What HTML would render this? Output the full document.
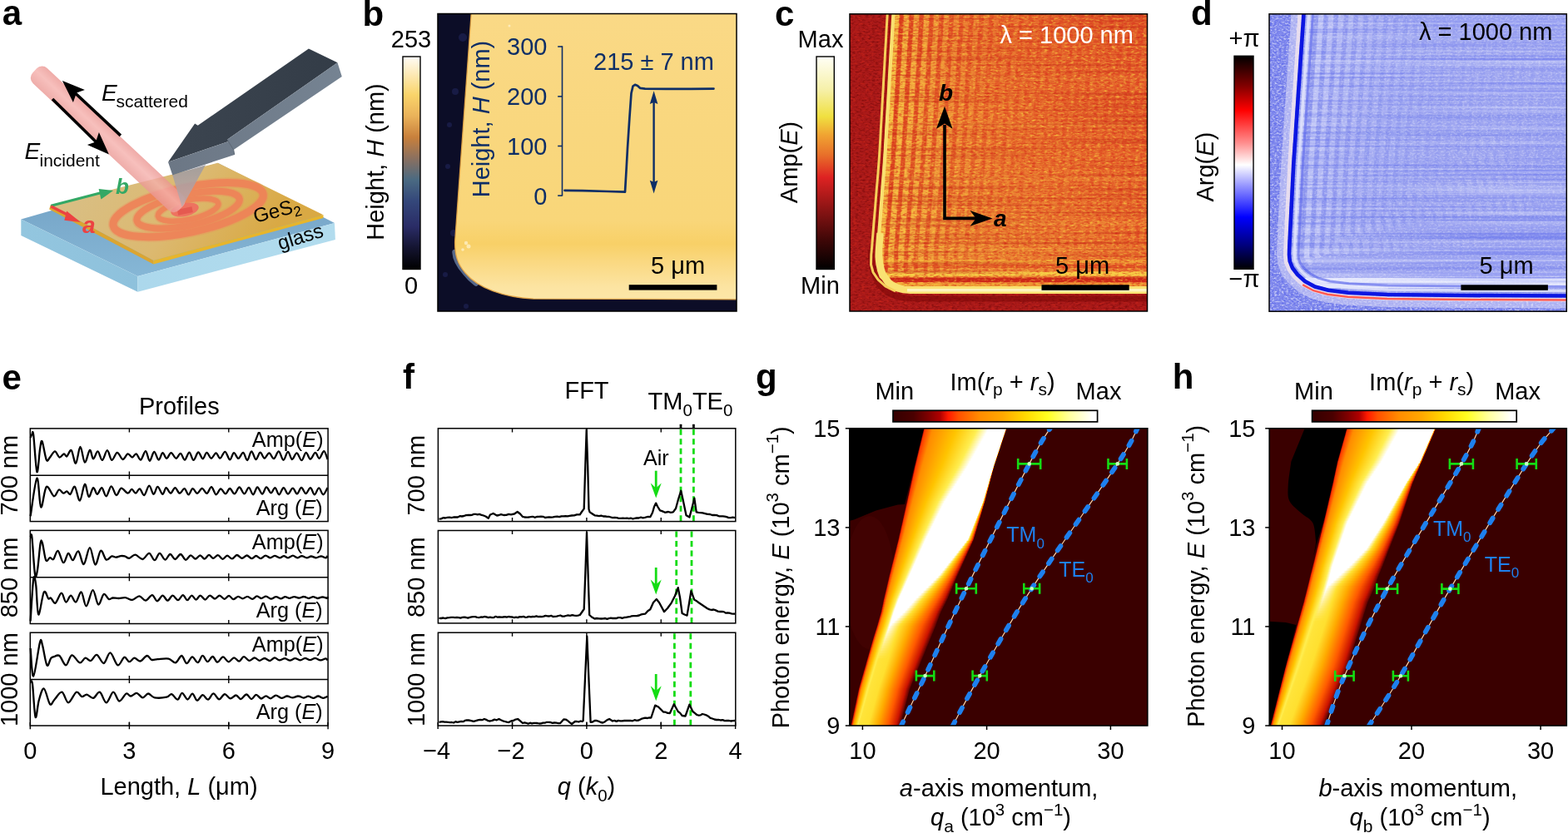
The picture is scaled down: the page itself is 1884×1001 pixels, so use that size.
<!DOCTYPE html>
<html><head><meta charset="utf-8"><title>Figure</title><style>
html,body{margin:0;padding:0;background:#fff;width:1884px;height:1001px;overflow:hidden}
svg{display:block}
text{font-family:"Liberation Sans", Arial, Helvetica, sans-serif}
</style></head><body>
<svg width="1884" height="1001" viewBox="0 0 1884 1001">
<defs>
<linearGradient id="glT" x1="0" y1="0" x2="0" y2="1"><stop offset="0" stop-color="#6e9cc0"/><stop offset="1" stop-color="#86b7d6"/></linearGradient>
<linearGradient id="glL" x1="0" y1="0" x2="1" y2="0"><stop offset="0" stop-color="#93c6df"/><stop offset="1" stop-color="#8ec1dc"/></linearGradient>
<linearGradient id="glR" x1="0" y1="0" x2="1" y2="0"><stop offset="0" stop-color="#acd8ec"/><stop offset="1" stop-color="#b2dcee"/></linearGradient>
<linearGradient id="film" gradientUnits="userSpaceOnUse" x1="120" y1="200" x2="300" y2="320"><stop offset="0" stop-color="#d9be82"/><stop offset="0.5" stop-color="#dcb970"/><stop offset="1" stop-color="#d9a944"/></linearGradient>
<linearGradient id="beam" x1="0" y1="0" x2="0" y2="1"><stop offset="0" stop-color="#eb9692"/><stop offset="0.45" stop-color="#f5b0ac"/><stop offset="1" stop-color="#ea9894"/></linearGradient>
<linearGradient id="cantTop" x1="0" y1="0" x2="1" y2="0"><stop offset="0" stop-color="#3c4550"/><stop offset="1" stop-color="#333c47"/></linearGradient>
<linearGradient id="cantSide" x1="0" y1="0" x2="1" y2="0"><stop offset="0" stop-color="#6c7785"/><stop offset="1" stop-color="#758392"/></linearGradient>
<linearGradient id="tipG" x1="0" y1="0" x2="0" y2="1"><stop offset="0" stop-color="#9a9aa2"/><stop offset="1" stop-color="#c0a8a8"/></linearGradient>
<linearGradient id="cbB" x1="0" y1="1" x2="0" y2="0"><stop offset="0" stop-color="#000000"/><stop offset="0.1" stop-color="#141430"/><stop offset="0.2" stop-color="#2a2c66"/><stop offset="0.32" stop-color="#34477a"/><stop offset="0.42" stop-color="#4a6a82"/><stop offset="0.52" stop-color="#8a7060"/><stop offset="0.62" stop-color="#c8803c"/><stop offset="0.72" stop-color="#eab25a"/><stop offset="0.82" stop-color="#fad46a"/><stop offset="0.92" stop-color="#fdeab8"/><stop offset="1" stop-color="#fffcf6"/></linearGradient>
<linearGradient id="bodyB" gradientUnits="userSpaceOnUse" x1="0" y1="17" x2="0" y2="362"><stop offset="0" stop-color="#fad986"/><stop offset="0.4" stop-color="#f9d77e"/><stop offset="0.72" stop-color="#f9d679"/><stop offset="0.8" stop-color="#f8d067"/><stop offset="0.86" stop-color="#fad880"/><stop offset="0.95" stop-color="#fce4a2"/><stop offset="1" stop-color="#fce7a8"/></linearGradient>
<clipPath id="clipB"><rect x="526" y="16.5" width="359" height="357.5"/></clipPath>
<linearGradient id="cbC" x1="0" y1="1" x2="0" y2="0"><stop offset="0" stop-color="#000000"/><stop offset="0.136" stop-color="#3e0707"/><stop offset="0.284" stop-color="#8c1414"/><stop offset="0.432" stop-color="#de2222"/><stop offset="0.538" stop-color="#e8702a"/><stop offset="0.632" stop-color="#f0a432"/><stop offset="0.718" stop-color="#f0e040"/><stop offset="0.843" stop-color="#f6f0a8"/><stop offset="1" stop-color="#fffff6"/></linearGradient>
<linearGradient id="bodyC" gradientUnits="userSpaceOnUse" x1="1379" y1="17" x2="1060" y2="345"><stop offset="0" stop-color="#e2542a"/><stop offset="0.45" stop-color="#e96c2e"/><stop offset="1" stop-color="#f09a3a"/></linearGradient>
<clipPath id="clipC"><rect x="1021" y="16.8" width="357.5" height="357.2"/></clipPath>
<clipPath id="clipCb"><path d="M1073.5,16.0 L1073.1,22.0 L1072.8,28.0 L1072.4,34.0 L1072.0,40.0 L1071.7,46.0 L1071.3,52.0 L1071.0,58.0 L1070.6,64.0 L1070.3,70.0 L1069.9,76.0 L1069.6,82.0 L1069.2,88.0 L1068.9,94.0 L1068.5,100.0 L1068.2,106.0 L1067.8,112.0 L1067.4,118.0 L1067.1,124.0 L1066.7,130.0 L1066.4,136.0 L1066.0,142.0 L1065.7,148.0 L1065.3,154.0 L1065.0,160.0 L1064.6,166.0 L1064.3,172.0 L1063.9,178.0 L1063.6,184.0 L1063.2,190.0 L1062.7,196.0 L1062.3,202.0 L1061.8,208.0 L1061.4,214.0 L1060.9,220.0 L1060.4,226.0 L1060.0,232.0 L1059.5,238.0 L1059.1,244.0 L1058.6,250.0 L1058.1,256.0 L1057.7,262.0 L1057.2,268.0 L1056.8,274.0 L1056.3,280.0 L1055.8,286.0 L1055.4,292.0 L1054.9,298.0 L1054.9,308.7 L1055.8,316.8 L1057.4,324.2 L1059.7,330.9 L1062.9,336.8 L1067.1,341.7 L1072.2,345.7 L1078.4,348.6 L1085.6,350.4 L1094.0,351.0 L1379.0,351.0 L1379.0,16.0 Z"/></clipPath>
<filter id="nzCy" x="0" y="0" width="100%" height="100%" color-interpolation-filters="sRGB"><feTurbulence type="fractalNoise" baseFrequency="0.22 0.45" numOctaves="2" seed="3" result="t"/><feColorMatrix in="t" type="matrix" values="0 0 0 0 0.97 0 0 0 0 0.8 0 0 0 0 0.25 2.6 0 0 0 -1.25"/></filter>
<filter id="nzCr" x="0" y="0" width="100%" height="100%" color-interpolation-filters="sRGB"><feTurbulence type="fractalNoise" baseFrequency="0.2 0.5" numOctaves="2" seed="11" result="t"/><feColorMatrix in="t" type="matrix" values="0 0 0 0 0.84 0 0 0 0 0.16 0 0 0 0 0.1 2.6 0 0 0 -1.2"/></filter>
<filter id="nzCh" x="0" y="0" width="100%" height="100%" color-interpolation-filters="sRGB"><feTurbulence type="fractalNoise" baseFrequency="0.004 0.35" numOctaves="1" seed="21" result="t"/><feColorMatrix in="t" type="matrix" values="0 0 0 0 0.75 0 0 0 0 0.12 0 0 0 0 0.08 3.0 0 0 0 -1.45"/></filter>
<filter id="nzCd" x="0" y="0" width="100%" height="100%" color-interpolation-filters="sRGB"><feTurbulence type="fractalNoise" baseFrequency="0.25 0.5" numOctaves="2" seed="31" result="t"/><feColorMatrix in="t" type="matrix" values="0 0 0 0 0.45 0 0 0 0 0.03 0 0 0 0 0.03 2.6 0 0 0 -1.2"/></filter>
<linearGradient id="cbD" x1="0" y1="1" x2="0" y2="0"><stop offset="0" stop-color="#000000"/><stop offset="0.115" stop-color="#000080"/><stop offset="0.244" stop-color="#0000ff"/><stop offset="0.386" stop-color="#9090ff"/><stop offset="0.489" stop-color="#ffffff"/><stop offset="0.59" stop-color="#ff9090"/><stop offset="0.745" stop-color="#ff0000"/><stop offset="0.861" stop-color="#800000"/><stop offset="1" stop-color="#000000"/></linearGradient>
<clipPath id="clipD"><rect x="1525" y="16.8" width="357.29999999999995" height="357.4"/></clipPath>
<clipPath id="clipDb"><path d="M1568.6,14.1 L1568.1,22.1 L1567.5,30.1 L1567.0,38.1 L1566.5,46.1 L1565.9,54.1 L1565.4,62.1 L1564.8,70.1 L1564.3,78.1 L1563.8,86.1 L1563.2,94.1 L1562.7,102.1 L1562.1,110.1 L1561.6,118.1 L1561.1,126.1 L1560.5,134.1 L1560.0,142.1 L1559.4,150.1 L1558.9,158.1 L1558.4,166.1 L1557.8,174.1 L1557.3,182.1 L1556.7,190.1 L1556.2,198.1 L1555.8,206.1 L1555.4,214.1 L1555.0,222.1 L1554.6,230.1 L1554.2,238.1 L1553.8,246.1 L1553.4,254.1 L1553.0,262.1 L1552.6,270.1 L1552.2,278.1 L1551.8,286.1 L1551.4,294.1 L1551.0,306.0 L1551.7,313.5 L1554.7,321.0 L1560.5,328.6 L1569.1,336.4 L1580.7,342.6 L1596.4,346.8 L1620.1,349.8 L1667.0,352.0 L1760.0,353.0 L1884.0,353.5 L1884.0,14.0 Z"/></clipPath>
<filter id="nzDw" x="0" y="0" width="100%" height="100%" color-interpolation-filters="sRGB"><feTurbulence type="fractalNoise" baseFrequency="0.35 0.5" numOctaves="2" seed="5" result="t"/><feColorMatrix in="t" type="matrix" values="0 0 0 0 1.0 0 0 0 0 1.0 0 0 0 0 1.0 2.6 0 0 0 -1.15"/></filter>
<filter id="nzDb" x="0" y="0" width="100%" height="100%" color-interpolation-filters="sRGB"><feTurbulence type="fractalNoise" baseFrequency="0.35 0.5" numOctaves="2" seed="17" result="t"/><feColorMatrix in="t" type="matrix" values="0 0 0 0 0.25 0 0 0 0 0.3 0 0 0 0 0.92 2.6 0 0 0 -1.2"/></filter>
<filter id="nzDh" x="0" y="0" width="100%" height="100%" color-interpolation-filters="sRGB"><feTurbulence type="fractalNoise" baseFrequency="0.003 0.4" numOctaves="1" seed="23" result="t"/><feColorMatrix in="t" type="matrix" values="0 0 0 0 0.38 0 0 0 0 0.43 0 0 0 0 0.93 3.0 0 0 0 -1.45"/></filter>
<filter id="nzDh2" x="0" y="0" width="100%" height="100%" color-interpolation-filters="sRGB"><feTurbulence type="fractalNoise" baseFrequency="0.003 0.4" numOctaves="1" seed="29" result="t"/><feColorMatrix in="t" type="matrix" values="0 0 0 0 0.92 0 0 0 0 0.93 0 0 0 0 1.0 3.0 0 0 0 -1.5"/></filter>
<clipPath id="clipg"><rect x="1020.8" y="514.8" width="358.0" height="357.20000000000005"/></clipPath>
<linearGradient id="cbg" x1="0" y1="0" x2="1" y2="0"><stop offset="0" stop-color="#340000"/><stop offset="0.1" stop-color="#4a0000"/><stop offset="0.175" stop-color="#800000"/><stop offset="0.23" stop-color="#b00000"/><stop offset="0.27" stop-color="#ff1a00"/><stop offset="0.32" stop-color="#ff5000"/><stop offset="0.425" stop-color="#ff8c00"/><stop offset="0.535" stop-color="#ffa800"/><stop offset="0.645" stop-color="#ffd800"/><stop offset="0.755" stop-color="#ffff20"/><stop offset="0.865" stop-color="#ffffa0"/><stop offset="0.975" stop-color="#ffffff"/></linearGradient>
<linearGradient id="bdg0" gradientUnits="userSpaceOnUse" x1="1109.9" y1="0" x2="1209.0" y2="0" gradientTransform="translate(0 516.3) skewX(-16.07) translate(0 -516.3)"><stop offset="0.000" stop-color="#a80000"/><stop offset="0.012" stop-color="#ff3a00"/><stop offset="0.106" stop-color="#ff8c00"/><stop offset="0.392" stop-color="#ffc400"/><stop offset="0.643" stop-color="#ffee50"/><stop offset="0.785" stop-color="#ffffff"/><stop offset="0.992" stop-color="#ffffff"/><stop offset="0.994" stop-color="#ffe030"/><stop offset="0.996" stop-color="#ffab00"/><stop offset="0.998" stop-color="#ff5a00"/><stop offset="0.999" stop-color="#cc1400"/><stop offset="1.000" stop-color="#5e0202"/></linearGradient>
<linearGradient id="bdg1" gradientUnits="userSpaceOnUse" x1="1109.2" y1="0" x2="1208.0" y2="0" gradientTransform="translate(0 519.3) skewX(-16.07) translate(0 -519.3)"><stop offset="0.000" stop-color="#a80000"/><stop offset="0.012" stop-color="#ff3a00"/><stop offset="0.105" stop-color="#ff8c00"/><stop offset="0.389" stop-color="#ffc400"/><stop offset="0.637" stop-color="#ffee50"/><stop offset="0.777" stop-color="#ffffff"/><stop offset="0.992" stop-color="#ffffff"/><stop offset="0.994" stop-color="#ffe030"/><stop offset="0.996" stop-color="#ffab00"/><stop offset="0.998" stop-color="#ff5a00"/><stop offset="0.999" stop-color="#cc1400"/><stop offset="1.000" stop-color="#5e0202"/></linearGradient>
<linearGradient id="bdg2" gradientUnits="userSpaceOnUse" x1="1108.5" y1="0" x2="1207.0" y2="0" gradientTransform="translate(0 522.3) skewX(-16.07) translate(0 -522.3)"><stop offset="0.000" stop-color="#a80000"/><stop offset="0.012" stop-color="#ff3a00"/><stop offset="0.105" stop-color="#ff8c00"/><stop offset="0.385" stop-color="#ffc400"/><stop offset="0.631" stop-color="#ffee50"/><stop offset="0.769" stop-color="#ffffff"/><stop offset="0.992" stop-color="#ffffff"/><stop offset="0.994" stop-color="#ffe030"/><stop offset="0.996" stop-color="#ffab00"/><stop offset="0.998" stop-color="#ff5a00"/><stop offset="0.999" stop-color="#cc1400"/><stop offset="1.000" stop-color="#5e0202"/></linearGradient>
<linearGradient id="bdg3" gradientUnits="userSpaceOnUse" x1="1107.7" y1="0" x2="1206.0" y2="0" gradientTransform="translate(0 525.3) skewX(-16.07) translate(0 -525.3)"><stop offset="0.000" stop-color="#a80000"/><stop offset="0.012" stop-color="#ff3a00"/><stop offset="0.104" stop-color="#ff8c00"/><stop offset="0.381" stop-color="#ffc400"/><stop offset="0.625" stop-color="#ffee50"/><stop offset="0.762" stop-color="#ffffff"/><stop offset="0.992" stop-color="#ffffff"/><stop offset="0.994" stop-color="#ffe030"/><stop offset="0.996" stop-color="#ffab00"/><stop offset="0.998" stop-color="#ff5a00"/><stop offset="0.999" stop-color="#cc1400"/><stop offset="1.000" stop-color="#5e0202"/></linearGradient>
<linearGradient id="bdg4" gradientUnits="userSpaceOnUse" x1="1107.0" y1="0" x2="1205.0" y2="0" gradientTransform="translate(0 528.3) skewX(-16.07) translate(0 -528.3)"><stop offset="0.000" stop-color="#a80000"/><stop offset="0.012" stop-color="#ff3a00"/><stop offset="0.103" stop-color="#ff8c00"/><stop offset="0.377" stop-color="#ffc400"/><stop offset="0.618" stop-color="#ffee50"/><stop offset="0.754" stop-color="#ffffff"/><stop offset="0.992" stop-color="#ffffff"/><stop offset="0.994" stop-color="#ffe030"/><stop offset="0.996" stop-color="#ffab00"/><stop offset="0.998" stop-color="#ff5a00"/><stop offset="0.999" stop-color="#cc1400"/><stop offset="1.000" stop-color="#5e0202"/></linearGradient>
<linearGradient id="bdg5" gradientUnits="userSpaceOnUse" x1="1106.3" y1="0" x2="1204.0" y2="0" gradientTransform="translate(0 531.3) skewX(-16.07) translate(0 -531.3)"><stop offset="0.000" stop-color="#a80000"/><stop offset="0.012" stop-color="#ff3a00"/><stop offset="0.102" stop-color="#ff8c00"/><stop offset="0.373" stop-color="#ffc400"/><stop offset="0.612" stop-color="#ffee50"/><stop offset="0.746" stop-color="#ffffff"/><stop offset="0.992" stop-color="#ffffff"/><stop offset="0.994" stop-color="#ffe030"/><stop offset="0.996" stop-color="#ffab00"/><stop offset="0.998" stop-color="#ff5a00"/><stop offset="0.999" stop-color="#cc1400"/><stop offset="1.000" stop-color="#5e0202"/></linearGradient>
<linearGradient id="bdg6" gradientUnits="userSpaceOnUse" x1="1105.6" y1="0" x2="1203.0" y2="0" gradientTransform="translate(0 534.3) skewX(-16.07) translate(0 -534.3)"><stop offset="0.000" stop-color="#a80000"/><stop offset="0.012" stop-color="#ff3a00"/><stop offset="0.101" stop-color="#ff8c00"/><stop offset="0.369" stop-color="#ffc400"/><stop offset="0.605" stop-color="#ffee50"/><stop offset="0.738" stop-color="#ffffff"/><stop offset="0.992" stop-color="#ffffff"/><stop offset="0.994" stop-color="#ffe030"/><stop offset="0.996" stop-color="#ffab00"/><stop offset="0.998" stop-color="#ff5a00"/><stop offset="0.999" stop-color="#cc1400"/><stop offset="1.000" stop-color="#5e0202"/></linearGradient>
<linearGradient id="bdg7" gradientUnits="userSpaceOnUse" x1="1104.8" y1="0" x2="1202.1" y2="0" gradientTransform="translate(0 537.3) skewX(-16.07) translate(0 -537.3)"><stop offset="0.000" stop-color="#a80000"/><stop offset="0.012" stop-color="#ff3a00"/><stop offset="0.100" stop-color="#ff8c00"/><stop offset="0.365" stop-color="#ffc400"/><stop offset="0.599" stop-color="#ffee50"/><stop offset="0.730" stop-color="#ffffff"/><stop offset="0.992" stop-color="#ffffff"/><stop offset="0.994" stop-color="#ffe030"/><stop offset="0.996" stop-color="#ffab00"/><stop offset="0.998" stop-color="#ff5a00"/><stop offset="0.999" stop-color="#cc1400"/><stop offset="1.000" stop-color="#5e0202"/></linearGradient>
<linearGradient id="bdg8" gradientUnits="userSpaceOnUse" x1="1104.1" y1="0" x2="1201.1" y2="0" gradientTransform="translate(0 540.3) skewX(-16.07) translate(0 -540.3)"><stop offset="0.000" stop-color="#a80000"/><stop offset="0.012" stop-color="#ff3a00"/><stop offset="0.099" stop-color="#ff8c00"/><stop offset="0.361" stop-color="#ffc400"/><stop offset="0.592" stop-color="#ffee50"/><stop offset="0.722" stop-color="#ffffff"/><stop offset="0.992" stop-color="#ffffff"/><stop offset="0.994" stop-color="#ffe030"/><stop offset="0.996" stop-color="#ffab00"/><stop offset="0.998" stop-color="#ff5a00"/><stop offset="0.999" stop-color="#cc1400"/><stop offset="1.000" stop-color="#5e0202"/></linearGradient>
<linearGradient id="bdg9" gradientUnits="userSpaceOnUse" x1="1103.4" y1="0" x2="1200.1" y2="0" gradientTransform="translate(0 543.3) skewX(-16.07) translate(0 -543.3)"><stop offset="0.000" stop-color="#a80000"/><stop offset="0.012" stop-color="#ff3a00"/><stop offset="0.098" stop-color="#ff8c00"/><stop offset="0.357" stop-color="#ffc400"/><stop offset="0.586" stop-color="#ffee50"/><stop offset="0.714" stop-color="#ffffff"/><stop offset="0.992" stop-color="#ffffff"/><stop offset="0.994" stop-color="#ffe030"/><stop offset="0.996" stop-color="#ffab00"/><stop offset="0.998" stop-color="#ff5a00"/><stop offset="0.999" stop-color="#cc1400"/><stop offset="1.000" stop-color="#5e0202"/></linearGradient>
<linearGradient id="bdg10" gradientUnits="userSpaceOnUse" x1="1102.6" y1="0" x2="1199.1" y2="0" gradientTransform="translate(0 546.3) skewX(-16.07) translate(0 -546.3)"><stop offset="0.000" stop-color="#a80000"/><stop offset="0.012" stop-color="#ff3a00"/><stop offset="0.097" stop-color="#ff8c00"/><stop offset="0.353" stop-color="#ffc400"/><stop offset="0.579" stop-color="#ffee50"/><stop offset="0.706" stop-color="#ffffff"/><stop offset="0.992" stop-color="#ffffff"/><stop offset="0.994" stop-color="#ffe030"/><stop offset="0.996" stop-color="#ffab00"/><stop offset="0.998" stop-color="#ff5a00"/><stop offset="0.999" stop-color="#cc1400"/><stop offset="1.000" stop-color="#5e0202"/></linearGradient>
<linearGradient id="bdg11" gradientUnits="userSpaceOnUse" x1="1101.9" y1="0" x2="1198.1" y2="0" gradientTransform="translate(0 549.3) skewX(-16.07) translate(0 -549.3)"><stop offset="0.000" stop-color="#a80000"/><stop offset="0.012" stop-color="#ff3a00"/><stop offset="0.096" stop-color="#ff8c00"/><stop offset="0.349" stop-color="#ffc400"/><stop offset="0.573" stop-color="#ffee50"/><stop offset="0.698" stop-color="#ffffff"/><stop offset="0.992" stop-color="#ffffff"/><stop offset="0.994" stop-color="#ffe030"/><stop offset="0.996" stop-color="#ffab00"/><stop offset="0.998" stop-color="#ff5a00"/><stop offset="0.999" stop-color="#cc1400"/><stop offset="1.000" stop-color="#5e0202"/></linearGradient>
<linearGradient id="bdg12" gradientUnits="userSpaceOnUse" x1="1101.2" y1="0" x2="1197.1" y2="0" gradientTransform="translate(0 552.3) skewX(-16.07) translate(0 -552.3)"><stop offset="0.000" stop-color="#a80000"/><stop offset="0.013" stop-color="#ff3a00"/><stop offset="0.095" stop-color="#ff8c00"/><stop offset="0.345" stop-color="#ffc400"/><stop offset="0.566" stop-color="#ffee50"/><stop offset="0.690" stop-color="#ffffff"/><stop offset="0.993" stop-color="#ffffff"/><stop offset="0.994" stop-color="#ffe030"/><stop offset="0.996" stop-color="#ffab00"/><stop offset="0.998" stop-color="#ff5a00"/><stop offset="0.999" stop-color="#cc1400"/><stop offset="1.000" stop-color="#5e0202"/></linearGradient>
<linearGradient id="bdg13" gradientUnits="userSpaceOnUse" x1="1100.4" y1="0" x2="1196.1" y2="0" gradientTransform="translate(0 555.3) skewX(-16.07) translate(0 -555.3)"><stop offset="0.000" stop-color="#a80000"/><stop offset="0.013" stop-color="#ff3a00"/><stop offset="0.094" stop-color="#ff8c00"/><stop offset="0.341" stop-color="#ffc400"/><stop offset="0.559" stop-color="#ffee50"/><stop offset="0.682" stop-color="#ffffff"/><stop offset="0.993" stop-color="#ffffff"/><stop offset="0.994" stop-color="#ffe030"/><stop offset="0.996" stop-color="#ffab00"/><stop offset="0.998" stop-color="#ff5a00"/><stop offset="0.999" stop-color="#cc1400"/><stop offset="1.000" stop-color="#5e0202"/></linearGradient>
<linearGradient id="bdg14" gradientUnits="userSpaceOnUse" x1="1099.7" y1="0" x2="1195.1" y2="0" gradientTransform="translate(0 558.3) skewX(-16.07) translate(0 -558.3)"><stop offset="0.000" stop-color="#a80000"/><stop offset="0.013" stop-color="#ff3a00"/><stop offset="0.093" stop-color="#ff8c00"/><stop offset="0.337" stop-color="#ffc400"/><stop offset="0.553" stop-color="#ffee50"/><stop offset="0.674" stop-color="#ffffff"/><stop offset="0.993" stop-color="#ffffff"/><stop offset="0.994" stop-color="#ffe030"/><stop offset="0.996" stop-color="#ffab00"/><stop offset="0.998" stop-color="#ff5a00"/><stop offset="0.999" stop-color="#cc1400"/><stop offset="1.000" stop-color="#5e0202"/></linearGradient>
<linearGradient id="bdg15" gradientUnits="userSpaceOnUse" x1="1099.0" y1="0" x2="1194.2" y2="0" gradientTransform="translate(0 561.3) skewX(-13.77) translate(0 -561.3)"><stop offset="0.000" stop-color="#a80000"/><stop offset="0.013" stop-color="#ff3a00"/><stop offset="0.092" stop-color="#ff8c00"/><stop offset="0.332" stop-color="#ffc400"/><stop offset="0.544" stop-color="#ffee50"/><stop offset="0.664" stop-color="#ffffff"/><stop offset="0.992" stop-color="#ffffff"/><stop offset="0.994" stop-color="#ffe030"/><stop offset="0.996" stop-color="#ffab00"/><stop offset="0.998" stop-color="#ff5a00"/><stop offset="0.999" stop-color="#cc1400"/><stop offset="1.000" stop-color="#5e0202"/></linearGradient>
<linearGradient id="bdg16" gradientUnits="userSpaceOnUse" x1="1098.3" y1="0" x2="1193.4" y2="0" gradientTransform="translate(0 564.3) skewX(-13.61) translate(0 -564.3)"><stop offset="0.000" stop-color="#a80000"/><stop offset="0.013" stop-color="#ff3a00"/><stop offset="0.091" stop-color="#ff8c00"/><stop offset="0.326" stop-color="#ffc400"/><stop offset="0.534" stop-color="#ffee50"/><stop offset="0.651" stop-color="#ffffff"/><stop offset="0.991" stop-color="#ffffff"/><stop offset="0.993" stop-color="#ffe030"/><stop offset="0.995" stop-color="#ffab00"/><stop offset="0.997" stop-color="#ff5a00"/><stop offset="0.999" stop-color="#cc1400"/><stop offset="1.000" stop-color="#5e0202"/></linearGradient>
<linearGradient id="bdg17" gradientUnits="userSpaceOnUse" x1="1097.7" y1="0" x2="1192.6" y2="0" gradientTransform="translate(0 567.3) skewX(-13.61) translate(0 -567.3)"><stop offset="0.000" stop-color="#a80000"/><stop offset="0.013" stop-color="#ff3a00"/><stop offset="0.089" stop-color="#ff8c00"/><stop offset="0.319" stop-color="#ffc400"/><stop offset="0.524" stop-color="#ffee50"/><stop offset="0.638" stop-color="#ffffff"/><stop offset="0.990" stop-color="#ffffff"/><stop offset="0.992" stop-color="#ffe030"/><stop offset="0.994" stop-color="#ffab00"/><stop offset="0.997" stop-color="#ff5a00"/><stop offset="0.999" stop-color="#cc1400"/><stop offset="1.000" stop-color="#5e0202"/></linearGradient>
<linearGradient id="bdg18" gradientUnits="userSpaceOnUse" x1="1097.0" y1="0" x2="1191.8" y2="0" gradientTransform="translate(0 570.3) skewX(-13.61) translate(0 -570.3)"><stop offset="0.000" stop-color="#a80000"/><stop offset="0.013" stop-color="#ff3a00"/><stop offset="0.088" stop-color="#ff8c00"/><stop offset="0.313" stop-color="#ffc400"/><stop offset="0.513" stop-color="#ffee50"/><stop offset="0.626" stop-color="#ffffff"/><stop offset="0.989" stop-color="#ffffff"/><stop offset="0.991" stop-color="#ffe030"/><stop offset="0.994" stop-color="#ffab00"/><stop offset="0.997" stop-color="#ff5a00"/><stop offset="0.999" stop-color="#cc1400"/><stop offset="1.000" stop-color="#5e0202"/></linearGradient>
<linearGradient id="bdg19" gradientUnits="userSpaceOnUse" x1="1096.3" y1="0" x2="1191.0" y2="0" gradientTransform="translate(0 573.3) skewX(-13.61) translate(0 -573.3)"><stop offset="0.000" stop-color="#a80000"/><stop offset="0.013" stop-color="#ff3a00"/><stop offset="0.086" stop-color="#ff8c00"/><stop offset="0.307" stop-color="#ffc400"/><stop offset="0.503" stop-color="#ffee50"/><stop offset="0.613" stop-color="#ffffff"/><stop offset="0.987" stop-color="#ffffff"/><stop offset="0.990" stop-color="#ffe030"/><stop offset="0.993" stop-color="#ffab00"/><stop offset="0.996" stop-color="#ff5a00"/><stop offset="0.999" stop-color="#cc1400"/><stop offset="1.000" stop-color="#5e0202"/></linearGradient>
<linearGradient id="bdg20" gradientUnits="userSpaceOnUse" x1="1095.7" y1="0" x2="1190.2" y2="0" gradientTransform="translate(0 576.3) skewX(-13.61) translate(0 -576.3)"><stop offset="0.000" stop-color="#a80000"/><stop offset="0.013" stop-color="#ff3a00"/><stop offset="0.085" stop-color="#ff8c00"/><stop offset="0.300" stop-color="#ffc400"/><stop offset="0.492" stop-color="#ffee50"/><stop offset="0.600" stop-color="#ffffff"/><stop offset="0.986" stop-color="#ffffff"/><stop offset="0.989" stop-color="#ffe030"/><stop offset="0.992" stop-color="#ffab00"/><stop offset="0.996" stop-color="#ff5a00"/><stop offset="0.999" stop-color="#cc1400"/><stop offset="1.000" stop-color="#5e0202"/></linearGradient>
<linearGradient id="bdg21" gradientUnits="userSpaceOnUse" x1="1095.0" y1="0" x2="1189.5" y2="0" gradientTransform="translate(0 579.3) skewX(-13.61) translate(0 -579.3)"><stop offset="0.000" stop-color="#a80000"/><stop offset="0.013" stop-color="#ff3a00"/><stop offset="0.083" stop-color="#ff8c00"/><stop offset="0.294" stop-color="#ffc400"/><stop offset="0.482" stop-color="#ffee50"/><stop offset="0.588" stop-color="#ffffff"/><stop offset="0.985" stop-color="#ffffff"/><stop offset="0.988" stop-color="#ffe030"/><stop offset="0.992" stop-color="#ffab00"/><stop offset="0.996" stop-color="#ff5a00"/><stop offset="0.999" stop-color="#cc1400"/><stop offset="1.000" stop-color="#5e0202"/></linearGradient>
<linearGradient id="bdg22" gradientUnits="userSpaceOnUse" x1="1094.3" y1="0" x2="1188.7" y2="0" gradientTransform="translate(0 582.3) skewX(-13.61) translate(0 -582.3)"><stop offset="0.000" stop-color="#a80000"/><stop offset="0.013" stop-color="#ff3a00"/><stop offset="0.082" stop-color="#ff8c00"/><stop offset="0.287" stop-color="#ffc400"/><stop offset="0.471" stop-color="#ffee50"/><stop offset="0.575" stop-color="#ffffff"/><stop offset="0.984" stop-color="#ffffff"/><stop offset="0.988" stop-color="#ffe030"/><stop offset="0.991" stop-color="#ffab00"/><stop offset="0.995" stop-color="#ff5a00"/><stop offset="0.998" stop-color="#cc1400"/><stop offset="1.000" stop-color="#5e0202"/></linearGradient>
<linearGradient id="bdg23" gradientUnits="userSpaceOnUse" x1="1093.7" y1="0" x2="1187.9" y2="0" gradientTransform="translate(0 585.3) skewX(-13.61) translate(0 -585.3)"><stop offset="0.000" stop-color="#a80000"/><stop offset="0.013" stop-color="#ff3a00"/><stop offset="0.080" stop-color="#ff8c00"/><stop offset="0.281" stop-color="#ffc400"/><stop offset="0.461" stop-color="#ffee50"/><stop offset="0.562" stop-color="#ffffff"/><stop offset="0.983" stop-color="#ffffff"/><stop offset="0.987" stop-color="#ffe030"/><stop offset="0.991" stop-color="#ffab00"/><stop offset="0.995" stop-color="#ff5a00"/><stop offset="0.998" stop-color="#cc1400"/><stop offset="1.000" stop-color="#5e0202"/></linearGradient>
<linearGradient id="bdg24" gradientUnits="userSpaceOnUse" x1="1093.0" y1="0" x2="1187.1" y2="0" gradientTransform="translate(0 588.3) skewX(-13.61) translate(0 -588.3)"><stop offset="0.000" stop-color="#a80000"/><stop offset="0.013" stop-color="#ff3a00"/><stop offset="0.079" stop-color="#ff8c00"/><stop offset="0.275" stop-color="#ffc400"/><stop offset="0.450" stop-color="#ffee50"/><stop offset="0.549" stop-color="#ffffff"/><stop offset="0.982" stop-color="#ffffff"/><stop offset="0.986" stop-color="#ffe030"/><stop offset="0.990" stop-color="#ffab00"/><stop offset="0.994" stop-color="#ff5a00"/><stop offset="0.998" stop-color="#cc1400"/><stop offset="1.000" stop-color="#5e0202"/></linearGradient>
<linearGradient id="bdg25" gradientUnits="userSpaceOnUse" x1="1092.3" y1="0" x2="1186.3" y2="0" gradientTransform="translate(0 591.3) skewX(-13.61) translate(0 -591.3)"><stop offset="0.000" stop-color="#a80000"/><stop offset="0.013" stop-color="#ff3a00"/><stop offset="0.077" stop-color="#ff8c00"/><stop offset="0.268" stop-color="#ffc400"/><stop offset="0.440" stop-color="#ffee50"/><stop offset="0.536" stop-color="#ffffff"/><stop offset="0.980" stop-color="#ffffff"/><stop offset="0.985" stop-color="#ffe030"/><stop offset="0.989" stop-color="#ffab00"/><stop offset="0.994" stop-color="#ff5a00"/><stop offset="0.998" stop-color="#cc1400"/><stop offset="1.000" stop-color="#5e0202"/></linearGradient>
<linearGradient id="bdg26" gradientUnits="userSpaceOnUse" x1="1091.7" y1="0" x2="1185.5" y2="0" gradientTransform="translate(0 594.3) skewX(-13.61) translate(0 -594.3)"><stop offset="0.000" stop-color="#a80000"/><stop offset="0.013" stop-color="#ff3a00"/><stop offset="0.076" stop-color="#ff8c00"/><stop offset="0.262" stop-color="#ffc400"/><stop offset="0.429" stop-color="#ffee50"/><stop offset="0.523" stop-color="#ffffff"/><stop offset="0.979" stop-color="#ffffff"/><stop offset="0.984" stop-color="#ffe030"/><stop offset="0.989" stop-color="#ffab00"/><stop offset="0.994" stop-color="#ff5a00"/><stop offset="0.998" stop-color="#cc1400"/><stop offset="1.000" stop-color="#5e0202"/></linearGradient>
<linearGradient id="bdg27" gradientUnits="userSpaceOnUse" x1="1091.0" y1="0" x2="1184.8" y2="0" gradientTransform="translate(0 597.3) skewX(-13.61) translate(0 -597.3)"><stop offset="0.000" stop-color="#a80000"/><stop offset="0.013" stop-color="#ff3a00"/><stop offset="0.074" stop-color="#ff8c00"/><stop offset="0.255" stop-color="#ffc400"/><stop offset="0.418" stop-color="#ffee50"/><stop offset="0.510" stop-color="#ffffff"/><stop offset="0.978" stop-color="#ffffff"/><stop offset="0.983" stop-color="#ffe030"/><stop offset="0.988" stop-color="#ffab00"/><stop offset="0.993" stop-color="#ff5a00"/><stop offset="0.998" stop-color="#cc1400"/><stop offset="1.000" stop-color="#5e0202"/></linearGradient>
<linearGradient id="bdg28" gradientUnits="userSpaceOnUse" x1="1090.3" y1="0" x2="1184.0" y2="0" gradientTransform="translate(0 600.3) skewX(-13.61) translate(0 -600.3)"><stop offset="0.000" stop-color="#a80000"/><stop offset="0.013" stop-color="#ff3a00"/><stop offset="0.072" stop-color="#ff8c00"/><stop offset="0.249" stop-color="#ffc400"/><stop offset="0.408" stop-color="#ffee50"/><stop offset="0.497" stop-color="#ffffff"/><stop offset="0.977" stop-color="#ffffff"/><stop offset="0.982" stop-color="#ffe030"/><stop offset="0.987" stop-color="#ffab00"/><stop offset="0.993" stop-color="#ff5a00"/><stop offset="0.998" stop-color="#cc1400"/><stop offset="1.000" stop-color="#5e0202"/></linearGradient>
<linearGradient id="bdg29" gradientUnits="userSpaceOnUse" x1="1089.7" y1="0" x2="1183.2" y2="0" gradientTransform="translate(0 603.3) skewX(-13.87) translate(0 -603.3)"><stop offset="0.000" stop-color="#a80000"/><stop offset="0.013" stop-color="#ff3a00"/><stop offset="0.071" stop-color="#ff8c00"/><stop offset="0.242" stop-color="#ffc400"/><stop offset="0.397" stop-color="#ffee50"/><stop offset="0.484" stop-color="#ffffff"/><stop offset="0.976" stop-color="#ffffff"/><stop offset="0.981" stop-color="#ffe030"/><stop offset="0.987" stop-color="#ffab00"/><stop offset="0.993" stop-color="#ff5a00"/><stop offset="0.998" stop-color="#cc1400"/><stop offset="1.000" stop-color="#5e0202"/></linearGradient>
<linearGradient id="bdg30" gradientUnits="userSpaceOnUse" x1="1089.0" y1="0" x2="1182.3" y2="0" gradientTransform="translate(0 606.3) skewX(-14.59) translate(0 -606.3)"><stop offset="0.000" stop-color="#a80000"/><stop offset="0.013" stop-color="#ff3a00"/><stop offset="0.070" stop-color="#ff8c00"/><stop offset="0.238" stop-color="#ffc400"/><stop offset="0.390" stop-color="#ffee50"/><stop offset="0.475" stop-color="#ffffff"/><stop offset="0.973" stop-color="#ffffff"/><stop offset="0.979" stop-color="#ffe030"/><stop offset="0.985" stop-color="#ffab00"/><stop offset="0.992" stop-color="#ff5a00"/><stop offset="0.997" stop-color="#cc1400"/><stop offset="1.000" stop-color="#5e0202"/></linearGradient>
<linearGradient id="bdg31" gradientUnits="userSpaceOnUse" x1="1088.3" y1="0" x2="1181.4" y2="0" gradientTransform="translate(0 609.3) skewX(-14.59) translate(0 -609.3)"><stop offset="0.000" stop-color="#a80000"/><stop offset="0.013" stop-color="#ff3a00"/><stop offset="0.069" stop-color="#ff8c00"/><stop offset="0.234" stop-color="#ffc400"/><stop offset="0.383" stop-color="#ffee50"/><stop offset="0.468" stop-color="#ffffff"/><stop offset="0.969" stop-color="#ffffff"/><stop offset="0.976" stop-color="#ffe030"/><stop offset="0.983" stop-color="#ffab00"/><stop offset="0.991" stop-color="#ff5a00"/><stop offset="0.997" stop-color="#cc1400"/><stop offset="1.000" stop-color="#5e0202"/></linearGradient>
<linearGradient id="bdg32" gradientUnits="userSpaceOnUse" x1="1087.6" y1="0" x2="1180.5" y2="0" gradientTransform="translate(0 612.3) skewX(-14.59) translate(0 -612.3)"><stop offset="0.000" stop-color="#a80000"/><stop offset="0.013" stop-color="#ff3a00"/><stop offset="0.068" stop-color="#ff8c00"/><stop offset="0.230" stop-color="#ffc400"/><stop offset="0.377" stop-color="#ffee50"/><stop offset="0.460" stop-color="#ffffff"/><stop offset="0.966" stop-color="#ffffff"/><stop offset="0.973" stop-color="#ffe030"/><stop offset="0.981" stop-color="#ffab00"/><stop offset="0.990" stop-color="#ff5a00"/><stop offset="0.997" stop-color="#cc1400"/><stop offset="1.000" stop-color="#5e0202"/></linearGradient>
<linearGradient id="bdg33" gradientUnits="userSpaceOnUse" x1="1087.0" y1="0" x2="1179.7" y2="0" gradientTransform="translate(0 615.3) skewX(-14.59) translate(0 -615.3)"><stop offset="0.000" stop-color="#a80000"/><stop offset="0.013" stop-color="#ff3a00"/><stop offset="0.067" stop-color="#ff8c00"/><stop offset="0.226" stop-color="#ffc400"/><stop offset="0.371" stop-color="#ffee50"/><stop offset="0.452" stop-color="#ffffff"/><stop offset="0.962" stop-color="#ffffff"/><stop offset="0.970" stop-color="#ffe030"/><stop offset="0.979" stop-color="#ffab00"/><stop offset="0.989" stop-color="#ff5a00"/><stop offset="0.996" stop-color="#cc1400"/><stop offset="1.000" stop-color="#5e0202"/></linearGradient>
<linearGradient id="bdg34" gradientUnits="userSpaceOnUse" x1="1086.3" y1="0" x2="1178.8" y2="0" gradientTransform="translate(0 618.3) skewX(-14.59) translate(0 -618.3)"><stop offset="0.000" stop-color="#a80000"/><stop offset="0.013" stop-color="#ff3a00"/><stop offset="0.066" stop-color="#ff8c00"/><stop offset="0.222" stop-color="#ffc400"/><stop offset="0.364" stop-color="#ffee50"/><stop offset="0.444" stop-color="#ffffff"/><stop offset="0.959" stop-color="#ffffff"/><stop offset="0.968" stop-color="#ffe030"/><stop offset="0.977" stop-color="#ffab00"/><stop offset="0.988" stop-color="#ff5a00"/><stop offset="0.996" stop-color="#cc1400"/><stop offset="1.000" stop-color="#5e0202"/></linearGradient>
<linearGradient id="bdg35" gradientUnits="userSpaceOnUse" x1="1085.6" y1="0" x2="1177.9" y2="0" gradientTransform="translate(0 621.3) skewX(-14.59) translate(0 -621.3)"><stop offset="0.000" stop-color="#a80000"/><stop offset="0.013" stop-color="#ff3a00"/><stop offset="0.065" stop-color="#ff8c00"/><stop offset="0.218" stop-color="#ffc400"/><stop offset="0.358" stop-color="#ffee50"/><stop offset="0.436" stop-color="#ffffff"/><stop offset="0.955" stop-color="#ffffff"/><stop offset="0.965" stop-color="#ffe030"/><stop offset="0.975" stop-color="#ffab00"/><stop offset="0.987" stop-color="#ff5a00"/><stop offset="0.996" stop-color="#cc1400"/><stop offset="1.000" stop-color="#5e0202"/></linearGradient>
<linearGradient id="bdg36" gradientUnits="userSpaceOnUse" x1="1084.9" y1="0" x2="1177.0" y2="0" gradientTransform="translate(0 624.3) skewX(-14.59) translate(0 -624.3)"><stop offset="0.000" stop-color="#a80000"/><stop offset="0.013" stop-color="#ff3a00"/><stop offset="0.064" stop-color="#ff8c00"/><stop offset="0.214" stop-color="#ffc400"/><stop offset="0.351" stop-color="#ffee50"/><stop offset="0.428" stop-color="#ffffff"/><stop offset="0.951" stop-color="#ffffff"/><stop offset="0.962" stop-color="#ffe030"/><stop offset="0.973" stop-color="#ffab00"/><stop offset="0.985" stop-color="#ff5a00"/><stop offset="0.995" stop-color="#cc1400"/><stop offset="1.000" stop-color="#5e0202"/></linearGradient>
<linearGradient id="bdg37" gradientUnits="userSpaceOnUse" x1="1084.3" y1="0" x2="1176.1" y2="0" gradientTransform="translate(0 627.3) skewX(-14.59) translate(0 -627.3)"><stop offset="0.000" stop-color="#a80000"/><stop offset="0.013" stop-color="#ff3a00"/><stop offset="0.063" stop-color="#ff8c00"/><stop offset="0.210" stop-color="#ffc400"/><stop offset="0.345" stop-color="#ffee50"/><stop offset="0.420" stop-color="#ffffff"/><stop offset="0.948" stop-color="#ffffff"/><stop offset="0.959" stop-color="#ffe030"/><stop offset="0.971" stop-color="#ffab00"/><stop offset="0.984" stop-color="#ff5a00"/><stop offset="0.995" stop-color="#cc1400"/><stop offset="1.000" stop-color="#5e0202"/></linearGradient>
<linearGradient id="bdg38" gradientUnits="userSpaceOnUse" x1="1083.6" y1="0" x2="1175.2" y2="0" gradientTransform="translate(0 630.3) skewX(-14.59) translate(0 -630.3)"><stop offset="0.000" stop-color="#a80000"/><stop offset="0.013" stop-color="#ff3a00"/><stop offset="0.063" stop-color="#ff8c00"/><stop offset="0.206" stop-color="#ffc400"/><stop offset="0.338" stop-color="#ffee50"/><stop offset="0.412" stop-color="#ffffff"/><stop offset="0.944" stop-color="#ffffff"/><stop offset="0.957" stop-color="#ffe030"/><stop offset="0.969" stop-color="#ffab00"/><stop offset="0.983" stop-color="#ff5a00"/><stop offset="0.994" stop-color="#cc1400"/><stop offset="1.000" stop-color="#5e0202"/></linearGradient>
<linearGradient id="bdg39" gradientUnits="userSpaceOnUse" x1="1082.9" y1="0" x2="1174.3" y2="0" gradientTransform="translate(0 633.3) skewX(-14.59) translate(0 -633.3)"><stop offset="0.000" stop-color="#a80000"/><stop offset="0.013" stop-color="#ff3a00"/><stop offset="0.062" stop-color="#ff8c00"/><stop offset="0.202" stop-color="#ffc400"/><stop offset="0.331" stop-color="#ffee50"/><stop offset="0.404" stop-color="#ffffff"/><stop offset="0.941" stop-color="#ffffff"/><stop offset="0.954" stop-color="#ffe030"/><stop offset="0.967" stop-color="#ffab00"/><stop offset="0.982" stop-color="#ff5a00"/><stop offset="0.994" stop-color="#cc1400"/><stop offset="1.000" stop-color="#5e0202"/></linearGradient>
<linearGradient id="bdg40" gradientUnits="userSpaceOnUse" x1="1082.2" y1="0" x2="1173.5" y2="0" gradientTransform="translate(0 636.3) skewX(-14.59) translate(0 -636.3)"><stop offset="0.000" stop-color="#a80000"/><stop offset="0.013" stop-color="#ff3a00"/><stop offset="0.061" stop-color="#ff8c00"/><stop offset="0.198" stop-color="#ffc400"/><stop offset="0.325" stop-color="#ffee50"/><stop offset="0.396" stop-color="#ffffff"/><stop offset="0.937" stop-color="#ffffff"/><stop offset="0.951" stop-color="#ffe030"/><stop offset="0.965" stop-color="#ffab00"/><stop offset="0.981" stop-color="#ff5a00"/><stop offset="0.994" stop-color="#cc1400"/><stop offset="1.000" stop-color="#5e0202"/></linearGradient>
<linearGradient id="bdg41" gradientUnits="userSpaceOnUse" x1="1081.6" y1="0" x2="1172.6" y2="0" gradientTransform="translate(0 639.3) skewX(-14.59) translate(0 -639.3)"><stop offset="0.000" stop-color="#a80000"/><stop offset="0.013" stop-color="#ff3a00"/><stop offset="0.060" stop-color="#ff8c00"/><stop offset="0.194" stop-color="#ffc400"/><stop offset="0.318" stop-color="#ffee50"/><stop offset="0.388" stop-color="#ffffff"/><stop offset="0.933" stop-color="#ffffff"/><stop offset="0.948" stop-color="#ffe030"/><stop offset="0.963" stop-color="#ffab00"/><stop offset="0.980" stop-color="#ff5a00"/><stop offset="0.993" stop-color="#cc1400"/><stop offset="1.000" stop-color="#5e0202"/></linearGradient>
<linearGradient id="bdg42" gradientUnits="userSpaceOnUse" x1="1080.9" y1="0" x2="1171.7" y2="0" gradientTransform="translate(0 642.3) skewX(-14.59) translate(0 -642.3)"><stop offset="0.000" stop-color="#a80000"/><stop offset="0.013" stop-color="#ff3a00"/><stop offset="0.059" stop-color="#ff8c00"/><stop offset="0.190" stop-color="#ffc400"/><stop offset="0.311" stop-color="#ffee50"/><stop offset="0.380" stop-color="#ffffff"/><stop offset="0.930" stop-color="#ffffff"/><stop offset="0.945" stop-color="#ffe030"/><stop offset="0.961" stop-color="#ffab00"/><stop offset="0.979" stop-color="#ff5a00"/><stop offset="0.993" stop-color="#cc1400"/><stop offset="1.000" stop-color="#5e0202"/></linearGradient>
<linearGradient id="bdg43" gradientUnits="userSpaceOnUse" x1="1080.2" y1="0" x2="1170.8" y2="0" gradientTransform="translate(0 645.3) skewX(-14.59) translate(0 -645.3)"><stop offset="0.000" stop-color="#a80000"/><stop offset="0.013" stop-color="#ff3a00"/><stop offset="0.058" stop-color="#ff8c00"/><stop offset="0.186" stop-color="#ffc400"/><stop offset="0.305" stop-color="#ffee50"/><stop offset="0.371" stop-color="#ffffff"/><stop offset="0.926" stop-color="#ffffff"/><stop offset="0.942" stop-color="#ffe030"/><stop offset="0.959" stop-color="#ffab00"/><stop offset="0.978" stop-color="#ff5a00"/><stop offset="0.993" stop-color="#cc1400"/><stop offset="1.000" stop-color="#5e0202"/></linearGradient>
<linearGradient id="bdg44" gradientUnits="userSpaceOnUse" x1="1079.5" y1="0" x2="1169.9" y2="0" gradientTransform="translate(0 648.3) skewX(-17.51) translate(0 -648.3)"><stop offset="0.000" stop-color="#a80000"/><stop offset="0.013" stop-color="#ff3a00"/><stop offset="0.057" stop-color="#ff8c00"/><stop offset="0.182" stop-color="#ffc400"/><stop offset="0.298" stop-color="#ffee50"/><stop offset="0.364" stop-color="#ffffff"/><stop offset="0.921" stop-color="#ffffff"/><stop offset="0.939" stop-color="#ffe030"/><stop offset="0.957" stop-color="#ffab00"/><stop offset="0.976" stop-color="#ff5a00"/><stop offset="0.992" stop-color="#cc1400"/><stop offset="1.000" stop-color="#5e0202"/></linearGradient>
<linearGradient id="bdg45" gradientUnits="userSpaceOnUse" x1="1078.8" y1="0" x2="1168.5" y2="0" gradientTransform="translate(0 651.3) skewX(-19.41) translate(0 -651.3)"><stop offset="0.000" stop-color="#a80000"/><stop offset="0.013" stop-color="#ff3a00"/><stop offset="0.056" stop-color="#ff8c00"/><stop offset="0.180" stop-color="#ffc400"/><stop offset="0.295" stop-color="#ffee50"/><stop offset="0.359" stop-color="#ffffff"/><stop offset="0.909" stop-color="#ffffff"/><stop offset="0.929" stop-color="#ffe030"/><stop offset="0.950" stop-color="#ffab00"/><stop offset="0.973" stop-color="#ff5a00"/><stop offset="0.991" stop-color="#cc1400"/><stop offset="1.000" stop-color="#5e0202"/></linearGradient>
<linearGradient id="bdg46" gradientUnits="userSpaceOnUse" x1="1078.0" y1="0" x2="1167.1" y2="0" gradientTransform="translate(0 654.3) skewX(-19.41) translate(0 -654.3)"><stop offset="0.000" stop-color="#a80000"/><stop offset="0.013" stop-color="#ff3a00"/><stop offset="0.056" stop-color="#ff8c00"/><stop offset="0.178" stop-color="#ffc400"/><stop offset="0.291" stop-color="#ffee50"/><stop offset="0.355" stop-color="#ffffff"/><stop offset="0.897" stop-color="#ffffff"/><stop offset="0.920" stop-color="#ffe030"/><stop offset="0.943" stop-color="#ffab00"/><stop offset="0.969" stop-color="#ff5a00"/><stop offset="0.990" stop-color="#cc1400"/><stop offset="1.000" stop-color="#5e0202"/></linearGradient>
<linearGradient id="bdg47" gradientUnits="userSpaceOnUse" x1="1077.3" y1="0" x2="1165.8" y2="0" gradientTransform="translate(0 657.3) skewX(-19.41) translate(0 -657.3)"><stop offset="0.000" stop-color="#a80000"/><stop offset="0.014" stop-color="#ff3a00"/><stop offset="0.056" stop-color="#ff8c00"/><stop offset="0.175" stop-color="#ffc400"/><stop offset="0.288" stop-color="#ffee50"/><stop offset="0.351" stop-color="#ffffff"/><stop offset="0.885" stop-color="#ffffff"/><stop offset="0.910" stop-color="#ffe030"/><stop offset="0.937" stop-color="#ffab00"/><stop offset="0.965" stop-color="#ff5a00"/><stop offset="0.988" stop-color="#cc1400"/><stop offset="1.000" stop-color="#5e0202"/></linearGradient>
<linearGradient id="bdg48" gradientUnits="userSpaceOnUse" x1="1076.5" y1="0" x2="1164.4" y2="0" gradientTransform="translate(0 660.3) skewX(-19.41) translate(0 -660.3)"><stop offset="0.000" stop-color="#a80000"/><stop offset="0.014" stop-color="#ff3a00"/><stop offset="0.055" stop-color="#ff8c00"/><stop offset="0.173" stop-color="#ffc400"/><stop offset="0.284" stop-color="#ffee50"/><stop offset="0.346" stop-color="#ffffff"/><stop offset="0.872" stop-color="#ffffff"/><stop offset="0.900" stop-color="#ffe030"/><stop offset="0.930" stop-color="#ffab00"/><stop offset="0.962" stop-color="#ff5a00"/><stop offset="0.987" stop-color="#cc1400"/><stop offset="1.000" stop-color="#5e0202"/></linearGradient>
<linearGradient id="bdg49" gradientUnits="userSpaceOnUse" x1="1075.8" y1="0" x2="1163.0" y2="0" gradientTransform="translate(0 663.3) skewX(-19.41) translate(0 -663.3)"><stop offset="0.000" stop-color="#a80000"/><stop offset="0.014" stop-color="#ff3a00"/><stop offset="0.055" stop-color="#ff8c00"/><stop offset="0.171" stop-color="#ffc400"/><stop offset="0.280" stop-color="#ffee50"/><stop offset="0.342" stop-color="#ffffff"/><stop offset="0.860" stop-color="#ffffff"/><stop offset="0.891" stop-color="#ffe030"/><stop offset="0.923" stop-color="#ffab00"/><stop offset="0.958" stop-color="#ff5a00"/><stop offset="0.986" stop-color="#cc1400"/><stop offset="1.000" stop-color="#5e0202"/></linearGradient>
<linearGradient id="bdg50" gradientUnits="userSpaceOnUse" x1="1075.0" y1="0" x2="1161.7" y2="0" gradientTransform="translate(0 666.3) skewX(-19.41) translate(0 -666.3)"><stop offset="0.000" stop-color="#a80000"/><stop offset="0.014" stop-color="#ff3a00"/><stop offset="0.054" stop-color="#ff8c00"/><stop offset="0.169" stop-color="#ffc400"/><stop offset="0.277" stop-color="#ffee50"/><stop offset="0.337" stop-color="#ffffff"/><stop offset="0.847" stop-color="#ffffff"/><stop offset="0.880" stop-color="#ffe030"/><stop offset="0.916" stop-color="#ffab00"/><stop offset="0.954" stop-color="#ff5a00"/><stop offset="0.985" stop-color="#cc1400"/><stop offset="1.000" stop-color="#5e0202"/></linearGradient>
<linearGradient id="bdg51" gradientUnits="userSpaceOnUse" x1="1074.3" y1="0" x2="1160.3" y2="0" gradientTransform="translate(0 669.3) skewX(-19.41) translate(0 -669.3)"><stop offset="0.000" stop-color="#a80000"/><stop offset="0.014" stop-color="#ff3a00"/><stop offset="0.054" stop-color="#ff8c00"/><stop offset="0.166" stop-color="#ffc400"/><stop offset="0.273" stop-color="#ffee50"/><stop offset="0.333" stop-color="#ffffff"/><stop offset="0.834" stop-color="#ffffff"/><stop offset="0.870" stop-color="#ffe030"/><stop offset="0.909" stop-color="#ffab00"/><stop offset="0.950" stop-color="#ff5a00"/><stop offset="0.983" stop-color="#cc1400"/><stop offset="1.000" stop-color="#5e0202"/></linearGradient>
<linearGradient id="bdg52" gradientUnits="userSpaceOnUse" x1="1073.5" y1="0" x2="1159.0" y2="0" gradientTransform="translate(0 672.3) skewX(-19.41) translate(0 -672.3)"><stop offset="0.000" stop-color="#a80000"/><stop offset="0.014" stop-color="#ff3a00"/><stop offset="0.053" stop-color="#ff8c00"/><stop offset="0.164" stop-color="#ffc400"/><stop offset="0.269" stop-color="#ffee50"/><stop offset="0.328" stop-color="#ffffff"/><stop offset="0.820" stop-color="#ffffff"/><stop offset="0.860" stop-color="#ffe030"/><stop offset="0.901" stop-color="#ffab00"/><stop offset="0.946" stop-color="#ff5a00"/><stop offset="0.982" stop-color="#cc1400"/><stop offset="1.000" stop-color="#5e0202"/></linearGradient>
<linearGradient id="bdg53" gradientUnits="userSpaceOnUse" x1="1072.8" y1="0" x2="1157.6" y2="0" gradientTransform="translate(0 675.3) skewX(-19.41) translate(0 -675.3)"><stop offset="0.000" stop-color="#a80000"/><stop offset="0.014" stop-color="#ff3a00"/><stop offset="0.053" stop-color="#ff8c00"/><stop offset="0.162" stop-color="#ffc400"/><stop offset="0.265" stop-color="#ffee50"/><stop offset="0.324" stop-color="#ffffff"/><stop offset="0.807" stop-color="#ffffff"/><stop offset="0.849" stop-color="#ffe030"/><stop offset="0.894" stop-color="#ffab00"/><stop offset="0.942" stop-color="#ff5a00"/><stop offset="0.981" stop-color="#cc1400"/><stop offset="1.000" stop-color="#5e0202"/></linearGradient>
<linearGradient id="bdg54" gradientUnits="userSpaceOnUse" x1="1072.0" y1="0" x2="1156.2" y2="0" gradientTransform="translate(0 678.3) skewX(-19.41) translate(0 -678.3)"><stop offset="0.000" stop-color="#a80000"/><stop offset="0.014" stop-color="#ff3a00"/><stop offset="0.053" stop-color="#ff8c00"/><stop offset="0.159" stop-color="#ffc400"/><stop offset="0.261" stop-color="#ffee50"/><stop offset="0.319" stop-color="#ffffff"/><stop offset="0.793" stop-color="#ffffff"/><stop offset="0.839" stop-color="#ffe030"/><stop offset="0.886" stop-color="#ffab00"/><stop offset="0.938" stop-color="#ff5a00"/><stop offset="0.979" stop-color="#cc1400"/><stop offset="1.000" stop-color="#5e0202"/></linearGradient>
<linearGradient id="bdg55" gradientUnits="userSpaceOnUse" x1="1071.3" y1="0" x2="1154.9" y2="0" gradientTransform="translate(0 681.3) skewX(-19.41) translate(0 -681.3)"><stop offset="0.000" stop-color="#a80000"/><stop offset="0.014" stop-color="#ff3a00"/><stop offset="0.052" stop-color="#ff8c00"/><stop offset="0.157" stop-color="#ffc400"/><stop offset="0.257" stop-color="#ffee50"/><stop offset="0.314" stop-color="#ffffff"/><stop offset="0.780" stop-color="#ffffff"/><stop offset="0.828" stop-color="#ffe030"/><stop offset="0.879" stop-color="#ffab00"/><stop offset="0.934" stop-color="#ff5a00"/><stop offset="0.978" stop-color="#cc1400"/><stop offset="1.000" stop-color="#5e0202"/></linearGradient>
<linearGradient id="bdg56" gradientUnits="userSpaceOnUse" x1="1070.5" y1="0" x2="1153.5" y2="0" gradientTransform="translate(0 684.3) skewX(-19.41) translate(0 -684.3)"><stop offset="0.000" stop-color="#a80000"/><stop offset="0.014" stop-color="#ff3a00"/><stop offset="0.052" stop-color="#ff8c00"/><stop offset="0.155" stop-color="#ffc400"/><stop offset="0.253" stop-color="#ffee50"/><stop offset="0.309" stop-color="#ffffff"/><stop offset="0.766" stop-color="#ffffff"/><stop offset="0.817" stop-color="#ffe030"/><stop offset="0.871" stop-color="#ffab00"/><stop offset="0.930" stop-color="#ff5a00"/><stop offset="0.977" stop-color="#cc1400"/><stop offset="1.000" stop-color="#5e0202"/></linearGradient>
<linearGradient id="bdg57" gradientUnits="userSpaceOnUse" x1="1069.8" y1="0" x2="1152.1" y2="0" gradientTransform="translate(0 687.3) skewX(-19.41) translate(0 -687.3)"><stop offset="0.000" stop-color="#a80000"/><stop offset="0.015" stop-color="#ff3a00"/><stop offset="0.051" stop-color="#ff8c00"/><stop offset="0.152" stop-color="#ffc400"/><stop offset="0.249" stop-color="#ffee50"/><stop offset="0.304" stop-color="#ffffff"/><stop offset="0.751" stop-color="#ffffff"/><stop offset="0.806" stop-color="#ffe030"/><stop offset="0.863" stop-color="#ffab00"/><stop offset="0.925" stop-color="#ff5a00"/><stop offset="0.975" stop-color="#cc1400"/><stop offset="1.000" stop-color="#5e0202"/></linearGradient>
<linearGradient id="bdg58" gradientUnits="userSpaceOnUse" x1="1069.0" y1="0" x2="1150.8" y2="0" gradientTransform="translate(0 690.3) skewX(-19.41) translate(0 -690.3)"><stop offset="0.000" stop-color="#a80000"/><stop offset="0.015" stop-color="#ff3a00"/><stop offset="0.051" stop-color="#ff8c00"/><stop offset="0.149" stop-color="#ffc400"/><stop offset="0.245" stop-color="#ffee50"/><stop offset="0.299" stop-color="#ffffff"/><stop offset="0.737" stop-color="#ffffff"/><stop offset="0.795" stop-color="#ffe030"/><stop offset="0.855" stop-color="#ffab00"/><stop offset="0.921" stop-color="#ff5a00"/><stop offset="0.974" stop-color="#cc1400"/><stop offset="1.000" stop-color="#5e0202"/></linearGradient>
<linearGradient id="bdg59" gradientUnits="userSpaceOnUse" x1="1068.3" y1="0" x2="1149.4" y2="0" gradientTransform="translate(0 693.3) skewX(-18.44) translate(0 -693.3)"><stop offset="0.000" stop-color="#a80000"/><stop offset="0.015" stop-color="#ff3a00"/><stop offset="0.050" stop-color="#ff8c00"/><stop offset="0.147" stop-color="#ffc400"/><stop offset="0.241" stop-color="#ffee50"/><stop offset="0.293" stop-color="#ffffff"/><stop offset="0.719" stop-color="#ffffff"/><stop offset="0.780" stop-color="#ffe030"/><stop offset="0.845" stop-color="#ffab00"/><stop offset="0.916" stop-color="#ff5a00"/><stop offset="0.972" stop-color="#cc1400"/><stop offset="1.000" stop-color="#5e0202"/></linearGradient>
<linearGradient id="bdg60" gradientUnits="userSpaceOnUse" x1="1067.6" y1="0" x2="1148.2" y2="0" gradientTransform="translate(0 696.3) skewX(-18.37) translate(0 -696.3)"><stop offset="0.000" stop-color="#a80000"/><stop offset="0.015" stop-color="#ff3a00"/><stop offset="0.049" stop-color="#ff8c00"/><stop offset="0.144" stop-color="#ffc400"/><stop offset="0.236" stop-color="#ffee50"/><stop offset="0.287" stop-color="#ffffff"/><stop offset="0.695" stop-color="#ffffff"/><stop offset="0.762" stop-color="#ffe030"/><stop offset="0.832" stop-color="#ffab00"/><stop offset="0.909" stop-color="#ff5a00"/><stop offset="0.970" stop-color="#cc1400"/><stop offset="1.000" stop-color="#5e0202"/></linearGradient>
<linearGradient id="bdg61" gradientUnits="userSpaceOnUse" x1="1066.9" y1="0" x2="1146.9" y2="0" gradientTransform="translate(0 699.3) skewX(-18.37) translate(0 -699.3)"><stop offset="0.000" stop-color="#a80000"/><stop offset="0.015" stop-color="#ff3a00"/><stop offset="0.049" stop-color="#ff8c00"/><stop offset="0.141" stop-color="#ffc400"/><stop offset="0.231" stop-color="#ffee50"/><stop offset="0.281" stop-color="#ffffff"/><stop offset="0.672" stop-color="#ffffff"/><stop offset="0.744" stop-color="#ffe030"/><stop offset="0.820" stop-color="#ffab00"/><stop offset="0.902" stop-color="#ff5a00"/><stop offset="0.967" stop-color="#cc1400"/><stop offset="1.000" stop-color="#5e0202"/></linearGradient>
<linearGradient id="bdg62" gradientUnits="userSpaceOnUse" x1="1066.2" y1="0" x2="1145.6" y2="0" gradientTransform="translate(0 702.3) skewX(-18.37) translate(0 -702.3)"><stop offset="0.000" stop-color="#a80000"/><stop offset="0.015" stop-color="#ff3a00"/><stop offset="0.048" stop-color="#ff8c00"/><stop offset="0.138" stop-color="#ffc400"/><stop offset="0.226" stop-color="#ffee50"/><stop offset="0.275" stop-color="#ffffff"/><stop offset="0.648" stop-color="#ffffff"/><stop offset="0.725" stop-color="#ffe030"/><stop offset="0.806" stop-color="#ffab00"/><stop offset="0.894" stop-color="#ff5a00"/><stop offset="0.965" stop-color="#cc1400"/><stop offset="1.000" stop-color="#5e0202"/></linearGradient>
<linearGradient id="bdg63" gradientUnits="userSpaceOnUse" x1="1065.5" y1="0" x2="1144.3" y2="0" gradientTransform="translate(0 705.3) skewX(-18.37) translate(0 -705.3)"><stop offset="0.000" stop-color="#a80000"/><stop offset="0.015" stop-color="#ff3a00"/><stop offset="0.047" stop-color="#ff8c00"/><stop offset="0.134" stop-color="#ffc400"/><stop offset="0.221" stop-color="#ffee50"/><stop offset="0.269" stop-color="#ffffff"/><stop offset="0.624" stop-color="#ffffff"/><stop offset="0.707" stop-color="#ffe030"/><stop offset="0.793" stop-color="#ffab00"/><stop offset="0.887" stop-color="#ff5a00"/><stop offset="0.962" stop-color="#cc1400"/><stop offset="1.000" stop-color="#5e0202"/></linearGradient>
<linearGradient id="bdg64" gradientUnits="userSpaceOnUse" x1="1064.8" y1="0" x2="1143.0" y2="0" gradientTransform="translate(0 708.3) skewX(-18.37) translate(0 -708.3)"><stop offset="0.000" stop-color="#a80000"/><stop offset="0.015" stop-color="#ff3a00"/><stop offset="0.047" stop-color="#ff8c00"/><stop offset="0.131" stop-color="#ffc400"/><stop offset="0.215" stop-color="#ffee50"/><stop offset="0.263" stop-color="#ffffff"/><stop offset="0.599" stop-color="#ffffff"/><stop offset="0.687" stop-color="#ffe030"/><stop offset="0.780" stop-color="#ffab00"/><stop offset="0.880" stop-color="#ff5a00"/><stop offset="0.960" stop-color="#cc1400"/><stop offset="1.000" stop-color="#5e0202"/></linearGradient>
<linearGradient id="bdg65" gradientUnits="userSpaceOnUse" x1="1064.1" y1="0" x2="1141.7" y2="0" gradientTransform="translate(0 711.3) skewX(-18.37) translate(0 -711.3)"><stop offset="0.000" stop-color="#a80000"/><stop offset="0.015" stop-color="#ff3a00"/><stop offset="0.046" stop-color="#ff8c00"/><stop offset="0.128" stop-color="#ffc400"/><stop offset="0.210" stop-color="#ffee50"/><stop offset="0.256" stop-color="#ffffff"/><stop offset="0.574" stop-color="#ffffff"/><stop offset="0.668" stop-color="#ffe030"/><stop offset="0.766" stop-color="#ffab00"/><stop offset="0.872" stop-color="#ff5a00"/><stop offset="0.957" stop-color="#cc1400"/><stop offset="1.000" stop-color="#5e0202"/></linearGradient>
<linearGradient id="bdg66" gradientUnits="userSpaceOnUse" x1="1063.3" y1="0" x2="1140.4" y2="0" gradientTransform="translate(0 714.3) skewX(-18.37) translate(0 -714.3)"><stop offset="0.000" stop-color="#a80000"/><stop offset="0.016" stop-color="#ff3a00"/><stop offset="0.046" stop-color="#ff8c00"/><stop offset="0.125" stop-color="#ffc400"/><stop offset="0.205" stop-color="#ffee50"/><stop offset="0.250" stop-color="#ffffff"/><stop offset="0.549" stop-color="#ffffff"/><stop offset="0.648" stop-color="#ffe030"/><stop offset="0.752" stop-color="#ffab00"/><stop offset="0.865" stop-color="#ff5a00"/><stop offset="0.955" stop-color="#cc1400"/><stop offset="1.000" stop-color="#5e0202"/></linearGradient>
<linearGradient id="bdg67" gradientUnits="userSpaceOnUse" x1="1062.6" y1="0" x2="1139.2" y2="0" gradientTransform="translate(0 717.3) skewX(-18.37) translate(0 -717.3)"><stop offset="0.000" stop-color="#a80000"/><stop offset="0.016" stop-color="#ff3a00"/><stop offset="0.045" stop-color="#ff8c00"/><stop offset="0.121" stop-color="#ffc400"/><stop offset="0.199" stop-color="#ffee50"/><stop offset="0.243" stop-color="#ffffff"/><stop offset="0.523" stop-color="#ffffff"/><stop offset="0.628" stop-color="#ffe030"/><stop offset="0.738" stop-color="#ffab00"/><stop offset="0.857" stop-color="#ff5a00"/><stop offset="0.952" stop-color="#cc1400"/><stop offset="1.000" stop-color="#5e0202"/></linearGradient>
<linearGradient id="bdg68" gradientUnits="userSpaceOnUse" x1="1061.9" y1="0" x2="1137.8" y2="0" gradientTransform="translate(0 720.3) skewX(-19.16) translate(0 -720.3)"><stop offset="0.000" stop-color="#a80000"/><stop offset="0.016" stop-color="#ff3a00"/><stop offset="0.044" stop-color="#ff8c00"/><stop offset="0.118" stop-color="#ffc400"/><stop offset="0.194" stop-color="#ffee50"/><stop offset="0.236" stop-color="#ffffff"/><stop offset="0.498" stop-color="#ffffff"/><stop offset="0.608" stop-color="#ffe030"/><stop offset="0.724" stop-color="#ffab00"/><stop offset="0.849" stop-color="#ff5a00"/><stop offset="0.950" stop-color="#cc1400"/><stop offset="1.000" stop-color="#5e0202"/></linearGradient>
<linearGradient id="bdg69" gradientUnits="userSpaceOnUse" x1="1061.3" y1="0" x2="1136.3" y2="0" gradientTransform="translate(0 723.3) skewX(-19.68) translate(0 -723.3)"><stop offset="0.000" stop-color="#a80000"/><stop offset="0.016" stop-color="#ff3a00"/><stop offset="0.044" stop-color="#ff8c00"/><stop offset="0.116" stop-color="#ffc400"/><stop offset="0.191" stop-color="#ffee50"/><stop offset="0.232" stop-color="#ffffff"/><stop offset="0.477" stop-color="#ffffff"/><stop offset="0.592" stop-color="#ffe030"/><stop offset="0.712" stop-color="#ffab00"/><stop offset="0.843" stop-color="#ff5a00"/><stop offset="0.948" stop-color="#cc1400"/><stop offset="1.000" stop-color="#5e0202"/></linearGradient>
<linearGradient id="bdg70" gradientUnits="userSpaceOnUse" x1="1060.7" y1="0" x2="1134.8" y2="0" gradientTransform="translate(0 726.3) skewX(-19.68) translate(0 -726.3)"><stop offset="0.000" stop-color="#a80000"/><stop offset="0.016" stop-color="#ff3a00"/><stop offset="0.044" stop-color="#ff8c00"/><stop offset="0.114" stop-color="#ffc400"/><stop offset="0.187" stop-color="#ffee50"/><stop offset="0.228" stop-color="#ffffff"/><stop offset="0.455" stop-color="#ffffff"/><stop offset="0.575" stop-color="#ffe030"/><stop offset="0.700" stop-color="#ffab00"/><stop offset="0.837" stop-color="#ff5a00"/><stop offset="0.946" stop-color="#cc1400"/><stop offset="1.000" stop-color="#5e0202"/></linearGradient>
<linearGradient id="bdg71" gradientUnits="userSpaceOnUse" x1="1060.1" y1="0" x2="1133.3" y2="0" gradientTransform="translate(0 729.3) skewX(-19.68) translate(0 -729.3)"><stop offset="0.000" stop-color="#a80000"/><stop offset="0.016" stop-color="#ff3a00"/><stop offset="0.043" stop-color="#ff8c00"/><stop offset="0.112" stop-color="#ffc400"/><stop offset="0.184" stop-color="#ffee50"/><stop offset="0.224" stop-color="#ffffff"/><stop offset="0.433" stop-color="#ffffff"/><stop offset="0.558" stop-color="#ffe030"/><stop offset="0.688" stop-color="#ffab00"/><stop offset="0.830" stop-color="#ff5a00"/><stop offset="0.943" stop-color="#cc1400"/><stop offset="1.000" stop-color="#5e0202"/></linearGradient>
<linearGradient id="bdg72" gradientUnits="userSpaceOnUse" x1="1059.4" y1="0" x2="1131.8" y2="0" gradientTransform="translate(0 732.3) skewX(-19.68) translate(0 -732.3)"><stop offset="0.000" stop-color="#a80000"/><stop offset="0.017" stop-color="#ff3a00"/><stop offset="0.043" stop-color="#ff8c00"/><stop offset="0.110" stop-color="#ffc400"/><stop offset="0.180" stop-color="#ffee50"/><stop offset="0.220" stop-color="#ffffff"/><stop offset="0.410" stop-color="#ffffff"/><stop offset="0.540" stop-color="#ffe030"/><stop offset="0.676" stop-color="#ffab00"/><stop offset="0.823" stop-color="#ff5a00"/><stop offset="0.941" stop-color="#cc1400"/><stop offset="1.000" stop-color="#5e0202"/></linearGradient>
<linearGradient id="bdg73" gradientUnits="userSpaceOnUse" x1="1058.8" y1="0" x2="1130.3" y2="0" gradientTransform="translate(0 735.3) skewX(-19.21) translate(0 -735.3)"><stop offset="0.000" stop-color="#a80000"/><stop offset="0.017" stop-color="#ff3a00"/><stop offset="0.043" stop-color="#ff8c00"/><stop offset="0.108" stop-color="#ffc400"/><stop offset="0.177" stop-color="#ffee50"/><stop offset="0.215" stop-color="#ffffff"/><stop offset="0.387" stop-color="#ffffff"/><stop offset="0.522" stop-color="#ffe030"/><stop offset="0.663" stop-color="#ffab00"/><stop offset="0.816" stop-color="#ff5a00"/><stop offset="0.939" stop-color="#cc1400"/><stop offset="1.000" stop-color="#5e0202"/></linearGradient>
<linearGradient id="bdg74" gradientUnits="userSpaceOnUse" x1="1058.0" y1="0" x2="1129.1" y2="0" gradientTransform="translate(0 738.3) skewX(-18.28) translate(0 -738.3)"><stop offset="0.000" stop-color="#a80000"/><stop offset="0.017" stop-color="#ff3a00"/><stop offset="0.043" stop-color="#ff8c00"/><stop offset="0.107" stop-color="#ffc400"/><stop offset="0.176" stop-color="#ffee50"/><stop offset="0.215" stop-color="#ffffff"/><stop offset="0.357" stop-color="#ffffff"/><stop offset="0.499" stop-color="#ffe030"/><stop offset="0.646" stop-color="#ffab00"/><stop offset="0.807" stop-color="#ff5a00"/><stop offset="0.936" stop-color="#cc1400"/><stop offset="1.000" stop-color="#5e0202"/></linearGradient>
<linearGradient id="bdg75" gradientUnits="userSpaceOnUse" x1="1057.1" y1="0" x2="1128.0" y2="0" gradientTransform="translate(0 741.3) skewX(-18.28) translate(0 -741.3)"><stop offset="0.000" stop-color="#a80000"/><stop offset="0.017" stop-color="#ff3a00"/><stop offset="0.043" stop-color="#ff8c00"/><stop offset="0.107" stop-color="#ffc400"/><stop offset="0.176" stop-color="#ffee50"/><stop offset="0.214" stop-color="#ffffff"/><stop offset="0.326" stop-color="#ffffff"/><stop offset="0.475" stop-color="#ffe030"/><stop offset="0.629" stop-color="#ffab00"/><stop offset="0.798" stop-color="#ff5a00"/><stop offset="0.933" stop-color="#cc1400"/><stop offset="1.000" stop-color="#5e0202"/></linearGradient>
<linearGradient id="bdg76" gradientUnits="userSpaceOnUse" x1="1056.2" y1="0" x2="1126.9" y2="0" gradientTransform="translate(0 744.3) skewX(-18.28) translate(0 -744.3)"><stop offset="0.000" stop-color="#a80000"/><stop offset="0.017" stop-color="#ff3a00"/><stop offset="0.043" stop-color="#ff8c00"/><stop offset="0.107" stop-color="#ffc400"/><stop offset="0.176" stop-color="#ffee50"/><stop offset="0.214" stop-color="#ffffff"/><stop offset="0.295" stop-color="#ffffff"/><stop offset="0.450" stop-color="#ffe030"/><stop offset="0.612" stop-color="#ffab00"/><stop offset="0.789" stop-color="#ff5a00"/><stop offset="0.930" stop-color="#cc1400"/><stop offset="1.000" stop-color="#5e0202"/></linearGradient>
<linearGradient id="bdg77" gradientUnits="userSpaceOnUse" x1="1055.4" y1="0" x2="1125.7" y2="0" gradientTransform="translate(0 747.3) skewX(-18.28) translate(0 -747.3)"><stop offset="0.000" stop-color="#a80000"/><stop offset="0.017" stop-color="#ff3a00"/><stop offset="0.043" stop-color="#ff8c00"/><stop offset="0.107" stop-color="#ffc400"/><stop offset="0.176" stop-color="#ffee50"/><stop offset="0.214" stop-color="#ffffff"/><stop offset="0.264" stop-color="#ffffff"/><stop offset="0.426" stop-color="#ffe030"/><stop offset="0.595" stop-color="#ffab00"/><stop offset="0.779" stop-color="#ff5a00"/><stop offset="0.926" stop-color="#cc1400"/><stop offset="1.000" stop-color="#5e0202"/></linearGradient>
<linearGradient id="bdg78" gradientUnits="userSpaceOnUse" x1="1054.5" y1="0" x2="1124.6" y2="0" gradientTransform="translate(0 750.3) skewX(-18.28) translate(0 -750.3)"><stop offset="0.000" stop-color="#a80000"/><stop offset="0.017" stop-color="#ff3a00"/><stop offset="0.043" stop-color="#ff8c00"/><stop offset="0.107" stop-color="#ffc400"/><stop offset="0.176" stop-color="#ffee50"/><stop offset="0.214" stop-color="#ffffff"/><stop offset="0.232" stop-color="#ffffff"/><stop offset="0.401" stop-color="#ffe030"/><stop offset="0.578" stop-color="#ffab00"/><stop offset="0.770" stop-color="#ff5a00"/><stop offset="0.923" stop-color="#cc1400"/><stop offset="1.000" stop-color="#5e0202"/></linearGradient>
<linearGradient id="bdg79" gradientUnits="userSpaceOnUse" x1="1053.6" y1="0" x2="1123.5" y2="0" gradientTransform="translate(0 753.3) skewX(-19.84) translate(0 -753.3)"><stop offset="0.000" stop-color="#a80000"/><stop offset="0.017" stop-color="#ff3a00"/><stop offset="0.043" stop-color="#ff8c00"/><stop offset="0.107" stop-color="#ffc400"/><stop offset="0.175" stop-color="#ffee50"/><stop offset="0.214" stop-color="#fffef9"/><stop offset="0.214" stop-color="#fffef9"/><stop offset="0.387" stop-color="#ffe030"/><stop offset="0.568" stop-color="#ffab00"/><stop offset="0.764" stop-color="#ff5a00"/><stop offset="0.921" stop-color="#cc1400"/><stop offset="1.000" stop-color="#5e0202"/></linearGradient>
<linearGradient id="bdg80" gradientUnits="userSpaceOnUse" x1="1052.7" y1="0" x2="1122.2" y2="0" gradientTransform="translate(0 756.3) skewX(-19.96) translate(0 -756.3)"><stop offset="0.000" stop-color="#a80000"/><stop offset="0.017" stop-color="#ff3a00"/><stop offset="0.043" stop-color="#ff8c00"/><stop offset="0.106" stop-color="#ffc400"/><stop offset="0.174" stop-color="#ffee50"/><stop offset="0.213" stop-color="#fffcea"/><stop offset="0.213" stop-color="#fffcea"/><stop offset="0.386" stop-color="#ffe030"/><stop offset="0.567" stop-color="#ffab00"/><stop offset="0.764" stop-color="#ff5a00"/><stop offset="0.921" stop-color="#cc1400"/><stop offset="1.000" stop-color="#5e0202"/></linearGradient>
<linearGradient id="bdg81" gradientUnits="userSpaceOnUse" x1="1051.7" y1="0" x2="1121.0" y2="0" gradientTransform="translate(0 759.3) skewX(-19.96) translate(0 -759.3)"><stop offset="0.000" stop-color="#a80000"/><stop offset="0.017" stop-color="#ff3a00"/><stop offset="0.043" stop-color="#ff8c00"/><stop offset="0.106" stop-color="#ffc400"/><stop offset="0.174" stop-color="#ffee50"/><stop offset="0.212" stop-color="#fffadb"/><stop offset="0.212" stop-color="#fffadb"/><stop offset="0.385" stop-color="#ffe030"/><stop offset="0.566" stop-color="#ffab00"/><stop offset="0.764" stop-color="#ff5a00"/><stop offset="0.921" stop-color="#cc1400"/><stop offset="1.000" stop-color="#5e0202"/></linearGradient>
<linearGradient id="bdg82" gradientUnits="userSpaceOnUse" x1="1050.8" y1="0" x2="1119.7" y2="0" gradientTransform="translate(0 762.3) skewX(-19.96) translate(0 -762.3)"><stop offset="0.000" stop-color="#a80000"/><stop offset="0.017" stop-color="#ff3a00"/><stop offset="0.043" stop-color="#ff8c00"/><stop offset="0.105" stop-color="#ffc400"/><stop offset="0.173" stop-color="#ffee50"/><stop offset="0.211" stop-color="#fff8cc"/><stop offset="0.211" stop-color="#fff8cc"/><stop offset="0.384" stop-color="#ffe030"/><stop offset="0.566" stop-color="#ffab00"/><stop offset="0.763" stop-color="#ff5a00"/><stop offset="0.921" stop-color="#cc1400"/><stop offset="1.000" stop-color="#5e0202"/></linearGradient>
<linearGradient id="bdg83" gradientUnits="userSpaceOnUse" x1="1049.9" y1="0" x2="1118.5" y2="0" gradientTransform="translate(0 765.3) skewX(-19.96) translate(0 -765.3)"><stop offset="0.000" stop-color="#a80000"/><stop offset="0.017" stop-color="#ff3a00"/><stop offset="0.043" stop-color="#ff8c00"/><stop offset="0.105" stop-color="#ffc400"/><stop offset="0.172" stop-color="#ffee50"/><stop offset="0.210" stop-color="#fff6bd"/><stop offset="0.210" stop-color="#fff6bd"/><stop offset="0.383" stop-color="#ffe030"/><stop offset="0.565" stop-color="#ffab00"/><stop offset="0.763" stop-color="#ff5a00"/><stop offset="0.921" stop-color="#cc1400"/><stop offset="1.000" stop-color="#5e0202"/></linearGradient>
<linearGradient id="bdg84" gradientUnits="userSpaceOnUse" x1="1049.0" y1="0" x2="1117.2" y2="0" gradientTransform="translate(0 768.3) skewX(-19.67) translate(0 -768.3)"><stop offset="0.000" stop-color="#a80000"/><stop offset="0.018" stop-color="#ff3a00"/><stop offset="0.043" stop-color="#ff8c00"/><stop offset="0.104" stop-color="#ffc400"/><stop offset="0.171" stop-color="#ffee50"/><stop offset="0.208" stop-color="#fff4af"/><stop offset="0.208" stop-color="#fff4af"/><stop offset="0.383" stop-color="#ffe030"/><stop offset="0.565" stop-color="#ffab00"/><stop offset="0.763" stop-color="#ff5a00"/><stop offset="0.921" stop-color="#cc1400"/><stop offset="1.000" stop-color="#5e0202"/></linearGradient>
<linearGradient id="bdg85" gradientUnits="userSpaceOnUse" x1="1048.1" y1="0" x2="1116.0" y2="0" gradientTransform="translate(0 771.3) skewX(-19.10) translate(0 -771.3)"><stop offset="0.000" stop-color="#a80000"/><stop offset="0.018" stop-color="#ff3a00"/><stop offset="0.043" stop-color="#ff8c00"/><stop offset="0.104" stop-color="#ffc400"/><stop offset="0.171" stop-color="#ffee50"/><stop offset="0.208" stop-color="#fff2a0"/><stop offset="0.208" stop-color="#fff2a0"/><stop offset="0.383" stop-color="#ffe030"/><stop offset="0.565" stop-color="#ffab00"/><stop offset="0.763" stop-color="#ff5a00"/><stop offset="0.921" stop-color="#cc1400"/><stop offset="1.000" stop-color="#5e0202"/></linearGradient>
<linearGradient id="bdg86" gradientUnits="userSpaceOnUse" x1="1047.2" y1="0" x2="1114.8" y2="0" gradientTransform="translate(0 774.3) skewX(-19.10) translate(0 -774.3)"><stop offset="0.000" stop-color="#a80000"/><stop offset="0.018" stop-color="#ff3a00"/><stop offset="0.043" stop-color="#ff8c00"/><stop offset="0.104" stop-color="#ffc400"/><stop offset="0.171" stop-color="#ffee50"/><stop offset="0.209" stop-color="#fff091"/><stop offset="0.209" stop-color="#fff091"/><stop offset="0.383" stop-color="#ffe030"/><stop offset="0.565" stop-color="#ffab00"/><stop offset="0.763" stop-color="#ff5a00"/><stop offset="0.921" stop-color="#cc1400"/><stop offset="1.000" stop-color="#5e0202"/></linearGradient>
<linearGradient id="bdg87" gradientUnits="userSpaceOnUse" x1="1046.4" y1="0" x2="1113.5" y2="0" gradientTransform="translate(0 777.3) skewX(-19.10) translate(0 -777.3)"><stop offset="0.000" stop-color="#a80000"/><stop offset="0.018" stop-color="#ff3a00"/><stop offset="0.043" stop-color="#ff8c00"/><stop offset="0.104" stop-color="#ffc400"/><stop offset="0.171" stop-color="#ffee50"/><stop offset="0.209" stop-color="#ffee82"/><stop offset="0.209" stop-color="#ffee82"/><stop offset="0.383" stop-color="#ffe030"/><stop offset="0.565" stop-color="#ffab00"/><stop offset="0.763" stop-color="#ff5a00"/><stop offset="0.921" stop-color="#cc1400"/><stop offset="1.000" stop-color="#5e0202"/></linearGradient>
<linearGradient id="bdg88" gradientUnits="userSpaceOnUse" x1="1045.5" y1="0" x2="1112.3" y2="0" gradientTransform="translate(0 780.3) skewX(-19.10) translate(0 -780.3)"><stop offset="0.000" stop-color="#a80000"/><stop offset="0.018" stop-color="#ff3a00"/><stop offset="0.043" stop-color="#ff8c00"/><stop offset="0.105" stop-color="#ffc400"/><stop offset="0.171" stop-color="#ffee50"/><stop offset="0.209" stop-color="#ffec74"/><stop offset="0.209" stop-color="#ffec74"/><stop offset="0.383" stop-color="#ffe030"/><stop offset="0.565" stop-color="#ffab00"/><stop offset="0.763" stop-color="#ff5a00"/><stop offset="0.921" stop-color="#cc1400"/><stop offset="1.000" stop-color="#5e0202"/></linearGradient>
<linearGradient id="bdg89" gradientUnits="userSpaceOnUse" x1="1044.7" y1="0" x2="1111.1" y2="0" gradientTransform="translate(0 783.3) skewX(-19.10) translate(0 -783.3)"><stop offset="0.000" stop-color="#a80000"/><stop offset="0.018" stop-color="#ff3a00"/><stop offset="0.043" stop-color="#ff8c00"/><stop offset="0.105" stop-color="#ffc400"/><stop offset="0.172" stop-color="#ffee50"/><stop offset="0.209" stop-color="#ffea65"/><stop offset="0.209" stop-color="#ffea65"/><stop offset="0.383" stop-color="#ffe030"/><stop offset="0.565" stop-color="#ffab00"/><stop offset="0.763" stop-color="#ff5a00"/><stop offset="0.921" stop-color="#cc1400"/><stop offset="1.000" stop-color="#5e0202"/></linearGradient>
<linearGradient id="bdg90" gradientUnits="userSpaceOnUse" x1="1043.8" y1="0" x2="1109.9" y2="0" gradientTransform="translate(0 786.3) skewX(-19.10) translate(0 -786.3)"><stop offset="0.000" stop-color="#a80000"/><stop offset="0.018" stop-color="#ff3a00"/><stop offset="0.043" stop-color="#ff8c00"/><stop offset="0.105" stop-color="#ffc400"/><stop offset="0.172" stop-color="#ffee50"/><stop offset="0.210" stop-color="#ffe856"/><stop offset="0.210" stop-color="#ffe856"/><stop offset="0.383" stop-color="#ffe030"/><stop offset="0.565" stop-color="#ffab00"/><stop offset="0.763" stop-color="#ff5a00"/><stop offset="0.921" stop-color="#cc1400"/><stop offset="1.000" stop-color="#5e0202"/></linearGradient>
<linearGradient id="bdg91" gradientUnits="userSpaceOnUse" x1="1043.0" y1="0" x2="1108.6" y2="0" gradientTransform="translate(0 789.3) skewX(-19.10) translate(0 -789.3)"><stop offset="0.000" stop-color="#a80000"/><stop offset="0.018" stop-color="#ff3a00"/><stop offset="0.043" stop-color="#ff8c00"/><stop offset="0.105" stop-color="#ffc400"/><stop offset="0.172" stop-color="#ffee50"/><stop offset="0.210" stop-color="#ffe647"/><stop offset="0.210" stop-color="#ffe647"/><stop offset="0.384" stop-color="#ffe030"/><stop offset="0.565" stop-color="#ffab00"/><stop offset="0.763" stop-color="#ff5a00"/><stop offset="0.921" stop-color="#cc1400"/><stop offset="1.000" stop-color="#5e0202"/></linearGradient>
<linearGradient id="bdg92" gradientUnits="userSpaceOnUse" x1="1042.1" y1="0" x2="1107.4" y2="0" gradientTransform="translate(0 792.3) skewX(-19.10) translate(0 -792.3)"><stop offset="0.000" stop-color="#a80000"/><stop offset="0.018" stop-color="#ff3a00"/><stop offset="0.044" stop-color="#ff8c00"/><stop offset="0.105" stop-color="#ffc400"/><stop offset="0.172" stop-color="#ffee50"/><stop offset="0.210" stop-color="#ffe43a"/><stop offset="0.210" stop-color="#ffe43a"/><stop offset="0.384" stop-color="#ffe030"/><stop offset="0.566" stop-color="#ffab00"/><stop offset="0.763" stop-color="#ff5a00"/><stop offset="0.921" stop-color="#cc1400"/><stop offset="1.000" stop-color="#5e0202"/></linearGradient>
<linearGradient id="bdg93" gradientUnits="userSpaceOnUse" x1="1041.2" y1="0" x2="1106.2" y2="0" gradientTransform="translate(0 795.3) skewX(-19.10) translate(0 -795.3)"><stop offset="0.000" stop-color="#a80000"/><stop offset="0.018" stop-color="#ff3a00"/><stop offset="0.044" stop-color="#ff8c00"/><stop offset="0.105" stop-color="#ffc400"/><stop offset="0.172" stop-color="#ffee50"/><stop offset="0.210" stop-color="#ffe43a"/><stop offset="0.210" stop-color="#ffe43a"/><stop offset="0.384" stop-color="#ffe030"/><stop offset="0.566" stop-color="#ffab00"/><stop offset="0.763" stop-color="#ff5a00"/><stop offset="0.921" stop-color="#cc1400"/><stop offset="1.000" stop-color="#5e0202"/></linearGradient>
<linearGradient id="bdg94" gradientUnits="userSpaceOnUse" x1="1040.4" y1="0" x2="1105.0" y2="0" gradientTransform="translate(0 798.3) skewX(-19.10) translate(0 -798.3)"><stop offset="0.000" stop-color="#a80000"/><stop offset="0.019" stop-color="#ff3a00"/><stop offset="0.044" stop-color="#ff8c00"/><stop offset="0.105" stop-color="#ffc400"/><stop offset="0.173" stop-color="#ffee50"/><stop offset="0.211" stop-color="#ffe43a"/><stop offset="0.211" stop-color="#ffe43a"/><stop offset="0.384" stop-color="#ffe030"/><stop offset="0.566" stop-color="#ffab00"/><stop offset="0.763" stop-color="#ff5a00"/><stop offset="0.921" stop-color="#cc1400"/><stop offset="1.000" stop-color="#5e0202"/></linearGradient>
<linearGradient id="bdg95" gradientUnits="userSpaceOnUse" x1="1039.5" y1="0" x2="1103.8" y2="0" gradientTransform="translate(0 801.3) skewX(-19.10) translate(0 -801.3)"><stop offset="0.000" stop-color="#a80000"/><stop offset="0.019" stop-color="#ff3a00"/><stop offset="0.044" stop-color="#ff8c00"/><stop offset="0.105" stop-color="#ffc400"/><stop offset="0.173" stop-color="#ffee50"/><stop offset="0.211" stop-color="#ffe43a"/><stop offset="0.211" stop-color="#ffe43a"/><stop offset="0.384" stop-color="#ffe030"/><stop offset="0.566" stop-color="#ffab00"/><stop offset="0.763" stop-color="#ff5a00"/><stop offset="0.921" stop-color="#cc1400"/><stop offset="1.000" stop-color="#5e0202"/></linearGradient>
<linearGradient id="bdg96" gradientUnits="userSpaceOnUse" x1="1038.7" y1="0" x2="1102.5" y2="0" gradientTransform="translate(0 804.3) skewX(-19.10) translate(0 -804.3)"><stop offset="0.000" stop-color="#a80000"/><stop offset="0.019" stop-color="#ff3a00"/><stop offset="0.044" stop-color="#ff8c00"/><stop offset="0.106" stop-color="#ffc400"/><stop offset="0.173" stop-color="#ffee50"/><stop offset="0.211" stop-color="#ffe43a"/><stop offset="0.211" stop-color="#ffe43a"/><stop offset="0.385" stop-color="#ffe030"/><stop offset="0.566" stop-color="#ffab00"/><stop offset="0.763" stop-color="#ff5a00"/><stop offset="0.921" stop-color="#cc1400"/><stop offset="1.000" stop-color="#5e0202"/></linearGradient>
<linearGradient id="bdg97" gradientUnits="userSpaceOnUse" x1="1037.8" y1="0" x2="1101.3" y2="0" gradientTransform="translate(0 807.3) skewX(-19.10) translate(0 -807.3)"><stop offset="0.000" stop-color="#a80000"/><stop offset="0.019" stop-color="#ff3a00"/><stop offset="0.044" stop-color="#ff8c00"/><stop offset="0.106" stop-color="#ffc400"/><stop offset="0.173" stop-color="#ffee50"/><stop offset="0.211" stop-color="#ffe43a"/><stop offset="0.211" stop-color="#ffe43a"/><stop offset="0.385" stop-color="#ffe030"/><stop offset="0.566" stop-color="#ffab00"/><stop offset="0.763" stop-color="#ff5a00"/><stop offset="0.921" stop-color="#cc1400"/><stop offset="1.000" stop-color="#5e0202"/></linearGradient>
<linearGradient id="bdg98" gradientUnits="userSpaceOnUse" x1="1037.0" y1="0" x2="1100.1" y2="0" gradientTransform="translate(0 810.3) skewX(-19.10) translate(0 -810.3)"><stop offset="0.000" stop-color="#a80000"/><stop offset="0.019" stop-color="#ff3a00"/><stop offset="0.044" stop-color="#ff8c00"/><stop offset="0.106" stop-color="#ffc400"/><stop offset="0.173" stop-color="#ffee50"/><stop offset="0.212" stop-color="#ffe43a"/><stop offset="0.212" stop-color="#ffe43a"/><stop offset="0.385" stop-color="#ffe030"/><stop offset="0.566" stop-color="#ffab00"/><stop offset="0.763" stop-color="#ff5a00"/><stop offset="0.921" stop-color="#cc1400"/><stop offset="1.000" stop-color="#5e0202"/></linearGradient>
<linearGradient id="bdg99" gradientUnits="userSpaceOnUse" x1="1036.1" y1="0" x2="1098.9" y2="0" gradientTransform="translate(0 813.3) skewX(-19.10) translate(0 -813.3)"><stop offset="0.000" stop-color="#a80000"/><stop offset="0.019" stop-color="#ff3a00"/><stop offset="0.045" stop-color="#ff8c00"/><stop offset="0.106" stop-color="#ffc400"/><stop offset="0.174" stop-color="#ffee50"/><stop offset="0.212" stop-color="#ffe43a"/><stop offset="0.212" stop-color="#ffe43a"/><stop offset="0.385" stop-color="#ffe030"/><stop offset="0.566" stop-color="#ffab00"/><stop offset="0.764" stop-color="#ff5a00"/><stop offset="0.921" stop-color="#cc1400"/><stop offset="1.000" stop-color="#5e0202"/></linearGradient>
<linearGradient id="bdg100" gradientUnits="userSpaceOnUse" x1="1035.3" y1="0" x2="1097.6" y2="0" gradientTransform="translate(0 816.3) skewX(-19.10) translate(0 -816.3)"><stop offset="0.000" stop-color="#a80000"/><stop offset="0.019" stop-color="#ff3a00"/><stop offset="0.045" stop-color="#ff8c00"/><stop offset="0.106" stop-color="#ffc400"/><stop offset="0.174" stop-color="#ffee50"/><stop offset="0.212" stop-color="#ffe43a"/><stop offset="0.212" stop-color="#ffe43a"/><stop offset="0.385" stop-color="#ffe030"/><stop offset="0.567" stop-color="#ffab00"/><stop offset="0.764" stop-color="#ff5a00"/><stop offset="0.921" stop-color="#cc1400"/><stop offset="1.000" stop-color="#5e0202"/></linearGradient>
<linearGradient id="bdg101" gradientUnits="userSpaceOnUse" x1="1034.4" y1="0" x2="1096.4" y2="0" gradientTransform="translate(0 819.3) skewX(-19.10) translate(0 -819.3)"><stop offset="0.000" stop-color="#a80000"/><stop offset="0.019" stop-color="#ff3a00"/><stop offset="0.045" stop-color="#ff8c00"/><stop offset="0.106" stop-color="#ffc400"/><stop offset="0.174" stop-color="#ffee50"/><stop offset="0.212" stop-color="#ffe43a"/><stop offset="0.212" stop-color="#ffe43a"/><stop offset="0.386" stop-color="#ffe030"/><stop offset="0.567" stop-color="#ffab00"/><stop offset="0.764" stop-color="#ff5a00"/><stop offset="0.921" stop-color="#cc1400"/><stop offset="1.000" stop-color="#5e0202"/></linearGradient>
<linearGradient id="bdg102" gradientUnits="userSpaceOnUse" x1="1033.5" y1="0" x2="1095.2" y2="0" gradientTransform="translate(0 822.3) skewX(-19.10) translate(0 -822.3)"><stop offset="0.000" stop-color="#a80000"/><stop offset="0.019" stop-color="#ff3a00"/><stop offset="0.045" stop-color="#ff8c00"/><stop offset="0.106" stop-color="#ffc400"/><stop offset="0.174" stop-color="#ffee50"/><stop offset="0.213" stop-color="#ffe43a"/><stop offset="0.213" stop-color="#ffe43a"/><stop offset="0.386" stop-color="#ffe030"/><stop offset="0.567" stop-color="#ffab00"/><stop offset="0.764" stop-color="#ff5a00"/><stop offset="0.921" stop-color="#cc1400"/><stop offset="1.000" stop-color="#5e0202"/></linearGradient>
<linearGradient id="bdg103" gradientUnits="userSpaceOnUse" x1="1032.7" y1="0" x2="1094.0" y2="0" gradientTransform="translate(0 825.3) skewX(-19.10) translate(0 -825.3)"><stop offset="0.000" stop-color="#a80000"/><stop offset="0.020" stop-color="#ff3a00"/><stop offset="0.045" stop-color="#ff8c00"/><stop offset="0.106" stop-color="#ffc400"/><stop offset="0.175" stop-color="#ffee50"/><stop offset="0.213" stop-color="#ffe43a"/><stop offset="0.213" stop-color="#ffe43a"/><stop offset="0.386" stop-color="#ffe030"/><stop offset="0.567" stop-color="#ffab00"/><stop offset="0.764" stop-color="#ff5a00"/><stop offset="0.921" stop-color="#cc1400"/><stop offset="1.000" stop-color="#5e0202"/></linearGradient>
<linearGradient id="bdg104" gradientUnits="userSpaceOnUse" x1="1031.9" y1="0" x2="1092.8" y2="0" gradientTransform="translate(0 828.3) skewX(-15.15) translate(0 -828.3)"><stop offset="0.000" stop-color="#a80000"/><stop offset="0.020" stop-color="#ff3a00"/><stop offset="0.045" stop-color="#ff8c00"/><stop offset="0.106" stop-color="#ffc400"/><stop offset="0.174" stop-color="#ffee50"/><stop offset="0.212" stop-color="#ffe43a"/><stop offset="0.212" stop-color="#ffe43a"/><stop offset="0.386" stop-color="#ffe030"/><stop offset="0.567" stop-color="#ffab00"/><stop offset="0.764" stop-color="#ff5a00"/><stop offset="0.921" stop-color="#cc1400"/><stop offset="1.000" stop-color="#5e0202"/></linearGradient>
<linearGradient id="bdg105" gradientUnits="userSpaceOnUse" x1="1031.2" y1="0" x2="1092.0" y2="0" gradientTransform="translate(0 831.3) skewX(-13.41) translate(0 -831.3)"><stop offset="0.000" stop-color="#a80000"/><stop offset="0.020" stop-color="#ff3a00"/><stop offset="0.045" stop-color="#ff8c00"/><stop offset="0.105" stop-color="#ffc400"/><stop offset="0.172" stop-color="#ffee50"/><stop offset="0.209" stop-color="#ffe43a"/><stop offset="0.209" stop-color="#ffe43a"/><stop offset="0.383" stop-color="#ffe030"/><stop offset="0.565" stop-color="#ffab00"/><stop offset="0.763" stop-color="#ff5a00"/><stop offset="0.921" stop-color="#cc1400"/><stop offset="1.000" stop-color="#5e0202"/></linearGradient>
<linearGradient id="bdg106" gradientUnits="userSpaceOnUse" x1="1030.6" y1="0" x2="1091.3" y2="0" gradientTransform="translate(0 834.3) skewX(-13.41) translate(0 -834.3)"><stop offset="0.000" stop-color="#a80000"/><stop offset="0.020" stop-color="#ff3a00"/><stop offset="0.045" stop-color="#ff8c00"/><stop offset="0.103" stop-color="#ffc400"/><stop offset="0.169" stop-color="#ffee50"/><stop offset="0.206" stop-color="#ffe43a"/><stop offset="0.206" stop-color="#ffe43a"/><stop offset="0.381" stop-color="#ffe030"/><stop offset="0.563" stop-color="#ffab00"/><stop offset="0.762" stop-color="#ff5a00"/><stop offset="0.921" stop-color="#cc1400"/><stop offset="1.000" stop-color="#5e0202"/></linearGradient>
<linearGradient id="bdg107" gradientUnits="userSpaceOnUse" x1="1030.0" y1="0" x2="1090.5" y2="0" gradientTransform="translate(0 837.3) skewX(-13.41) translate(0 -837.3)"><stop offset="0.000" stop-color="#a80000"/><stop offset="0.020" stop-color="#ff3a00"/><stop offset="0.044" stop-color="#ff8c00"/><stop offset="0.101" stop-color="#ffc400"/><stop offset="0.166" stop-color="#ffee50"/><stop offset="0.203" stop-color="#ffe43a"/><stop offset="0.203" stop-color="#ffe43a"/><stop offset="0.378" stop-color="#ffe030"/><stop offset="0.562" stop-color="#ffab00"/><stop offset="0.761" stop-color="#ff5a00"/><stop offset="0.920" stop-color="#cc1400"/><stop offset="1.000" stop-color="#5e0202"/></linearGradient>
<linearGradient id="bdg108" gradientUnits="userSpaceOnUse" x1="1029.3" y1="0" x2="1089.7" y2="0" gradientTransform="translate(0 840.3) skewX(-13.41) translate(0 -840.3)"><stop offset="0.000" stop-color="#a80000"/><stop offset="0.020" stop-color="#ff3a00"/><stop offset="0.044" stop-color="#ff8c00"/><stop offset="0.100" stop-color="#ffc400"/><stop offset="0.164" stop-color="#ffee50"/><stop offset="0.200" stop-color="#ffe43a"/><stop offset="0.200" stop-color="#ffe43a"/><stop offset="0.376" stop-color="#ffe030"/><stop offset="0.560" stop-color="#ffab00"/><stop offset="0.760" stop-color="#ff5a00"/><stop offset="0.920" stop-color="#cc1400"/><stop offset="1.000" stop-color="#5e0202"/></linearGradient>
<linearGradient id="bdg109" gradientUnits="userSpaceOnUse" x1="1028.7" y1="0" x2="1088.9" y2="0" gradientTransform="translate(0 843.3) skewX(-13.41) translate(0 -843.3)"><stop offset="0.000" stop-color="#a80000"/><stop offset="0.020" stop-color="#ff3a00"/><stop offset="0.044" stop-color="#ff8c00"/><stop offset="0.098" stop-color="#ffc400"/><stop offset="0.161" stop-color="#ffee50"/><stop offset="0.197" stop-color="#ffe43a"/><stop offset="0.197" stop-color="#ffe43a"/><stop offset="0.373" stop-color="#ffe030"/><stop offset="0.558" stop-color="#ffab00"/><stop offset="0.759" stop-color="#ff5a00"/><stop offset="0.920" stop-color="#cc1400"/><stop offset="1.000" stop-color="#5e0202"/></linearGradient>
<linearGradient id="bdg110" gradientUnits="userSpaceOnUse" x1="1028.1" y1="0" x2="1088.1" y2="0" gradientTransform="translate(0 846.3) skewX(-13.41) translate(0 -846.3)"><stop offset="0.000" stop-color="#a80000"/><stop offset="0.020" stop-color="#ff3a00"/><stop offset="0.043" stop-color="#ff8c00"/><stop offset="0.097" stop-color="#ffc400"/><stop offset="0.159" stop-color="#ffee50"/><stop offset="0.193" stop-color="#ffe43a"/><stop offset="0.193" stop-color="#ffe43a"/><stop offset="0.371" stop-color="#ffe030"/><stop offset="0.556" stop-color="#ffab00"/><stop offset="0.758" stop-color="#ff5a00"/><stop offset="0.919" stop-color="#cc1400"/><stop offset="1.000" stop-color="#5e0202"/></linearGradient>
<linearGradient id="bdg111" gradientUnits="userSpaceOnUse" x1="1027.4" y1="0" x2="1087.3" y2="0" gradientTransform="translate(0 849.3) skewX(-13.41) translate(0 -849.3)"><stop offset="0.000" stop-color="#a80000"/><stop offset="0.020" stop-color="#ff3a00"/><stop offset="0.043" stop-color="#ff8c00"/><stop offset="0.095" stop-color="#ffc400"/><stop offset="0.156" stop-color="#ffee50"/><stop offset="0.190" stop-color="#ffe43a"/><stop offset="0.190" stop-color="#ffe43a"/><stop offset="0.368" stop-color="#ffe030"/><stop offset="0.555" stop-color="#ffab00"/><stop offset="0.757" stop-color="#ff5a00"/><stop offset="0.919" stop-color="#cc1400"/><stop offset="1.000" stop-color="#5e0202"/></linearGradient>
<linearGradient id="bdg112" gradientUnits="userSpaceOnUse" x1="1026.8" y1="0" x2="1086.5" y2="0" gradientTransform="translate(0 852.3) skewX(-13.41) translate(0 -852.3)"><stop offset="0.000" stop-color="#a80000"/><stop offset="0.020" stop-color="#ff3a00"/><stop offset="0.043" stop-color="#ff8c00"/><stop offset="0.093" stop-color="#ffc400"/><stop offset="0.153" stop-color="#ffee50"/><stop offset="0.187" stop-color="#ffe43a"/><stop offset="0.187" stop-color="#ffe43a"/><stop offset="0.366" stop-color="#ffe030"/><stop offset="0.553" stop-color="#ffab00"/><stop offset="0.756" stop-color="#ff5a00"/><stop offset="0.919" stop-color="#cc1400"/><stop offset="1.000" stop-color="#5e0202"/></linearGradient>
<linearGradient id="bdg113" gradientUnits="userSpaceOnUse" x1="1026.2" y1="0" x2="1085.7" y2="0" gradientTransform="translate(0 855.3) skewX(-13.41) translate(0 -855.3)"><stop offset="0.000" stop-color="#a80000"/><stop offset="0.020" stop-color="#ff3a00"/><stop offset="0.042" stop-color="#ff8c00"/><stop offset="0.092" stop-color="#ffc400"/><stop offset="0.151" stop-color="#ffee50"/><stop offset="0.184" stop-color="#ffe43a"/><stop offset="0.184" stop-color="#ffe43a"/><stop offset="0.363" stop-color="#ffe030"/><stop offset="0.551" stop-color="#ffab00"/><stop offset="0.755" stop-color="#ff5a00"/><stop offset="0.918" stop-color="#cc1400"/><stop offset="1.000" stop-color="#5e0202"/></linearGradient>
<linearGradient id="bdg114" gradientUnits="userSpaceOnUse" x1="1025.5" y1="0" x2="1084.9" y2="0" gradientTransform="translate(0 858.3) skewX(-13.41) translate(0 -858.3)"><stop offset="0.000" stop-color="#a80000"/><stop offset="0.020" stop-color="#ff3a00"/><stop offset="0.042" stop-color="#ff8c00"/><stop offset="0.090" stop-color="#ffc400"/><stop offset="0.148" stop-color="#ffee50"/><stop offset="0.180" stop-color="#ffe43a"/><stop offset="0.180" stop-color="#ffe43a"/><stop offset="0.361" stop-color="#ffe030"/><stop offset="0.549" stop-color="#ffab00"/><stop offset="0.754" stop-color="#ff5a00"/><stop offset="0.918" stop-color="#cc1400"/><stop offset="1.000" stop-color="#5e0202"/></linearGradient>
<linearGradient id="bdg115" gradientUnits="userSpaceOnUse" x1="1024.9" y1="0" x2="1084.1" y2="0" gradientTransform="translate(0 861.3) skewX(-13.41) translate(0 -861.3)"><stop offset="0.000" stop-color="#a80000"/><stop offset="0.020" stop-color="#ff3a00"/><stop offset="0.041" stop-color="#ff8c00"/><stop offset="0.088" stop-color="#ffc400"/><stop offset="0.145" stop-color="#ffee50"/><stop offset="0.177" stop-color="#ffe43a"/><stop offset="0.177" stop-color="#ffe43a"/><stop offset="0.358" stop-color="#ffe030"/><stop offset="0.547" stop-color="#ffab00"/><stop offset="0.753" stop-color="#ff5a00"/><stop offset="0.918" stop-color="#cc1400"/><stop offset="1.000" stop-color="#5e0202"/></linearGradient>
<linearGradient id="bdg116" gradientUnits="userSpaceOnUse" x1="1024.2" y1="0" x2="1083.3" y2="0" gradientTransform="translate(0 864.3) skewX(-13.41) translate(0 -864.3)"><stop offset="0.000" stop-color="#a80000"/><stop offset="0.020" stop-color="#ff3a00"/><stop offset="0.041" stop-color="#ff8c00"/><stop offset="0.087" stop-color="#ffc400"/><stop offset="0.142" stop-color="#ffee50"/><stop offset="0.174" stop-color="#ffe43a"/><stop offset="0.174" stop-color="#ffe43a"/><stop offset="0.355" stop-color="#ffe030"/><stop offset="0.545" stop-color="#ffab00"/><stop offset="0.752" stop-color="#ff5a00"/><stop offset="0.917" stop-color="#cc1400"/><stop offset="1.000" stop-color="#5e0202"/></linearGradient>
<linearGradient id="bdg117" gradientUnits="userSpaceOnUse" x1="1023.6" y1="0" x2="1082.5" y2="0" gradientTransform="translate(0 867.3) skewX(-13.41) translate(0 -867.3)"><stop offset="0.000" stop-color="#a80000"/><stop offset="0.020" stop-color="#ff3a00"/><stop offset="0.041" stop-color="#ff8c00"/><stop offset="0.085" stop-color="#ffc400"/><stop offset="0.140" stop-color="#ffee50"/><stop offset="0.170" stop-color="#ffe43a"/><stop offset="0.170" stop-color="#ffe43a"/><stop offset="0.353" stop-color="#ffe030"/><stop offset="0.544" stop-color="#ffab00"/><stop offset="0.751" stop-color="#ff5a00"/><stop offset="0.917" stop-color="#cc1400"/><stop offset="1.000" stop-color="#5e0202"/></linearGradient>
<linearGradient id="bdg118" gradientUnits="userSpaceOnUse" x1="1023.0" y1="0" x2="1081.7" y2="0" gradientTransform="translate(0 870.3) skewX(-13.41) translate(0 -870.3)"><stop offset="0.000" stop-color="#a80000"/><stop offset="0.020" stop-color="#ff3a00"/><stop offset="0.040" stop-color="#ff8c00"/><stop offset="0.083" stop-color="#ffc400"/><stop offset="0.137" stop-color="#ffee50"/><stop offset="0.167" stop-color="#ffe43a"/><stop offset="0.167" stop-color="#ffe43a"/><stop offset="0.350" stop-color="#ffe030"/><stop offset="0.542" stop-color="#ffab00"/><stop offset="0.750" stop-color="#ff5a00"/><stop offset="0.917" stop-color="#cc1400"/><stop offset="1.000" stop-color="#5e0202"/></linearGradient>
<linearGradient id="bdg119" gradientUnits="userSpaceOnUse" x1="1022.6" y1="0" x2="1081.3" y2="0" gradientTransform="translate(0 871.9) skewX(-13.41) translate(0 -871.9)"><stop offset="0.000" stop-color="#a80000"/><stop offset="0.020" stop-color="#ff3a00"/><stop offset="0.040" stop-color="#ff8c00"/><stop offset="0.083" stop-color="#ffc400"/><stop offset="0.135" stop-color="#ffee50"/><stop offset="0.165" stop-color="#ffe43a"/><stop offset="0.165" stop-color="#ffe43a"/><stop offset="0.349" stop-color="#ffe030"/><stop offset="0.541" stop-color="#ffab00"/><stop offset="0.750" stop-color="#ff5a00"/><stop offset="0.917" stop-color="#cc1400"/><stop offset="1.000" stop-color="#5e0202"/></linearGradient>
<clipPath id="cliph"><rect x="1525.2" y="514.8" width="357.0999999999999" height="357.20000000000005"/></clipPath>
<linearGradient id="cbh" x1="0" y1="0" x2="1" y2="0"><stop offset="0" stop-color="#340000"/><stop offset="0.1" stop-color="#4a0000"/><stop offset="0.175" stop-color="#800000"/><stop offset="0.23" stop-color="#b00000"/><stop offset="0.27" stop-color="#ff1a00"/><stop offset="0.32" stop-color="#ff5000"/><stop offset="0.425" stop-color="#ff8c00"/><stop offset="0.535" stop-color="#ffa800"/><stop offset="0.645" stop-color="#ffd800"/><stop offset="0.755" stop-color="#ffff20"/><stop offset="0.865" stop-color="#ffffa0"/><stop offset="0.975" stop-color="#ffffff"/></linearGradient>
<linearGradient id="bdh0" gradientUnits="userSpaceOnUse" x1="1617.9" y1="0" x2="1724.5" y2="0" gradientTransform="translate(0 516.3) skewX(-19.48) translate(0 -516.3)"><stop offset="0.000" stop-color="#a80000"/><stop offset="0.011" stop-color="#ff3a00"/><stop offset="0.083" stop-color="#ff8c00"/><stop offset="0.299" stop-color="#ffc400"/><stop offset="0.491" stop-color="#ffee50"/><stop offset="0.599" stop-color="#ffffff"/><stop offset="0.986" stop-color="#ffffff"/><stop offset="0.989" stop-color="#ffe030"/><stop offset="0.992" stop-color="#ffab00"/><stop offset="0.996" stop-color="#ff5a00"/><stop offset="0.999" stop-color="#cc1400"/><stop offset="1.000" stop-color="#5e0202"/></linearGradient>
<linearGradient id="bdh1" gradientUnits="userSpaceOnUse" x1="1617.0" y1="0" x2="1723.2" y2="0" gradientTransform="translate(0 519.3) skewX(-19.48) translate(0 -519.3)"><stop offset="0.000" stop-color="#a80000"/><stop offset="0.011" stop-color="#ff3a00"/><stop offset="0.082" stop-color="#ff8c00"/><stop offset="0.297" stop-color="#ffc400"/><stop offset="0.486" stop-color="#ffee50"/><stop offset="0.593" stop-color="#ffffff"/><stop offset="0.985" stop-color="#ffffff"/><stop offset="0.989" stop-color="#ffe030"/><stop offset="0.992" stop-color="#ffab00"/><stop offset="0.996" stop-color="#ff5a00"/><stop offset="0.999" stop-color="#cc1400"/><stop offset="1.000" stop-color="#5e0202"/></linearGradient>
<linearGradient id="bdh2" gradientUnits="userSpaceOnUse" x1="1616.2" y1="0" x2="1722.0" y2="0" gradientTransform="translate(0 522.3) skewX(-19.48) translate(0 -522.3)"><stop offset="0.000" stop-color="#a80000"/><stop offset="0.011" stop-color="#ff3a00"/><stop offset="0.082" stop-color="#ff8c00"/><stop offset="0.294" stop-color="#ffc400"/><stop offset="0.482" stop-color="#ffee50"/><stop offset="0.588" stop-color="#ffffff"/><stop offset="0.985" stop-color="#ffffff"/><stop offset="0.988" stop-color="#ffe030"/><stop offset="0.992" stop-color="#ffab00"/><stop offset="0.995" stop-color="#ff5a00"/><stop offset="0.998" stop-color="#cc1400"/><stop offset="1.000" stop-color="#5e0202"/></linearGradient>
<linearGradient id="bdh3" gradientUnits="userSpaceOnUse" x1="1615.3" y1="0" x2="1720.7" y2="0" gradientTransform="translate(0 525.3) skewX(-19.48) translate(0 -525.3)"><stop offset="0.000" stop-color="#a80000"/><stop offset="0.011" stop-color="#ff3a00"/><stop offset="0.081" stop-color="#ff8c00"/><stop offset="0.291" stop-color="#ffc400"/><stop offset="0.477" stop-color="#ffee50"/><stop offset="0.582" stop-color="#ffffff"/><stop offset="0.984" stop-color="#ffffff"/><stop offset="0.988" stop-color="#ffe030"/><stop offset="0.991" stop-color="#ffab00"/><stop offset="0.995" stop-color="#ff5a00"/><stop offset="0.998" stop-color="#cc1400"/><stop offset="1.000" stop-color="#5e0202"/></linearGradient>
<linearGradient id="bdh4" gradientUnits="userSpaceOnUse" x1="1614.5" y1="0" x2="1719.4" y2="0" gradientTransform="translate(0 528.3) skewX(-19.48) translate(0 -528.3)"><stop offset="0.000" stop-color="#a80000"/><stop offset="0.011" stop-color="#ff3a00"/><stop offset="0.081" stop-color="#ff8c00"/><stop offset="0.288" stop-color="#ffc400"/><stop offset="0.473" stop-color="#ffee50"/><stop offset="0.577" stop-color="#ffffff"/><stop offset="0.984" stop-color="#ffffff"/><stop offset="0.988" stop-color="#ffe030"/><stop offset="0.991" stop-color="#ffab00"/><stop offset="0.995" stop-color="#ff5a00"/><stop offset="0.998" stop-color="#cc1400"/><stop offset="1.000" stop-color="#5e0202"/></linearGradient>
<linearGradient id="bdh5" gradientUnits="userSpaceOnUse" x1="1613.6" y1="0" x2="1718.1" y2="0" gradientTransform="translate(0 531.3) skewX(-19.48) translate(0 -531.3)"><stop offset="0.000" stop-color="#a80000"/><stop offset="0.011" stop-color="#ff3a00"/><stop offset="0.080" stop-color="#ff8c00"/><stop offset="0.285" stop-color="#ffc400"/><stop offset="0.468" stop-color="#ffee50"/><stop offset="0.571" stop-color="#ffffff"/><stop offset="0.984" stop-color="#ffffff"/><stop offset="0.987" stop-color="#ffe030"/><stop offset="0.991" stop-color="#ffab00"/><stop offset="0.995" stop-color="#ff5a00"/><stop offset="0.998" stop-color="#cc1400"/><stop offset="1.000" stop-color="#5e0202"/></linearGradient>
<linearGradient id="bdh6" gradientUnits="userSpaceOnUse" x1="1612.8" y1="0" x2="1716.8" y2="0" gradientTransform="translate(0 534.3) skewX(-19.48) translate(0 -534.3)"><stop offset="0.000" stop-color="#a80000"/><stop offset="0.012" stop-color="#ff3a00"/><stop offset="0.079" stop-color="#ff8c00"/><stop offset="0.283" stop-color="#ffc400"/><stop offset="0.464" stop-color="#ffee50"/><stop offset="0.565" stop-color="#ffffff"/><stop offset="0.983" stop-color="#ffffff"/><stop offset="0.987" stop-color="#ffe030"/><stop offset="0.991" stop-color="#ffab00"/><stop offset="0.995" stop-color="#ff5a00"/><stop offset="0.998" stop-color="#cc1400"/><stop offset="1.000" stop-color="#5e0202"/></linearGradient>
<linearGradient id="bdh7" gradientUnits="userSpaceOnUse" x1="1612.0" y1="0" x2="1715.6" y2="0" gradientTransform="translate(0 537.3) skewX(-19.48) translate(0 -537.3)"><stop offset="0.000" stop-color="#a80000"/><stop offset="0.012" stop-color="#ff3a00"/><stop offset="0.079" stop-color="#ff8c00"/><stop offset="0.280" stop-color="#ffc400"/><stop offset="0.459" stop-color="#ffee50"/><stop offset="0.560" stop-color="#ffffff"/><stop offset="0.983" stop-color="#ffffff"/><stop offset="0.987" stop-color="#ffe030"/><stop offset="0.991" stop-color="#ffab00"/><stop offset="0.995" stop-color="#ff5a00"/><stop offset="0.998" stop-color="#cc1400"/><stop offset="1.000" stop-color="#5e0202"/></linearGradient>
<linearGradient id="bdh8" gradientUnits="userSpaceOnUse" x1="1611.1" y1="0" x2="1714.3" y2="0" gradientTransform="translate(0 540.3) skewX(-19.48) translate(0 -540.3)"><stop offset="0.000" stop-color="#a80000"/><stop offset="0.012" stop-color="#ff3a00"/><stop offset="0.078" stop-color="#ff8c00"/><stop offset="0.277" stop-color="#ffc400"/><stop offset="0.454" stop-color="#ffee50"/><stop offset="0.554" stop-color="#ffffff"/><stop offset="0.982" stop-color="#ffffff"/><stop offset="0.986" stop-color="#ffe030"/><stop offset="0.990" stop-color="#ffab00"/><stop offset="0.995" stop-color="#ff5a00"/><stop offset="0.998" stop-color="#cc1400"/><stop offset="1.000" stop-color="#5e0202"/></linearGradient>
<linearGradient id="bdh9" gradientUnits="userSpaceOnUse" x1="1610.3" y1="0" x2="1713.0" y2="0" gradientTransform="translate(0 543.3) skewX(-19.48) translate(0 -543.3)"><stop offset="0.000" stop-color="#a80000"/><stop offset="0.012" stop-color="#ff3a00"/><stop offset="0.077" stop-color="#ff8c00"/><stop offset="0.274" stop-color="#ffc400"/><stop offset="0.449" stop-color="#ffee50"/><stop offset="0.548" stop-color="#ffffff"/><stop offset="0.982" stop-color="#ffffff"/><stop offset="0.986" stop-color="#ffe030"/><stop offset="0.990" stop-color="#ffab00"/><stop offset="0.995" stop-color="#ff5a00"/><stop offset="0.998" stop-color="#cc1400"/><stop offset="1.000" stop-color="#5e0202"/></linearGradient>
<linearGradient id="bdh10" gradientUnits="userSpaceOnUse" x1="1609.4" y1="0" x2="1711.7" y2="0" gradientTransform="translate(0 546.3) skewX(-19.48) translate(0 -546.3)"><stop offset="0.000" stop-color="#a80000"/><stop offset="0.012" stop-color="#ff3a00"/><stop offset="0.077" stop-color="#ff8c00"/><stop offset="0.271" stop-color="#ffc400"/><stop offset="0.445" stop-color="#ffee50"/><stop offset="0.542" stop-color="#ffffff"/><stop offset="0.981" stop-color="#ffffff"/><stop offset="0.986" stop-color="#ffe030"/><stop offset="0.990" stop-color="#ffab00"/><stop offset="0.994" stop-color="#ff5a00"/><stop offset="0.998" stop-color="#cc1400"/><stop offset="1.000" stop-color="#5e0202"/></linearGradient>
<linearGradient id="bdh11" gradientUnits="userSpaceOnUse" x1="1608.6" y1="0" x2="1710.4" y2="0" gradientTransform="translate(0 549.3) skewX(-19.48) translate(0 -549.3)"><stop offset="0.000" stop-color="#a80000"/><stop offset="0.012" stop-color="#ff3a00"/><stop offset="0.076" stop-color="#ff8c00"/><stop offset="0.268" stop-color="#ffc400"/><stop offset="0.440" stop-color="#ffee50"/><stop offset="0.536" stop-color="#ffffff"/><stop offset="0.981" stop-color="#ffffff"/><stop offset="0.985" stop-color="#ffe030"/><stop offset="0.990" stop-color="#ffab00"/><stop offset="0.994" stop-color="#ff5a00"/><stop offset="0.998" stop-color="#cc1400"/><stop offset="1.000" stop-color="#5e0202"/></linearGradient>
<linearGradient id="bdh12" gradientUnits="userSpaceOnUse" x1="1607.8" y1="0" x2="1709.2" y2="0" gradientTransform="translate(0 552.3) skewX(-19.48) translate(0 -552.3)"><stop offset="0.000" stop-color="#a80000"/><stop offset="0.012" stop-color="#ff3a00"/><stop offset="0.075" stop-color="#ff8c00"/><stop offset="0.265" stop-color="#ffc400"/><stop offset="0.435" stop-color="#ffee50"/><stop offset="0.530" stop-color="#ffffff"/><stop offset="0.981" stop-color="#ffffff"/><stop offset="0.985" stop-color="#ffe030"/><stop offset="0.989" stop-color="#ffab00"/><stop offset="0.994" stop-color="#ff5a00"/><stop offset="0.998" stop-color="#cc1400"/><stop offset="1.000" stop-color="#5e0202"/></linearGradient>
<linearGradient id="bdh13" gradientUnits="userSpaceOnUse" x1="1606.9" y1="0" x2="1707.9" y2="0" gradientTransform="translate(0 555.3) skewX(-18.38) translate(0 -555.3)"><stop offset="0.000" stop-color="#a80000"/><stop offset="0.012" stop-color="#ff3a00"/><stop offset="0.075" stop-color="#ff8c00"/><stop offset="0.262" stop-color="#ffc400"/><stop offset="0.429" stop-color="#ffee50"/><stop offset="0.524" stop-color="#ffffff"/><stop offset="0.979" stop-color="#ffffff"/><stop offset="0.984" stop-color="#ffe030"/><stop offset="0.989" stop-color="#ffab00"/><stop offset="0.994" stop-color="#ff5a00"/><stop offset="0.998" stop-color="#cc1400"/><stop offset="1.000" stop-color="#5e0202"/></linearGradient>
<linearGradient id="bdh14" gradientUnits="userSpaceOnUse" x1="1606.3" y1="0" x2="1706.6" y2="0" gradientTransform="translate(0 558.3) skewX(-17.64) translate(0 -558.3)"><stop offset="0.000" stop-color="#a80000"/><stop offset="0.012" stop-color="#ff3a00"/><stop offset="0.074" stop-color="#ff8c00"/><stop offset="0.257" stop-color="#ffc400"/><stop offset="0.421" stop-color="#ffee50"/><stop offset="0.513" stop-color="#ffffff"/><stop offset="0.972" stop-color="#ffffff"/><stop offset="0.978" stop-color="#ffe030"/><stop offset="0.985" stop-color="#ffab00"/><stop offset="0.992" stop-color="#ff5a00"/><stop offset="0.997" stop-color="#cc1400"/><stop offset="1.000" stop-color="#5e0202"/></linearGradient>
<linearGradient id="bdh15" gradientUnits="userSpaceOnUse" x1="1605.6" y1="0" x2="1705.4" y2="0" gradientTransform="translate(0 561.3) skewX(-17.64) translate(0 -561.3)"><stop offset="0.000" stop-color="#a80000"/><stop offset="0.012" stop-color="#ff3a00"/><stop offset="0.072" stop-color="#ff8c00"/><stop offset="0.251" stop-color="#ffc400"/><stop offset="0.412" stop-color="#ffee50"/><stop offset="0.502" stop-color="#ffffff"/><stop offset="0.965" stop-color="#ffffff"/><stop offset="0.973" stop-color="#ffe030"/><stop offset="0.981" stop-color="#ffab00"/><stop offset="0.989" stop-color="#ff5a00"/><stop offset="0.996" stop-color="#cc1400"/><stop offset="1.000" stop-color="#5e0202"/></linearGradient>
<linearGradient id="bdh16" gradientUnits="userSpaceOnUse" x1="1605.0" y1="0" x2="1704.1" y2="0" gradientTransform="translate(0 564.3) skewX(-17.64) translate(0 -564.3)"><stop offset="0.000" stop-color="#a80000"/><stop offset="0.012" stop-color="#ff3a00"/><stop offset="0.071" stop-color="#ff8c00"/><stop offset="0.246" stop-color="#ffc400"/><stop offset="0.403" stop-color="#ffee50"/><stop offset="0.491" stop-color="#ffffff"/><stop offset="0.957" stop-color="#ffffff"/><stop offset="0.967" stop-color="#ffe030"/><stop offset="0.977" stop-color="#ffab00"/><stop offset="0.987" stop-color="#ff5a00"/><stop offset="0.996" stop-color="#cc1400"/><stop offset="1.000" stop-color="#5e0202"/></linearGradient>
<linearGradient id="bdh17" gradientUnits="userSpaceOnUse" x1="1604.3" y1="0" x2="1702.8" y2="0" gradientTransform="translate(0 567.3) skewX(-17.64) translate(0 -567.3)"><stop offset="0.000" stop-color="#a80000"/><stop offset="0.012" stop-color="#ff3a00"/><stop offset="0.070" stop-color="#ff8c00"/><stop offset="0.240" stop-color="#ffc400"/><stop offset="0.394" stop-color="#ffee50"/><stop offset="0.480" stop-color="#ffffff"/><stop offset="0.950" stop-color="#ffffff"/><stop offset="0.961" stop-color="#ffe030"/><stop offset="0.972" stop-color="#ffab00"/><stop offset="0.985" stop-color="#ff5a00"/><stop offset="0.995" stop-color="#cc1400"/><stop offset="1.000" stop-color="#5e0202"/></linearGradient>
<linearGradient id="bdh18" gradientUnits="userSpaceOnUse" x1="1603.7" y1="0" x2="1701.6" y2="0" gradientTransform="translate(0 570.3) skewX(-17.64) translate(0 -570.3)"><stop offset="0.000" stop-color="#a80000"/><stop offset="0.012" stop-color="#ff3a00"/><stop offset="0.069" stop-color="#ff8c00"/><stop offset="0.234" stop-color="#ffc400"/><stop offset="0.385" stop-color="#ffee50"/><stop offset="0.469" stop-color="#ffffff"/><stop offset="0.942" stop-color="#ffffff"/><stop offset="0.955" stop-color="#ffe030"/><stop offset="0.968" stop-color="#ffab00"/><stop offset="0.983" stop-color="#ff5a00"/><stop offset="0.994" stop-color="#cc1400"/><stop offset="1.000" stop-color="#5e0202"/></linearGradient>
<linearGradient id="bdh19" gradientUnits="userSpaceOnUse" x1="1603.0" y1="0" x2="1700.3" y2="0" gradientTransform="translate(0 573.3) skewX(-17.64) translate(0 -573.3)"><stop offset="0.000" stop-color="#a80000"/><stop offset="0.012" stop-color="#ff3a00"/><stop offset="0.067" stop-color="#ff8c00"/><stop offset="0.229" stop-color="#ffc400"/><stop offset="0.375" stop-color="#ffee50"/><stop offset="0.458" stop-color="#ffffff"/><stop offset="0.934" stop-color="#ffffff"/><stop offset="0.949" stop-color="#ffe030"/><stop offset="0.964" stop-color="#ffab00"/><stop offset="0.980" stop-color="#ff5a00"/><stop offset="0.993" stop-color="#cc1400"/><stop offset="1.000" stop-color="#5e0202"/></linearGradient>
<linearGradient id="bdh20" gradientUnits="userSpaceOnUse" x1="1602.4" y1="0" x2="1699.1" y2="0" gradientTransform="translate(0 576.3) skewX(-17.64) translate(0 -576.3)"><stop offset="0.000" stop-color="#a80000"/><stop offset="0.012" stop-color="#ff3a00"/><stop offset="0.066" stop-color="#ff8c00"/><stop offset="0.223" stop-color="#ffc400"/><stop offset="0.366" stop-color="#ffee50"/><stop offset="0.446" stop-color="#ffffff"/><stop offset="0.926" stop-color="#ffffff"/><stop offset="0.943" stop-color="#ffe030"/><stop offset="0.960" stop-color="#ffab00"/><stop offset="0.978" stop-color="#ff5a00"/><stop offset="0.993" stop-color="#cc1400"/><stop offset="1.000" stop-color="#5e0202"/></linearGradient>
<linearGradient id="bdh21" gradientUnits="userSpaceOnUse" x1="1601.8" y1="0" x2="1697.8" y2="0" gradientTransform="translate(0 579.3) skewX(-17.16) translate(0 -579.3)"><stop offset="0.000" stop-color="#a80000"/><stop offset="0.012" stop-color="#ff3a00"/><stop offset="0.065" stop-color="#ff8c00"/><stop offset="0.217" stop-color="#ffc400"/><stop offset="0.356" stop-color="#ffee50"/><stop offset="0.434" stop-color="#ffffff"/><stop offset="0.918" stop-color="#ffffff"/><stop offset="0.936" stop-color="#ffe030"/><stop offset="0.955" stop-color="#ffab00"/><stop offset="0.976" stop-color="#ff5a00"/><stop offset="0.992" stop-color="#cc1400"/><stop offset="1.000" stop-color="#5e0202"/></linearGradient>
<linearGradient id="bdh22" gradientUnits="userSpaceOnUse" x1="1601.1" y1="0" x2="1696.7" y2="0" gradientTransform="translate(0 582.3) skewX(-15.82) translate(0 -582.3)"><stop offset="0.000" stop-color="#a80000"/><stop offset="0.013" stop-color="#ff3a00"/><stop offset="0.064" stop-color="#ff8c00"/><stop offset="0.213" stop-color="#ffc400"/><stop offset="0.350" stop-color="#ffee50"/><stop offset="0.426" stop-color="#ffffff"/><stop offset="0.911" stop-color="#ffffff"/><stop offset="0.930" stop-color="#ffe030"/><stop offset="0.951" stop-color="#ffab00"/><stop offset="0.973" stop-color="#ff5a00"/><stop offset="0.991" stop-color="#cc1400"/><stop offset="1.000" stop-color="#5e0202"/></linearGradient>
<linearGradient id="bdh23" gradientUnits="userSpaceOnUse" x1="1600.4" y1="0" x2="1695.7" y2="0" gradientTransform="translate(0 585.3) skewX(-15.82) translate(0 -585.3)"><stop offset="0.000" stop-color="#a80000"/><stop offset="0.013" stop-color="#ff3a00"/><stop offset="0.063" stop-color="#ff8c00"/><stop offset="0.210" stop-color="#ffc400"/><stop offset="0.344" stop-color="#ffee50"/><stop offset="0.419" stop-color="#ffffff"/><stop offset="0.903" stop-color="#ffffff"/><stop offset="0.924" stop-color="#ffe030"/><stop offset="0.947" stop-color="#ffab00"/><stop offset="0.971" stop-color="#ff5a00"/><stop offset="0.990" stop-color="#cc1400"/><stop offset="1.000" stop-color="#5e0202"/></linearGradient>
<linearGradient id="bdh24" gradientUnits="userSpaceOnUse" x1="1599.7" y1="0" x2="1694.7" y2="0" gradientTransform="translate(0 588.3) skewX(-15.82) translate(0 -588.3)"><stop offset="0.000" stop-color="#a80000"/><stop offset="0.013" stop-color="#ff3a00"/><stop offset="0.062" stop-color="#ff8c00"/><stop offset="0.206" stop-color="#ffc400"/><stop offset="0.338" stop-color="#ffee50"/><stop offset="0.412" stop-color="#ffffff"/><stop offset="0.895" stop-color="#ffffff"/><stop offset="0.918" stop-color="#ffe030"/><stop offset="0.943" stop-color="#ffab00"/><stop offset="0.969" stop-color="#ff5a00"/><stop offset="0.990" stop-color="#cc1400"/><stop offset="1.000" stop-color="#5e0202"/></linearGradient>
<linearGradient id="bdh25" gradientUnits="userSpaceOnUse" x1="1599.0" y1="0" x2="1693.7" y2="0" gradientTransform="translate(0 591.3) skewX(-15.82) translate(0 -591.3)"><stop offset="0.000" stop-color="#a80000"/><stop offset="0.013" stop-color="#ff3a00"/><stop offset="0.061" stop-color="#ff8c00"/><stop offset="0.203" stop-color="#ffc400"/><stop offset="0.332" stop-color="#ffee50"/><stop offset="0.405" stop-color="#ffffff"/><stop offset="0.888" stop-color="#ffffff"/><stop offset="0.912" stop-color="#ffe030"/><stop offset="0.938" stop-color="#ffab00"/><stop offset="0.966" stop-color="#ff5a00"/><stop offset="0.989" stop-color="#cc1400"/><stop offset="1.000" stop-color="#5e0202"/></linearGradient>
<linearGradient id="bdh26" gradientUnits="userSpaceOnUse" x1="1598.3" y1="0" x2="1692.7" y2="0" gradientTransform="translate(0 594.3) skewX(-15.82) translate(0 -594.3)"><stop offset="0.000" stop-color="#a80000"/><stop offset="0.013" stop-color="#ff3a00"/><stop offset="0.060" stop-color="#ff8c00"/><stop offset="0.199" stop-color="#ffc400"/><stop offset="0.326" stop-color="#ffee50"/><stop offset="0.398" stop-color="#ffffff"/><stop offset="0.880" stop-color="#ffffff"/><stop offset="0.906" stop-color="#ffe030"/><stop offset="0.934" stop-color="#ffab00"/><stop offset="0.964" stop-color="#ff5a00"/><stop offset="0.988" stop-color="#cc1400"/><stop offset="1.000" stop-color="#5e0202"/></linearGradient>
<linearGradient id="bdh27" gradientUnits="userSpaceOnUse" x1="1597.6" y1="0" x2="1691.7" y2="0" gradientTransform="translate(0 597.3) skewX(-15.82) translate(0 -597.3)"><stop offset="0.000" stop-color="#a80000"/><stop offset="0.013" stop-color="#ff3a00"/><stop offset="0.060" stop-color="#ff8c00"/><stop offset="0.195" stop-color="#ffc400"/><stop offset="0.320" stop-color="#ffee50"/><stop offset="0.391" stop-color="#ffffff"/><stop offset="0.872" stop-color="#ffffff"/><stop offset="0.900" stop-color="#ffe030"/><stop offset="0.930" stop-color="#ffab00"/><stop offset="0.962" stop-color="#ff5a00"/><stop offset="0.987" stop-color="#cc1400"/><stop offset="1.000" stop-color="#5e0202"/></linearGradient>
<linearGradient id="bdh28" gradientUnits="userSpaceOnUse" x1="1596.9" y1="0" x2="1690.7" y2="0" gradientTransform="translate(0 600.3) skewX(-15.82) translate(0 -600.3)"><stop offset="0.000" stop-color="#a80000"/><stop offset="0.013" stop-color="#ff3a00"/><stop offset="0.059" stop-color="#ff8c00"/><stop offset="0.192" stop-color="#ffc400"/><stop offset="0.314" stop-color="#ffee50"/><stop offset="0.383" stop-color="#ffffff"/><stop offset="0.864" stop-color="#ffffff"/><stop offset="0.894" stop-color="#ffe030"/><stop offset="0.925" stop-color="#ffab00"/><stop offset="0.959" stop-color="#ff5a00"/><stop offset="0.986" stop-color="#cc1400"/><stop offset="1.000" stop-color="#5e0202"/></linearGradient>
<linearGradient id="bdh29" gradientUnits="userSpaceOnUse" x1="1596.2" y1="0" x2="1689.7" y2="0" gradientTransform="translate(0 603.3) skewX(-15.82) translate(0 -603.3)"><stop offset="0.000" stop-color="#a80000"/><stop offset="0.013" stop-color="#ff3a00"/><stop offset="0.058" stop-color="#ff8c00"/><stop offset="0.188" stop-color="#ffc400"/><stop offset="0.308" stop-color="#ffee50"/><stop offset="0.376" stop-color="#ffffff"/><stop offset="0.856" stop-color="#ffffff"/><stop offset="0.888" stop-color="#ffe030"/><stop offset="0.921" stop-color="#ffab00"/><stop offset="0.957" stop-color="#ff5a00"/><stop offset="0.986" stop-color="#cc1400"/><stop offset="1.000" stop-color="#5e0202"/></linearGradient>
<linearGradient id="bdh30" gradientUnits="userSpaceOnUse" x1="1595.5" y1="0" x2="1688.7" y2="0" gradientTransform="translate(0 606.3) skewX(-15.82) translate(0 -606.3)"><stop offset="0.000" stop-color="#a80000"/><stop offset="0.013" stop-color="#ff3a00"/><stop offset="0.057" stop-color="#ff8c00"/><stop offset="0.184" stop-color="#ffc400"/><stop offset="0.302" stop-color="#ffee50"/><stop offset="0.369" stop-color="#ffffff"/><stop offset="0.848" stop-color="#ffffff"/><stop offset="0.882" stop-color="#ffe030"/><stop offset="0.917" stop-color="#ffab00"/><stop offset="0.955" stop-color="#ff5a00"/><stop offset="0.985" stop-color="#cc1400"/><stop offset="1.000" stop-color="#5e0202"/></linearGradient>
<linearGradient id="bdh31" gradientUnits="userSpaceOnUse" x1="1594.8" y1="0" x2="1687.7" y2="0" gradientTransform="translate(0 609.3) skewX(-15.82) translate(0 -609.3)"><stop offset="0.000" stop-color="#a80000"/><stop offset="0.013" stop-color="#ff3a00"/><stop offset="0.056" stop-color="#ff8c00"/><stop offset="0.181" stop-color="#ffc400"/><stop offset="0.296" stop-color="#ffee50"/><stop offset="0.361" stop-color="#ffffff"/><stop offset="0.840" stop-color="#ffffff"/><stop offset="0.876" stop-color="#ffe030"/><stop offset="0.912" stop-color="#ffab00"/><stop offset="0.952" stop-color="#ff5a00"/><stop offset="0.984" stop-color="#cc1400"/><stop offset="1.000" stop-color="#5e0202"/></linearGradient>
<linearGradient id="bdh32" gradientUnits="userSpaceOnUse" x1="1594.1" y1="0" x2="1686.7" y2="0" gradientTransform="translate(0 612.3) skewX(-15.82) translate(0 -612.3)"><stop offset="0.000" stop-color="#a80000"/><stop offset="0.013" stop-color="#ff3a00"/><stop offset="0.055" stop-color="#ff8c00"/><stop offset="0.177" stop-color="#ffc400"/><stop offset="0.290" stop-color="#ffee50"/><stop offset="0.354" stop-color="#ffffff"/><stop offset="0.832" stop-color="#ffffff"/><stop offset="0.869" stop-color="#ffe030"/><stop offset="0.908" stop-color="#ffab00"/><stop offset="0.950" stop-color="#ff5a00"/><stop offset="0.983" stop-color="#cc1400"/><stop offset="1.000" stop-color="#5e0202"/></linearGradient>
<linearGradient id="bdh33" gradientUnits="userSpaceOnUse" x1="1593.4" y1="0" x2="1685.7" y2="0" gradientTransform="translate(0 615.3) skewX(-15.82) translate(0 -615.3)"><stop offset="0.000" stop-color="#a80000"/><stop offset="0.013" stop-color="#ff3a00"/><stop offset="0.055" stop-color="#ff8c00"/><stop offset="0.173" stop-color="#ffc400"/><stop offset="0.284" stop-color="#ffee50"/><stop offset="0.346" stop-color="#ffffff"/><stop offset="0.824" stop-color="#ffffff"/><stop offset="0.863" stop-color="#ffe030"/><stop offset="0.903" stop-color="#ffab00"/><stop offset="0.947" stop-color="#ff5a00"/><stop offset="0.982" stop-color="#cc1400"/><stop offset="1.000" stop-color="#5e0202"/></linearGradient>
<linearGradient id="bdh34" gradientUnits="userSpaceOnUse" x1="1592.7" y1="0" x2="1684.7" y2="0" gradientTransform="translate(0 618.3) skewX(-15.82) translate(0 -618.3)"><stop offset="0.000" stop-color="#a80000"/><stop offset="0.013" stop-color="#ff3a00"/><stop offset="0.054" stop-color="#ff8c00"/><stop offset="0.169" stop-color="#ffc400"/><stop offset="0.278" stop-color="#ffee50"/><stop offset="0.339" stop-color="#ffffff"/><stop offset="0.816" stop-color="#ffffff"/><stop offset="0.857" stop-color="#ffe030"/><stop offset="0.899" stop-color="#ffab00"/><stop offset="0.945" stop-color="#ff5a00"/><stop offset="0.982" stop-color="#cc1400"/><stop offset="1.000" stop-color="#5e0202"/></linearGradient>
<linearGradient id="bdh35" gradientUnits="userSpaceOnUse" x1="1592.0" y1="0" x2="1683.7" y2="0" gradientTransform="translate(0 621.3) skewX(-15.82) translate(0 -621.3)"><stop offset="0.000" stop-color="#a80000"/><stop offset="0.013" stop-color="#ff3a00"/><stop offset="0.053" stop-color="#ff8c00"/><stop offset="0.166" stop-color="#ffc400"/><stop offset="0.272" stop-color="#ffee50"/><stop offset="0.331" stop-color="#ffffff"/><stop offset="0.808" stop-color="#ffffff"/><stop offset="0.850" stop-color="#ffe030"/><stop offset="0.894" stop-color="#ffab00"/><stop offset="0.942" stop-color="#ff5a00"/><stop offset="0.981" stop-color="#cc1400"/><stop offset="1.000" stop-color="#5e0202"/></linearGradient>
<linearGradient id="bdh36" gradientUnits="userSpaceOnUse" x1="1591.3" y1="0" x2="1682.7" y2="0" gradientTransform="translate(0 624.3) skewX(-15.82) translate(0 -624.3)"><stop offset="0.000" stop-color="#a80000"/><stop offset="0.013" stop-color="#ff3a00"/><stop offset="0.052" stop-color="#ff8c00"/><stop offset="0.162" stop-color="#ffc400"/><stop offset="0.265" stop-color="#ffee50"/><stop offset="0.323" stop-color="#ffffff"/><stop offset="0.800" stop-color="#ffffff"/><stop offset="0.844" stop-color="#ffe030"/><stop offset="0.890" stop-color="#ffab00"/><stop offset="0.940" stop-color="#ff5a00"/><stop offset="0.980" stop-color="#cc1400"/><stop offset="1.000" stop-color="#5e0202"/></linearGradient>
<linearGradient id="bdh37" gradientUnits="userSpaceOnUse" x1="1590.6" y1="0" x2="1681.7" y2="0" gradientTransform="translate(0 627.3) skewX(-16.41) translate(0 -627.3)"><stop offset="0.000" stop-color="#a80000"/><stop offset="0.013" stop-color="#ff3a00"/><stop offset="0.051" stop-color="#ff8c00"/><stop offset="0.158" stop-color="#ffc400"/><stop offset="0.259" stop-color="#ffee50"/><stop offset="0.316" stop-color="#ffffff"/><stop offset="0.791" stop-color="#ffffff"/><stop offset="0.837" stop-color="#ffe030"/><stop offset="0.885" stop-color="#ffab00"/><stop offset="0.937" stop-color="#ff5a00"/><stop offset="0.979" stop-color="#cc1400"/><stop offset="1.000" stop-color="#5e0202"/></linearGradient>
<linearGradient id="bdh38" gradientUnits="userSpaceOnUse" x1="1589.8" y1="0" x2="1680.6" y2="0" gradientTransform="translate(0 630.3) skewX(-18.00) translate(0 -630.3)"><stop offset="0.000" stop-color="#a80000"/><stop offset="0.013" stop-color="#ff3a00"/><stop offset="0.051" stop-color="#ff8c00"/><stop offset="0.156" stop-color="#ffc400"/><stop offset="0.256" stop-color="#ffee50"/><stop offset="0.313" stop-color="#ffffff"/><stop offset="0.782" stop-color="#ffffff"/><stop offset="0.830" stop-color="#ffe030"/><stop offset="0.880" stop-color="#ffab00"/><stop offset="0.935" stop-color="#ff5a00"/><stop offset="0.978" stop-color="#cc1400"/><stop offset="1.000" stop-color="#5e0202"/></linearGradient>
<linearGradient id="bdh39" gradientUnits="userSpaceOnUse" x1="1589.1" y1="0" x2="1679.4" y2="0" gradientTransform="translate(0 633.3) skewX(-18.00) translate(0 -633.3)"><stop offset="0.000" stop-color="#a80000"/><stop offset="0.013" stop-color="#ff3a00"/><stop offset="0.051" stop-color="#ff8c00"/><stop offset="0.156" stop-color="#ffc400"/><stop offset="0.255" stop-color="#ffee50"/><stop offset="0.311" stop-color="#ffffff"/><stop offset="0.773" stop-color="#ffffff"/><stop offset="0.823" stop-color="#ffe030"/><stop offset="0.875" stop-color="#ffab00"/><stop offset="0.932" stop-color="#ff5a00"/><stop offset="0.977" stop-color="#cc1400"/><stop offset="1.000" stop-color="#5e0202"/></linearGradient>
<linearGradient id="bdh40" gradientUnits="userSpaceOnUse" x1="1588.3" y1="0" x2="1678.2" y2="0" gradientTransform="translate(0 636.3) skewX(-18.00) translate(0 -636.3)"><stop offset="0.000" stop-color="#a80000"/><stop offset="0.013" stop-color="#ff3a00"/><stop offset="0.051" stop-color="#ff8c00"/><stop offset="0.155" stop-color="#ffc400"/><stop offset="0.254" stop-color="#ffee50"/><stop offset="0.310" stop-color="#ffffff"/><stop offset="0.763" stop-color="#ffffff"/><stop offset="0.815" stop-color="#ffe030"/><stop offset="0.870" stop-color="#ffab00"/><stop offset="0.929" stop-color="#ff5a00"/><stop offset="0.976" stop-color="#cc1400"/><stop offset="1.000" stop-color="#5e0202"/></linearGradient>
<linearGradient id="bdh41" gradientUnits="userSpaceOnUse" x1="1587.6" y1="0" x2="1677.0" y2="0" gradientTransform="translate(0 639.3) skewX(-18.00) translate(0 -639.3)"><stop offset="0.000" stop-color="#a80000"/><stop offset="0.013" stop-color="#ff3a00"/><stop offset="0.050" stop-color="#ff8c00"/><stop offset="0.154" stop-color="#ffc400"/><stop offset="0.253" stop-color="#ffee50"/><stop offset="0.308" stop-color="#ffffff"/><stop offset="0.754" stop-color="#ffffff"/><stop offset="0.808" stop-color="#ffe030"/><stop offset="0.865" stop-color="#ffab00"/><stop offset="0.926" stop-color="#ff5a00"/><stop offset="0.975" stop-color="#cc1400"/><stop offset="1.000" stop-color="#5e0202"/></linearGradient>
<linearGradient id="bdh42" gradientUnits="userSpaceOnUse" x1="1586.8" y1="0" x2="1675.8" y2="0" gradientTransform="translate(0 642.3) skewX(-18.00) translate(0 -642.3)"><stop offset="0.000" stop-color="#a80000"/><stop offset="0.013" stop-color="#ff3a00"/><stop offset="0.050" stop-color="#ff8c00"/><stop offset="0.153" stop-color="#ffc400"/><stop offset="0.251" stop-color="#ffee50"/><stop offset="0.306" stop-color="#ffffff"/><stop offset="0.744" stop-color="#ffffff"/><stop offset="0.800" stop-color="#ffe030"/><stop offset="0.859" stop-color="#ffab00"/><stop offset="0.923" stop-color="#ff5a00"/><stop offset="0.974" stop-color="#cc1400"/><stop offset="1.000" stop-color="#5e0202"/></linearGradient>
<linearGradient id="bdh43" gradientUnits="userSpaceOnUse" x1="1586.1" y1="0" x2="1674.6" y2="0" gradientTransform="translate(0 645.3) skewX(-18.00) translate(0 -645.3)"><stop offset="0.000" stop-color="#a80000"/><stop offset="0.014" stop-color="#ff3a00"/><stop offset="0.050" stop-color="#ff8c00"/><stop offset="0.152" stop-color="#ffc400"/><stop offset="0.250" stop-color="#ffee50"/><stop offset="0.305" stop-color="#ffffff"/><stop offset="0.734" stop-color="#ffffff"/><stop offset="0.793" stop-color="#ffe030"/><stop offset="0.854" stop-color="#ffab00"/><stop offset="0.920" stop-color="#ff5a00"/><stop offset="0.973" stop-color="#cc1400"/><stop offset="1.000" stop-color="#5e0202"/></linearGradient>
<linearGradient id="bdh44" gradientUnits="userSpaceOnUse" x1="1585.3" y1="0" x2="1673.4" y2="0" gradientTransform="translate(0 648.3) skewX(-18.00) translate(0 -648.3)"><stop offset="0.000" stop-color="#a80000"/><stop offset="0.014" stop-color="#ff3a00"/><stop offset="0.050" stop-color="#ff8c00"/><stop offset="0.152" stop-color="#ffc400"/><stop offset="0.249" stop-color="#ffee50"/><stop offset="0.303" stop-color="#ffffff"/><stop offset="0.724" stop-color="#ffffff"/><stop offset="0.785" stop-color="#ffe030"/><stop offset="0.848" stop-color="#ffab00"/><stop offset="0.917" stop-color="#ff5a00"/><stop offset="0.972" stop-color="#cc1400"/><stop offset="1.000" stop-color="#5e0202"/></linearGradient>
<linearGradient id="bdh45" gradientUnits="userSpaceOnUse" x1="1584.6" y1="0" x2="1672.2" y2="0" gradientTransform="translate(0 651.3) skewX(-18.00) translate(0 -651.3)"><stop offset="0.000" stop-color="#a80000"/><stop offset="0.014" stop-color="#ff3a00"/><stop offset="0.050" stop-color="#ff8c00"/><stop offset="0.151" stop-color="#ffc400"/><stop offset="0.247" stop-color="#ffee50"/><stop offset="0.302" stop-color="#ffffff"/><stop offset="0.714" stop-color="#ffffff"/><stop offset="0.777" stop-color="#ffe030"/><stop offset="0.843" stop-color="#ffab00"/><stop offset="0.914" stop-color="#ff5a00"/><stop offset="0.971" stop-color="#cc1400"/><stop offset="1.000" stop-color="#5e0202"/></linearGradient>
<linearGradient id="bdh46" gradientUnits="userSpaceOnUse" x1="1583.8" y1="0" x2="1671.0" y2="0" gradientTransform="translate(0 654.3) skewX(-18.00) translate(0 -654.3)"><stop offset="0.000" stop-color="#a80000"/><stop offset="0.014" stop-color="#ff3a00"/><stop offset="0.050" stop-color="#ff8c00"/><stop offset="0.150" stop-color="#ffc400"/><stop offset="0.246" stop-color="#ffee50"/><stop offset="0.300" stop-color="#ffffff"/><stop offset="0.704" stop-color="#ffffff"/><stop offset="0.769" stop-color="#ffe030"/><stop offset="0.837" stop-color="#ffab00"/><stop offset="0.911" stop-color="#ff5a00"/><stop offset="0.970" stop-color="#cc1400"/><stop offset="1.000" stop-color="#5e0202"/></linearGradient>
<linearGradient id="bdh47" gradientUnits="userSpaceOnUse" x1="1583.1" y1="0" x2="1669.8" y2="0" gradientTransform="translate(0 657.3) skewX(-18.00) translate(0 -657.3)"><stop offset="0.000" stop-color="#a80000"/><stop offset="0.014" stop-color="#ff3a00"/><stop offset="0.050" stop-color="#ff8c00"/><stop offset="0.149" stop-color="#ffc400"/><stop offset="0.245" stop-color="#ffee50"/><stop offset="0.298" stop-color="#ffffff"/><stop offset="0.694" stop-color="#ffffff"/><stop offset="0.761" stop-color="#ffe030"/><stop offset="0.832" stop-color="#ffab00"/><stop offset="0.908" stop-color="#ff5a00"/><stop offset="0.969" stop-color="#cc1400"/><stop offset="1.000" stop-color="#5e0202"/></linearGradient>
<linearGradient id="bdh48" gradientUnits="userSpaceOnUse" x1="1582.3" y1="0" x2="1668.6" y2="0" gradientTransform="translate(0 660.3) skewX(-17.69) translate(0 -660.3)"><stop offset="0.000" stop-color="#a80000"/><stop offset="0.014" stop-color="#ff3a00"/><stop offset="0.049" stop-color="#ff8c00"/><stop offset="0.148" stop-color="#ffc400"/><stop offset="0.243" stop-color="#ffee50"/><stop offset="0.296" stop-color="#ffffff"/><stop offset="0.683" stop-color="#ffffff"/><stop offset="0.752" stop-color="#ffe030"/><stop offset="0.825" stop-color="#ffab00"/><stop offset="0.905" stop-color="#ff5a00"/><stop offset="0.968" stop-color="#cc1400"/><stop offset="1.000" stop-color="#5e0202"/></linearGradient>
<linearGradient id="bdh49" gradientUnits="userSpaceOnUse" x1="1581.6" y1="0" x2="1667.4" y2="0" gradientTransform="translate(0 663.3) skewX(-17.48) translate(0 -663.3)"><stop offset="0.000" stop-color="#a80000"/><stop offset="0.014" stop-color="#ff3a00"/><stop offset="0.049" stop-color="#ff8c00"/><stop offset="0.147" stop-color="#ffc400"/><stop offset="0.241" stop-color="#ffee50"/><stop offset="0.294" stop-color="#ffffff"/><stop offset="0.660" stop-color="#ffffff"/><stop offset="0.735" stop-color="#ffe030"/><stop offset="0.813" stop-color="#ffab00"/><stop offset="0.898" stop-color="#ff5a00"/><stop offset="0.966" stop-color="#cc1400"/><stop offset="1.000" stop-color="#5e0202"/></linearGradient>
<linearGradient id="bdh50" gradientUnits="userSpaceOnUse" x1="1580.9" y1="0" x2="1666.3" y2="0" gradientTransform="translate(0 666.3) skewX(-17.48) translate(0 -666.3)"><stop offset="0.000" stop-color="#a80000"/><stop offset="0.014" stop-color="#ff3a00"/><stop offset="0.049" stop-color="#ff8c00"/><stop offset="0.146" stop-color="#ffc400"/><stop offset="0.239" stop-color="#ffee50"/><stop offset="0.292" stop-color="#ffffff"/><stop offset="0.638" stop-color="#ffffff"/><stop offset="0.718" stop-color="#ffe030"/><stop offset="0.801" stop-color="#ffab00"/><stop offset="0.891" stop-color="#ff5a00"/><stop offset="0.964" stop-color="#cc1400"/><stop offset="1.000" stop-color="#5e0202"/></linearGradient>
<linearGradient id="bdh51" gradientUnits="userSpaceOnUse" x1="1580.1" y1="0" x2="1665.1" y2="0" gradientTransform="translate(0 669.3) skewX(-17.48) translate(0 -669.3)"><stop offset="0.000" stop-color="#a80000"/><stop offset="0.014" stop-color="#ff3a00"/><stop offset="0.049" stop-color="#ff8c00"/><stop offset="0.145" stop-color="#ffc400"/><stop offset="0.238" stop-color="#ffee50"/><stop offset="0.290" stop-color="#ffffff"/><stop offset="0.615" stop-color="#ffffff"/><stop offset="0.700" stop-color="#ffe030"/><stop offset="0.788" stop-color="#ffab00"/><stop offset="0.885" stop-color="#ff5a00"/><stop offset="0.962" stop-color="#cc1400"/><stop offset="1.000" stop-color="#5e0202"/></linearGradient>
<linearGradient id="bdh52" gradientUnits="userSpaceOnUse" x1="1579.4" y1="0" x2="1664.0" y2="0" gradientTransform="translate(0 672.3) skewX(-17.48) translate(0 -672.3)"><stop offset="0.000" stop-color="#a80000"/><stop offset="0.014" stop-color="#ff3a00"/><stop offset="0.049" stop-color="#ff8c00"/><stop offset="0.144" stop-color="#ffc400"/><stop offset="0.236" stop-color="#ffee50"/><stop offset="0.287" stop-color="#ffffff"/><stop offset="0.593" stop-color="#ffffff"/><stop offset="0.682" stop-color="#ffe030"/><stop offset="0.776" stop-color="#ffab00"/><stop offset="0.878" stop-color="#ff5a00"/><stop offset="0.959" stop-color="#cc1400"/><stop offset="1.000" stop-color="#5e0202"/></linearGradient>
<linearGradient id="bdh53" gradientUnits="userSpaceOnUse" x1="1578.7" y1="0" x2="1662.8" y2="0" gradientTransform="translate(0 675.3) skewX(-17.48) translate(0 -675.3)"><stop offset="0.000" stop-color="#a80000"/><stop offset="0.014" stop-color="#ff3a00"/><stop offset="0.048" stop-color="#ff8c00"/><stop offset="0.143" stop-color="#ffc400"/><stop offset="0.234" stop-color="#ffee50"/><stop offset="0.285" stop-color="#ffffff"/><stop offset="0.570" stop-color="#ffffff"/><stop offset="0.664" stop-color="#ffe030"/><stop offset="0.763" stop-color="#ffab00"/><stop offset="0.871" stop-color="#ff5a00"/><stop offset="0.957" stop-color="#cc1400"/><stop offset="1.000" stop-color="#5e0202"/></linearGradient>
<linearGradient id="bdh54" gradientUnits="userSpaceOnUse" x1="1577.9" y1="0" x2="1661.7" y2="0" gradientTransform="translate(0 678.3) skewX(-17.48) translate(0 -678.3)"><stop offset="0.000" stop-color="#a80000"/><stop offset="0.014" stop-color="#ff3a00"/><stop offset="0.048" stop-color="#ff8c00"/><stop offset="0.141" stop-color="#ffc400"/><stop offset="0.232" stop-color="#ffee50"/><stop offset="0.283" stop-color="#ffffff"/><stop offset="0.546" stop-color="#ffffff"/><stop offset="0.646" stop-color="#ffe030"/><stop offset="0.750" stop-color="#ffab00"/><stop offset="0.864" stop-color="#ff5a00"/><stop offset="0.955" stop-color="#cc1400"/><stop offset="1.000" stop-color="#5e0202"/></linearGradient>
<linearGradient id="bdh55" gradientUnits="userSpaceOnUse" x1="1577.2" y1="0" x2="1660.5" y2="0" gradientTransform="translate(0 681.3) skewX(-18.57) translate(0 -681.3)"><stop offset="0.000" stop-color="#a80000"/><stop offset="0.014" stop-color="#ff3a00"/><stop offset="0.048" stop-color="#ff8c00"/><stop offset="0.141" stop-color="#ffc400"/><stop offset="0.231" stop-color="#ffee50"/><stop offset="0.282" stop-color="#ffffff"/><stop offset="0.521" stop-color="#ffffff"/><stop offset="0.627" stop-color="#ffe030"/><stop offset="0.737" stop-color="#ffab00"/><stop offset="0.856" stop-color="#ff5a00"/><stop offset="0.952" stop-color="#cc1400"/><stop offset="1.000" stop-color="#5e0202"/></linearGradient>
<linearGradient id="bdh56" gradientUnits="userSpaceOnUse" x1="1576.4" y1="0" x2="1659.2" y2="0" gradientTransform="translate(0 684.3) skewX(-18.65) translate(0 -684.3)"><stop offset="0.000" stop-color="#a80000"/><stop offset="0.014" stop-color="#ff3a00"/><stop offset="0.049" stop-color="#ff8c00"/><stop offset="0.142" stop-color="#ffc400"/><stop offset="0.233" stop-color="#ffee50"/><stop offset="0.284" stop-color="#ffffff"/><stop offset="0.494" stop-color="#ffffff"/><stop offset="0.606" stop-color="#ffe030"/><stop offset="0.722" stop-color="#ffab00"/><stop offset="0.848" stop-color="#ff5a00"/><stop offset="0.949" stop-color="#cc1400"/><stop offset="1.000" stop-color="#5e0202"/></linearGradient>
<linearGradient id="bdh57" gradientUnits="userSpaceOnUse" x1="1575.6" y1="0" x2="1658.0" y2="0" gradientTransform="translate(0 687.3) skewX(-18.65) translate(0 -687.3)"><stop offset="0.000" stop-color="#a80000"/><stop offset="0.015" stop-color="#ff3a00"/><stop offset="0.049" stop-color="#ff8c00"/><stop offset="0.143" stop-color="#ffc400"/><stop offset="0.235" stop-color="#ffee50"/><stop offset="0.286" stop-color="#ffffff"/><stop offset="0.467" stop-color="#ffffff"/><stop offset="0.584" stop-color="#ffe030"/><stop offset="0.707" stop-color="#ffab00"/><stop offset="0.840" stop-color="#ff5a00"/><stop offset="0.947" stop-color="#cc1400"/><stop offset="1.000" stop-color="#5e0202"/></linearGradient>
<linearGradient id="bdh58" gradientUnits="userSpaceOnUse" x1="1574.8" y1="0" x2="1656.7" y2="0" gradientTransform="translate(0 690.3) skewX(-18.65) translate(0 -690.3)"><stop offset="0.000" stop-color="#a80000"/><stop offset="0.015" stop-color="#ff3a00"/><stop offset="0.049" stop-color="#ff8c00"/><stop offset="0.144" stop-color="#ffc400"/><stop offset="0.236" stop-color="#ffee50"/><stop offset="0.288" stop-color="#ffffff"/><stop offset="0.440" stop-color="#ffffff"/><stop offset="0.563" stop-color="#ffe030"/><stop offset="0.692" stop-color="#ffab00"/><stop offset="0.832" stop-color="#ff5a00"/><stop offset="0.944" stop-color="#cc1400"/><stop offset="1.000" stop-color="#5e0202"/></linearGradient>
<linearGradient id="bdh59" gradientUnits="userSpaceOnUse" x1="1574.1" y1="0" x2="1655.5" y2="0" gradientTransform="translate(0 693.3) skewX(-16.83) translate(0 -693.3)"><stop offset="0.000" stop-color="#a80000"/><stop offset="0.015" stop-color="#ff3a00"/><stop offset="0.049" stop-color="#ff8c00"/><stop offset="0.145" stop-color="#ffc400"/><stop offset="0.237" stop-color="#ffee50"/><stop offset="0.289" stop-color="#ffffff"/><stop offset="0.412" stop-color="#ffffff"/><stop offset="0.541" stop-color="#ffe030"/><stop offset="0.676" stop-color="#ffab00"/><stop offset="0.823" stop-color="#ff5a00"/><stop offset="0.941" stop-color="#cc1400"/><stop offset="1.000" stop-color="#5e0202"/></linearGradient>
<linearGradient id="bdh60" gradientUnits="userSpaceOnUse" x1="1573.4" y1="0" x2="1654.5" y2="0" gradientTransform="translate(0 696.3) skewX(-16.70) translate(0 -696.3)"><stop offset="0.000" stop-color="#a80000"/><stop offset="0.015" stop-color="#ff3a00"/><stop offset="0.049" stop-color="#ff8c00"/><stop offset="0.144" stop-color="#ffc400"/><stop offset="0.237" stop-color="#ffee50"/><stop offset="0.289" stop-color="#ffffff"/><stop offset="0.383" stop-color="#ffffff"/><stop offset="0.518" stop-color="#ffe030"/><stop offset="0.660" stop-color="#ffab00"/><stop offset="0.815" stop-color="#ff5a00"/><stop offset="0.938" stop-color="#cc1400"/><stop offset="1.000" stop-color="#5e0202"/></linearGradient>
<linearGradient id="bdh61" gradientUnits="userSpaceOnUse" x1="1572.6" y1="0" x2="1653.4" y2="0" gradientTransform="translate(0 699.3) skewX(-16.70) translate(0 -699.3)"><stop offset="0.000" stop-color="#a80000"/><stop offset="0.015" stop-color="#ff3a00"/><stop offset="0.049" stop-color="#ff8c00"/><stop offset="0.144" stop-color="#ffc400"/><stop offset="0.236" stop-color="#ffee50"/><stop offset="0.288" stop-color="#ffffff"/><stop offset="0.354" stop-color="#ffffff"/><stop offset="0.496" stop-color="#ffe030"/><stop offset="0.644" stop-color="#ffab00"/><stop offset="0.806" stop-color="#ff5a00"/><stop offset="0.935" stop-color="#cc1400"/><stop offset="1.000" stop-color="#5e0202"/></linearGradient>
<linearGradient id="bdh62" gradientUnits="userSpaceOnUse" x1="1571.9" y1="0" x2="1652.3" y2="0" gradientTransform="translate(0 702.3) skewX(-16.70) translate(0 -702.3)"><stop offset="0.000" stop-color="#a80000"/><stop offset="0.015" stop-color="#ff3a00"/><stop offset="0.049" stop-color="#ff8c00"/><stop offset="0.144" stop-color="#ffc400"/><stop offset="0.236" stop-color="#ffee50"/><stop offset="0.288" stop-color="#ffffff"/><stop offset="0.324" stop-color="#ffffff"/><stop offset="0.473" stop-color="#ffe030"/><stop offset="0.628" stop-color="#ffab00"/><stop offset="0.797" stop-color="#ff5a00"/><stop offset="0.932" stop-color="#cc1400"/><stop offset="1.000" stop-color="#5e0202"/></linearGradient>
<linearGradient id="bdh63" gradientUnits="userSpaceOnUse" x1="1571.2" y1="0" x2="1651.2" y2="0" gradientTransform="translate(0 705.3) skewX(-17.40) translate(0 -705.3)"><stop offset="0.000" stop-color="#a80000"/><stop offset="0.015" stop-color="#ff3a00"/><stop offset="0.049" stop-color="#ff8c00"/><stop offset="0.144" stop-color="#ffc400"/><stop offset="0.236" stop-color="#ffee50"/><stop offset="0.288" stop-color="#ffffff"/><stop offset="0.294" stop-color="#ffffff"/><stop offset="0.450" stop-color="#ffe030"/><stop offset="0.612" stop-color="#ffab00"/><stop offset="0.788" stop-color="#ff5a00"/><stop offset="0.929" stop-color="#cc1400"/><stop offset="1.000" stop-color="#5e0202"/></linearGradient>
<linearGradient id="bdh64" gradientUnits="userSpaceOnUse" x1="1570.4" y1="0" x2="1650.0" y2="0" gradientTransform="translate(0 708.3) skewX(-19.29) translate(0 -708.3)"><stop offset="0.000" stop-color="#a80000"/><stop offset="0.015" stop-color="#ff3a00"/><stop offset="0.050" stop-color="#ff8c00"/><stop offset="0.143" stop-color="#ffc400"/><stop offset="0.235" stop-color="#ffee50"/><stop offset="0.287" stop-color="#fffdf4"/><stop offset="0.287" stop-color="#fffdf4"/><stop offset="0.444" stop-color="#ffe030"/><stop offset="0.608" stop-color="#ffab00"/><stop offset="0.786" stop-color="#ff5a00"/><stop offset="0.929" stop-color="#cc1400"/><stop offset="1.000" stop-color="#5e0202"/></linearGradient>
<linearGradient id="bdh65" gradientUnits="userSpaceOnUse" x1="1569.6" y1="0" x2="1648.6" y2="0" gradientTransform="translate(0 711.3) skewX(-19.29) translate(0 -711.3)"><stop offset="0.000" stop-color="#a80000"/><stop offset="0.015" stop-color="#ff3a00"/><stop offset="0.050" stop-color="#ff8c00"/><stop offset="0.143" stop-color="#ffc400"/><stop offset="0.234" stop-color="#ffee50"/><stop offset="0.286" stop-color="#fffbe5"/><stop offset="0.286" stop-color="#fffbe5"/><stop offset="0.443" stop-color="#ffe030"/><stop offset="0.607" stop-color="#ffab00"/><stop offset="0.786" stop-color="#ff5a00"/><stop offset="0.929" stop-color="#cc1400"/><stop offset="1.000" stop-color="#5e0202"/></linearGradient>
<linearGradient id="bdh66" gradientUnits="userSpaceOnUse" x1="1568.9" y1="0" x2="1647.3" y2="0" gradientTransform="translate(0 714.3) skewX(-19.29) translate(0 -714.3)"><stop offset="0.000" stop-color="#a80000"/><stop offset="0.015" stop-color="#ff3a00"/><stop offset="0.050" stop-color="#ff8c00"/><stop offset="0.143" stop-color="#ffc400"/><stop offset="0.234" stop-color="#ffee50"/><stop offset="0.285" stop-color="#fff9d6"/><stop offset="0.285" stop-color="#fff9d6"/><stop offset="0.442" stop-color="#ffe030"/><stop offset="0.607" stop-color="#ffab00"/><stop offset="0.786" stop-color="#ff5a00"/><stop offset="0.929" stop-color="#cc1400"/><stop offset="1.000" stop-color="#5e0202"/></linearGradient>
<linearGradient id="bdh67" gradientUnits="userSpaceOnUse" x1="1568.1" y1="0" x2="1646.0" y2="0" gradientTransform="translate(0 717.3) skewX(-19.29) translate(0 -717.3)"><stop offset="0.000" stop-color="#a80000"/><stop offset="0.015" stop-color="#ff3a00"/><stop offset="0.050" stop-color="#ff8c00"/><stop offset="0.142" stop-color="#ffc400"/><stop offset="0.233" stop-color="#ffee50"/><stop offset="0.284" stop-color="#fff7c7"/><stop offset="0.284" stop-color="#fff7c7"/><stop offset="0.442" stop-color="#ffe030"/><stop offset="0.606" stop-color="#ffab00"/><stop offset="0.785" stop-color="#ff5a00"/><stop offset="0.928" stop-color="#cc1400"/><stop offset="1.000" stop-color="#5e0202"/></linearGradient>
<linearGradient id="bdh68" gradientUnits="userSpaceOnUse" x1="1567.3" y1="0" x2="1644.6" y2="0" gradientTransform="translate(0 720.3) skewX(-19.29) translate(0 -720.3)"><stop offset="0.000" stop-color="#a80000"/><stop offset="0.016" stop-color="#ff3a00"/><stop offset="0.050" stop-color="#ff8c00"/><stop offset="0.142" stop-color="#ffc400"/><stop offset="0.232" stop-color="#ffee50"/><stop offset="0.283" stop-color="#fff5b9"/><stop offset="0.283" stop-color="#fff5b9"/><stop offset="0.441" stop-color="#ffe030"/><stop offset="0.606" stop-color="#ffab00"/><stop offset="0.785" stop-color="#ff5a00"/><stop offset="0.928" stop-color="#cc1400"/><stop offset="1.000" stop-color="#5e0202"/></linearGradient>
<linearGradient id="bdh69" gradientUnits="userSpaceOnUse" x1="1566.6" y1="0" x2="1643.3" y2="0" gradientTransform="translate(0 723.3) skewX(-18.54) translate(0 -723.3)"><stop offset="0.000" stop-color="#a80000"/><stop offset="0.016" stop-color="#ff3a00"/><stop offset="0.050" stop-color="#ff8c00"/><stop offset="0.141" stop-color="#ffc400"/><stop offset="0.231" stop-color="#ffee50"/><stop offset="0.282" stop-color="#fff3aa"/><stop offset="0.282" stop-color="#fff3aa"/><stop offset="0.440" stop-color="#ffe030"/><stop offset="0.605" stop-color="#ffab00"/><stop offset="0.785" stop-color="#ff5a00"/><stop offset="0.928" stop-color="#cc1400"/><stop offset="1.000" stop-color="#5e0202"/></linearGradient>
<linearGradient id="bdh70" gradientUnits="userSpaceOnUse" x1="1565.8" y1="0" x2="1642.3" y2="0" gradientTransform="translate(0 726.3) skewX(-16.46) translate(0 -726.3)"><stop offset="0.000" stop-color="#a80000"/><stop offset="0.016" stop-color="#ff3a00"/><stop offset="0.049" stop-color="#ff8c00"/><stop offset="0.140" stop-color="#ffc400"/><stop offset="0.230" stop-color="#ffee50"/><stop offset="0.281" stop-color="#fff19b"/><stop offset="0.281" stop-color="#fff19b"/><stop offset="0.439" stop-color="#ffe030"/><stop offset="0.604" stop-color="#ffab00"/><stop offset="0.784" stop-color="#ff5a00"/><stop offset="0.928" stop-color="#cc1400"/><stop offset="1.000" stop-color="#5e0202"/></linearGradient>
<linearGradient id="bdh71" gradientUnits="userSpaceOnUse" x1="1564.9" y1="0" x2="1641.4" y2="0" gradientTransform="translate(0 729.3) skewX(-16.46) translate(0 -729.3)"><stop offset="0.000" stop-color="#a80000"/><stop offset="0.016" stop-color="#ff3a00"/><stop offset="0.049" stop-color="#ff8c00"/><stop offset="0.140" stop-color="#ffc400"/><stop offset="0.229" stop-color="#ffee50"/><stop offset="0.279" stop-color="#ffef8c"/><stop offset="0.279" stop-color="#ffef8c"/><stop offset="0.438" stop-color="#ffe030"/><stop offset="0.604" stop-color="#ffab00"/><stop offset="0.784" stop-color="#ff5a00"/><stop offset="0.928" stop-color="#cc1400"/><stop offset="1.000" stop-color="#5e0202"/></linearGradient>
<linearGradient id="bdh72" gradientUnits="userSpaceOnUse" x1="1564.1" y1="0" x2="1640.4" y2="0" gradientTransform="translate(0 732.3) skewX(-16.46) translate(0 -732.3)"><stop offset="0.000" stop-color="#a80000"/><stop offset="0.016" stop-color="#ff3a00"/><stop offset="0.049" stop-color="#ff8c00"/><stop offset="0.139" stop-color="#ffc400"/><stop offset="0.228" stop-color="#ffee50"/><stop offset="0.278" stop-color="#ffed7d"/><stop offset="0.278" stop-color="#ffed7d"/><stop offset="0.437" stop-color="#ffe030"/><stop offset="0.603" stop-color="#ffab00"/><stop offset="0.783" stop-color="#ff5a00"/><stop offset="0.928" stop-color="#cc1400"/><stop offset="1.000" stop-color="#5e0202"/></linearGradient>
<linearGradient id="bdh73" gradientUnits="userSpaceOnUse" x1="1563.2" y1="0" x2="1639.5" y2="0" gradientTransform="translate(0 735.3) skewX(-16.46) translate(0 -735.3)"><stop offset="0.000" stop-color="#a80000"/><stop offset="0.016" stop-color="#ff3a00"/><stop offset="0.049" stop-color="#ff8c00"/><stop offset="0.138" stop-color="#ffc400"/><stop offset="0.226" stop-color="#ffee50"/><stop offset="0.276" stop-color="#ffeb6f"/><stop offset="0.276" stop-color="#ffeb6f"/><stop offset="0.435" stop-color="#ffe030"/><stop offset="0.602" stop-color="#ffab00"/><stop offset="0.783" stop-color="#ff5a00"/><stop offset="0.928" stop-color="#cc1400"/><stop offset="1.000" stop-color="#5e0202"/></linearGradient>
<linearGradient id="bdh74" gradientUnits="userSpaceOnUse" x1="1562.4" y1="0" x2="1638.6" y2="0" gradientTransform="translate(0 738.3) skewX(-16.46) translate(0 -738.3)"><stop offset="0.000" stop-color="#a80000"/><stop offset="0.016" stop-color="#ff3a00"/><stop offset="0.049" stop-color="#ff8c00"/><stop offset="0.137" stop-color="#ffc400"/><stop offset="0.225" stop-color="#ffee50"/><stop offset="0.275" stop-color="#ffe960"/><stop offset="0.275" stop-color="#ffe960"/><stop offset="0.434" stop-color="#ffe030"/><stop offset="0.601" stop-color="#ffab00"/><stop offset="0.782" stop-color="#ff5a00"/><stop offset="0.927" stop-color="#cc1400"/><stop offset="1.000" stop-color="#5e0202"/></linearGradient>
<linearGradient id="bdh75" gradientUnits="userSpaceOnUse" x1="1561.5" y1="0" x2="1637.7" y2="0" gradientTransform="translate(0 741.3) skewX(-16.46) translate(0 -741.3)"><stop offset="0.000" stop-color="#a80000"/><stop offset="0.016" stop-color="#ff3a00"/><stop offset="0.049" stop-color="#ff8c00"/><stop offset="0.136" stop-color="#ffc400"/><stop offset="0.224" stop-color="#ffee50"/><stop offset="0.273" stop-color="#ffe751"/><stop offset="0.273" stop-color="#ffe751"/><stop offset="0.433" stop-color="#ffe030"/><stop offset="0.600" stop-color="#ffab00"/><stop offset="0.782" stop-color="#ff5a00"/><stop offset="0.927" stop-color="#cc1400"/><stop offset="1.000" stop-color="#5e0202"/></linearGradient>
<linearGradient id="bdh76" gradientUnits="userSpaceOnUse" x1="1560.7" y1="0" x2="1636.7" y2="0" gradientTransform="translate(0 744.3) skewX(-16.46) translate(0 -744.3)"><stop offset="0.000" stop-color="#a80000"/><stop offset="0.016" stop-color="#ff3a00"/><stop offset="0.048" stop-color="#ff8c00"/><stop offset="0.136" stop-color="#ffc400"/><stop offset="0.223" stop-color="#ffee50"/><stop offset="0.271" stop-color="#ffe542"/><stop offset="0.271" stop-color="#ffe542"/><stop offset="0.432" stop-color="#ffe030"/><stop offset="0.599" stop-color="#ffab00"/><stop offset="0.781" stop-color="#ff5a00"/><stop offset="0.927" stop-color="#cc1400"/><stop offset="1.000" stop-color="#5e0202"/></linearGradient>
<linearGradient id="bdh77" gradientUnits="userSpaceOnUse" x1="1559.8" y1="0" x2="1635.8" y2="0" gradientTransform="translate(0 747.3) skewX(-16.46) translate(0 -747.3)"><stop offset="0.000" stop-color="#a80000"/><stop offset="0.016" stop-color="#ff3a00"/><stop offset="0.048" stop-color="#ff8c00"/><stop offset="0.135" stop-color="#ffc400"/><stop offset="0.221" stop-color="#ffee50"/><stop offset="0.270" stop-color="#ffe43a"/><stop offset="0.270" stop-color="#ffe43a"/><stop offset="0.430" stop-color="#ffe030"/><stop offset="0.598" stop-color="#ffab00"/><stop offset="0.781" stop-color="#ff5a00"/><stop offset="0.927" stop-color="#cc1400"/><stop offset="1.000" stop-color="#5e0202"/></linearGradient>
<linearGradient id="bdh78" gradientUnits="userSpaceOnUse" x1="1559.0" y1="0" x2="1634.9" y2="0" gradientTransform="translate(0 750.3) skewX(-16.46) translate(0 -750.3)"><stop offset="0.000" stop-color="#a80000"/><stop offset="0.016" stop-color="#ff3a00"/><stop offset="0.048" stop-color="#ff8c00"/><stop offset="0.134" stop-color="#ffc400"/><stop offset="0.220" stop-color="#ffee50"/><stop offset="0.268" stop-color="#ffe43a"/><stop offset="0.268" stop-color="#ffe43a"/><stop offset="0.429" stop-color="#ffe030"/><stop offset="0.598" stop-color="#ffab00"/><stop offset="0.780" stop-color="#ff5a00"/><stop offset="0.927" stop-color="#cc1400"/><stop offset="1.000" stop-color="#5e0202"/></linearGradient>
<linearGradient id="bdh79" gradientUnits="userSpaceOnUse" x1="1558.1" y1="0" x2="1633.9" y2="0" gradientTransform="translate(0 753.3) skewX(-16.46) translate(0 -753.3)"><stop offset="0.000" stop-color="#a80000"/><stop offset="0.016" stop-color="#ff3a00"/><stop offset="0.048" stop-color="#ff8c00"/><stop offset="0.133" stop-color="#ffc400"/><stop offset="0.219" stop-color="#ffee50"/><stop offset="0.267" stop-color="#ffe43a"/><stop offset="0.267" stop-color="#ffe43a"/><stop offset="0.428" stop-color="#ffe030"/><stop offset="0.597" stop-color="#ffab00"/><stop offset="0.780" stop-color="#ff5a00"/><stop offset="0.927" stop-color="#cc1400"/><stop offset="1.000" stop-color="#5e0202"/></linearGradient>
<linearGradient id="bdh80" gradientUnits="userSpaceOnUse" x1="1557.3" y1="0" x2="1633.0" y2="0" gradientTransform="translate(0 756.3) skewX(-16.46) translate(0 -756.3)"><stop offset="0.000" stop-color="#a80000"/><stop offset="0.016" stop-color="#ff3a00"/><stop offset="0.048" stop-color="#ff8c00"/><stop offset="0.133" stop-color="#ffc400"/><stop offset="0.217" stop-color="#ffee50"/><stop offset="0.265" stop-color="#ffe43a"/><stop offset="0.265" stop-color="#ffe43a"/><stop offset="0.427" stop-color="#ffe030"/><stop offset="0.596" stop-color="#ffab00"/><stop offset="0.780" stop-color="#ff5a00"/><stop offset="0.927" stop-color="#cc1400"/><stop offset="1.000" stop-color="#5e0202"/></linearGradient>
<linearGradient id="bdh81" gradientUnits="userSpaceOnUse" x1="1556.5" y1="0" x2="1632.1" y2="0" gradientTransform="translate(0 759.3) skewX(-16.46) translate(0 -759.3)"><stop offset="0.000" stop-color="#a80000"/><stop offset="0.016" stop-color="#ff3a00"/><stop offset="0.047" stop-color="#ff8c00"/><stop offset="0.132" stop-color="#ffc400"/><stop offset="0.216" stop-color="#ffee50"/><stop offset="0.264" stop-color="#ffe43a"/><stop offset="0.264" stop-color="#ffe43a"/><stop offset="0.426" stop-color="#ffe030"/><stop offset="0.595" stop-color="#ffab00"/><stop offset="0.779" stop-color="#ff5a00"/><stop offset="0.926" stop-color="#cc1400"/><stop offset="1.000" stop-color="#5e0202"/></linearGradient>
<linearGradient id="bdh82" gradientUnits="userSpaceOnUse" x1="1555.6" y1="0" x2="1631.2" y2="0" gradientTransform="translate(0 762.3) skewX(-16.46) translate(0 -762.3)"><stop offset="0.000" stop-color="#a80000"/><stop offset="0.016" stop-color="#ff3a00"/><stop offset="0.047" stop-color="#ff8c00"/><stop offset="0.131" stop-color="#ffc400"/><stop offset="0.215" stop-color="#ffee50"/><stop offset="0.262" stop-color="#ffe43a"/><stop offset="0.262" stop-color="#ffe43a"/><stop offset="0.424" stop-color="#ffe030"/><stop offset="0.594" stop-color="#ffab00"/><stop offset="0.779" stop-color="#ff5a00"/><stop offset="0.926" stop-color="#cc1400"/><stop offset="1.000" stop-color="#5e0202"/></linearGradient>
<linearGradient id="bdh83" gradientUnits="userSpaceOnUse" x1="1554.8" y1="0" x2="1630.2" y2="0" gradientTransform="translate(0 765.3) skewX(-16.46) translate(0 -765.3)"><stop offset="0.000" stop-color="#a80000"/><stop offset="0.016" stop-color="#ff3a00"/><stop offset="0.047" stop-color="#ff8c00"/><stop offset="0.130" stop-color="#ffc400"/><stop offset="0.213" stop-color="#ffee50"/><stop offset="0.260" stop-color="#ffe43a"/><stop offset="0.260" stop-color="#ffe43a"/><stop offset="0.423" stop-color="#ffe030"/><stop offset="0.593" stop-color="#ffab00"/><stop offset="0.778" stop-color="#ff5a00"/><stop offset="0.926" stop-color="#cc1400"/><stop offset="1.000" stop-color="#5e0202"/></linearGradient>
<linearGradient id="bdh84" gradientUnits="userSpaceOnUse" x1="1553.9" y1="0" x2="1629.3" y2="0" gradientTransform="translate(0 768.3) skewX(-16.46) translate(0 -768.3)"><stop offset="0.000" stop-color="#a80000"/><stop offset="0.016" stop-color="#ff3a00"/><stop offset="0.047" stop-color="#ff8c00"/><stop offset="0.129" stop-color="#ffc400"/><stop offset="0.212" stop-color="#ffee50"/><stop offset="0.259" stop-color="#ffe43a"/><stop offset="0.259" stop-color="#ffe43a"/><stop offset="0.422" stop-color="#ffe030"/><stop offset="0.592" stop-color="#ffab00"/><stop offset="0.778" stop-color="#ff5a00"/><stop offset="0.926" stop-color="#cc1400"/><stop offset="1.000" stop-color="#5e0202"/></linearGradient>
<linearGradient id="bdh85" gradientUnits="userSpaceOnUse" x1="1553.1" y1="0" x2="1628.4" y2="0" gradientTransform="translate(0 771.3) skewX(-16.46) translate(0 -771.3)"><stop offset="0.000" stop-color="#a80000"/><stop offset="0.016" stop-color="#ff3a00"/><stop offset="0.047" stop-color="#ff8c00"/><stop offset="0.129" stop-color="#ffc400"/><stop offset="0.211" stop-color="#ffee50"/><stop offset="0.257" stop-color="#ffe43a"/><stop offset="0.257" stop-color="#ffe43a"/><stop offset="0.421" stop-color="#ffe030"/><stop offset="0.591" stop-color="#ffab00"/><stop offset="0.777" stop-color="#ff5a00"/><stop offset="0.926" stop-color="#cc1400"/><stop offset="1.000" stop-color="#5e0202"/></linearGradient>
<linearGradient id="bdh86" gradientUnits="userSpaceOnUse" x1="1552.2" y1="0" x2="1627.4" y2="0" gradientTransform="translate(0 774.3) skewX(-16.46) translate(0 -774.3)"><stop offset="0.000" stop-color="#a80000"/><stop offset="0.016" stop-color="#ff3a00"/><stop offset="0.047" stop-color="#ff8c00"/><stop offset="0.128" stop-color="#ffc400"/><stop offset="0.210" stop-color="#ffee50"/><stop offset="0.256" stop-color="#ffe43a"/><stop offset="0.256" stop-color="#ffe43a"/><stop offset="0.419" stop-color="#ffe030"/><stop offset="0.591" stop-color="#ffab00"/><stop offset="0.777" stop-color="#ff5a00"/><stop offset="0.926" stop-color="#cc1400"/><stop offset="1.000" stop-color="#5e0202"/></linearGradient>
<linearGradient id="bdh87" gradientUnits="userSpaceOnUse" x1="1551.4" y1="0" x2="1626.5" y2="0" gradientTransform="translate(0 777.3) skewX(-16.46) translate(0 -777.3)"><stop offset="0.000" stop-color="#a80000"/><stop offset="0.016" stop-color="#ff3a00"/><stop offset="0.046" stop-color="#ff8c00"/><stop offset="0.127" stop-color="#ffc400"/><stop offset="0.208" stop-color="#ffee50"/><stop offset="0.254" stop-color="#ffe43a"/><stop offset="0.254" stop-color="#ffe43a"/><stop offset="0.418" stop-color="#ffe030"/><stop offset="0.590" stop-color="#ffab00"/><stop offset="0.776" stop-color="#ff5a00"/><stop offset="0.925" stop-color="#cc1400"/><stop offset="1.000" stop-color="#5e0202"/></linearGradient>
<linearGradient id="bdh88" gradientUnits="userSpaceOnUse" x1="1550.5" y1="0" x2="1625.6" y2="0" gradientTransform="translate(0 780.3) skewX(-16.46) translate(0 -780.3)"><stop offset="0.000" stop-color="#a80000"/><stop offset="0.016" stop-color="#ff3a00"/><stop offset="0.046" stop-color="#ff8c00"/><stop offset="0.126" stop-color="#ffc400"/><stop offset="0.207" stop-color="#ffee50"/><stop offset="0.252" stop-color="#ffe43a"/><stop offset="0.252" stop-color="#ffe43a"/><stop offset="0.417" stop-color="#ffe030"/><stop offset="0.589" stop-color="#ffab00"/><stop offset="0.776" stop-color="#ff5a00"/><stop offset="0.925" stop-color="#cc1400"/><stop offset="1.000" stop-color="#5e0202"/></linearGradient>
<linearGradient id="bdh89" gradientUnits="userSpaceOnUse" x1="1549.7" y1="0" x2="1624.7" y2="0" gradientTransform="translate(0 783.3) skewX(-16.46) translate(0 -783.3)"><stop offset="0.000" stop-color="#a80000"/><stop offset="0.016" stop-color="#ff3a00"/><stop offset="0.046" stop-color="#ff8c00"/><stop offset="0.125" stop-color="#ffc400"/><stop offset="0.206" stop-color="#ffee50"/><stop offset="0.251" stop-color="#ffe43a"/><stop offset="0.251" stop-color="#ffe43a"/><stop offset="0.416" stop-color="#ffe030"/><stop offset="0.588" stop-color="#ffab00"/><stop offset="0.775" stop-color="#ff5a00"/><stop offset="0.925" stop-color="#cc1400"/><stop offset="1.000" stop-color="#5e0202"/></linearGradient>
<linearGradient id="bdh90" gradientUnits="userSpaceOnUse" x1="1548.9" y1="0" x2="1623.7" y2="0" gradientTransform="translate(0 786.3) skewX(-16.46) translate(0 -786.3)"><stop offset="0.000" stop-color="#a80000"/><stop offset="0.016" stop-color="#ff3a00"/><stop offset="0.046" stop-color="#ff8c00"/><stop offset="0.125" stop-color="#ffc400"/><stop offset="0.204" stop-color="#ffee50"/><stop offset="0.249" stop-color="#ffe43a"/><stop offset="0.249" stop-color="#ffe43a"/><stop offset="0.414" stop-color="#ffe030"/><stop offset="0.587" stop-color="#ffab00"/><stop offset="0.775" stop-color="#ff5a00"/><stop offset="0.925" stop-color="#cc1400"/><stop offset="1.000" stop-color="#5e0202"/></linearGradient>
<linearGradient id="bdh91" gradientUnits="userSpaceOnUse" x1="1548.0" y1="0" x2="1622.8" y2="0" gradientTransform="translate(0 789.3) skewX(-16.46) translate(0 -789.3)"><stop offset="0.000" stop-color="#a80000"/><stop offset="0.016" stop-color="#ff3a00"/><stop offset="0.046" stop-color="#ff8c00"/><stop offset="0.124" stop-color="#ffc400"/><stop offset="0.203" stop-color="#ffee50"/><stop offset="0.247" stop-color="#ffe43a"/><stop offset="0.247" stop-color="#ffe43a"/><stop offset="0.413" stop-color="#ffe030"/><stop offset="0.586" stop-color="#ffab00"/><stop offset="0.774" stop-color="#ff5a00"/><stop offset="0.925" stop-color="#cc1400"/><stop offset="1.000" stop-color="#5e0202"/></linearGradient>
<linearGradient id="bdh92" gradientUnits="userSpaceOnUse" x1="1547.2" y1="0" x2="1621.9" y2="0" gradientTransform="translate(0 792.3) skewX(-16.46) translate(0 -792.3)"><stop offset="0.000" stop-color="#a80000"/><stop offset="0.016" stop-color="#ff3a00"/><stop offset="0.046" stop-color="#ff8c00"/><stop offset="0.123" stop-color="#ffc400"/><stop offset="0.202" stop-color="#ffee50"/><stop offset="0.246" stop-color="#ffe43a"/><stop offset="0.246" stop-color="#ffe43a"/><stop offset="0.412" stop-color="#ffe030"/><stop offset="0.585" stop-color="#ffab00"/><stop offset="0.774" stop-color="#ff5a00"/><stop offset="0.925" stop-color="#cc1400"/><stop offset="1.000" stop-color="#5e0202"/></linearGradient>
<linearGradient id="bdh93" gradientUnits="userSpaceOnUse" x1="1546.3" y1="0" x2="1621.0" y2="0" gradientTransform="translate(0 795.3) skewX(-16.46) translate(0 -795.3)"><stop offset="0.000" stop-color="#a80000"/><stop offset="0.016" stop-color="#ff3a00"/><stop offset="0.045" stop-color="#ff8c00"/><stop offset="0.122" stop-color="#ffc400"/><stop offset="0.200" stop-color="#ffee50"/><stop offset="0.244" stop-color="#ffe43a"/><stop offset="0.244" stop-color="#ffe43a"/><stop offset="0.410" stop-color="#ffe030"/><stop offset="0.584" stop-color="#ffab00"/><stop offset="0.773" stop-color="#ff5a00"/><stop offset="0.924" stop-color="#cc1400"/><stop offset="1.000" stop-color="#5e0202"/></linearGradient>
<linearGradient id="bdh94" gradientUnits="userSpaceOnUse" x1="1545.5" y1="0" x2="1620.0" y2="0" gradientTransform="translate(0 798.3) skewX(-16.46) translate(0 -798.3)"><stop offset="0.000" stop-color="#a80000"/><stop offset="0.016" stop-color="#ff3a00"/><stop offset="0.045" stop-color="#ff8c00"/><stop offset="0.121" stop-color="#ffc400"/><stop offset="0.199" stop-color="#ffee50"/><stop offset="0.243" stop-color="#ffe43a"/><stop offset="0.243" stop-color="#ffe43a"/><stop offset="0.409" stop-color="#ffe030"/><stop offset="0.583" stop-color="#ffab00"/><stop offset="0.773" stop-color="#ff5a00"/><stop offset="0.924" stop-color="#cc1400"/><stop offset="1.000" stop-color="#5e0202"/></linearGradient>
<linearGradient id="bdh95" gradientUnits="userSpaceOnUse" x1="1544.7" y1="0" x2="1619.0" y2="0" gradientTransform="translate(0 801.3) skewX(-18.08) translate(0 -801.3)"><stop offset="0.000" stop-color="#a80000"/><stop offset="0.016" stop-color="#ff3a00"/><stop offset="0.045" stop-color="#ff8c00"/><stop offset="0.120" stop-color="#ffc400"/><stop offset="0.197" stop-color="#ffee50"/><stop offset="0.240" stop-color="#ffe43a"/><stop offset="0.240" stop-color="#ffe43a"/><stop offset="0.408" stop-color="#ffe030"/><stop offset="0.582" stop-color="#ffab00"/><stop offset="0.772" stop-color="#ff5a00"/><stop offset="0.924" stop-color="#cc1400"/><stop offset="1.000" stop-color="#5e0202"/></linearGradient>
<linearGradient id="bdh96" gradientUnits="userSpaceOnUse" x1="1543.9" y1="0" x2="1617.8" y2="0" gradientTransform="translate(0 804.3) skewX(-18.20) translate(0 -804.3)"><stop offset="0.000" stop-color="#a80000"/><stop offset="0.016" stop-color="#ff3a00"/><stop offset="0.045" stop-color="#ff8c00"/><stop offset="0.119" stop-color="#ffc400"/><stop offset="0.195" stop-color="#ffee50"/><stop offset="0.238" stop-color="#ffe43a"/><stop offset="0.238" stop-color="#ffe43a"/><stop offset="0.405" stop-color="#ffe030"/><stop offset="0.581" stop-color="#ffab00"/><stop offset="0.771" stop-color="#ff5a00"/><stop offset="0.924" stop-color="#cc1400"/><stop offset="1.000" stop-color="#5e0202"/></linearGradient>
<linearGradient id="bdh97" gradientUnits="userSpaceOnUse" x1="1543.2" y1="0" x2="1616.5" y2="0" gradientTransform="translate(0 807.3) skewX(-18.20) translate(0 -807.3)"><stop offset="0.000" stop-color="#a80000"/><stop offset="0.016" stop-color="#ff3a00"/><stop offset="0.045" stop-color="#ff8c00"/><stop offset="0.118" stop-color="#ffc400"/><stop offset="0.193" stop-color="#ffee50"/><stop offset="0.235" stop-color="#ffe43a"/><stop offset="0.235" stop-color="#ffe43a"/><stop offset="0.403" stop-color="#ffe030"/><stop offset="0.579" stop-color="#ffab00"/><stop offset="0.771" stop-color="#ff5a00"/><stop offset="0.924" stop-color="#cc1400"/><stop offset="1.000" stop-color="#5e0202"/></linearGradient>
<linearGradient id="bdh98" gradientUnits="userSpaceOnUse" x1="1542.4" y1="0" x2="1615.3" y2="0" gradientTransform="translate(0 810.3) skewX(-18.20) translate(0 -810.3)"><stop offset="0.000" stop-color="#a80000"/><stop offset="0.016" stop-color="#ff3a00"/><stop offset="0.044" stop-color="#ff8c00"/><stop offset="0.116" stop-color="#ffc400"/><stop offset="0.190" stop-color="#ffee50"/><stop offset="0.232" stop-color="#ffe43a"/><stop offset="0.232" stop-color="#ffe43a"/><stop offset="0.401" stop-color="#ffe030"/><stop offset="0.578" stop-color="#ffab00"/><stop offset="0.770" stop-color="#ff5a00"/><stop offset="0.923" stop-color="#cc1400"/><stop offset="1.000" stop-color="#5e0202"/></linearGradient>
<linearGradient id="bdh99" gradientUnits="userSpaceOnUse" x1="1541.6" y1="0" x2="1614.1" y2="0" gradientTransform="translate(0 813.3) skewX(-18.20) translate(0 -813.3)"><stop offset="0.000" stop-color="#a80000"/><stop offset="0.017" stop-color="#ff3a00"/><stop offset="0.044" stop-color="#ff8c00"/><stop offset="0.115" stop-color="#ffc400"/><stop offset="0.188" stop-color="#ffee50"/><stop offset="0.229" stop-color="#ffe43a"/><stop offset="0.229" stop-color="#ffe43a"/><stop offset="0.399" stop-color="#ffe030"/><stop offset="0.576" stop-color="#ffab00"/><stop offset="0.769" stop-color="#ff5a00"/><stop offset="0.923" stop-color="#cc1400"/><stop offset="1.000" stop-color="#5e0202"/></linearGradient>
<linearGradient id="bdh100" gradientUnits="userSpaceOnUse" x1="1540.9" y1="0" x2="1612.9" y2="0" gradientTransform="translate(0 816.3) skewX(-18.20) translate(0 -816.3)"><stop offset="0.000" stop-color="#a80000"/><stop offset="0.017" stop-color="#ff3a00"/><stop offset="0.044" stop-color="#ff8c00"/><stop offset="0.113" stop-color="#ffc400"/><stop offset="0.186" stop-color="#ffee50"/><stop offset="0.227" stop-color="#ffe43a"/><stop offset="0.227" stop-color="#ffe43a"/><stop offset="0.397" stop-color="#ffe030"/><stop offset="0.575" stop-color="#ffab00"/><stop offset="0.768" stop-color="#ff5a00"/><stop offset="0.923" stop-color="#cc1400"/><stop offset="1.000" stop-color="#5e0202"/></linearGradient>
<linearGradient id="bdh101" gradientUnits="userSpaceOnUse" x1="1540.1" y1="0" x2="1611.7" y2="0" gradientTransform="translate(0 819.3) skewX(-18.20) translate(0 -819.3)"><stop offset="0.000" stop-color="#a80000"/><stop offset="0.017" stop-color="#ff3a00"/><stop offset="0.044" stop-color="#ff8c00"/><stop offset="0.112" stop-color="#ffc400"/><stop offset="0.183" stop-color="#ffee50"/><stop offset="0.224" stop-color="#ffe43a"/><stop offset="0.224" stop-color="#ffe43a"/><stop offset="0.395" stop-color="#ffe030"/><stop offset="0.573" stop-color="#ffab00"/><stop offset="0.767" stop-color="#ff5a00"/><stop offset="0.922" stop-color="#cc1400"/><stop offset="1.000" stop-color="#5e0202"/></linearGradient>
<linearGradient id="bdh102" gradientUnits="userSpaceOnUse" x1="1539.3" y1="0" x2="1610.5" y2="0" gradientTransform="translate(0 822.3) skewX(-18.20) translate(0 -822.3)"><stop offset="0.000" stop-color="#a80000"/><stop offset="0.017" stop-color="#ff3a00"/><stop offset="0.043" stop-color="#ff8c00"/><stop offset="0.110" stop-color="#ffc400"/><stop offset="0.181" stop-color="#ffee50"/><stop offset="0.221" stop-color="#ffe43a"/><stop offset="0.221" stop-color="#ffe43a"/><stop offset="0.392" stop-color="#ffe030"/><stop offset="0.571" stop-color="#ffab00"/><stop offset="0.766" stop-color="#ff5a00"/><stop offset="0.922" stop-color="#cc1400"/><stop offset="1.000" stop-color="#5e0202"/></linearGradient>
<linearGradient id="bdh103" gradientUnits="userSpaceOnUse" x1="1538.6" y1="0" x2="1609.3" y2="0" gradientTransform="translate(0 825.3) skewX(-18.20) translate(0 -825.3)"><stop offset="0.000" stop-color="#a80000"/><stop offset="0.017" stop-color="#ff3a00"/><stop offset="0.043" stop-color="#ff8c00"/><stop offset="0.109" stop-color="#ffc400"/><stop offset="0.179" stop-color="#ffee50"/><stop offset="0.218" stop-color="#ffe43a"/><stop offset="0.218" stop-color="#ffe43a"/><stop offset="0.390" stop-color="#ffe030"/><stop offset="0.570" stop-color="#ffab00"/><stop offset="0.765" stop-color="#ff5a00"/><stop offset="0.922" stop-color="#cc1400"/><stop offset="1.000" stop-color="#5e0202"/></linearGradient>
<linearGradient id="bdh104" gradientUnits="userSpaceOnUse" x1="1537.8" y1="0" x2="1608.1" y2="0" gradientTransform="translate(0 828.3) skewX(-18.20) translate(0 -828.3)"><stop offset="0.000" stop-color="#a80000"/><stop offset="0.017" stop-color="#ff3a00"/><stop offset="0.043" stop-color="#ff8c00"/><stop offset="0.107" stop-color="#ffc400"/><stop offset="0.176" stop-color="#ffee50"/><stop offset="0.215" stop-color="#ffe43a"/><stop offset="0.215" stop-color="#ffe43a"/><stop offset="0.388" stop-color="#ffe030"/><stop offset="0.568" stop-color="#ffab00"/><stop offset="0.764" stop-color="#ff5a00"/><stop offset="0.921" stop-color="#cc1400"/><stop offset="1.000" stop-color="#5e0202"/></linearGradient>
<linearGradient id="bdh105" gradientUnits="userSpaceOnUse" x1="1537.1" y1="0" x2="1606.9" y2="0" gradientTransform="translate(0 831.3) skewX(-18.20) translate(0 -831.3)"><stop offset="0.000" stop-color="#a80000"/><stop offset="0.017" stop-color="#ff3a00"/><stop offset="0.043" stop-color="#ff8c00"/><stop offset="0.106" stop-color="#ffc400"/><stop offset="0.174" stop-color="#ffee50"/><stop offset="0.212" stop-color="#ffe43a"/><stop offset="0.212" stop-color="#ffe43a"/><stop offset="0.385" stop-color="#ffe030"/><stop offset="0.567" stop-color="#ffab00"/><stop offset="0.764" stop-color="#ff5a00"/><stop offset="0.921" stop-color="#cc1400"/><stop offset="1.000" stop-color="#5e0202"/></linearGradient>
<linearGradient id="bdh106" gradientUnits="userSpaceOnUse" x1="1536.3" y1="0" x2="1605.6" y2="0" gradientTransform="translate(0 834.3) skewX(-18.20) translate(0 -834.3)"><stop offset="0.000" stop-color="#a80000"/><stop offset="0.017" stop-color="#ff3a00"/><stop offset="0.042" stop-color="#ff8c00"/><stop offset="0.104" stop-color="#ffc400"/><stop offset="0.171" stop-color="#ffee50"/><stop offset="0.209" stop-color="#ffe43a"/><stop offset="0.209" stop-color="#ffe43a"/><stop offset="0.383" stop-color="#ffe030"/><stop offset="0.565" stop-color="#ffab00"/><stop offset="0.763" stop-color="#ff5a00"/><stop offset="0.921" stop-color="#cc1400"/><stop offset="1.000" stop-color="#5e0202"/></linearGradient>
<linearGradient id="bdh107" gradientUnits="userSpaceOnUse" x1="1535.5" y1="0" x2="1604.4" y2="0" gradientTransform="translate(0 837.3) skewX(-18.20) translate(0 -837.3)"><stop offset="0.000" stop-color="#a80000"/><stop offset="0.017" stop-color="#ff3a00"/><stop offset="0.042" stop-color="#ff8c00"/><stop offset="0.103" stop-color="#ffc400"/><stop offset="0.169" stop-color="#ffee50"/><stop offset="0.206" stop-color="#ffe43a"/><stop offset="0.206" stop-color="#ffe43a"/><stop offset="0.380" stop-color="#ffe030"/><stop offset="0.563" stop-color="#ffab00"/><stop offset="0.762" stop-color="#ff5a00"/><stop offset="0.921" stop-color="#cc1400"/><stop offset="1.000" stop-color="#5e0202"/></linearGradient>
<linearGradient id="bdh108" gradientUnits="userSpaceOnUse" x1="1534.8" y1="0" x2="1603.2" y2="0" gradientTransform="translate(0 840.3) skewX(-18.20) translate(0 -840.3)"><stop offset="0.000" stop-color="#a80000"/><stop offset="0.018" stop-color="#ff3a00"/><stop offset="0.042" stop-color="#ff8c00"/><stop offset="0.101" stop-color="#ffc400"/><stop offset="0.166" stop-color="#ffee50"/><stop offset="0.203" stop-color="#ffe43a"/><stop offset="0.203" stop-color="#ffe43a"/><stop offset="0.378" stop-color="#ffe030"/><stop offset="0.561" stop-color="#ffab00"/><stop offset="0.761" stop-color="#ff5a00"/><stop offset="0.920" stop-color="#cc1400"/><stop offset="1.000" stop-color="#5e0202"/></linearGradient>
<linearGradient id="bdh109" gradientUnits="userSpaceOnUse" x1="1534.0" y1="0" x2="1602.0" y2="0" gradientTransform="translate(0 843.3) skewX(-18.20) translate(0 -843.3)"><stop offset="0.000" stop-color="#a80000"/><stop offset="0.018" stop-color="#ff3a00"/><stop offset="0.042" stop-color="#ff8c00"/><stop offset="0.100" stop-color="#ffc400"/><stop offset="0.163" stop-color="#ffee50"/><stop offset="0.199" stop-color="#ffe43a"/><stop offset="0.199" stop-color="#ffe43a"/><stop offset="0.375" stop-color="#ffe030"/><stop offset="0.560" stop-color="#ffab00"/><stop offset="0.760" stop-color="#ff5a00"/><stop offset="0.920" stop-color="#cc1400"/><stop offset="1.000" stop-color="#5e0202"/></linearGradient>
<linearGradient id="bdh110" gradientUnits="userSpaceOnUse" x1="1533.3" y1="0" x2="1600.8" y2="0" gradientTransform="translate(0 846.3) skewX(-18.20) translate(0 -846.3)"><stop offset="0.000" stop-color="#a80000"/><stop offset="0.018" stop-color="#ff3a00"/><stop offset="0.041" stop-color="#ff8c00"/><stop offset="0.098" stop-color="#ffc400"/><stop offset="0.161" stop-color="#ffee50"/><stop offset="0.196" stop-color="#ffe43a"/><stop offset="0.196" stop-color="#ffe43a"/><stop offset="0.373" stop-color="#ffe030"/><stop offset="0.558" stop-color="#ffab00"/><stop offset="0.759" stop-color="#ff5a00"/><stop offset="0.920" stop-color="#cc1400"/><stop offset="1.000" stop-color="#5e0202"/></linearGradient>
<linearGradient id="bdh111" gradientUnits="userSpaceOnUse" x1="1532.5" y1="0" x2="1599.6" y2="0" gradientTransform="translate(0 849.3) skewX(-18.20) translate(0 -849.3)"><stop offset="0.000" stop-color="#a80000"/><stop offset="0.018" stop-color="#ff3a00"/><stop offset="0.041" stop-color="#ff8c00"/><stop offset="0.096" stop-color="#ffc400"/><stop offset="0.158" stop-color="#ffee50"/><stop offset="0.193" stop-color="#ffe43a"/><stop offset="0.193" stop-color="#ffe43a"/><stop offset="0.370" stop-color="#ffe030"/><stop offset="0.556" stop-color="#ffab00"/><stop offset="0.758" stop-color="#ff5a00"/><stop offset="0.919" stop-color="#cc1400"/><stop offset="1.000" stop-color="#5e0202"/></linearGradient>
<linearGradient id="bdh112" gradientUnits="userSpaceOnUse" x1="1531.7" y1="0" x2="1598.4" y2="0" gradientTransform="translate(0 852.3) skewX(-18.20) translate(0 -852.3)"><stop offset="0.000" stop-color="#a80000"/><stop offset="0.018" stop-color="#ff3a00"/><stop offset="0.041" stop-color="#ff8c00"/><stop offset="0.095" stop-color="#ffc400"/><stop offset="0.155" stop-color="#ffee50"/><stop offset="0.190" stop-color="#ffe43a"/><stop offset="0.190" stop-color="#ffe43a"/><stop offset="0.368" stop-color="#ffe030"/><stop offset="0.554" stop-color="#ffab00"/><stop offset="0.757" stop-color="#ff5a00"/><stop offset="0.919" stop-color="#cc1400"/><stop offset="1.000" stop-color="#5e0202"/></linearGradient>
<linearGradient id="bdh113" gradientUnits="userSpaceOnUse" x1="1531.0" y1="0" x2="1597.2" y2="0" gradientTransform="translate(0 855.3) skewX(-18.20) translate(0 -855.3)"><stop offset="0.000" stop-color="#a80000"/><stop offset="0.018" stop-color="#ff3a00"/><stop offset="0.040" stop-color="#ff8c00"/><stop offset="0.093" stop-color="#ffc400"/><stop offset="0.153" stop-color="#ffee50"/><stop offset="0.186" stop-color="#ffe43a"/><stop offset="0.186" stop-color="#ffe43a"/><stop offset="0.365" stop-color="#ffe030"/><stop offset="0.552" stop-color="#ffab00"/><stop offset="0.756" stop-color="#ff5a00"/><stop offset="0.919" stop-color="#cc1400"/><stop offset="1.000" stop-color="#5e0202"/></linearGradient>
<linearGradient id="bdh114" gradientUnits="userSpaceOnUse" x1="1530.2" y1="0" x2="1595.9" y2="0" gradientTransform="translate(0 858.3) skewX(-18.20) translate(0 -858.3)"><stop offset="0.000" stop-color="#a80000"/><stop offset="0.018" stop-color="#ff3a00"/><stop offset="0.040" stop-color="#ff8c00"/><stop offset="0.091" stop-color="#ffc400"/><stop offset="0.150" stop-color="#ffee50"/><stop offset="0.183" stop-color="#ffe43a"/><stop offset="0.183" stop-color="#ffe43a"/><stop offset="0.363" stop-color="#ffe030"/><stop offset="0.551" stop-color="#ffab00"/><stop offset="0.755" stop-color="#ff5a00"/><stop offset="0.918" stop-color="#cc1400"/><stop offset="1.000" stop-color="#5e0202"/></linearGradient>
<linearGradient id="bdh115" gradientUnits="userSpaceOnUse" x1="1529.5" y1="0" x2="1594.7" y2="0" gradientTransform="translate(0 861.3) skewX(-18.20) translate(0 -861.3)"><stop offset="0.000" stop-color="#a80000"/><stop offset="0.018" stop-color="#ff3a00"/><stop offset="0.040" stop-color="#ff8c00"/><stop offset="0.090" stop-color="#ffc400"/><stop offset="0.147" stop-color="#ffee50"/><stop offset="0.179" stop-color="#ffe43a"/><stop offset="0.179" stop-color="#ffe43a"/><stop offset="0.360" stop-color="#ffe030"/><stop offset="0.549" stop-color="#ffab00"/><stop offset="0.754" stop-color="#ff5a00"/><stop offset="0.918" stop-color="#cc1400"/><stop offset="1.000" stop-color="#5e0202"/></linearGradient>
<linearGradient id="bdh116" gradientUnits="userSpaceOnUse" x1="1528.7" y1="0" x2="1593.5" y2="0" gradientTransform="translate(0 864.3) skewX(-18.20) translate(0 -864.3)"><stop offset="0.000" stop-color="#a80000"/><stop offset="0.019" stop-color="#ff3a00"/><stop offset="0.040" stop-color="#ff8c00"/><stop offset="0.088" stop-color="#ffc400"/><stop offset="0.144" stop-color="#ffee50"/><stop offset="0.176" stop-color="#ffe43a"/><stop offset="0.176" stop-color="#ffe43a"/><stop offset="0.357" stop-color="#ffe030"/><stop offset="0.547" stop-color="#ffab00"/><stop offset="0.753" stop-color="#ff5a00"/><stop offset="0.918" stop-color="#cc1400"/><stop offset="1.000" stop-color="#5e0202"/></linearGradient>
<linearGradient id="bdh117" gradientUnits="userSpaceOnUse" x1="1527.9" y1="0" x2="1592.3" y2="0" gradientTransform="translate(0 867.3) skewX(-18.20) translate(0 -867.3)"><stop offset="0.000" stop-color="#a80000"/><stop offset="0.019" stop-color="#ff3a00"/><stop offset="0.039" stop-color="#ff8c00"/><stop offset="0.086" stop-color="#ffc400"/><stop offset="0.141" stop-color="#ffee50"/><stop offset="0.172" stop-color="#ffe43a"/><stop offset="0.172" stop-color="#ffe43a"/><stop offset="0.354" stop-color="#ffe030"/><stop offset="0.545" stop-color="#ffab00"/><stop offset="0.752" stop-color="#ff5a00"/><stop offset="0.917" stop-color="#cc1400"/><stop offset="1.000" stop-color="#5e0202"/></linearGradient>
<linearGradient id="bdh118" gradientUnits="userSpaceOnUse" x1="1527.2" y1="0" x2="1591.1" y2="0" gradientTransform="translate(0 870.3) skewX(-18.20) translate(0 -870.3)"><stop offset="0.000" stop-color="#a80000"/><stop offset="0.019" stop-color="#ff3a00"/><stop offset="0.039" stop-color="#ff8c00"/><stop offset="0.084" stop-color="#ffc400"/><stop offset="0.138" stop-color="#ffee50"/><stop offset="0.169" stop-color="#ffe43a"/><stop offset="0.169" stop-color="#ffe43a"/><stop offset="0.352" stop-color="#ffe030"/><stop offset="0.543" stop-color="#ffab00"/><stop offset="0.751" stop-color="#ff5a00"/><stop offset="0.917" stop-color="#cc1400"/><stop offset="1.000" stop-color="#5e0202"/></linearGradient>
<linearGradient id="bdh119" gradientUnits="userSpaceOnUse" x1="1526.8" y1="0" x2="1590.4" y2="0" gradientTransform="translate(0 871.9) skewX(-18.20) translate(0 -871.9)"><stop offset="0.000" stop-color="#a80000"/><stop offset="0.019" stop-color="#ff3a00"/><stop offset="0.039" stop-color="#ff8c00"/><stop offset="0.083" stop-color="#ffc400"/><stop offset="0.137" stop-color="#ffee50"/><stop offset="0.167" stop-color="#ffe43a"/><stop offset="0.167" stop-color="#ffe43a"/><stop offset="0.350" stop-color="#ffe030"/><stop offset="0.542" stop-color="#ffab00"/><stop offset="0.750" stop-color="#ff5a00"/><stop offset="0.917" stop-color="#cc1400"/><stop offset="1.000" stop-color="#5e0202"/></linearGradient>
</defs>
<g id="pa">
<path d="M25.3,263.4 L165.5,331.9 L402,268.1 L262,196 Z" fill="url(#glT)"/>
<path d="M25.3,263.4 L165.5,331.9 L165.5,350.8 L25.3,282.9 Z" fill="url(#glL)"/>
<path d="M165.5,331.9 L402,268.1 L402.9,287.9 L165.5,350.8 Z" fill="url(#glR)"/>
<path d="M60.6,246.6 L184.4,313.1 L388.5,258.2 L261.7,195.8 Z" fill="url(#film)"/>
<path d="M60.6,246.6 L184.4,313.1 L184.4,317.5 L59.2,251.5 Z" fill="#dba531"/>
<path d="M184.4,313.1 L388.5,258.2 L388.5,262 L184.4,317.5 Z" fill="#e7b52c"/>
<g transform="rotate(-12 222 252)" fill="none">
<ellipse cx="226" cy="253" rx="92" ry="27" stroke="#ee8a5c" stroke-width="12" opacity="0.35"/>
<ellipse cx="226" cy="253" rx="92" ry="27" stroke="#ee8258" stroke-width="9" opacity="0.9"/>
<ellipse cx="226" cy="253" rx="63" ry="18.5" stroke="#ee8a5c" stroke-width="11" opacity="0.35"/>
<ellipse cx="226" cy="253" rx="63" ry="18.5" stroke="#ee8258" stroke-width="8" opacity="0.9"/>
<ellipse cx="226" cy="253" rx="37" ry="11.5" stroke="#ee8a5c" stroke-width="9.5" opacity="0.35"/>
<ellipse cx="226" cy="253" rx="37" ry="11.5" stroke="#ee8258" stroke-width="6.5" opacity="0.9"/>
</g>
<ellipse cx="222" cy="252" rx="17" ry="8" fill="#ee7360" transform="rotate(-12 222 252)"/>
<rect x="213" y="250" width="18" height="7" fill="#e55a50" transform="rotate(-12 222 252)"/>
<g transform="translate(46,89) rotate(43.11)" opacity="0.8"><rect x="-6" y="-12.5" width="241.3" height="25" rx="9" ry="9" fill="url(#beam)"/></g>
<path d="M144.9,162.9 L83,105" stroke="#000" stroke-width="3.6" fill="none"/>
<path d="M74.9,97 L101.9,108 L92,111.5 L87.9,123 Z" fill="#000"/>
<path d="M63,119 L124,179" stroke="#000" stroke-width="3.6" fill="none"/>
<path d="M130.9,185.5 L104.9,173.9 L115,170.5 L118.9,158.9 Z" fill="#000"/>
<path d="M207.3,210.5 L247.1,197.9 L218.8,249 Z" fill="url(#tipG)" opacity="0.85"/>
<path d="M370.9,58.4 L405.5,75.2 L273.4,167.5 L274.4,170 L202,194.7 L234.1,148.6 L237.7,150.7 Z" fill="url(#cantTop)"/>
<path d="M405.5,75.2 L410.8,92 L280.7,180.1 L281.7,185.9 L207.3,210.5 L202,194.7 L274.4,170 L273.4,167.5 Z" fill="url(#cantSide)"/>
<path d="M273.4,167.5 L274.4,170 L280.7,180.1 L281.7,185.9" stroke="#5d6875" stroke-width="1" fill="none"/>
<text x="122" y="121" font-size="28" font-style="italic">E</text>
<text x="139.5" y="129" font-size="21">scattered</text>
<text x="29.5" y="191" font-size="28" font-style="italic">E</text>
<text x="47.5" y="199.5" font-size="21">incident</text>
<path d="M61.3,247.3 L122,231.5" stroke="#33a865" stroke-width="3.2"/>
<path d="M136.1,229.1 L118.6,227 L121.4,239.6 Z" fill="#33a865"/>
<text x="139" y="232.8" font-size="26" fill="#33a865" font-weight="bold" font-style="italic">b</text>
<path d="M61.3,248 L84,259.5" stroke="#ec4242" stroke-width="3.4"/>
<path d="M96.9,266.9 L80.1,253.6 L77.3,264.8 Z" fill="#ec4242"/>
<text x="99" y="280.1" font-size="28" fill="#ec4242" font-weight="bold" font-style="italic">a</text>
<text transform="translate(306.7 268.1) rotate(-14.6)" font-size="24">GeS<tspan font-size="17" dy="5">2</tspan></text>
<text transform="translate(336.4 300.5) rotate(-17.3)" font-size="24">glass</text>
</g>
<g clip-path="url(#clipB)">
<rect x="526" y="16.5" width="359" height="357.5" fill="#0c0d27"/>
<circle cx="556" cy="45" r="5" fill="#1c1f4e" opacity="0.8"/>
<circle cx="547" cy="110" r="4" fill="#1c1f4e" opacity="0.8"/>
<circle cx="538" cy="200" r="3" fill="#1c1f4e" opacity="0.8"/>
<circle cx="545" cy="280" r="4" fill="#1c1f4e" opacity="0.8"/>
<circle cx="535" cy="330" r="3" fill="#1c1f4e" opacity="0.8"/>
<circle cx="560" cy="368" r="3" fill="#1c1f4e" opacity="0.8"/>
<circle cx="540" cy="150" r="3" fill="#1c1f4e" opacity="0.8"/>
<path d="M546.5,303 C546.8,310 549.5,317 559,328 C563,333 567,337 572,340.5" stroke="#56688a" stroke-width="6.5" fill="none" stroke-linecap="round"/>
<path d="M566.2,16 L885,16 L885,359.8 L641,359.1 C605,357.5 574,346 559,328 C549.5,317 546.3,306 546.6,290 Z" fill="url(#bodyB)"/>
<path d="M885,359.8 L641,359.1 C605,357.5 574,346 559,328 C549.5,317 546.3,306 546.6,290 L566.2,16" stroke="#e4a444" stroke-width="1.3" fill="none" opacity="0.9"/>
<circle cx="560" cy="292" r="2.2" fill="#fff3d0" opacity="0.7"/>
<circle cx="563" cy="296" r="2.5" fill="#fff3d0" opacity="0.7"/>
<circle cx="556" cy="300" r="1.8" fill="#fff3d0" opacity="0.7"/>
<circle cx="612" cy="31" r="1.5" fill="#fff3d0" opacity="0.7"/>
</g>
<rect x="526" y="16.5" width="359" height="357.5" fill="none" stroke="#000" stroke-width="1.5"/>
<rect x="484" y="68" width="21" height="255.5" fill="url(#cbB)" stroke="#000" stroke-width="1.4"/>
<text x="494" y="57" font-size="29" text-anchor="middle">253</text>
<text x="494" y="353.2" font-size="29" text-anchor="middle">0</text>
<text x="461" y="194.5" font-size="29" text-anchor="middle" transform="rotate(-90 461 194.5)">Height, <tspan font-style="italic">H</tspan> (nm)</text>
<path d="M675.5,55.3 L675.5,235.5" stroke="#0e2e66" stroke-width="1.6"/>
<path d="M670.2,56 L675.5,56" stroke="#0e2e66" stroke-width="1.6"/>
<text x="657.5" y="66.4" font-size="29" text-anchor="end" fill="#0e2e66">300</text>
<path d="M670.2,115.9 L675.5,115.9" stroke="#0e2e66" stroke-width="1.6"/>
<text x="657.5" y="126.30000000000001" font-size="29" text-anchor="end" fill="#0e2e66">200</text>
<path d="M670.2,175.5 L675.5,175.5" stroke="#0e2e66" stroke-width="1.6"/>
<text x="657.5" y="185.9" font-size="29" text-anchor="end" fill="#0e2e66">100</text>
<path d="M670.2,235.1 L675.5,235.1" stroke="#0e2e66" stroke-width="1.6"/>
<text x="657.5" y="245.5" font-size="29" text-anchor="end" fill="#0e2e66">0</text>
<text x="587.5" y="143" font-size="29" text-anchor="middle" fill="#0e2e66" transform="rotate(-90 587.5 143)">Height, <tspan font-style="italic">H</tspan> (nm)</text>
<text x="713" y="84" font-size="29" fill="#0e2e66">215 ± 7 nm</text>
<path d="M678.5,228.8 L700,229.2 L730,230 L751,230.6 L752.5,205 L754,178 L756.5,140 L758.5,112 L760.5,103.5 L763,101.8 L766,103 L769,105.8 L775,106.6 L800,106.8 L830,106.9 L857.5,106.6" stroke="#0e2e66" stroke-width="2.7" fill="none" stroke-linejoin="round" stroke-linecap="round"/>
<path d="M785.6,120 L785.6,222" stroke="#0e2e66" stroke-width="2.4"/>
<path d="M785.6,109.2 L780.8,125 L785.6,123 L790.4,125 Z M785.6,232.6 L780.8,216.8 L785.6,218.8 L790.4,216.8 Z" fill="#0e2e66"/>
<rect x="755.7" y="342.2" width="105.7" height="6.4" fill="#000"/>
<text x="782" y="329.1" font-size="29">5 μm</text>
<g clip-path="url(#clipC)">
<rect x="1021" y="16.8" width="357.5" height="357.2" fill="#aa1a1a"/>
<rect x="1021" y="16.8" width="357.5" height="357.2" filter="url(#nzCr)" opacity="0.6"/>
<rect x="1021" y="16.8" width="357.5" height="357.2" filter="url(#nzCd)" opacity="0.7"/>
<path d="M1073.5,16.0 L1073.1,22.0 L1072.8,28.0 L1072.4,34.0 L1072.0,40.0 L1071.7,46.0 L1071.3,52.0 L1071.0,58.0 L1070.6,64.0 L1070.3,70.0 L1069.9,76.0 L1069.6,82.0 L1069.2,88.0 L1068.9,94.0 L1068.5,100.0 L1068.2,106.0 L1067.8,112.0 L1067.4,118.0 L1067.1,124.0 L1066.7,130.0 L1066.4,136.0 L1066.0,142.0 L1065.7,148.0 L1065.3,154.0 L1065.0,160.0 L1064.6,166.0 L1064.3,172.0 L1063.9,178.0 L1063.6,184.0 L1063.2,190.0 L1062.7,196.0 L1062.3,202.0 L1061.8,208.0 L1061.4,214.0 L1060.9,220.0 L1060.4,226.0 L1060.0,232.0 L1059.5,238.0 L1059.1,244.0 L1058.6,250.0 L1058.1,256.0 L1057.7,262.0 L1057.2,268.0 L1056.8,274.0 L1056.3,280.0 L1055.8,286.0 L1055.4,292.0 L1054.9,298.0 L1054.9,308.7 L1055.8,316.8 L1057.4,324.2 L1059.7,330.9 L1062.9,336.8 L1067.1,341.7 L1072.2,345.7 L1078.4,348.6 L1085.6,350.4 L1094.0,351.0 L1379.0,351.0 L1379.0,16.0 Z" fill="url(#bodyC)"/>
<g clip-path="url(#clipCb)">
<path d="M1077.5,16.0 L1067.2,190.0 L1058.8,300.0 L1058.0,340.0" stroke="#f8c848" stroke-width="6" fill="none" opacity="0.95"/>
<path d="M1083.5,16.0 L1073.2,190.0 L1064.8,300.0 L1064.0,340.0" stroke="#d8361c" stroke-width="4.5" fill="none" opacity="0.76"/>
<path d="M1089.5,16.0 L1079.2,190.0 L1070.8,300.0 L1070.0,340.0" stroke="#f8c848" stroke-width="6" fill="none" opacity="0.81"/>
<path d="M1095.5,16.0 L1085.2,190.0 L1076.8,300.0 L1076.0,340.0" stroke="#d8361c" stroke-width="4.5" fill="none" opacity="0.65"/>
<path d="M1101.5,16.0 L1091.2,190.0 L1082.8,300.0 L1082.0,340.0" stroke="#f8c848" stroke-width="6" fill="none" opacity="0.70"/>
<path d="M1107.5,16.0 L1097.2,190.0 L1088.8,300.0 L1088.0,340.0" stroke="#d8361c" stroke-width="4.5" fill="none" opacity="0.56"/>
<path d="M1113.5,16.0 L1103.2,190.0 L1094.8,300.0 L1094.0,340.0" stroke="#f8c848" stroke-width="6" fill="none" opacity="0.60"/>
<path d="M1119.5,16.0 L1109.2,190.0 L1100.8,300.0 L1100.0,340.0" stroke="#d8361c" stroke-width="4.5" fill="none" opacity="0.48"/>
<path d="M1125.5,16.0 L1115.2,190.0 L1106.8,300.0 L1106.0,340.0" stroke="#f8c848" stroke-width="6" fill="none" opacity="0.51"/>
<path d="M1131.5,16.0 L1121.2,190.0 L1112.8,300.0 L1112.0,340.0" stroke="#d8361c" stroke-width="4.5" fill="none" opacity="0.41"/>
<path d="M1137.5,16.0 L1127.2,190.0 L1118.8,300.0 L1118.0,340.0" stroke="#f8c848" stroke-width="6" fill="none" opacity="0.44"/>
<path d="M1143.5,16.0 L1133.2,190.0 L1124.8,300.0 L1124.0,340.0" stroke="#d8361c" stroke-width="4.5" fill="none" opacity="0.35"/>
<path d="M1149.5,16.0 L1139.2,190.0 L1130.8,300.0 L1130.0,340.0" stroke="#f8c848" stroke-width="6" fill="none" opacity="0.38"/>
<path d="M1155.5,16.0 L1145.2,190.0 L1136.8,300.0 L1136.0,340.0" stroke="#d8361c" stroke-width="4.5" fill="none" opacity="0.30"/>
<path d="M1161.5,16.0 L1151.2,190.0 L1142.8,300.0 L1142.0,340.0" stroke="#f8c848" stroke-width="6" fill="none" opacity="0.32"/>
<path d="M1167.5,16.0 L1157.2,190.0 L1148.8,300.0 L1148.0,340.0" stroke="#d8361c" stroke-width="4.5" fill="none" opacity="0.26"/>
<path d="M1173.5,16.0 L1163.2,190.0 L1154.8,300.0 L1154.0,340.0" stroke="#f8c848" stroke-width="6" fill="none" opacity="0.28"/>
<path d="M1179.5,16.0 L1169.2,190.0 L1160.8,300.0 L1160.0,340.0" stroke="#d8361c" stroke-width="4.5" fill="none" opacity="0.22"/>
<path d="M1185.5,16.0 L1175.2,190.0 L1166.8,300.0 L1166.0,340.0" stroke="#f8c848" stroke-width="6" fill="none" opacity="0.24"/>
<path d="M1191.5,16.0 L1181.2,190.0 L1172.8,300.0 L1172.0,340.0" stroke="#d8361c" stroke-width="4.5" fill="none" opacity="0.19"/>
<path d="M1197.5,16.0 L1187.2,190.0 L1178.8,300.0 L1178.0,340.0" stroke="#f8c848" stroke-width="6" fill="none" opacity="0.20"/>
<path d="M1203.5,16.0 L1193.2,190.0 L1184.8,300.0 L1184.0,340.0" stroke="#d8361c" stroke-width="4.5" fill="none" opacity="0.16"/>
<path d="M1209.5,16.0 L1199.2,190.0 L1190.8,300.0 L1190.0,340.0" stroke="#f8c848" stroke-width="6" fill="none" opacity="0.17"/>
<path d="M1215.5,16.0 L1205.2,190.0 L1196.8,300.0 L1196.0,340.0" stroke="#d8361c" stroke-width="4.5" fill="none" opacity="0.14"/>
<path d="M1221.5,16.0 L1211.2,190.0 L1202.8,300.0 L1202.0,340.0" stroke="#f8c848" stroke-width="6" fill="none" opacity="0.15"/>
<path d="M1227.5,16.0 L1217.2,190.0 L1208.8,300.0 L1208.0,340.0" stroke="#d8361c" stroke-width="4.5" fill="none" opacity="0.12"/>
<path d="M1233.5,16.0 L1223.2,190.0 L1214.8,300.0 L1214.0,340.0" stroke="#f8c848" stroke-width="6" fill="none" opacity="0.13"/>
<path d="M1239.5,16.0 L1229.2,190.0 L1220.8,300.0 L1220.0,340.0" stroke="#d8361c" stroke-width="4.5" fill="none" opacity="0.10"/>
<path d="M1245.5,16.0 L1235.2,190.0 L1226.8,300.0 L1226.0,340.0" stroke="#f8c848" stroke-width="6" fill="none" opacity="0.12"/>
<path d="M1251.5,16.0 L1241.2,190.0 L1232.8,300.0 L1232.0,340.0" stroke="#d8361c" stroke-width="4.5" fill="none" opacity="0.10"/>
<path d="M1257.5,16.0 L1247.2,190.0 L1238.8,300.0 L1238.0,340.0" stroke="#f8c848" stroke-width="6" fill="none" opacity="0.12"/>
<path d="M1263.5,16.0 L1253.2,190.0 L1244.8,300.0 L1244.0,340.0" stroke="#d8361c" stroke-width="4.5" fill="none" opacity="0.10"/>
<path d="M1269.5,16.0 L1259.2,190.0 L1250.8,300.0 L1250.0,340.0" stroke="#f8c848" stroke-width="6" fill="none" opacity="0.12"/>
<path d="M1275.5,16.0 L1265.2,190.0 L1256.8,300.0 L1256.0,340.0" stroke="#d8361c" stroke-width="4.5" fill="none" opacity="0.10"/>
<path d="M1281.5,16.0 L1271.2,190.0 L1262.8,300.0 L1262.0,340.0" stroke="#f8c848" stroke-width="6" fill="none" opacity="0.12"/>
<path d="M1287.5,16.0 L1277.2,190.0 L1268.8,300.0 L1268.0,340.0" stroke="#d8361c" stroke-width="4.5" fill="none" opacity="0.10"/>
<path d="M1293.5,16.0 L1283.2,190.0 L1274.8,300.0 L1274.0,340.0" stroke="#f8c848" stroke-width="6" fill="none" opacity="0.12"/>
<path d="M1299.5,16.0 L1289.2,190.0 L1280.8,300.0 L1280.0,340.0" stroke="#d8361c" stroke-width="4.5" fill="none" opacity="0.10"/>
<path d="M1305.5,16.0 L1295.2,190.0 L1286.8,300.0 L1286.0,340.0" stroke="#f8c848" stroke-width="6" fill="none" opacity="0.12"/>
<path d="M1311.5,16.0 L1301.2,190.0 L1292.8,300.0 L1292.0,340.0" stroke="#d8361c" stroke-width="4.5" fill="none" opacity="0.10"/>
<path d="M1317.5,16.0 L1307.2,190.0 L1298.8,300.0 L1298.0,340.0" stroke="#f8c848" stroke-width="6" fill="none" opacity="0.12"/>
<path d="M1323.5,16.0 L1313.2,190.0 L1304.8,300.0 L1304.0,340.0" stroke="#d8361c" stroke-width="4.5" fill="none" opacity="0.10"/>
<path d="M1329.5,16.0 L1319.2,190.0 L1310.8,300.0 L1310.0,340.0" stroke="#f8c848" stroke-width="6" fill="none" opacity="0.12"/>
<path d="M1335.5,16.0 L1325.2,190.0 L1316.8,300.0 L1316.0,340.0" stroke="#d8361c" stroke-width="4.5" fill="none" opacity="0.10"/>
<path d="M1341.5,16.0 L1331.2,190.0 L1322.8,300.0 L1322.0,340.0" stroke="#f8c848" stroke-width="6" fill="none" opacity="0.12"/>
<path d="M1347.5,16.0 L1337.2,190.0 L1328.8,300.0 L1328.0,340.0" stroke="#d8361c" stroke-width="4.5" fill="none" opacity="0.10"/>
<path d="M1353.5,16.0 L1343.2,190.0 L1334.8,300.0 L1334.0,340.0" stroke="#f8c848" stroke-width="6" fill="none" opacity="0.12"/>
<path d="M1359.5,16.0 L1349.2,190.0 L1340.8,300.0 L1340.0,340.0" stroke="#d8361c" stroke-width="4.5" fill="none" opacity="0.10"/>
<path d="M1365.5,16.0 L1355.2,190.0 L1346.8,300.0 L1346.0,340.0" stroke="#f8c848" stroke-width="6" fill="none" opacity="0.12"/>
<path d="M1371.5,16.0 L1361.2,190.0 L1352.8,300.0 L1352.0,340.0" stroke="#d8361c" stroke-width="4.5" fill="none" opacity="0.10"/>
<path d="M1377.5,16.0 L1367.2,190.0 L1358.8,300.0 L1358.0,340.0" stroke="#f8c848" stroke-width="6" fill="none" opacity="0.12"/>
<path d="M1383.5,16.0 L1373.2,190.0 L1364.8,300.0 L1364.0,340.0" stroke="#d8361c" stroke-width="4.5" fill="none" opacity="0.10"/>
<path d="M1389.5,16.0 L1379.2,190.0 L1370.8,300.0 L1370.0,340.0" stroke="#f8c848" stroke-width="6" fill="none" opacity="0.12"/>
<path d="M1395.5,16.0 L1385.2,190.0 L1376.8,300.0 L1376.0,340.0" stroke="#d8361c" stroke-width="4.5" fill="none" opacity="0.10"/>
<path d="M1401.5,16.0 L1391.2,190.0 L1382.8,300.0 L1382.0,340.0" stroke="#f8c848" stroke-width="6" fill="none" opacity="0.12"/>
<path d="M1407.5,16.0 L1397.2,190.0 L1388.8,300.0 L1388.0,340.0" stroke="#d8361c" stroke-width="4.5" fill="none" opacity="0.10"/>
<path d="M1040,314 L1379,314" stroke="#f6c23c" stroke-width="4" opacity="0.5"/>
<path d="M1040,320 L1379,320" stroke="#dc4420" stroke-width="4" opacity="0.6"/>
<path d="M1040,329 L1379,329" stroke="#f8d048" stroke-width="5.5" opacity="1"/>
<path d="M1040,336.3 L1379,336.3" stroke="#d02a1a" stroke-width="5.5" opacity="1"/>
<path d="M1040,342 L1379,342" stroke="#f4b838" stroke-width="3" opacity="0.6"/>
<path d="M1040,300 L1379,300" stroke="#f4b848" stroke-width="4" opacity="0.3"/>
<path d="M1040,292 L1379,292" stroke="#d84a20" stroke-width="3" opacity="0.3"/>
<path d="M1040,268 L1379,268" stroke="#f0a040" stroke-width="6" opacity="0.25"/>
<path d="M1040,240 L1379,240" stroke="#d84a20" stroke-width="4" opacity="0.25"/>
<path d="M1040,215 L1379,215" stroke="#f0a040" stroke-width="6" opacity="0.3"/>
<path d="M1040,180 L1379,180" stroke="#d84a20" stroke-width="4" opacity="0.2"/>
<path d="M1040,150 L1379,150" stroke="#f0a040" stroke-width="5" opacity="0.25"/>
<path d="M1040,120 L1379,120" stroke="#d84a20" stroke-width="4" opacity="0.25"/>
<path d="M1040,95 L1379,95" stroke="#f0a040" stroke-width="5" opacity="0.2"/>
<path d="M1040,60 L1379,60" stroke="#d84a20" stroke-width="4" opacity="0.2"/>
<rect x="1021" y="16.8" width="357.5" height="357.2" filter="url(#nzCy)" opacity="0.8"/>
<rect x="1021" y="16.8" width="357.5" height="357.2" filter="url(#nzCr)" opacity="0.7"/>
<rect x="1021" y="16.8" width="357.5" height="357.2" filter="url(#nzCh)" opacity="0.5"/>
</g>
<path d="M1046,300 C1047,345 1064,359 1100,359 L1379,359" stroke="#7a0808" stroke-width="7" fill="none" opacity="0.55"/>
<path d="M1057.3,280.0 L1056.5,290.0 L1055.8,300.0 L1055.9,308.7 L1056.8,316.8 L1058.4,324.2 L1060.7,330.9 L1063.9,334.2 L1067.1,339.2 L1072.2,343.2 L1078.4,346.1 L1085.6,347.9 L1094.0,348.5 L1379.0,348.5" stroke="#f9e272" stroke-width="9" fill="none"/>
<path d="M1090,348.8 L1379,348.8" stroke="#fdf6c8" stroke-width="3.5" fill="none" opacity="0.9"/>
<path d="M1073.5,16.0 L1072.9,26.0 L1072.3,36.0 L1071.7,46.0 L1071.1,56.0 L1070.5,66.0 L1069.9,76.0 L1069.3,86.0 L1068.7,96.0 L1068.2,106.0 L1067.6,116.0 L1067.0,126.0 L1066.4,136.0 L1065.8,146.0 L1065.2,156.0 L1064.6,166.0 L1064.0,176.0 L1063.4,186.0 L1062.7,196.0 L1062.0,206.0 L1061.2,216.0 L1060.4,226.0 L1059.7,236.0 L1058.9,246.0 L1058.1,256.0 L1057.4,266.0 L1056.6,276.0 L1055.8,286.0 L1055.1,296.0 L1054.8,300.0 L1054.5,312.0" stroke="#f9e070" stroke-width="4.2" fill="none"/>
<path d="M1066.3,16.0 L1065.7,26.0 L1065.1,36.0 L1064.6,46.0 L1064.0,56.0 L1063.4,66.0 L1062.9,76.0 L1062.3,86.0 L1061.7,96.0 L1061.2,106.0 L1060.6,116.0 L1060.0,126.0 L1059.5,136.0 L1058.9,146.0 L1058.3,156.0 L1057.8,166.0 L1057.2,176.0 L1056.6,186.0 L1055.9,196.0 L1055.1,206.0 L1054.3,216.0 L1053.4,226.0 L1052.6,236.0 L1051.8,246.0 L1051.0,256.0 L1050.1,266.0 L1049.3,276.0 L1048.5,286.0 L1047.7,296.0 L1046.8,306.0 L1046.5,318.0 L1049.0,327.0 L1055.0,336.0 L1064.0,344.0 L1076.0,350.0" stroke="#f6d05a" stroke-width="3" fill="none"/>
<path d="M1069.9,16.0 L1069.3,26.0 L1068.7,36.0 L1068.2,46.0 L1067.6,56.0 L1067.0,66.0 L1066.5,76.0 L1065.9,86.0 L1065.3,96.0 L1064.8,106.0 L1064.2,116.0 L1063.6,126.0 L1063.1,136.0 L1062.5,146.0 L1061.9,156.0 L1061.4,166.0 L1060.8,176.0 L1060.2,186.0 L1059.5,196.0 L1058.7,206.0 L1057.9,216.0 L1057.0,226.0 L1056.2,236.0 L1055.4,246.0 L1054.6,256.0 L1053.7,266.0 L1052.9,276.0 L1052.1,286.0 L1051.3,296.0 L1050.4,306.0 L1050.1,318.0" stroke="#a01010" stroke-width="1.6" fill="none" opacity="0.8"/>
</g>
<rect x="1021" y="16.8" width="357.5" height="357.2" fill="none" stroke="#000" stroke-width="1.5"/>
<rect x="981" y="68" width="21.3" height="255.5" fill="url(#cbC)" stroke="#000" stroke-width="1.4"/>
<text x="986" y="56.9" font-size="29" text-anchor="middle">Max</text>
<text x="985.4" y="353.4" font-size="29" text-anchor="middle">Min</text>
<text x="957.5" y="195" font-size="29" text-anchor="middle" transform="rotate(-90 957.5 195)">Amp(<tspan font-style="italic">E</tspan>)</text>
<text x="1201.5" y="51.8" font-size="29" fill="#fff">λ = 1000 nm</text>
<path d="M1135,262.4 L1176,262.4 M1135,264.2 L1135,150" stroke="#000" stroke-width="3.6" fill="none"/>
<path d="M1135,127.8 L1125,154.8 L1135,148.5 L1144.5,154.8 Z" fill="#000"/>
<path d="M1192.5,262.4 L1165.6,253.1 L1172.8,262.4 L1165.6,271.7 Z" fill="#000"/>
<text x="1128" y="120.6" font-size="28" font-weight="bold" font-style="italic">b</text>
<text x="1194" y="272" font-size="28" font-weight="bold" font-style="italic">a</text>
<rect x="1251.5" y="342.3" width="105.2" height="6.5" fill="#000"/>
<text x="1268" y="329.3" font-size="29">5 μm</text>
<g clip-path="url(#clipD)">
<rect x="1525" y="16.8" width="357.29999999999995" height="357.4" fill="#7d86ec"/>
<rect x="1525" y="16.8" width="357.29999999999995" height="357.4" filter="url(#nzDw)" opacity="0.65"/>
<rect x="1525" y="16.8" width="357.29999999999995" height="357.4" filter="url(#nzDb)" opacity="0.5"/>
<path d="M1557.7,13.4 L1557.1,21.4 L1556.6,29.4 L1556.0,37.4 L1555.5,45.4 L1555.0,53.4 L1554.4,61.4 L1553.9,69.4 L1553.3,77.4 L1552.8,85.4 L1552.2,93.4 L1551.7,101.4 L1551.2,109.4 L1550.6,117.4 L1550.1,125.4 L1549.5,133.4 L1549.0,141.4 L1548.5,149.4 L1547.9,157.4 L1547.4,165.4 L1546.8,173.4 L1546.3,181.4 L1545.8,189.4 L1545.3,197.5 L1544.9,205.5 L1544.5,213.5 L1544.0,221.5 L1543.6,229.5 L1543.2,237.5 L1542.8,245.5 L1542.4,253.5 L1542.0,261.5 L1541.6,269.5 L1541.2,277.5 L1540.8,285.5 L1540.4,293.6 L1540.0,306.2 L1541.1,316.2 L1545.2,326.5 L1552.4,336.2 L1562.9,345.4 L1576.8,352.9 L1594.4,357.7 L1619.3,360.8 L1666.8,363.0 L1759.9,364.0 L1884.0,364.5" stroke="#dcdcf8" stroke-width="12" fill="none" opacity="0.55"/>
<path d="M1562.1,13.7 L1561.6,21.7 L1561.1,29.7 L1560.5,37.7 L1560.0,45.7 L1559.4,53.7 L1558.9,61.7 L1558.4,69.7 L1557.8,77.7 L1557.3,85.7 L1556.7,93.7 L1556.2,101.7 L1555.7,109.7 L1555.1,117.7 L1554.6,125.7 L1554.0,133.7 L1553.5,141.7 L1553.0,149.7 L1552.4,157.7 L1551.9,165.7 L1551.3,173.7 L1550.8,181.7 L1550.2,189.7 L1549.8,197.7 L1549.4,205.8 L1548.9,213.8 L1548.5,221.8 L1548.1,229.8 L1547.7,237.8 L1547.3,245.8 L1546.9,253.8 L1546.5,261.8 L1546.1,269.8 L1545.7,277.8 L1545.3,285.8 L1544.9,293.8 L1544.5,306.1 L1545.4,315.1 L1549.1,324.2 L1555.7,333.1 L1565.4,341.7 L1578.4,348.7 L1595.2,353.2 L1619.7,356.3 L1666.9,358.5 L1760.0,359.5 L1884.0,360.0" stroke="#f4e6ee" stroke-width="5" fill="none" opacity="0.8"/>
<path d="M1568.6,14.1 L1568.1,22.1 L1567.5,30.1 L1567.0,38.1 L1566.5,46.1 L1565.9,54.1 L1565.4,62.1 L1564.8,70.1 L1564.3,78.1 L1563.8,86.1 L1563.2,94.1 L1562.7,102.1 L1562.1,110.1 L1561.6,118.1 L1561.1,126.1 L1560.5,134.1 L1560.0,142.1 L1559.4,150.1 L1558.9,158.1 L1558.4,166.1 L1557.8,174.1 L1557.3,182.1 L1556.7,190.1 L1556.2,198.1 L1555.8,206.1 L1555.4,214.1 L1555.0,222.1 L1554.6,230.1 L1554.2,238.1 L1553.8,246.1 L1553.4,254.1 L1553.0,262.1 L1552.6,270.1 L1552.2,278.1 L1551.8,286.1 L1551.4,294.1 L1551.0,306.0 L1551.7,313.5 L1554.7,321.0 L1560.5,328.6 L1569.1,336.4 L1580.7,342.6 L1596.4,346.8 L1620.1,349.8 L1667.0,352.0 L1760.0,353.0 L1884.0,353.5 L1884.0,14.0 Z" fill="#98a0f0"/>
<g clip-path="url(#clipDb)">
<path d="M1575.6,14.6 L1575.1,22.6 L1574.5,30.6 L1574.0,38.6 L1573.5,46.6 L1572.9,54.6 L1572.4,62.6 L1571.8,70.6 L1571.3,78.6 L1570.7,86.6 L1570.2,94.6 L1569.7,102.6 L1569.1,110.6 L1568.6,118.6 L1568.0,126.6 L1567.5,134.6 L1567.0,142.6 L1566.4,150.6 L1565.9,158.6 L1565.3,166.6 L1564.8,174.6 L1564.3,182.6 L1563.7,190.6 L1563.2,198.5 L1562.8,206.5 L1562.4,214.5 L1562.0,222.5 L1561.6,230.5 L1561.2,238.5 L1560.8,246.5 L1560.4,254.5 L1560.0,262.5 L1559.6,270.5 L1559.2,278.5 L1558.8,286.5 L1558.4,294.4 L1558.0,305.8 L1558.5,311.8 L1560.8,317.5 L1566.2,324.6" stroke="#cdd1f9" stroke-width="6" fill="none" opacity="0.75"/>
<path d="M1581.6,15.0 L1581.1,23.0 L1580.5,31.0 L1580.0,39.0 L1579.4,47.0 L1578.9,55.0 L1578.4,63.0 L1577.8,71.0 L1577.3,79.0 L1576.7,87.0 L1576.2,95.0 L1575.7,103.0 L1575.1,111.0 L1574.6,119.0 L1574.0,127.0 L1573.5,135.0 L1572.9,143.0 L1572.4,151.0 L1571.9,159.0 L1571.3,167.0 L1570.8,175.0 L1570.2,183.0 L1569.7,191.0 L1569.2,198.8 L1568.8,206.8 L1568.4,214.8 L1568.0,222.8 L1567.6,230.8 L1567.2,238.8 L1566.8,246.8 L1566.4,254.8 L1566.0,262.8 L1565.6,270.8 L1565.2,278.8 L1564.8,286.8 L1564.4,294.6 L1564.0,305.7 L1564.4,310.4 L1566.0,314.5 L1571.0,321.0" stroke="#7e88ec" stroke-width="4" fill="none" opacity="0.45"/>
<path d="M1587.6,15.4 L1587.0,23.4 L1586.5,31.4 L1586.0,39.4 L1585.4,47.4 L1584.9,55.4 L1584.3,63.4 L1583.8,71.4 L1583.3,79.4 L1582.7,87.4 L1582.2,95.4 L1581.6,103.4 L1581.1,111.4 L1580.6,119.4 L1580.0,127.4 L1579.5,135.4 L1578.9,143.4 L1578.4,151.4 L1577.9,159.4 L1577.3,167.4 L1576.8,175.4 L1576.2,183.4 L1575.7,191.3 L1575.2,199.2 L1574.8,207.1 L1574.4,215.1 L1574.0,223.1 L1573.6,231.1 L1573.2,239.1 L1572.8,247.1 L1572.4,255.1 L1572.0,263.1 L1571.6,271.1 L1571.2,279.1 L1570.8,287.1 L1570.4,294.8 L1570.0,305.6 L1570.2,308.9 L1571.2,311.5 L1575.8,317.4" stroke="#cdd1f9" stroke-width="6" fill="none" opacity="0.65"/>
<path d="M1593.6,15.8 L1593.0,23.8 L1592.5,31.8 L1592.0,39.8 L1591.4,47.8 L1590.9,55.8 L1590.3,63.8 L1589.8,71.8 L1589.2,79.8 L1588.7,87.8 L1588.2,95.8 L1587.6,103.8 L1587.1,111.8 L1586.5,119.8 L1586.0,127.8 L1585.5,135.8 L1584.9,143.8 L1584.4,151.8 L1583.8,159.8 L1583.3,167.8 L1582.8,175.8 L1582.2,183.8 L1581.7,191.7 L1581.2,199.5 L1580.8,207.4 L1580.4,215.4 L1580.0,223.4 L1579.6,231.4 L1579.2,239.4 L1578.8,247.4 L1578.4,255.4 L1578.0,263.4 L1577.6,271.4 L1577.2,279.4 L1576.8,287.4 L1576.4,295.1 L1576.0,305.5 L1576.0,307.5 L1576.4,308.5 L1580.6,313.8" stroke="#7e88ec" stroke-width="4" fill="none" opacity="0.39"/>
<path d="M1599.6,16.2 L1599.0,24.2 L1598.5,32.2 L1597.9,40.2 L1597.4,48.2 L1596.9,56.2 L1596.3,64.2 L1595.8,72.2 L1595.2,80.2 L1594.7,88.2 L1594.2,96.2 L1593.6,104.2 L1593.1,112.2 L1592.5,120.2 L1592.0,128.2 L1591.4,136.2 L1590.9,144.2 L1590.4,152.2 L1589.8,160.2 L1589.3,168.2 L1588.7,176.2 L1588.2,184.2 L1587.7,192.1 L1587.2,199.8 L1586.8,207.7 L1586.4,215.7 L1586.0,223.7 L1585.6,231.7 L1585.2,239.7 L1584.8,247.7 L1584.4,255.7 L1584.0,263.7 L1583.6,271.7 L1583.2,279.7 L1582.8,287.7 L1582.4,295.3 L1582.0,305.3 L1581.8,306.0 L1581.6,305.6 L1585.4,310.2" stroke="#cdd1f9" stroke-width="6" fill="none" opacity="0.56"/>
<path d="M1605.5,16.6 L1605.0,24.6 L1604.5,32.6 L1603.9,40.6 L1603.4,48.6 L1602.8,56.6 L1602.3,64.6 L1601.8,72.6 L1601.2,80.6 L1600.7,88.6 L1600.1,96.6 L1599.6,104.6 L1599.1,112.6 L1598.5,120.6 L1598.0,128.6 L1597.4,136.6 L1596.9,144.6 L1596.4,152.6 L1595.8,160.6 L1595.3,168.6 L1594.7,176.6 L1594.2,184.6 L1593.7,192.5 L1593.2,200.2 L1592.8,208.0 L1592.4,216.0 L1592.0,224.0 L1591.6,232.0 L1591.2,240.0 L1590.8,248.0 L1590.4,256.0 L1590.0,264.0 L1589.6,272.0 L1589.2,280.0 L1588.8,288.0 L1588.4,295.6 L1588.0,305.2 L1587.6,304.5 L1586.8,302.6 L1590.2,306.6" stroke="#7e88ec" stroke-width="4" fill="none" opacity="0.34"/>
<path d="M1611.5,17.0 L1611.0,25.0 L1610.5,33.0 L1609.9,41.0 L1609.4,49.0 L1608.8,57.0 L1608.3,65.0 L1607.7,73.0 L1607.2,81.0 L1606.7,89.0 L1606.1,97.0 L1605.6,105.0 L1605.0,113.0 L1604.5,121.0 L1604.0,129.0 L1603.4,137.0 L1602.9,145.0 L1602.3,153.0 L1601.8,161.0 L1601.3,169.0 L1600.7,177.0 L1600.2,185.0 L1599.6,192.9 L1599.2,200.5 L1598.8,208.3 L1598.4,216.3 L1598.0,224.3 L1597.6,232.3 L1597.2,240.3 L1596.8,248.3 L1596.4,256.3 L1596.0,264.3 L1595.6,272.3 L1595.2,280.3 L1594.8,288.3 L1594.4,295.8 L1594.0,305.1 L1593.5,303.1 L1592.0,299.6 L1595.0,303.0" stroke="#cdd1f9" stroke-width="6" fill="none" opacity="0.49"/>
<path d="M1617.5,17.4 L1617.0,25.4 L1616.4,33.4 L1615.9,41.4 L1615.4,49.4 L1614.8,57.4 L1614.3,65.4 L1613.7,73.4 L1613.2,81.4 L1612.7,89.4 L1612.1,97.4 L1611.6,105.4 L1611.0,113.4 L1610.5,121.4 L1609.9,129.4 L1609.4,137.4 L1608.9,145.4 L1608.3,153.4 L1607.8,161.4 L1607.2,169.4 L1606.7,177.4 L1606.2,185.4 L1605.6,193.3 L1605.2,200.8 L1604.8,208.6 L1604.4,216.6 L1604.0,224.6 L1603.6,232.6 L1603.2,240.6 L1602.8,248.6 L1602.4,256.6 L1602.0,264.6 L1601.6,272.6 L1601.1,280.6 L1600.7,288.6 L1600.4,296.1 L1600.0,305.0 L1599.3,301.6 L1597.2,296.6 L1599.8,299.4" stroke="#7e88ec" stroke-width="4" fill="none" opacity="0.29"/>
<path d="M1623.5,17.8 L1623.0,25.8 L1622.4,33.8 L1621.9,41.8 L1621.3,49.8 L1620.8,57.8 L1620.3,65.8 L1619.7,73.8 L1619.2,81.8 L1618.6,89.8 L1618.1,97.8 L1617.6,105.8 L1617.0,113.8 L1616.5,121.8 L1615.9,129.8 L1615.4,137.8 L1614.9,145.8 L1614.3,153.8 L1613.8,161.8 L1613.2,169.8 L1612.7,177.8 L1612.1,185.8 L1611.6,193.7 L1611.2,201.2 L1610.8,208.9 L1610.4,216.9 L1610.0,224.9 L1609.6,232.9 L1609.2,240.9 L1608.8,248.9 L1608.3,256.9 L1607.9,264.9 L1607.5,272.9 L1607.1,280.9 L1606.7,288.9 L1606.4,296.3 L1606.0,304.9 L1605.1,300.2 L1602.4,293.6 L1604.6,295.8" stroke="#cdd1f9" stroke-width="6" fill="none" opacity="0.42"/>
<path d="M1629.5,18.2 L1629.0,26.2 L1628.4,34.2 L1627.9,42.2 L1627.3,50.2 L1626.8,58.2 L1626.2,66.2 L1625.7,74.2 L1625.2,82.2 L1624.6,90.2 L1624.1,98.2 L1623.5,106.2 L1623.0,114.2 L1622.5,122.2 L1621.9,130.2 L1621.4,138.2 L1620.8,146.2 L1620.3,154.2 L1619.8,162.2 L1619.2,170.2 L1618.7,178.2 L1618.1,186.2 L1617.6,194.0 L1617.2,201.5 L1616.8,209.2 L1616.4,217.2 L1616.0,225.2 L1615.6,233.2 L1615.1,241.2 L1614.7,249.2 L1614.3,257.2 L1613.9,265.2 L1613.5,273.2 L1613.1,281.2 L1612.7,289.2 L1612.4,296.5 L1612.0,304.8 L1610.9,298.7 L1607.6,290.6 L1609.4,292.2" stroke="#7e88ec" stroke-width="4" fill="none" opacity="0.25"/>
<path d="M1635.5,18.7 L1634.9,26.7 L1634.4,34.7 L1633.9,42.7 L1633.3,50.7 L1632.8,58.7 L1632.2,66.7 L1631.7,74.7 L1631.2,82.7 L1630.6,90.7 L1630.1,98.7 L1629.5,106.7 L1629.0,114.7 L1628.4,122.7 L1627.9,130.7 L1627.4,138.7 L1626.8,146.7 L1626.3,154.7 L1625.7,162.7 L1625.2,170.7 L1624.7,178.7 L1624.1,186.7 L1623.6,194.4 L1623.1,201.8 L1622.8,209.5 L1622.4,217.5 L1621.9,225.5 L1621.5,233.5 L1621.1,241.5 L1620.7,249.5 L1620.3,257.5 L1619.9,265.5 L1619.5,273.5 L1619.1,281.5 L1618.7,289.5 L1618.3,296.8 L1618.0,304.6 L1616.7,297.3 L1612.8,287.6 L1614.2,288.6" stroke="#cdd1f9" stroke-width="6" fill="none" opacity="0.37"/>
<path d="M1641.5,19.1 L1640.9,27.1 L1640.4,35.1 L1639.8,43.1 L1639.3,51.1 L1638.8,59.1 L1638.2,67.1 L1637.7,75.1 L1637.1,83.1 L1636.6,91.1 L1636.1,99.1 L1635.5,107.1 L1635.0,115.1 L1634.4,123.1 L1633.9,131.1 L1633.4,139.1 L1632.8,147.1 L1632.3,155.1 L1631.7,163.1 L1631.2,171.1 L1630.6,179.1 L1630.1,187.1 L1629.6,194.8 L1629.1,202.2 L1628.7,209.8 L1628.3,217.8 L1627.9,225.8 L1627.5,233.8 L1627.1,241.8 L1626.7,249.8 L1626.3,257.8 L1625.9,265.8 L1625.5,273.8 L1625.1,281.8 L1624.7,289.8 L1624.3,297.0 L1624.0,304.5 L1622.6,295.8 L1618.0,284.6 L1619.0,285.0" stroke="#7e88ec" stroke-width="4" fill="none" opacity="0.22"/>
<path d="M1647.5,19.5 L1646.9,27.5 L1646.4,35.5 L1645.8,43.5 L1645.3,51.5 L1644.7,59.5 L1644.2,67.5 L1643.7,75.5 L1643.1,83.5 L1642.6,91.5 L1642.0,99.5 L1641.5,107.5 L1641.0,115.5 L1640.4,123.5 L1639.9,131.5 L1639.3,139.5 L1638.8,147.5 L1638.3,155.5 L1637.7,163.5 L1637.2,171.5 L1636.6,179.5 L1636.1,187.5 L1635.6,195.2 L1635.1,202.5 L1634.7,210.1 L1634.3,218.1 L1633.9,226.1 L1633.5,234.1 L1633.1,242.1 L1632.7,250.1 L1632.3,258.1 L1631.9,266.1 L1631.5,274.1 L1631.1,282.1 L1630.7,290.1 L1630.3,297.3 L1630.0,304.4 L1628.4,294.4 L1623.2,281.6 L1623.8,281.4" stroke="#cdd1f9" stroke-width="6" fill="none" opacity="0.32"/>
<path d="M1653.4,19.9 L1652.9,27.9 L1652.4,35.9 L1651.8,43.9 L1651.3,51.9 L1650.7,59.9 L1650.2,67.9 L1649.7,75.9 L1649.1,83.9 L1648.6,91.9 L1648.0,99.9 L1647.5,107.9 L1646.9,115.9 L1646.4,123.9 L1645.9,131.9 L1645.3,139.9 L1644.8,147.9 L1644.2,155.9 L1643.7,163.9 L1643.2,171.9 L1642.6,179.9 L1642.1,187.9 L1641.6,195.6 L1641.1,202.8 L1640.7,210.4 L1640.3,218.4 L1639.9,226.4 L1639.5,234.4 L1639.1,242.4 L1638.7,250.4 L1638.3,258.4 L1637.9,266.4 L1637.5,274.4 L1637.1,282.4 L1636.7,290.4 L1636.3,297.5 L1636.0,304.3 L1634.2,292.9 L1628.4,278.6 L1628.6,277.8" stroke="#7e88ec" stroke-width="4" fill="none" opacity="0.19"/>
<path d="M1659.4,20.3 L1658.9,28.3 L1658.3,36.3 L1657.8,44.3 L1657.3,52.3 L1656.7,60.3 L1656.2,68.3 L1655.6,76.3 L1655.1,84.3 L1654.6,92.3 L1654.0,100.3 L1653.5,108.3 L1652.9,116.3 L1652.4,124.3 L1651.9,132.3 L1651.3,140.3 L1650.8,148.3 L1650.2,156.3 L1649.7,164.3 L1649.1,172.3 L1648.6,180.3 L1648.1,188.3 L1647.5,196.0 L1647.1,203.2 L1646.7,210.7 L1646.3,218.7 L1645.9,226.7 L1645.5,234.7 L1645.1,242.7 L1644.7,250.7 L1644.3,258.7 L1643.9,266.7 L1643.5,274.7 L1643.1,282.7 L1642.7,290.7 L1642.3,297.8 L1642.0,304.2 L1640.0,291.4 L1633.6,275.6 L1633.4,274.2" stroke="#cdd1f9" stroke-width="6" fill="none" opacity="0.28"/>
<path d="M1665.4,20.7 L1664.9,28.7 L1664.3,36.7 L1663.8,44.7 L1663.2,52.7 L1662.7,60.7 L1662.2,68.7 L1661.6,76.7 L1661.1,84.7 L1660.5,92.7 L1660.0,100.7 L1659.5,108.7 L1658.9,116.7 L1658.4,124.7 L1657.8,132.7 L1657.3,140.7 L1656.8,148.7 L1656.2,156.7 L1655.7,164.7 L1655.1,172.7 L1654.6,180.7 L1654.1,188.7 L1653.5,196.4 L1653.1,203.5 L1652.7,211.0 L1652.3,219.0 L1651.9,227.0 L1651.5,235.0 L1651.1,243.0 L1650.7,251.0 L1650.3,259.0 L1649.9,267.0 L1649.5,275.0 L1649.1,283.0 L1648.7,291.0 L1648.3,298.0 L1648.0,304.0 L1645.8,290.0 L1638.8,272.7 L1638.2,270.6" stroke="#7e88ec" stroke-width="4" fill="none" opacity="0.17"/>
<path d="M1671.4,21.1 L1670.9,29.1 L1670.3,37.1 L1669.8,45.1 L1669.2,53.1 L1668.7,61.1 L1668.2,69.1 L1667.6,77.1 L1667.1,85.1 L1666.5,93.1 L1666.0,101.1 L1665.4,109.1 L1664.9,117.1 L1664.4,125.1 L1663.8,133.1 L1663.3,141.1 L1662.7,149.1 L1662.2,157.1 L1661.7,165.1 L1661.1,173.1 L1660.6,181.1 L1660.0,189.1 L1659.5,196.7 L1659.1,203.9 L1658.7,211.3 L1658.3,219.3 L1657.9,227.3 L1657.5,235.3 L1657.1,243.3 L1656.7,251.3 L1656.3,259.3 L1655.9,267.3 L1655.5,275.3 L1655.1,283.3 L1654.7,291.3 L1654.3,298.2 L1654.0,303.9 L1651.7,288.5 L1644.0,269.7 L1643.0,267.0" stroke="#cdd1f9" stroke-width="6" fill="none" opacity="0.24"/>
<path d="M1677.4,21.5 L1676.8,29.5 L1676.3,37.5 L1675.8,45.5 L1675.2,53.5 L1674.7,61.5 L1674.1,69.5 L1673.6,77.5 L1673.1,85.5 L1672.5,93.5 L1672.0,101.5 L1671.4,109.5 L1670.9,117.5 L1670.4,125.5 L1669.8,133.5 L1669.3,141.5 L1668.7,149.5 L1668.2,157.5 L1667.6,165.5 L1667.1,173.5 L1666.6,181.5 L1666.0,189.5 L1665.5,197.1 L1665.1,204.2 L1664.7,211.6 L1664.3,219.6 L1663.9,227.6 L1663.5,235.6 L1663.1,243.6 L1662.7,251.6 L1662.3,259.6 L1661.9,267.6 L1661.5,275.6 L1661.1,283.6 L1660.7,291.6 L1660.3,298.5 L1660.0,303.8 L1657.5,287.1 L1649.2,266.7 L1647.8,263.4" stroke="#7e88ec" stroke-width="4" fill="none" opacity="0.14"/>
<path d="M1683.4,21.9 L1682.8,29.9 L1682.3,37.9 L1681.7,45.9 L1681.2,53.9 L1680.7,61.9 L1680.1,69.9 L1679.6,77.9 L1679.0,85.9 L1678.5,93.9 L1678.0,101.9 L1677.4,109.9 L1676.9,117.9 L1676.3,125.9 L1675.8,133.9 L1675.3,141.9 L1674.7,149.9 L1674.2,157.9 L1673.6,165.9 L1673.1,173.9 L1672.6,181.9 L1672.0,189.9 L1671.5,197.5 L1671.1,204.5 L1670.7,211.9 L1670.3,219.9 L1669.9,227.9 L1669.5,235.9 L1669.1,243.9 L1668.7,251.9 L1668.3,259.9 L1667.9,267.9 L1667.5,275.9 L1667.1,283.9 L1666.7,291.9 L1666.3,298.7 L1666.0,303.7 L1663.3,285.6 L1654.4,263.7 L1652.6,259.8" stroke="#cdd1f9" stroke-width="6" fill="none" opacity="0.21"/>
<path d="M1689.4,22.3 L1688.8,30.3 L1688.3,38.3 L1687.7,46.3 L1687.2,54.3 L1686.7,62.3 L1686.1,70.3 L1685.6,78.3 L1685.0,86.3 L1684.5,94.3 L1683.9,102.3 L1683.4,110.3 L1682.9,118.3 L1682.3,126.3 L1681.8,134.3 L1681.2,142.3 L1680.7,150.3 L1680.2,158.3 L1679.6,166.3 L1679.1,174.3 L1678.5,182.3 L1678.0,190.3 L1677.5,197.9 L1677.1,204.9 L1676.7,212.2 L1676.3,220.2 L1675.9,228.2 L1675.5,236.2 L1675.1,244.2 L1674.7,252.2 L1674.3,260.2 L1673.9,268.2 L1673.5,276.2 L1673.1,284.2 L1672.7,292.2 L1672.3,299.0 L1672.0,303.6 L1669.1,284.2 L1659.6,260.7 L1657.4,256.2" stroke="#7e88ec" stroke-width="4" fill="none" opacity="0.12"/>
<path d="M1695.3,22.7 L1694.8,30.7 L1694.3,38.7 L1693.7,46.7 L1693.2,54.7 L1692.6,62.7 L1692.1,70.7 L1691.6,78.7 L1691.0,86.7 L1690.5,94.7 L1689.9,102.7 L1689.4,110.7 L1688.9,118.7 L1688.3,126.7 L1687.8,134.7 L1687.2,142.7 L1686.7,150.7 L1686.1,158.7 L1685.6,166.7 L1685.1,174.7 L1684.5,182.7 L1684.0,190.7 L1683.5,198.3 L1683.0,205.2 L1682.7,212.5 L1682.3,220.5 L1681.9,228.5 L1681.5,236.5 L1681.1,244.5 L1680.7,252.5 L1680.3,260.5 L1679.9,268.5 L1679.5,276.5 L1679.0,284.5 L1678.6,292.5 L1678.3,299.2 L1678.0,303.4 L1674.9,282.7 L1664.8,257.7 L1662.2,252.6" stroke="#cdd1f9" stroke-width="6" fill="none" opacity="0.18"/>
<path d="M1701.3,23.1 L1700.8,31.1 L1700.2,39.1 L1699.7,47.1 L1699.2,55.1 L1698.6,63.1 L1698.1,71.1 L1697.5,79.1 L1697.0,87.1 L1696.5,95.1 L1695.9,103.1 L1695.4,111.1 L1694.8,119.1 L1694.3,127.1 L1693.8,135.1 L1693.2,143.1 L1692.7,151.1 L1692.1,159.1 L1691.6,167.1 L1691.1,175.1 L1690.5,183.1 L1690.0,191.1 L1689.5,198.7 L1689.0,205.5 L1688.7,212.8 L1688.3,220.8 L1687.9,228.8 L1687.5,236.8 L1687.1,244.8 L1686.7,252.8 L1686.3,260.8 L1685.8,268.8 L1685.4,276.8 L1685.0,284.8 L1684.6,292.8 L1684.3,299.4 L1684.0,303.3 L1680.8,281.3 L1670.0,254.7 L1667.0,249.0" stroke="#7e88ec" stroke-width="4" fill="none" opacity="0.11"/>
<path d="M1707.3,23.5 L1706.8,31.5 L1706.2,39.5 L1705.7,47.5 L1705.2,55.5 L1704.6,63.5 L1704.1,71.5 L1703.5,79.5 L1703.0,87.5 L1702.4,95.5 L1701.9,103.5 L1701.4,111.5 L1700.8,119.5 L1700.3,127.5 L1699.7,135.5 L1699.2,143.5 L1698.7,151.5 L1698.1,159.5 L1697.6,167.5 L1697.0,175.5 L1696.5,183.5 L1696.0,191.5 L1695.4,199.1 L1695.0,205.9 L1694.7,213.1 L1694.3,221.1 L1693.9,229.1 L1693.5,237.1 L1693.1,245.1 L1692.6,253.1 L1692.2,261.1 L1691.8,269.1 L1691.4,277.1 L1691.0,285.1 L1690.6,293.1 L1690.3,299.7 L1690.0,303.2 L1686.6,279.8 L1675.2,251.7 L1671.8,245.4" stroke="#cdd1f9" stroke-width="6" fill="none" opacity="0.16"/>
<path d="M1713.3,23.9 L1712.8,31.9 L1712.2,39.9 L1711.7,47.9 L1711.1,55.9 L1710.6,63.9 L1710.1,71.9 L1709.5,79.9 L1709.0,87.9 L1708.4,95.9 L1707.9,103.9 L1707.4,111.9 L1706.8,119.9 L1706.3,127.9 L1705.7,135.9 L1705.2,143.9 L1704.6,151.9 L1704.1,159.9 L1703.6,167.9 L1703.0,175.9 L1702.5,183.9 L1701.9,191.9 L1701.4,199.4 L1701.0,206.2 L1700.7,213.4 L1700.3,221.4 L1699.9,229.4 L1699.4,237.4 L1699.0,245.4 L1698.6,253.4 L1698.2,261.4 L1697.8,269.4 L1697.4,277.4 L1697.0,285.4 L1696.6,293.4 L1696.3,299.9 L1696.0,303.1 L1692.4,278.3 L1680.4,248.7 L1676.6,241.8" stroke="#7e88ec" stroke-width="4" fill="none" opacity="0.09"/>
<path d="M1719.3,24.3 L1718.7,32.3 L1718.2,40.3 L1717.7,48.3 L1717.1,56.3 L1716.6,64.3 L1716.0,72.3 L1715.5,80.3 L1715.0,88.3 L1714.4,96.3 L1713.9,104.3 L1713.3,112.3 L1712.8,120.3 L1712.3,128.3 L1711.7,136.3 L1711.2,144.3 L1710.6,152.3 L1710.1,160.3 L1709.6,168.3 L1709.0,176.3 L1708.5,184.3 L1707.9,192.3 L1707.4,199.8 L1707.0,206.5 L1706.7,213.7 L1706.2,221.7 L1705.8,229.7 L1705.4,237.7 L1705.0,245.7 L1704.6,253.7 L1704.2,261.7 L1703.8,269.7 L1703.4,277.7 L1703.0,285.7 L1702.6,293.7 L1702.3,300.2 L1702.0,303.0 L1698.2,276.9 L1685.6,245.7 L1681.4,238.2" stroke="#cdd1f9" stroke-width="6" fill="none" opacity="0.14"/>
<path d="M1725.3,24.7 L1724.7,32.7 L1724.2,40.7 L1723.7,48.7 L1723.1,56.7 L1722.6,64.7 L1722.0,72.7 L1721.5,80.7 L1720.9,88.7 L1720.4,96.7 L1719.9,104.7 L1719.3,112.7 L1718.8,120.7 L1718.2,128.7 L1717.7,136.7 L1717.2,144.7 L1716.6,152.7 L1716.1,160.7 L1715.5,168.7 L1715.0,176.7 L1714.5,184.7 L1713.9,192.7 L1713.4,200.2 L1713.0,206.9 L1712.6,214.0 L1712.2,222.0 L1711.8,230.0 L1711.4,238.0 L1711.0,246.0 L1710.6,254.0 L1710.2,262.0 L1709.8,270.0 L1709.4,278.0 L1709.0,286.0 L1708.6,294.0 L1708.3,300.4 L1708.0,302.9 L1704.1,275.4 L1690.8,242.7 L1686.2,234.6" stroke="#7e88ec" stroke-width="4" fill="none" opacity="0.08"/>
<path d="M1731.3,25.1 L1730.7,33.1 L1730.2,41.1 L1729.6,49.1 L1729.1,57.1 L1728.6,65.1 L1728.0,73.1 L1727.5,81.1 L1726.9,89.1 L1726.4,97.1 L1725.9,105.1 L1725.3,113.1 L1724.8,121.1 L1724.2,129.1 L1723.7,137.1 L1723.1,145.1 L1722.6,153.1 L1722.1,161.1 L1721.5,169.1 L1721.0,177.1 L1720.4,185.1 L1719.9,193.1 L1719.4,200.6 L1719.0,207.2 L1718.6,214.3 L1718.2,222.3 L1717.8,230.3 L1717.4,238.3 L1717.0,246.3 L1716.6,254.3 L1716.2,262.3 L1715.8,270.3 L1715.4,278.3 L1715.0,286.3 L1714.6,294.3 L1714.3,300.7 L1714.0,302.7 L1709.9,274.0 L1696.0,239.8 L1691.0,231.0" stroke="#cdd1f9" stroke-width="6" fill="none" opacity="0.12"/>
<path d="M1737.2,25.5 L1736.7,33.5 L1736.2,41.5 L1735.6,49.5 L1735.1,57.5 L1734.5,65.5 L1734.0,73.5 L1733.5,81.5 L1732.9,89.5 L1732.4,97.5 L1731.8,105.5 L1731.3,113.5 L1730.8,121.5 L1730.2,129.5 L1729.7,137.5 L1729.1,145.5 L1728.6,153.5 L1728.1,161.5 L1727.5,169.5 L1727.0,177.5 L1726.4,185.5 L1725.9,193.5 L1725.4,201.0 L1725.0,207.5 L1724.6,214.6 L1724.2,222.6 L1723.8,230.6 L1723.4,238.6 L1723.0,246.6 L1722.6,254.6 L1722.2,262.6 L1721.8,270.6 L1721.4,278.6 L1721.0,286.6 L1720.6,294.6 L1720.3,300.9 L1720.0,302.6 L1715.7,272.5 L1701.2,236.8 L1695.8,227.4" stroke="#7e88ec" stroke-width="4" fill="none" opacity="0.07"/>
<path d="M1743.2,25.9 L1742.7,33.9 L1742.2,41.9 L1741.6,49.9 L1741.1,57.9 L1740.5,65.9 L1740.0,73.9 L1739.4,81.9 L1738.9,89.9 L1738.4,97.9 L1737.8,105.9 L1737.3,113.9 L1736.7,121.9 L1736.2,129.9 L1735.7,137.9 L1735.1,145.9 L1734.6,153.9 L1734.0,161.9 L1733.5,169.9 L1733.0,177.9 L1732.4,185.9 L1731.9,193.9 L1731.4,201.4 L1731.0,207.9 L1730.6,214.9 L1730.2,222.9 L1729.8,230.9 L1729.4,238.9 L1729.0,246.9 L1728.6,254.9 L1728.2,262.9 L1727.8,270.9 L1727.4,278.9 L1727.0,286.9 L1726.6,294.9 L1726.3,301.1 L1726.0,302.5 L1721.5,271.1 L1706.4,233.8 L1700.6,223.8" stroke="#cdd1f9" stroke-width="6" fill="none" opacity="0.12"/>
<path d="M1749.2,26.3 L1748.7,34.3 L1748.1,42.3 L1747.6,50.3 L1747.1,58.3 L1746.5,66.3 L1746.0,74.3 L1745.4,82.3 L1744.9,90.3 L1744.4,98.3 L1743.8,106.3 L1743.3,114.3 L1742.7,122.3 L1742.2,130.3 L1741.6,138.3 L1741.1,146.3 L1740.6,154.3 L1740.0,162.3 L1739.5,170.3 L1738.9,178.3 L1738.4,186.3 L1737.9,194.3 L1737.4,201.8 L1737.0,208.2 L1736.6,215.2 L1736.2,223.2 L1735.8,231.2 L1735.4,239.2 L1735.0,247.2 L1734.6,255.2 L1734.2,263.2 L1733.8,271.2 L1733.4,279.2 L1733.0,287.2 L1732.6,295.2 L1732.3,301.4 L1732.0,302.4 L1727.3,269.6 L1711.6,230.8 L1705.4,220.2" stroke="#7e88ec" stroke-width="4" fill="none" opacity="0.07"/>
<path d="M1755.2,26.7 L1754.7,34.7 L1754.1,42.7 L1753.6,50.7 L1753.0,58.7 L1752.5,66.7 L1752.0,74.7 L1751.4,82.7 L1750.9,90.7 L1750.3,98.7 L1749.8,106.7 L1749.3,114.7 L1748.7,122.7 L1748.2,130.7 L1747.6,138.7 L1747.1,146.7 L1746.6,154.7 L1746.0,162.7 L1745.5,170.7 L1744.9,178.7 L1744.4,186.7 L1743.8,194.7 L1743.3,202.1 L1743.0,208.5 L1742.6,215.5 L1742.2,223.5 L1741.8,231.5 L1741.4,239.5 L1741.0,247.5 L1740.6,255.5 L1740.2,263.5 L1739.8,271.5 L1739.4,279.5 L1739.0,287.5 L1738.6,295.5 L1738.2,301.6 L1738.0,302.3 L1733.2,268.2 L1716.8,227.8 L1710.2,216.6" stroke="#cdd1f9" stroke-width="6" fill="none" opacity="0.12"/>
<path d="M1761.2,27.2 L1760.7,35.2 L1760.1,43.2 L1759.6,51.2 L1759.0,59.2 L1758.5,67.2 L1757.9,75.2 L1757.4,83.2 L1756.9,91.2 L1756.3,99.2 L1755.8,107.2 L1755.2,115.2 L1754.7,123.2 L1754.2,131.2 L1753.6,139.2 L1753.1,147.2 L1752.5,155.2 L1752.0,163.2 L1751.5,171.2 L1750.9,179.2 L1750.4,187.2 L1749.8,195.2 L1749.3,202.5 L1748.9,208.9 L1748.6,215.8 L1748.2,223.8 L1747.8,231.8 L1747.4,239.8 L1747.0,247.8 L1746.6,255.8 L1746.2,263.8 L1745.8,271.8 L1745.4,279.8 L1745.0,287.8 L1744.6,295.8 L1744.2,301.9 L1744.0,302.1 L1739.0,266.7 L1722.0,224.8 L1715.0,213.0" stroke="#7e88ec" stroke-width="4" fill="none" opacity="0.07"/>
<path d="M1767.2,27.6 L1766.6,35.6 L1766.1,43.6 L1765.6,51.6 L1765.0,59.6 L1764.5,67.6 L1763.9,75.6 L1763.4,83.6 L1762.9,91.6 L1762.3,99.6 L1761.8,107.6 L1761.2,115.6 L1760.7,123.6 L1760.1,131.6 L1759.6,139.6 L1759.1,147.6 L1758.5,155.6 L1758.0,163.6 L1757.4,171.6 L1756.9,179.6 L1756.4,187.6 L1755.8,195.6 L1755.3,202.9 L1754.9,209.2 L1754.6,216.1 L1754.2,224.1 L1753.8,232.1 L1753.4,240.1 L1753.0,248.1 L1752.6,256.1 L1752.2,264.1 L1751.8,272.1 L1751.4,280.1 L1751.0,288.1 L1750.6,296.1 L1750.2,302.1 L1750.0,302.0 L1744.8,265.3 L1727.2,221.8 L1719.8,209.4" stroke="#cdd1f9" stroke-width="6" fill="none" opacity="0.12"/>
<path d="M1773.2,28.0 L1772.6,36.0 L1772.1,44.0 L1771.5,52.0 L1771.0,60.0 L1770.5,68.0 L1769.9,76.0 L1769.4,84.0 L1768.8,92.0 L1768.3,100.0 L1767.8,108.0 L1767.2,116.0 L1766.7,124.0 L1766.1,132.0 L1765.6,140.0 L1765.1,148.0 L1764.5,156.0 L1764.0,164.0 L1763.4,172.0 L1762.9,180.0 L1762.3,188.0 L1761.8,196.0 L1761.3,203.3 L1760.9,209.5 L1760.6,216.4 L1760.2,224.4 L1759.8,232.4 L1759.4,240.4 L1759.0,248.4 L1758.6,256.4 L1758.2,264.4 L1757.8,272.4 L1757.4,280.4 L1756.9,288.4 L1756.5,296.4 L1756.2,302.4 L1756.0,301.9 L1750.6,263.8 L1732.4,218.8 L1724.6,205.8" stroke="#7e88ec" stroke-width="4" fill="none" opacity="0.07"/>
<path d="M1779.2,28.4 L1778.6,36.4 L1778.1,44.4 L1777.5,52.4 L1777.0,60.4 L1776.4,68.4 L1775.9,76.4 L1775.4,84.4 L1774.8,92.4 L1774.3,100.4 L1773.7,108.4 L1773.2,116.4 L1772.7,124.4 L1772.1,132.4 L1771.6,140.4 L1771.0,148.4 L1770.5,156.4 L1770.0,164.4 L1769.4,172.4 L1768.9,180.4 L1768.3,188.4 L1767.8,196.4 L1767.3,203.7 L1766.9,209.9 L1766.6,216.7 L1766.2,224.7 L1765.8,232.7 L1765.4,240.7 L1765.0,248.7 L1764.6,256.7 L1764.2,264.7 L1763.7,272.7 L1763.3,280.7 L1762.9,288.7 L1762.5,296.7 L1762.0,301.8 L1756.4,262.3 L1737.7,215.8 L1729.4,202.2" stroke="#cdd1f9" stroke-width="6" fill="none" opacity="0.12"/>
<path d="M1785.1,28.8 L1784.6,36.8 L1784.1,44.8 L1783.5,52.8 L1783.0,60.8 L1782.4,68.8 L1781.9,76.8 L1781.4,84.8 L1780.8,92.8 L1780.3,100.8 L1779.7,108.8 L1779.2,116.8 L1778.6,124.8 L1778.1,132.8 L1777.6,140.8 L1777.0,148.8 L1776.5,156.8 L1775.9,164.8 L1775.4,172.8 L1774.9,180.8 L1774.3,188.8 L1773.8,196.8 L1773.3,204.1 L1772.9,210.2 L1772.6,217.0 L1772.2,225.0 L1771.8,233.0 L1771.4,241.0 L1771.0,249.0 L1770.5,257.0 L1770.1,265.0 L1769.7,273.0 L1769.3,281.0 L1768.9,289.0 L1768.5,297.0 L1768.0,301.7 L1762.3,260.9 L1742.9,212.8 L1734.2,198.6" stroke="#7e88ec" stroke-width="4" fill="none" opacity="0.07"/>
<path d="M1791.1,29.2 L1790.6,37.2 L1790.0,45.2 L1789.5,53.2 L1789.0,61.2 L1788.4,69.2 L1787.9,77.2 L1787.3,85.2 L1786.8,93.2 L1786.3,101.2 L1785.7,109.2 L1785.2,117.2 L1784.6,125.2 L1784.1,133.2 L1783.6,141.2 L1783.0,149.2 L1782.5,157.2 L1781.9,165.2 L1781.4,173.2 L1780.8,181.2 L1780.3,189.2 L1779.8,197.2 L1779.3,204.5 L1778.9,210.5 L1778.6,217.3 L1778.2,225.3 L1777.8,233.3 L1777.3,241.3 L1776.9,249.3 L1776.5,257.3 L1776.1,265.3 L1775.7,273.3 L1775.3,281.3 L1774.9,289.3 L1774.5,297.3 L1768.1,259.4 L1748.1,209.8 L1739.0,195.0" stroke="#cdd1f9" stroke-width="6" fill="none" opacity="0.12"/>
<path d="M1797.1,29.6 L1796.6,37.6 L1796.0,45.6 L1795.5,53.6 L1794.9,61.6 L1794.4,69.6 L1793.9,77.6 L1793.3,85.6 L1792.8,93.6 L1792.2,101.6 L1791.7,109.6 L1791.2,117.6 L1790.6,125.6 L1790.1,133.6 L1789.5,141.6 L1789.0,149.6 L1788.5,157.6 L1787.9,165.6 L1787.4,173.6 L1786.8,181.6 L1786.3,189.6 L1785.8,197.6 L1785.3,204.8 L1784.9,210.9 L1784.6,217.6 L1784.1,225.6 L1783.7,233.6 L1783.3,241.6 L1782.9,249.6 L1782.5,257.6 L1782.1,265.6 L1781.7,273.6 L1781.3,281.6 L1780.9,289.6 L1780.5,297.6 L1773.9,258.0 L1753.3,206.9 L1743.8,191.4" stroke="#7e88ec" stroke-width="4" fill="none" opacity="0.07"/>
<path d="M1803.1,30.0 L1802.6,38.0 L1802.0,46.0 L1801.5,54.0 L1800.9,62.0 L1800.4,70.0 L1799.9,78.0 L1799.3,86.0 L1798.8,94.0 L1798.2,102.0 L1797.7,110.0 L1797.1,118.0 L1796.6,126.0 L1796.1,134.0 L1795.5,142.0 L1795.0,150.0 L1794.4,158.0 L1793.9,166.0 L1793.4,174.0 L1792.8,182.0 L1792.3,190.0 L1791.7,198.0 L1791.2,205.2 L1790.9,211.2 L1790.5,217.9 L1790.1,225.9 L1789.7,233.9 L1789.3,241.9 L1788.9,249.9 L1788.5,257.9 L1788.1,265.9 L1787.7,273.9 L1787.3,281.9 L1786.9,289.9 L1779.7,256.5 L1758.5,203.9 L1748.6,187.8" stroke="#cdd1f9" stroke-width="6" fill="none" opacity="0.12"/>
<path d="M1809.1,30.4 L1808.5,38.4 L1808.0,46.4 L1807.5,54.4 L1806.9,62.4 L1806.4,70.4 L1805.8,78.4 L1805.3,86.4 L1804.8,94.4 L1804.2,102.4 L1803.7,110.4 L1803.1,118.4 L1802.6,126.4 L1802.1,134.4 L1801.5,142.4 L1801.0,150.4 L1800.4,158.4 L1799.9,166.4 L1799.3,174.4 L1798.8,182.4 L1798.3,190.4 L1797.7,198.4 L1797.2,205.6 L1796.9,211.5 L1796.5,218.2 L1796.1,226.2 L1795.7,234.2 L1795.3,242.2 L1794.9,250.2 L1794.5,258.2 L1794.1,266.2 L1793.7,274.2 L1793.3,282.2 L1792.9,290.2 L1785.5,255.1 L1763.7,200.9 L1753.4,184.2" stroke="#7e88ec" stroke-width="4" fill="none" opacity="0.07"/>
<path d="M1815.1,30.8 L1814.5,38.8 L1814.0,46.8 L1813.4,54.8 L1812.9,62.8 L1812.4,70.8 L1811.8,78.8 L1811.3,86.8 L1810.7,94.8 L1810.2,102.8 L1809.7,110.8 L1809.1,118.8 L1808.6,126.8 L1808.0,134.8 L1807.5,142.8 L1807.0,150.8 L1806.4,158.8 L1805.9,166.8 L1805.3,174.8 L1804.8,182.8 L1804.3,190.8 L1803.7,198.8 L1803.2,206.0 L1802.9,211.9 L1802.5,218.6 L1802.1,226.6 L1801.7,234.6 L1801.3,242.6 L1800.9,250.6 L1800.5,258.6 L1800.1,266.6 L1799.7,274.6 L1799.3,282.6 L1798.9,290.6 L1791.4,253.6 L1768.9,197.9 L1758.2,180.6" stroke="#cdd1f9" stroke-width="6" fill="none" opacity="0.12"/>
<path d="M1821.1,31.2 L1820.5,39.2 L1820.0,47.2 L1819.4,55.2 L1818.9,63.2 L1818.4,71.2 L1817.8,79.2 L1817.3,87.2 L1816.7,95.2 L1816.2,103.2 L1815.6,111.2 L1815.1,119.2 L1814.6,127.2 L1814.0,135.2 L1813.5,143.2 L1812.9,151.2 L1812.4,159.2 L1811.9,167.2 L1811.3,175.2 L1810.8,183.2 L1810.2,191.2 L1809.7,199.2 L1809.2,206.4 L1808.9,212.2 L1808.5,218.9 L1808.1,226.9 L1807.7,234.9 L1807.3,242.9 L1806.9,250.9 L1806.5,258.9 L1806.1,266.9 L1805.7,274.9 L1805.3,282.9 L1804.9,290.9 L1797.2,252.2 L1774.1,194.9 L1763.0,177.0" stroke="#7e88ec" stroke-width="4" fill="none" opacity="0.07"/>
<path d="M1827.0,31.6 L1826.5,39.6 L1826.0,47.6 L1825.4,55.6 L1824.9,63.6 L1824.3,71.6 L1823.8,79.6 L1823.3,87.6 L1822.7,95.6 L1822.2,103.6 L1821.6,111.6 L1821.1,119.6 L1820.6,127.6 L1820.0,135.6 L1819.5,143.6 L1818.9,151.6 L1818.4,159.6 L1817.8,167.6 L1817.3,175.6 L1816.8,183.6 L1816.2,191.6 L1815.7,199.6 L1815.2,206.8 L1814.8,212.5 L1814.5,219.2 L1814.1,227.2 L1813.7,235.2 L1813.3,243.2 L1812.9,251.2 L1812.5,259.2 L1812.1,267.2 L1811.7,275.2 L1811.3,283.2 L1810.9,291.2 L1803.0,250.7 L1779.3,191.9 L1767.8,173.4" stroke="#cdd1f9" stroke-width="6" fill="none" opacity="0.12"/>
<path d="M1833.0,32.0 L1832.5,40.0 L1831.9,48.0 L1831.4,56.0 L1830.9,64.0 L1830.3,72.0 L1829.8,80.0 L1829.2,88.0 L1828.7,96.0 L1828.2,104.0 L1827.6,112.0 L1827.1,120.0 L1826.5,128.0 L1826.0,136.0 L1825.5,144.0 L1824.9,152.0 L1824.4,160.0 L1823.8,168.0 L1823.3,176.0 L1822.8,184.0 L1822.2,192.0 L1821.7,200.0 L1821.2,207.2 L1820.8,212.9 L1820.5,219.5 L1820.1,227.5 L1819.7,235.5 L1819.3,243.5 L1818.9,251.5 L1818.5,259.5 L1818.1,267.5 L1817.7,275.5 L1817.3,283.5 L1816.9,291.5 L1808.8,249.2 L1784.5,188.9 L1772.6,169.8" stroke="#7e88ec" stroke-width="4" fill="none" opacity="0.07"/>
<path d="M1839.0,32.4 L1838.5,40.4 L1837.9,48.4 L1837.4,56.4 L1836.9,64.4 L1836.3,72.4 L1835.8,80.4 L1835.2,88.4 L1834.7,96.4 L1834.1,104.4 L1833.6,112.4 L1833.1,120.4 L1832.5,128.4 L1832.0,136.4 L1831.4,144.4 L1830.9,152.4 L1830.4,160.4 L1829.8,168.4 L1829.3,176.4 L1828.7,184.4 L1828.2,192.4 L1827.7,200.4 L1827.2,207.5 L1826.8,213.2 L1826.5,219.8 L1826.1,227.8 L1825.7,235.8 L1825.3,243.8 L1824.9,251.8 L1824.5,259.8 L1824.1,267.8 L1823.7,275.8 L1823.3,283.8 L1814.6,247.8 L1789.7,185.9 L1777.4,166.2" stroke="#cdd1f9" stroke-width="6" fill="none" opacity="0.12"/>
<path d="M1845.0,32.8 L1844.5,40.8 L1843.9,48.8 L1843.4,56.8 L1842.8,64.8 L1842.3,72.8 L1841.8,80.8 L1841.2,88.8 L1840.7,96.8 L1840.1,104.8 L1839.6,112.8 L1839.1,120.8 L1838.5,128.8 L1838.0,136.8 L1837.4,144.8 L1836.9,152.8 L1836.3,160.8 L1835.8,168.8 L1835.3,176.8 L1834.7,184.8 L1834.2,192.8 L1833.6,200.8 L1833.2,207.9 L1832.8,213.5 L1832.5,220.1 L1832.1,228.1 L1831.7,236.1 L1831.3,244.1 L1830.9,252.1 L1830.5,260.1 L1830.1,268.1 L1829.7,276.1 L1829.3,284.1 L1820.5,246.3 L1794.9,182.9 L1782.2,162.6" stroke="#7e88ec" stroke-width="4" fill="none" opacity="0.07"/>
<path d="M1851.0,33.2 L1850.4,41.2 L1849.9,49.2 L1849.4,57.2 L1848.8,65.2 L1848.3,73.2 L1847.7,81.2 L1847.2,89.2 L1846.7,97.2 L1846.1,105.2 L1845.6,113.2 L1845.0,121.2 L1844.5,129.2 L1844.0,137.2 L1843.4,145.2 L1842.9,153.2 L1842.3,161.2 L1841.8,169.2 L1841.3,177.2 L1840.7,185.2 L1840.2,193.2 L1839.6,201.2 L1839.1,208.3 L1838.8,213.9 L1838.5,220.4 L1838.1,228.4 L1837.7,236.4 L1837.3,244.4 L1836.9,252.4 L1836.5,260.4 L1836.1,268.4 L1835.7,276.4 L1835.3,284.4 L1826.3,244.9 L1800.1,179.9 L1787.0,159.0" stroke="#cdd1f9" stroke-width="6" fill="none" opacity="0.12"/>
<path d="M1857.0,33.6 L1856.4,41.6 L1855.9,49.6 L1855.4,57.6 L1854.8,65.6 L1854.3,73.6 L1853.7,81.6 L1853.2,89.6 L1852.6,97.6 L1852.1,105.6 L1851.6,113.6 L1851.0,121.6 L1850.5,129.6 L1849.9,137.6 L1849.4,145.6 L1848.9,153.6 L1848.3,161.6 L1847.8,169.6 L1847.2,177.6 L1846.7,185.6 L1846.2,193.6 L1845.6,201.6 L1845.1,208.7 L1844.8,214.2 L1844.5,220.7 L1844.1,228.7 L1843.7,236.7 L1843.3,244.7 L1842.9,252.7 L1842.5,260.7 L1842.1,268.7 L1841.6,276.7 L1841.2,284.7 L1832.1,243.4 L1805.3,176.9 L1791.8,155.4" stroke="#7e88ec" stroke-width="4" fill="none" opacity="0.07"/>
<path d="M1545,340 L1884,340" stroke="#eceefe" stroke-width="12" opacity="0.9"/>
<path d="M1545,330 L1884,330" stroke="#c4c9f8" stroke-width="5" opacity="0.6"/>
<path d="M1545,322 L1884,322" stroke="#7a84ec" stroke-width="4" opacity="0.5"/>
<path d="M1545,313 L1884,313" stroke="#d0d4fa" stroke-width="6" opacity="0.5"/>
<path d="M1545,300 L1884,300" stroke="#c8ccf8" stroke-width="4" opacity="0.3"/>
<path d="M1545,285 L1884,285" stroke="#7480ea" stroke-width="5" opacity="0.35"/>
<path d="M1545,262 L1884,262" stroke="#7480ea" stroke-width="5" opacity="0.35"/>
<path d="M1545,240 L1884,240" stroke="#7480ea" stroke-width="4" opacity="0.3"/>
<path d="M1545,225 L1884,225" stroke="#c0c6f8" stroke-width="5" opacity="0.3"/>
<path d="M1545,200 L1884,200" stroke="#7480ea" stroke-width="4" opacity="0.25"/>
<path d="M1545,160 L1884,160" stroke="#7480ea" stroke-width="5" opacity="0.3"/>
<path d="M1545,140 L1884,140" stroke="#7480ea" stroke-width="4" opacity="0.3"/>
<path d="M1545,110 L1884,110" stroke="#c0c6f8" stroke-width="5" opacity="0.3"/>
<path d="M1545,75 L1884,75" stroke="#c0c6f8" stroke-width="5" opacity="0.3"/>
<path d="M1545,45 L1884,45" stroke="#c0c6f8" stroke-width="5" opacity="0.3"/>
<rect x="1525" y="16.8" width="357.29999999999995" height="357.4" filter="url(#nzDw)" opacity="0.35"/>
<rect x="1525" y="16.8" width="357.29999999999995" height="357.4" filter="url(#nzDh)" opacity="0.55"/>
<rect x="1525" y="16.8" width="357.29999999999995" height="357.4" filter="url(#nzDh2)" opacity="0.45"/>
</g>
<path d="M1572.6,14.4 L1572.1,22.4 L1571.5,30.4 L1571.0,38.4 L1570.5,46.4 L1569.9,54.4 L1569.4,62.4 L1568.8,70.4 L1568.3,78.4 L1567.8,86.4 L1567.2,94.4 L1566.7,102.4 L1566.1,110.4 L1565.6,118.4 L1565.1,126.4 L1564.5,134.4 L1564.0,142.4 L1563.4,150.4 L1562.9,158.4 L1562.3,166.4 L1561.8,174.4 L1561.3,182.4 L1560.7,190.4 L1560.2,198.3 L1559.8,206.3 L1559.4,214.3 L1559.0,222.3 L1558.6,230.3 L1558.2,238.3 L1557.8,246.3 L1557.4,254.3 L1557.0,262.3 L1556.6,270.3 L1556.2,278.3 L1555.8,286.3 L1555.4,294.2 L1555.0,305.9 L1555.6,312.5 L1558.2,319.0 L1563.4,325.9 L1571.4,333.1 L1582.2,338.9 L1597.1,342.9 L1620.4,345.8 L1667.1,348.0 L1760.0,349.0 L1884.0,349.5" stroke="#e2e4fc" stroke-width="3.5" fill="none" opacity="0.85"/>
<path d="M1577.6,14.7 L1577.1,22.7 L1576.5,30.7 L1576.0,38.7 L1575.4,46.7 L1574.9,54.7 L1574.4,62.7 L1573.8,70.7 L1573.3,78.7 L1572.7,86.7 L1572.2,94.7 L1571.7,102.7 L1571.1,110.7 L1570.6,118.7 L1570.0,126.7 L1569.5,134.7 L1569.0,142.7 L1568.4,150.7 L1567.9,158.7 L1567.3,166.7 L1566.8,174.7 L1566.3,182.7 L1565.7,190.7 L1565.2,198.6 L1564.8,206.6 L1564.4,214.6 L1564.0,222.6 L1563.6,230.6 L1563.2,238.6 L1562.8,246.6 L1562.4,254.6 L1562.0,262.6 L1561.6,270.6 L1561.2,278.6 L1560.8,286.6 L1560.4,294.4 L1560.0,305.8 L1560.5,311.3 L1562.5,316.5 L1567.0,322.5 L1574.3,328.9 L1584.0,334.2 L1598.0,338.0 L1620.8,340.8 L1667.3,343.0 L1760.1,344.0 L1884.0,344.5" stroke="#4450e8" stroke-width="3" fill="none" opacity="0.55"/>
<path d="M1566.6,14.0 L1566.1,22.0 L1565.6,30.0 L1565.0,38.0 L1564.5,46.0 L1563.9,54.0 L1563.4,62.0 L1562.8,70.0 L1562.3,78.0 L1561.8,86.0 L1561.2,94.0 L1560.7,102.0 L1560.1,110.0 L1559.6,118.0 L1559.1,126.0 L1558.5,134.0 L1558.0,142.0 L1557.4,150.0 L1556.9,158.0 L1556.4,166.0 L1555.8,174.0 L1555.3,182.0 L1554.7,190.0 L1554.2,198.0 L1553.8,206.0 L1553.4,214.0 L1553.0,222.0 L1552.6,230.0 L1552.2,238.0 L1551.8,246.0 L1551.4,254.0 L1551.0,262.0 L1550.6,270.0 L1550.2,278.0 L1549.8,286.0 L1549.4,294.0 L1549.0,306.0 L1549.8,314.0 L1553.0,322.0 L1559.0,330.0 L1568.0,338.0 L1580.0,344.5 L1596.0,348.8 L1620.0,351.8 L1667.0,354.0 L1760.0,355.0 L1884.0,355.5" stroke="#0c16e2" stroke-width="4.6" fill="none"/>
<path d="M1565.2,342.1 L1578.2,349.2 L1595.1,353.7 L1619.6,356.8 L1666.9,359.0 L1760.0,360.0 L1884.0,360.5" stroke="#ff5a50" stroke-width="2.4" fill="none"/>
</g>
<rect x="1525" y="16.8" width="357.29999999999995" height="357.4" fill="none" stroke="#000" stroke-width="1.5"/>
<rect x="1483" y="67.3" width="23" height="256" fill="url(#cbD)" stroke="#000" stroke-width="1.4"/>
<text x="1495" y="56" font-size="29" text-anchor="middle">+π</text>
<text x="1495" y="344.5" font-size="29" text-anchor="middle">−π</text>
<text x="1458" y="200.6" font-size="29" text-anchor="middle" transform="rotate(-90 1458 200.6)">Arg(<tspan font-style="italic">E</tspan>)</text>
<text x="1705" y="48.1" font-size="29">λ = 1000 nm</text>
<rect x="1755.4" y="342.3" width="104.5" height="6.5" fill="#000"/>
<text x="1777.5" y="329.3" font-size="29">5 μm</text>
<path d="M36.6,526.0 C36.9,525.3 37.8,522.6 38.4,522.0 C39.0,521.4 39.2,515.1 40.2,522.6 C41.2,530.1 43.1,564.1 44.4,567.0 C45.7,569.9 47.0,546.1 48.0,540.0 C49.0,533.9 49.3,528.3 50.6,530.4 C51.9,532.5 54.2,549.4 55.8,552.6 C57.4,555.8 58.3,551.3 60.0,549.6 C61.7,547.9 64.1,542.4 66.0,542.4 C67.9,542.4 69.6,549.1 71.4,549.6 C73.2,550.1 75.3,545.6 76.8,545.4 C78.3,545.2 78.8,549.1 80.3,548.4 C81.8,547.7 83.9,539.8 85.7,541.2 C87.5,542.6 89.3,557.5 91.1,556.8 C92.9,556.1 94.7,537.2 96.5,537.0 C98.3,536.8 100.0,555.0 101.9,555.6 C103.8,556.2 106.2,541.6 107.9,540.9 C109.6,540.2 110.5,551.1 112.1,551.4 C113.7,551.6 115.7,542.1 117.5,542.4 C119.3,542.6 121.0,553.1 122.9,552.9 C124.8,552.7 127.0,541.2 128.9,541.2 C130.8,541.2 132.3,552.5 134.3,552.9 C136.3,553.3 138.7,544.0 140.9,543.9 C143.1,543.8 145.4,551.8 147.5,552.0 C149.6,552.2 151.6,545.8 153.5,545.4 C155.4,545.0 157.2,549.6 158.9,549.6 C160.6,549.6 162.0,544.9 163.7,545.4 C165.4,545.9 167.2,553.1 169.1,552.6 C171.0,552.1 173.2,541.9 175.0,542.1 C176.8,542.3 178.1,553.6 179.8,553.8 C181.5,553.9 183.4,543.2 185.2,543.0 C187.0,542.8 188.9,552.4 190.6,552.6 C192.3,552.8 193.8,544.5 195.4,544.2 C197.0,543.9 198.5,550.8 200.2,550.8 C201.9,550.8 203.7,544.2 205.6,544.2 C207.5,544.2 209.7,550.7 211.6,550.8 C213.5,550.9 215.3,544.5 217.0,544.8 C218.7,545.1 220.2,552.8 222.0,552.6 C223.7,552.4 225.7,543.6 227.5,543.6 C229.2,543.7 230.7,552.9 232.5,552.9 C234.3,552.9 236.4,543.8 238.2,543.5 C240.1,543.2 241.9,551.2 243.6,551.3 C245.3,551.3 246.7,544.0 248.4,543.9 C250.1,543.8 252.0,550.7 253.8,550.8 C255.7,550.8 257.7,544.4 259.5,544.3 C261.3,544.3 262.7,550.9 264.6,550.7 C266.4,550.4 268.5,542.5 270.4,542.8 C272.4,543.1 274.4,552.2 276.2,552.4 C278.0,552.6 279.3,544.3 281.0,544.1 C282.7,543.8 284.5,550.9 286.4,550.9 C288.3,550.9 290.4,543.6 292.2,543.9 C294.0,544.3 295.5,553.3 297.2,553.0 C298.9,552.7 300.4,542.4 302.2,542.3 C303.9,542.1 305.7,552.0 307.5,552.2 C309.2,552.4 310.9,543.8 312.6,543.6 C314.3,543.3 315.9,550.5 317.6,550.7 C319.4,550.8 321.5,544.3 323.4,544.3 C325.3,544.4 327.1,551.5 329.0,551.2 C331.0,550.9 333.0,542.1 334.9,542.4 C336.8,542.6 338.7,552.8 340.5,552.8 C342.4,552.9 344.2,543.0 345.9,542.9 C347.7,542.7 349.1,551.7 350.9,552.0 C352.7,552.2 354.7,544.2 356.6,544.4 C358.5,544.6 360.6,553.3 362.4,553.2 C364.2,553.1 365.9,544.2 367.7,543.9 C369.4,543.7 371.1,551.7 372.9,551.7 C374.8,551.7 377.0,544.0 378.8,543.9 C380.6,543.7 381.9,551.1 383.7,550.8 C385.4,550.5 387.6,541.9 389.3,542.1 C390.9,542.3 392.9,550.4 393.6,552.0" stroke="#000" stroke-width="2.3" fill="none" stroke-linejoin="round"/>
<path d="M36.6,620.3 C37.9,612.7 42.3,576.5 44.4,574.7 C46.5,572.9 47.3,607.8 49.2,609.5 C51.1,611.2 53.2,587.2 55.8,585.0 C58.4,582.8 62.3,595.7 64.8,596.3 C67.3,596.9 68.9,589.1 70.8,588.5 C72.7,587.9 74.6,592.4 76.2,592.7 C77.8,593.0 78.9,590.1 80.3,590.3 C81.7,590.5 82.9,594.8 84.5,593.9 C86.1,593.0 88.0,583.6 89.9,584.9 C91.8,586.2 93.9,602.2 95.9,601.7 C97.9,601.2 100.1,582.7 101.9,581.9 C103.7,581.1 105.0,596.2 106.7,596.9 C108.4,597.6 110.4,586.6 112.1,586.1 C113.8,585.6 115.2,593.9 116.9,593.9 C118.6,593.9 120.5,585.7 122.3,586.1 C124.1,586.5 125.8,596.6 127.7,596.3 C129.6,596.0 131.7,584.5 133.7,584.3 C135.7,584.1 137.7,594.7 139.7,595.1 C141.7,595.5 143.4,587.1 145.7,586.7 C148.0,586.3 151.4,592.5 153.5,592.7 C155.6,592.9 156.7,587.9 158.3,587.9 C159.9,587.9 161.5,592.8 163.1,592.7 C164.7,592.6 166.2,586.9 167.9,587.3 C169.6,587.7 171.4,595.7 173.3,595.1 C175.2,594.5 177.3,583.9 179.2,583.7 C181.1,583.5 182.9,593.7 184.6,593.9 C186.3,594.1 187.6,584.9 189.4,584.9 C191.2,584.9 193.7,593.7 195.4,593.9 C197.1,594.1 198.0,586.3 199.6,586.1 C201.2,585.9 203.2,592.7 205.0,592.7 C206.8,592.7 208.6,586.1 210.4,586.1 C212.2,586.1 213.9,592.5 215.8,592.7 C217.7,592.9 219.9,586.8 221.6,587.1 C223.4,587.4 224.8,594.4 226.5,594.4 C228.1,594.5 229.7,587.4 231.5,587.1 C233.2,586.9 235.1,592.9 237.0,592.8 C238.9,592.8 240.8,586.9 242.8,586.8 C244.7,586.8 246.7,593.1 248.6,592.8 C250.5,592.5 252.2,584.9 254.1,585.1 C255.9,585.4 257.8,593.9 259.6,594.3 C261.5,594.6 263.3,587.4 265.2,587.3 C267.1,587.2 269.1,593.5 271.0,593.4 C272.8,593.4 274.3,587.0 276.1,587.0 C277.9,586.9 279.9,593.7 281.8,593.4 C283.7,593.2 285.7,585.5 287.6,585.5 C289.6,585.5 291.6,593.3 293.5,593.4 C295.4,593.4 297.3,585.7 299.0,585.9 C300.8,586.1 302.4,594.4 304.1,594.3 C305.8,594.3 307.5,585.6 309.3,585.5 C311.1,585.4 313.3,593.6 315.1,593.6 C316.9,593.6 318.3,585.6 320.1,585.4 C321.8,585.2 323.9,592.3 325.6,592.4 C327.4,592.6 328.9,585.8 330.5,586.1 C332.1,586.4 333.6,594.3 335.3,594.3 C337.0,594.3 338.9,586.3 340.7,586.1 C342.5,586.0 344.1,593.5 345.9,593.6 C347.8,593.7 349.9,586.7 351.7,586.7 C353.6,586.6 355.2,593.5 357.0,593.4 C358.7,593.3 360.3,586.0 362.1,585.9 C363.8,585.9 365.7,593.0 367.5,593.1 C369.3,593.1 371.3,585.9 373.0,586.1 C374.8,586.3 376.2,594.4 377.9,594.4 C379.6,594.5 381.4,586.4 383.1,586.4 C384.9,586.3 386.6,594.3 388.4,594.3 C390.1,594.2 392.7,587.5 393.6,586.2" stroke="#000" stroke-width="2.3" fill="none" stroke-linejoin="round"/>
<path d="M36.6,645.6 C36.9,645.6 37.5,638.2 38.4,645.6 C39.3,653.0 40.9,683.4 42.0,690.0 C43.1,696.6 43.9,691.2 45.0,685.0 C46.1,678.8 47.6,658.2 48.6,652.8 C49.6,647.4 49.9,649.4 51.0,652.8 C52.1,656.2 53.7,670.3 55.2,673.2 C56.7,676.1 58.5,670.4 60.0,670.2 C61.5,670.0 62.6,673.4 64.2,672.0 C65.8,670.6 67.6,661.1 69.6,661.8 C71.6,662.5 74.1,675.7 76.2,676.2 C78.3,676.7 80.2,665.3 82.1,664.8 C84.0,664.3 85.5,673.6 87.5,673.2 C89.5,672.8 91.9,661.6 94.1,662.4 C96.3,663.2 98.4,678.7 100.7,678.0 C103.0,677.3 105.6,658.1 107.9,658.2 C110.2,658.3 112.3,677.9 114.5,678.5 C116.7,679.1 118.9,662.8 121.1,661.8 C123.3,660.8 125.5,671.5 127.7,672.6 C129.9,673.7 132.4,668.9 134.3,668.4 C136.2,667.9 137.3,669.6 139.1,669.6 C140.9,669.6 143.3,668.3 145.1,668.1 C146.9,667.9 148.2,668.0 149.9,668.4 C151.6,668.8 153.2,671.1 155.3,670.8 C157.4,670.5 159.8,666.4 162.5,666.6 C165.2,666.8 168.6,672.3 171.4,672.0 C174.2,671.7 176.8,664.6 179.2,664.8 C181.6,665.0 183.7,673.2 185.8,673.2 C187.9,673.2 189.7,664.9 191.8,664.8 C193.9,664.7 196.3,672.4 198.4,672.6 C200.5,672.8 202.4,666.1 204.4,666.0 C206.4,665.9 208.3,672.0 210.4,672.0 C212.5,672.0 214.9,665.9 217.0,666.0 C219.1,666.1 221.1,672.6 223.1,672.8 C225.1,673.0 227.2,667.5 229.1,667.3 C231.1,667.1 232.9,671.6 234.8,671.6 C236.7,671.6 238.6,667.4 240.5,667.3 C242.3,667.3 244.0,671.6 245.7,671.6 C247.5,671.5 249.3,667.0 251.0,666.9 C252.7,666.8 254.2,670.8 256.1,670.9 C257.9,670.9 260.0,666.9 261.9,667.1 C263.8,667.2 265.7,671.7 267.5,671.8 C269.4,671.9 271.1,667.8 273.0,667.7 C274.8,667.7 276.9,671.5 278.9,671.4 C280.8,671.3 282.7,667.1 284.6,667.0 C286.6,666.9 288.8,670.9 290.8,670.9 C292.8,671.0 294.7,667.5 296.7,667.5 C298.6,667.5 300.5,671.1 302.3,671.2 C304.2,671.3 305.9,668.0 307.7,668.0 C309.6,668.0 311.4,671.2 313.3,671.1 C315.2,671.1 317.1,667.8 319.0,667.7 C320.9,667.5 322.9,670.4 324.8,670.4 C326.6,670.4 328.1,667.9 330.0,667.9 C331.9,667.9 334.1,670.3 336.0,670.3 C337.8,670.4 339.4,668.2 341.1,668.2 C342.8,668.2 344.4,670.4 346.2,670.3 C348.0,670.2 350.0,667.7 351.9,667.7 C353.7,667.7 355.5,670.2 357.3,670.3 C359.1,670.3 360.8,668.2 362.7,668.2 C364.6,668.3 366.7,670.2 368.6,670.3 C370.5,670.3 372.0,668.5 373.9,668.5 C375.8,668.5 377.8,670.3 379.8,670.3 C381.8,670.3 383.9,668.4 385.8,668.4 C387.7,668.5 390.1,670.5 391.4,670.4 C392.7,670.3 393.2,668.4 393.6,668.0" stroke="#000" stroke-width="2.3" fill="none" stroke-linejoin="round"/>
<path d="M36.6,746.3 C37.2,737.9 39.1,703.2 40.2,696.0 C41.3,688.8 42.2,695.9 43.2,703.0 C44.2,710.1 44.6,737.1 46.2,738.5 C47.8,739.9 50.8,714.7 52.8,711.5 C54.8,708.3 56.8,718.1 58.2,719.3 C59.6,720.5 59.8,717.8 61.2,718.7 C62.6,719.6 64.5,725.7 66.6,724.7 C68.7,723.7 71.7,712.9 73.8,712.7 C75.9,712.5 77.3,723.0 79.2,723.5 C81.1,724.0 83.1,715.7 85.1,715.7 C87.1,715.7 89.0,724.2 91.1,723.5 C93.2,722.8 95.6,710.7 97.7,711.5 C99.8,712.3 101.4,728.7 103.7,728.3 C106.0,727.9 109.1,709.4 111.5,709.1 C113.9,708.8 115.9,725.7 118.1,726.5 C120.3,727.3 122.6,715.0 124.7,713.9 C126.8,712.8 128.9,719.1 130.7,719.9 C132.5,720.7 133.5,718.6 135.5,718.5 C137.5,718.4 140.2,719.1 142.7,719.0 C145.2,718.9 147.8,717.8 150.5,718.1 C153.2,718.4 156.1,721.2 158.9,720.9 C161.7,720.6 164.6,716.2 167.3,716.3 C170.0,716.4 172.4,721.9 175.0,721.7 C177.6,721.5 180.5,715.0 182.8,715.1 C185.1,715.2 186.7,722.2 188.8,722.3 C190.9,722.4 193.3,715.8 195.4,715.7 C197.5,715.6 199.4,721.7 201.4,721.7 C203.4,721.7 205.3,715.8 207.4,715.7 C209.5,715.6 211.9,721.2 214.0,721.1 C216.1,721.0 218.0,715.1 219.8,715.1 C221.7,715.2 223.3,721.2 225.1,721.2 C226.8,721.3 228.6,715.7 230.3,715.6 C232.1,715.5 233.8,720.7 235.5,720.7 C237.2,720.7 238.8,715.7 240.7,715.6 C242.5,715.6 244.6,720.6 246.5,720.6 C248.4,720.6 250.1,715.7 252.1,715.6 C254.0,715.4 256.3,719.5 258.2,719.5 C260.2,719.5 261.9,715.6 263.8,715.6 C265.8,715.7 267.8,719.8 269.7,719.8 C271.6,719.9 273.3,715.8 275.1,715.8 C276.8,715.8 278.4,719.9 280.2,720.1 C282.1,720.3 284.3,717.0 286.2,716.9 C288.1,716.8 289.8,719.5 291.6,719.4 C293.5,719.4 295.3,716.7 297.3,716.8 C299.2,716.8 301.4,720.0 303.3,719.9 C305.2,719.9 306.9,716.5 308.7,716.4 C310.5,716.2 312.0,719.0 313.8,719.0 C315.6,719.1 317.6,716.5 319.6,716.6 C321.6,716.7 323.6,719.6 325.6,719.7 C327.6,719.8 329.6,717.2 331.6,717.2 C333.5,717.1 335.6,719.4 337.4,719.4 C339.3,719.4 340.9,717.2 342.6,717.1 C344.3,717.0 346.0,718.8 347.8,718.8 C349.6,718.8 351.4,717.2 353.4,717.2 C355.3,717.1 357.5,718.7 359.5,718.7 C361.5,718.7 363.2,716.9 365.1,717.0 C367.0,717.0 369.1,718.9 371.0,719.0 C372.9,719.0 374.5,717.2 376.3,717.2 C378.1,717.2 379.8,719.0 381.6,719.0 C383.5,719.0 385.5,717.4 387.4,717.3 C389.4,717.3 392.3,718.9 393.3,718.9 C394.4,718.8 393.6,717.4 393.6,717.1" stroke="#000" stroke-width="2.3" fill="none" stroke-linejoin="round"/>
<path d="M36.6,779.0 C37.2,784.6 38.3,813.7 40.2,812.5 C42.1,811.3 46.2,778.0 48.0,771.8 C49.8,765.6 49.6,770.8 51.0,775.4 C52.4,780.0 54.7,796.8 56.4,799.4 C58.1,802.0 59.8,792.7 61.2,791.0 C62.6,789.3 63.1,789.7 64.8,789.2 C66.5,788.7 69.0,786.3 71.4,788.0 C73.8,789.7 76.7,799.5 79.2,799.4 C81.7,799.3 83.5,787.9 86.3,787.4 C89.1,786.9 93.2,795.8 95.9,796.4 C98.6,797.0 100.3,791.1 102.5,790.7 C104.7,790.3 106.8,794.6 109.1,794.0 C111.4,793.4 113.7,786.3 116.3,786.8 C118.9,787.3 122.0,797.4 124.7,797.0 C127.4,796.6 129.7,784.0 132.5,784.4 C135.3,784.8 138.7,798.5 141.5,799.4 C144.3,800.3 147.0,790.5 149.3,789.8 C151.6,789.1 153.3,795.1 155.3,795.2 C157.3,795.4 159.4,790.9 161.3,790.7 C163.2,790.5 165.3,793.5 166.7,794.0 C168.1,794.5 168.0,795.0 169.7,794.0 C171.4,793.0 174.7,788.2 176.8,788.0 C178.9,787.8 180.1,792.1 182.2,792.8 C184.3,793.5 186.0,792.4 189.4,792.2 C192.8,792.0 199.0,790.9 202.6,791.6 C206.2,792.3 208.4,797.0 211.0,796.4 C213.6,795.8 216.0,787.9 218.2,788.0 C220.4,788.1 222.2,796.9 224.3,797.2 C226.4,797.4 228.7,789.6 231.0,789.4 C233.2,789.2 235.6,796.4 237.7,796.1 C239.8,795.9 241.4,788.0 243.4,787.9 C245.3,787.7 247.3,794.9 249.3,795.1 C251.3,795.3 253.5,788.9 255.5,789.0 C257.5,789.1 259.2,795.6 261.2,795.7 C263.3,795.8 265.7,789.5 267.9,789.4 C270.1,789.3 272.3,795.1 274.5,795.3 C276.7,795.4 279.1,790.4 281.2,790.3 C283.3,790.2 285.3,794.9 287.3,794.7 C289.2,794.5 291.0,789.3 293.0,789.2 C295.0,789.0 297.3,793.7 299.4,793.9 C301.6,794.1 303.8,790.4 305.8,790.3 C307.8,790.3 309.6,793.7 311.7,793.8 C313.7,793.9 315.8,791.0 317.9,791.0 C319.9,791.1 322.2,794.1 324.2,794.0 C326.2,793.9 328.1,790.4 330.0,790.3 C331.9,790.2 333.6,793.3 335.6,793.4 C337.7,793.6 340.2,791.2 342.3,791.2 C344.4,791.3 346.4,793.6 348.4,793.6 C350.5,793.5 352.5,791.2 354.6,791.2 C356.7,791.2 358.9,793.4 360.9,793.4 C362.9,793.4 364.6,791.0 366.6,790.9 C368.5,790.9 370.5,793.1 372.5,793.1 C374.6,793.1 376.6,790.9 378.7,790.9 C380.8,791.0 383.0,793.3 385.1,793.4 C387.2,793.5 389.9,791.4 391.3,791.4 C392.7,791.4 393.2,793.0 393.6,793.3" stroke="#000" stroke-width="2.3" fill="none" stroke-linejoin="round"/>
<path d="M36.6,819.7 C37.0,820.1 38.0,815.0 39.0,822.0 C40.0,829.0 41.3,858.5 42.6,861.7 C43.9,864.9 45.1,847.0 46.8,841.3 C48.5,835.6 50.6,826.7 52.8,827.5 C55.0,828.3 57.9,843.9 60.0,846.1 C62.1,848.3 63.0,843.1 65.4,840.7 C67.8,838.3 71.6,831.1 74.4,831.7 C77.2,832.3 79.2,844.3 82.1,844.3 C85.0,844.3 89.0,832.9 91.7,831.7 C94.4,830.5 96.2,836.6 98.3,837.1 C100.4,837.6 102.0,834.4 104.3,834.7 C106.6,835.0 109.5,839.4 112.1,838.9 C114.7,838.4 117.3,830.8 119.9,831.7 C122.5,832.6 125.0,844.3 127.7,844.3 C130.4,844.3 133.5,832.0 136.1,831.7 C138.7,831.4 140.7,842.2 143.3,842.5 C145.9,842.8 149.4,834.5 151.7,833.5 C154.0,832.5 155.0,836.6 157.1,836.5 C159.2,836.4 161.9,832.6 164.3,832.9 C166.7,833.2 169.1,838.2 171.4,838.3 C173.7,838.4 175.7,833.5 178.1,833.5 C180.5,833.5 182.1,837.6 185.8,838.3 C189.5,839.0 196.8,838.4 200.2,837.7 C203.6,837.0 204.0,833.6 206.2,834.1 C208.4,834.6 211.3,840.9 213.4,840.7 C215.5,840.5 216.8,832.9 218.8,832.9 C220.8,832.9 223.3,840.3 225.4,840.5 C227.4,840.6 229.3,833.4 231.2,833.6 C233.2,833.8 234.9,841.4 236.9,841.7 C239.0,841.9 241.3,835.4 243.5,835.2 C245.7,835.1 247.8,841.0 250.0,840.7 C252.1,840.4 254.2,833.5 256.4,833.4 C258.6,833.3 261.0,840.1 263.3,840.3 C265.5,840.4 267.7,834.3 270.0,834.1 C272.2,834.0 274.5,839.1 276.8,839.3 C279.1,839.5 281.5,835.3 283.6,835.5 C285.7,835.6 287.3,840.2 289.4,840.1 C291.5,839.9 293.9,834.5 296.1,834.5 C298.2,834.5 300.2,840.1 302.1,840.2 C304.1,840.2 305.9,834.9 307.8,834.8 C309.7,834.7 311.8,839.2 313.8,839.5 C315.7,839.7 317.7,836.3 319.6,836.3 C321.5,836.2 323.2,839.4 325.2,839.3 C327.2,839.2 329.4,835.7 331.5,835.6 C333.7,835.5 336.0,838.7 338.2,838.8 C340.4,839.0 342.7,836.6 344.9,836.5 C347.1,836.4 349.4,838.4 351.6,838.4 C353.9,838.4 356.3,836.4 358.4,836.5 C360.6,836.5 362.6,838.6 364.6,838.6 C366.6,838.7 368.3,836.7 370.3,836.7 C372.3,836.7 374.6,838.8 376.6,838.8 C378.6,838.7 380.3,836.5 382.3,836.5 C384.2,836.5 386.5,838.8 388.4,838.8 C390.2,838.9 392.7,837.1 393.6,836.7" stroke="#000" stroke-width="2.3" fill="none" stroke-linejoin="round"/>
<rect x="36.3" y="514.9" width="357.8" height="111.70000000000005" fill="none" stroke="#000" stroke-width="1.5"/>
<path d="M36.3,571.2 L394.1,571.2" stroke="#000" stroke-width="1.5"/>
<path d="M155.4,514.9 L155.4,519.5 M155.4,566.6 L155.4,575.8000000000001 M155.4,626.6 L155.4,622.0" stroke="#000" stroke-width="1.4"/>
<path d="M274.8,514.9 L274.8,519.5 M274.8,566.6 L274.8,575.8000000000001 M274.8,626.6 L274.8,622.0" stroke="#000" stroke-width="1.4"/>
<rect x="36.3" y="637.4" width="357.8" height="112.10000000000002" fill="none" stroke="#000" stroke-width="1.5"/>
<path d="M36.3,693.7 L394.1,693.7" stroke="#000" stroke-width="1.5"/>
<path d="M155.4,637.4 L155.4,642.0 M155.4,689.1 L155.4,698.3000000000001 M155.4,749.5 L155.4,744.9" stroke="#000" stroke-width="1.4"/>
<path d="M274.8,637.4 L274.8,642.0 M274.8,689.1 L274.8,698.3000000000001 M274.8,749.5 L274.8,744.9" stroke="#000" stroke-width="1.4"/>
<rect x="36.3" y="760.2" width="357.8" height="111.79999999999995" fill="none" stroke="#000" stroke-width="1.5"/>
<path d="M36.3,816.5 L394.1,816.5" stroke="#000" stroke-width="1.5"/>
<path d="M155.4,760.2 L155.4,764.8000000000001 M155.4,811.9 L155.4,821.1 M155.4,872 L155.4,867.4" stroke="#000" stroke-width="1.4"/>
<path d="M274.8,760.2 L274.8,764.8000000000001 M274.8,811.9 L274.8,821.1 M274.8,872 L274.8,867.4" stroke="#000" stroke-width="1.4"/>
<path d="M36.3,868 L36.3,876.2" stroke="#000" stroke-width="1.4"/>
<path d="M155.4,868 L155.4,876.2" stroke="#000" stroke-width="1.4"/>
<path d="M274.8,868 L274.8,876.2" stroke="#000" stroke-width="1.4"/>
<path d="M394.1,868 L394.1,876.2" stroke="#000" stroke-width="1.4"/>
<text x="36.2" y="912.2" font-size="29" text-anchor="middle">0</text>
<text x="155.4" y="912.2" font-size="29" text-anchor="middle">3</text>
<text x="274.8" y="912.2" font-size="29" text-anchor="middle">6</text>
<text x="394" y="912.2" font-size="29" text-anchor="middle">9</text>
<text x="215" y="954.9" font-size="29" text-anchor="middle">Length, <tspan font-style="italic">L</tspan> (μm)</text>
<text x="215.3" y="497.8" font-size="29" text-anchor="middle">Profiles</text>
<text x="21.3" y="571.25" font-size="29" text-anchor="middle" transform="rotate(-90 21.3 571.25)">700 nm</text>
<text x="388.6" y="537.2" font-size="25.3" text-anchor="end">Amp(<tspan font-style="italic">E</tspan>)</text>
<text x="387.8" y="619.1" font-size="25.3" text-anchor="end">Arg (<tspan font-style="italic">E</tspan>)</text>
<text x="21.3" y="693.95" font-size="29" text-anchor="middle" transform="rotate(-90 21.3 693.95)">850 nm</text>
<text x="388.6" y="659.7" font-size="25.3" text-anchor="end">Amp(<tspan font-style="italic">E</tspan>)</text>
<text x="387.8" y="741.6" font-size="25.3" text-anchor="end">Arg (<tspan font-style="italic">E</tspan>)</text>
<text x="21.3" y="816.6" font-size="29" text-anchor="middle" transform="rotate(-90 21.3 816.6)">1000 nm</text>
<text x="388.6" y="782.5000000000001" font-size="25.3" text-anchor="end">Amp(<tspan font-style="italic">E</tspan>)</text>
<text x="387.8" y="864.4000000000001" font-size="25.3" text-anchor="end">Arg (<tspan font-style="italic">E</tspan>)</text>
<path d="M818,515.8 L818,626.6" stroke="#14dc14" stroke-width="2.8" stroke-dasharray="7,4.5"/>
<path d="M833.4,515.8 L833.4,626.6" stroke="#14dc14" stroke-width="2.8" stroke-dasharray="7,4.5"/>
<path d="M812.7,638.5 L812.7,748.9" stroke="#14dc14" stroke-width="2.8" stroke-dasharray="7,4.5"/>
<path d="M831,638.5 L831,748.9" stroke="#14dc14" stroke-width="2.8" stroke-dasharray="7,4.5"/>
<path d="M810.4,761.2 L810.4,872" stroke="#14dc14" stroke-width="2.8" stroke-dasharray="7,4.5"/>
<path d="M829.8,761.2 L829.8,872" stroke="#14dc14" stroke-width="2.8" stroke-dasharray="7,4.5"/>
<path d="M818,509.8 L818,515" stroke="#000" stroke-width="2.8"/>
<path d="M833.4,509.8 L833.4,515" stroke="#000" stroke-width="2.8"/>
<path d="M527.5,623.6 L530.0,623.4 L532.5,622.2 L535.0,622.5 L537.5,621.9 L540.0,621.6 L542.5,622.1 L545.0,621.5 L547.5,621.5 L550.0,621.5 L552.5,620.2 L555.0,620.5 L557.5,620.0 L560.0,619.1 L562.5,619.0 L565.0,619.0 L567.2,618.8 L569.4,617.9 L571.6,617.9 L573.8,618.3 L576.0,617.9 L578.5,618.8 L581.0,619.5 L583.9,620.8 L586.8,622.8 L589.0,618.5 L592.7,617.0 L597.0,619.5 L599.5,619.0 L602.0,618.2 L605.2,619.0 L608.4,618.9 L611.2,617.9 L614.0,618.3 L618.0,617.5 L621.7,615.0 L625.0,617.5 L628.0,620.9 L630.3,621.5 L632.7,621.6 L635.0,621.5 L637.5,621.2 L640.0,620.8 L642.5,621.8 L645.0,621.0 L647.5,620.9 L650.0,620.7 L652.5,620.8 L655.0,622.0 L657.5,621.6 L659.9,621.5 L662.2,621.6 L664.6,621.3 L667.0,620.8 L669.5,620.7 L672.0,621.2 L674.5,620.3 L677.0,620.3 L679.5,620.2 L682.0,620.4 L684.5,619.9 L687.0,619.5 L690.0,619.4 L693.0,618.3 L696.8,618.3 L699.0,615.0 L701.7,611.4 L703.3,560.0 L704.7,516.5 L706.2,560.0 L707.5,612.0 L708.6,615.4 L711.0,617.0 L714.5,619.3 L717.1,619.7 L719.8,620.2 L722.4,619.6 L725.0,620.5 L727.2,620.5 L729.4,620.9 L731.6,620.9 L733.8,621.5 L736.0,622.2 L738.5,621.8 L741.0,622.2 L743.5,622.8 L746.0,622.8 L748.4,622.7 L750.9,622.8 L753.3,622.7 L755.7,623.2 L758.0,622.7 L760.4,623.5 L762.7,622.9 L765.0,622.5 L767.5,622.5 L770.0,621.7 L772.5,622.3 L775.0,621.8 L778.1,621.0 L781.3,621.2 L784.0,616.0 L786.0,609.0 L788.1,604.6 L790.0,608.5 L793.0,613.4 L796.0,614.4 L799.0,615.8 L803.0,615.0 L805.9,615.9 L808.8,615.4 L812.0,611.0 L815.0,600.0 L818.2,589.8 L820.5,600.0 L824.5,619.3 L828.4,621.6 L831.0,612.0 L834.3,598.7 L836.7,615.4 L839.2,615.9 L841.7,616.1 L844.2,616.3 L847.1,617.1 L850.1,617.9 L853.0,618.0 L855.7,619.0 L858.4,618.8 L861.1,619.1 L863.8,620.3 L866.1,620.3 L868.4,620.4 L870.7,620.6 L873.0,621.2 L875.5,622.1 L878.0,622.2 L880.5,621.7 L883.0,622.2" stroke="#000" stroke-width="2.3" fill="none" stroke-linejoin="round"/>
<path d="M527.5,742.9 L530.0,743.0 L532.5,742.5 L535.0,743.1 L537.5,742.3 L540.0,742.2 L542.2,741.8 L544.4,741.8 L546.7,742.2 L548.9,741.8 L551.1,742.2 L553.3,742.6 L555.6,741.9 L557.8,741.6 L560.0,742.0 L562.2,742.7 L564.4,741.9 L566.7,741.3 L568.9,741.2 L571.1,741.2 L573.3,741.9 L575.6,742.1 L577.8,741.5 L580.0,741.6 L582.2,741.0 L584.4,741.4 L586.7,742.2 L588.9,741.6 L591.1,742.1 L593.3,742.0 L595.6,740.8 L597.8,741.7 L600.0,741.4 L602.2,741.7 L604.4,741.5 L606.7,741.1 L608.9,741.7 L611.1,741.0 L613.3,741.4 L615.6,741.5 L617.8,742.2 L620.0,741.6 L622.2,742.1 L624.4,741.1 L626.7,741.4 L628.9,740.9 L631.1,741.8 L633.3,741.7 L635.6,740.9 L637.8,741.3 L640.0,741.0 L642.2,741.1 L644.4,740.4 L646.7,741.2 L648.9,740.8 L651.1,741.1 L653.3,740.7 L655.6,739.9 L657.8,740.3 L660.0,740.5 L662.2,739.8 L664.4,741.0 L666.7,740.9 L668.9,740.7 L671.1,740.0 L673.3,739.5 L675.6,740.6 L677.8,740.7 L680.0,740.0 L682.5,739.3 L685.0,739.8 L687.5,739.1 L690.0,739.6 L692.3,739.8 L694.5,739.6 L696.8,739.0 L701.7,732.0 L703.3,690.0 L705.0,639.8 L706.6,690.0 L708.2,739.0 L711.0,741.5 L714.5,743.5 L717.1,743.0 L719.8,743.4 L722.4,743.5 L725.0,743.4 L727.2,743.0 L729.4,743.8 L731.6,743.1 L733.8,742.7 L736.0,743.0 L738.3,742.9 L740.7,743.0 L743.0,742.1 L745.3,742.1 L747.7,742.9 L750.0,742.0 L752.2,741.9 L754.5,741.3 L756.7,741.2 L758.9,740.3 L761.1,740.2 L763.4,740.1 L765.6,740.0 L768.0,739.5 L770.5,738.4 L773.0,737.8 L775.4,737.6 L778.3,734.3 L781.3,732.2 L785.0,724.0 L788.8,720.0 L792.0,724.0 L798.0,735.1 L802.0,731.0 L806.8,724.3 L811.0,716.0 L814.7,706.2 L817.0,718.0 L819.6,737.0 L822.5,738.5 L825.5,739.6 L828.0,725.0 L830.4,710.1 L834.3,720.8 L837.1,722.3 L840.0,724.5 L850.0,731.2 L852.5,732.4 L855.0,733.0 L857.5,732.5 L860.0,733.4 L862.5,734.6 L865.0,735.0 L867.3,734.9 L869.6,735.1 L871.9,736.6 L874.2,736.4 L876.5,736.6 L878.8,737.3 L881.1,737.7 L883.4,737.6" stroke="#000" stroke-width="2.3" fill="none" stroke-linejoin="round"/>
<path d="M527.5,867.8 L529.7,867.4 L531.9,867.2 L534.1,867.7 L536.3,867.7 L538.5,867.8 L540.7,868.1 L542.9,868.0 L545.1,868.5 L547.3,867.2 L549.5,867.8 L551.8,867.3 L554.1,866.8 L556.4,867.2 L558.6,865.9 L560.9,865.4 L563.2,865.5 L566.2,866.1 L569.1,866.9 L571.7,866.2 L574.2,865.4 L576.8,864.8 L579.3,865.2 L581.9,864.0 L584.2,864.8 L586.5,866.2 L588.8,866.5 L591.5,865.9 L594.1,864.6 L596.8,865.3 L599.5,864.0 L601.9,865.3 L604.2,866.3 L606.6,867.0 L608.9,867.7 L611.3,868.0 L614.0,866.5 L616.8,866.0 L619.5,864.6 L622.2,864.0 L625.1,866.4 L628.0,869.0 L630.2,868.4 L632.4,868.8 L634.6,869.7 L636.9,868.7 L639.1,869.4 L641.3,868.9 L643.5,868.9 L645.7,869.0 L647.9,869.5 L650.2,869.4 L652.4,868.6 L654.7,868.7 L656.9,867.8 L659.2,867.9 L661.4,868.0 L663.8,868.9 L666.1,868.5 L668.5,868.7 L670.8,869.1 L673.2,869.0 L677.2,864.5 L679.7,864.6 L682.1,866.0 L684.5,868.1 L687.0,870.0 L690.9,867.0 L693.1,867.0 L695.3,867.5 L697.6,866.5 L699.8,867.0 L700.7,866.0 L705.3,764.7 L709.6,867.8 L712.0,867.5 L714.5,866.0 L717.0,866.0 L719.4,866.8 L721.8,868.0 L724.3,868.5 L726.9,867.2 L729.6,865.1 L732.2,864.0 L736.0,866.5 L738.3,865.9 L740.7,866.9 L743.0,865.9 L745.3,866.3 L747.7,866.3 L750.0,866.0 L752.5,865.8 L755.0,866.0 L757.5,865.8 L760.0,866.3 L762.5,865.2 L765.0,865.9 L767.5,865.5 L770.5,863.9 L773.4,863.0 L775.6,862.7 L777.8,863.0 L780.1,862.3 L782.3,862.5 L787.2,847.6 L791.1,849.5 L797.0,855.5 L799.6,855.7 L802.3,856.9 L804.9,857.0 L809.8,846.3 L814.7,855.0 L817.2,856.9 L819.6,860.0 L823.5,860.5 L828.4,846.7 L832.4,855.0 L834.8,856.9 L837.3,859.0 L839.5,859.6 L841.7,859.4 L843.9,858.0 L846.1,858.5 L848.5,859.3 L851.0,860.7 L853.5,862.9 L855.9,863.5 L858.4,864.5 L860.8,865.0 L863.3,864.8 L865.8,865.5 L868.3,865.1 L870.7,866.1 L873.2,866.0 L875.6,865.9 L878.1,866.5 L880.5,866.1 L883.0,866.0" stroke="#000" stroke-width="2.3" fill="none" stroke-linejoin="round"/>
<rect x="526.4" y="514.8" width="357.4" height="111.80000000000007" fill="none" stroke="#000" stroke-width="1.5"/>
<path d="M615.54,514.8 L615.54,519.4 M615.54,626.6 L615.54,622.0" stroke="#000" stroke-width="1.4"/>
<path d="M704.9,514.8 L704.9,519.4 M704.9,626.6 L704.9,622.0" stroke="#000" stroke-width="1.4"/>
<path d="M794.26,514.8 L794.26,519.4 M794.26,626.6 L794.26,622.0" stroke="#000" stroke-width="1.4"/>
<rect x="526.4" y="637.5" width="357.4" height="111.39999999999998" fill="none" stroke="#000" stroke-width="1.5"/>
<path d="M615.54,637.5 L615.54,642.1 M615.54,748.9 L615.54,744.3" stroke="#000" stroke-width="1.4"/>
<path d="M704.9,637.5 L704.9,642.1 M704.9,748.9 L704.9,744.3" stroke="#000" stroke-width="1.4"/>
<path d="M794.26,637.5 L794.26,642.1 M794.26,748.9 L794.26,744.3" stroke="#000" stroke-width="1.4"/>
<rect x="526.4" y="760.2" width="357.4" height="111.79999999999995" fill="none" stroke="#000" stroke-width="1.5"/>
<path d="M615.54,760.2 L615.54,764.8000000000001 M615.54,872 L615.54,867.4" stroke="#000" stroke-width="1.4"/>
<path d="M704.9,760.2 L704.9,764.8000000000001 M704.9,872 L704.9,867.4" stroke="#000" stroke-width="1.4"/>
<path d="M794.26,760.2 L794.26,764.8000000000001 M794.26,872 L794.26,867.4" stroke="#000" stroke-width="1.4"/>
<path d="M526.18,868 L526.18,876" stroke="#000" stroke-width="1.4"/>
<path d="M615.54,868 L615.54,876" stroke="#000" stroke-width="1.4"/>
<path d="M704.9,868 L704.9,876" stroke="#000" stroke-width="1.4"/>
<path d="M794.26,868 L794.26,876" stroke="#000" stroke-width="1.4"/>
<path d="M883.62,868 L883.62,876" stroke="#000" stroke-width="1.4"/>
<text x="524.68" y="911.8" font-size="29" text-anchor="middle">−4</text>
<text x="614.04" y="911.8" font-size="29" text-anchor="middle">−2</text>
<text x="704.9" y="911.8" font-size="29" text-anchor="middle">0</text>
<text x="794.26" y="911.8" font-size="29" text-anchor="middle">2</text>
<text x="883.62" y="911.8" font-size="29" text-anchor="middle">4</text>
<text x="669.8" y="954.6" font-size="29"><tspan font-style="italic">q</tspan> (<tspan font-style="italic">k</tspan><tspan font-size="20.5" dy="8">0</tspan><tspan dy="-8">)</tspan></text>
<text x="705" y="479" font-size="29" text-anchor="middle">FFT</text>
<text x="778.6" y="491.8" font-size="29">TM<tspan font-size="20.5" dy="8">0</tspan><tspan dy="-8">TE</tspan><tspan font-size="20.5" dy="8">0</tspan></text>
<text x="510.5" y="571.2" font-size="29" text-anchor="middle" transform="rotate(-90 510.5 571.2)">700 nm</text>
<text x="510.5" y="693.7" font-size="29" text-anchor="middle" transform="rotate(-90 510.5 693.7)">850 nm</text>
<text x="510.5" y="816.6" font-size="29" text-anchor="middle" transform="rotate(-90 510.5 816.6)">1000 nm</text>
<path d="M788.2,565.7 L788.2,590.5" stroke="#14dc14" stroke-width="2.8"/><path d="M788.2,598.5 L781.7,580.5 L788.2,586.5 L794.7,580.5 Z" fill="#14dc14"/>
<path d="M788.2,682 L788.2,706.5" stroke="#14dc14" stroke-width="2.8"/><path d="M788.2,714.5 L781.7,696.5 L788.2,702.5 L794.7,696.5 Z" fill="#14dc14"/>
<path d="M788.2,810 L788.2,834.3" stroke="#14dc14" stroke-width="2.8"/><path d="M788.2,842.3 L781.7,824.3 L788.2,830.3 L794.7,824.3 Z" fill="#14dc14"/>
<text x="773" y="558.7" font-size="25">Air</text>
<g clip-path="url(#clipg)">
<rect x="1020.8" y="514.8" width="358.0" height="357.20000000000005" fill="#3a0000"/>
<ellipse cx="1045" cy="700" rx="30" ry="80" fill="#430303" opacity="0.8"/>
<path d="M1020.0,514.0 L1110.5,514.0 L1087.0,606.0 L1078.7,606.5 L1052.5,613.6 L1026.0,624.5 L1020.0,626.0 Z" fill="#000"/>
<path d="M1110.3,514.8 L1209.5,514.8 L1208.5,518.4 L1109.6,518.4 Z" fill="url(#bdg0)"/>
<path d="M1109.6,517.8 L1208.5,517.8 L1207.5,521.4 L1108.8,521.4 Z" fill="url(#bdg1)"/>
<path d="M1108.8,520.8 L1207.5,520.8 L1206.5,524.4 L1108.1,524.4 Z" fill="url(#bdg2)"/>
<path d="M1108.1,523.8 L1206.5,523.8 L1205.5,527.4 L1107.4,527.4 Z" fill="url(#bdg3)"/>
<path d="M1107.4,526.8 L1205.5,526.8 L1204.5,530.4 L1106.7,530.4 Z" fill="url(#bdg4)"/>
<path d="M1106.7,529.8 L1204.5,529.8 L1203.5,533.4 L1105.9,533.4 Z" fill="url(#bdg5)"/>
<path d="M1105.9,532.8 L1203.5,532.8 L1202.5,536.4 L1105.2,536.4 Z" fill="url(#bdg6)"/>
<path d="M1105.2,535.8 L1202.5,535.8 L1201.6,539.4 L1104.5,539.4 Z" fill="url(#bdg7)"/>
<path d="M1104.5,538.8 L1201.6,538.8 L1200.6,542.4 L1103.7,542.4 Z" fill="url(#bdg8)"/>
<path d="M1103.7,541.8 L1200.6,541.8 L1199.6,545.4 L1103.0,545.4 Z" fill="url(#bdg9)"/>
<path d="M1103.0,544.8 L1199.6,544.8 L1198.6,548.4 L1102.3,548.4 Z" fill="url(#bdg10)"/>
<path d="M1102.3,547.8 L1198.6,547.8 L1197.6,551.4 L1101.5,551.4 Z" fill="url(#bdg11)"/>
<path d="M1101.5,550.8 L1197.6,550.8 L1196.6,554.4 L1100.8,554.4 Z" fill="url(#bdg12)"/>
<path d="M1100.8,553.8 L1196.6,553.8 L1195.6,557.4 L1100.1,557.4 Z" fill="url(#bdg13)"/>
<path d="M1100.1,556.8 L1195.6,556.8 L1194.6,560.4 L1099.3,560.4 Z" fill="url(#bdg14)"/>
<path d="M1099.3,559.8 L1194.6,559.8 L1193.8,563.4 L1098.7,563.4 Z" fill="url(#bdg15)"/>
<path d="M1098.7,562.8 L1193.8,562.8 L1193.0,566.4 L1098.0,566.4 Z" fill="url(#bdg16)"/>
<path d="M1098.0,565.8 L1193.0,565.8 L1192.2,569.4 L1097.3,569.4 Z" fill="url(#bdg17)"/>
<path d="M1097.3,568.8 L1192.2,568.8 L1191.4,572.4 L1096.7,572.4 Z" fill="url(#bdg18)"/>
<path d="M1096.7,571.8 L1191.4,571.8 L1190.6,575.4 L1096.0,575.4 Z" fill="url(#bdg19)"/>
<path d="M1096.0,574.8 L1190.6,574.8 L1189.8,578.4 L1095.3,578.4 Z" fill="url(#bdg20)"/>
<path d="M1095.3,577.8 L1189.8,577.8 L1189.1,581.4 L1094.7,581.4 Z" fill="url(#bdg21)"/>
<path d="M1094.7,580.8 L1189.1,580.8 L1188.3,584.4 L1094.0,584.4 Z" fill="url(#bdg22)"/>
<path d="M1094.0,583.8 L1188.3,583.8 L1187.5,587.4 L1093.3,587.4 Z" fill="url(#bdg23)"/>
<path d="M1093.3,586.8 L1187.5,586.8 L1186.7,590.4 L1092.7,590.4 Z" fill="url(#bdg24)"/>
<path d="M1092.7,589.8 L1186.7,589.8 L1185.9,593.4 L1092.0,593.4 Z" fill="url(#bdg25)"/>
<path d="M1092.0,592.8 L1185.9,592.8 L1185.1,596.4 L1091.3,596.4 Z" fill="url(#bdg26)"/>
<path d="M1091.3,595.8 L1185.1,595.8 L1184.4,599.4 L1090.7,599.4 Z" fill="url(#bdg27)"/>
<path d="M1090.7,598.8 L1184.4,598.8 L1183.6,602.4 L1090.0,602.4 Z" fill="url(#bdg28)"/>
<path d="M1090.0,601.8 L1183.6,601.8 L1182.8,605.4 L1089.3,605.4 Z" fill="url(#bdg29)"/>
<path d="M1089.3,604.8 L1182.8,604.8 L1181.9,608.4 L1088.6,608.4 Z" fill="url(#bdg30)"/>
<path d="M1088.6,607.8 L1181.9,607.8 L1181.0,611.4 L1088.0,611.4 Z" fill="url(#bdg31)"/>
<path d="M1088.0,610.8 L1181.0,610.8 L1180.1,614.4 L1087.3,614.4 Z" fill="url(#bdg32)"/>
<path d="M1087.3,613.8 L1180.1,613.8 L1179.2,617.4 L1086.6,617.4 Z" fill="url(#bdg33)"/>
<path d="M1086.6,616.8 L1179.2,616.8 L1178.3,620.4 L1085.9,620.4 Z" fill="url(#bdg34)"/>
<path d="M1085.9,619.8 L1178.3,619.8 L1177.4,623.4 L1085.3,623.4 Z" fill="url(#bdg35)"/>
<path d="M1085.3,622.8 L1177.4,622.8 L1176.6,626.4 L1084.6,626.4 Z" fill="url(#bdg36)"/>
<path d="M1084.6,625.8 L1176.6,625.8 L1175.7,629.4 L1083.9,629.4 Z" fill="url(#bdg37)"/>
<path d="M1083.9,628.8 L1175.7,628.8 L1174.8,632.4 L1083.2,632.4 Z" fill="url(#bdg38)"/>
<path d="M1083.2,631.8 L1174.8,631.8 L1173.9,635.4 L1082.6,635.4 Z" fill="url(#bdg39)"/>
<path d="M1082.6,634.8 L1173.9,634.8 L1173.0,638.4 L1081.9,638.4 Z" fill="url(#bdg40)"/>
<path d="M1081.9,637.8 L1173.0,637.8 L1172.1,641.4 L1081.2,641.4 Z" fill="url(#bdg41)"/>
<path d="M1081.2,640.8 L1172.1,640.8 L1171.2,644.4 L1080.5,644.4 Z" fill="url(#bdg42)"/>
<path d="M1080.5,643.8 L1171.2,643.8 L1170.4,647.4 L1079.9,647.4 Z" fill="url(#bdg43)"/>
<path d="M1079.9,646.8 L1170.4,646.8 L1169.2,650.4 L1079.1,650.4 Z" fill="url(#bdg44)"/>
<path d="M1079.1,649.8 L1169.2,649.8 L1167.8,653.4 L1078.4,653.4 Z" fill="url(#bdg45)"/>
<path d="M1078.4,652.8 L1167.8,652.8 L1166.5,656.4 L1077.6,656.4 Z" fill="url(#bdg46)"/>
<path d="M1077.6,655.8 L1166.5,655.8 L1165.1,659.4 L1076.9,659.4 Z" fill="url(#bdg47)"/>
<path d="M1076.9,658.8 L1165.1,658.8 L1163.7,662.4 L1076.1,662.4 Z" fill="url(#bdg48)"/>
<path d="M1076.1,661.8 L1163.7,661.8 L1162.4,665.4 L1075.4,665.4 Z" fill="url(#bdg49)"/>
<path d="M1075.4,664.8 L1162.4,664.8 L1161.0,668.4 L1074.6,668.4 Z" fill="url(#bdg50)"/>
<path d="M1074.6,667.8 L1161.0,667.8 L1159.6,671.4 L1073.9,671.4 Z" fill="url(#bdg51)"/>
<path d="M1073.9,670.8 L1159.6,670.8 L1158.3,674.4 L1073.1,674.4 Z" fill="url(#bdg52)"/>
<path d="M1073.1,673.8 L1158.3,673.8 L1156.9,677.4 L1072.4,677.4 Z" fill="url(#bdg53)"/>
<path d="M1072.4,676.8 L1156.9,676.8 L1155.5,680.4 L1071.6,680.4 Z" fill="url(#bdg54)"/>
<path d="M1071.6,679.8 L1155.5,679.8 L1154.2,683.4 L1070.9,683.4 Z" fill="url(#bdg55)"/>
<path d="M1070.9,682.8 L1154.2,682.8 L1152.8,686.4 L1070.1,686.4 Z" fill="url(#bdg56)"/>
<path d="M1070.1,685.8 L1152.8,685.8 L1151.5,689.4 L1069.4,689.4 Z" fill="url(#bdg57)"/>
<path d="M1069.4,688.8 L1151.5,688.8 L1150.1,692.4 L1068.6,692.4 Z" fill="url(#bdg58)"/>
<path d="M1068.6,691.8 L1150.1,691.8 L1148.8,695.4 L1067.9,695.4 Z" fill="url(#bdg59)"/>
<path d="M1067.9,694.8 L1148.8,694.8 L1147.5,698.4 L1067.2,698.4 Z" fill="url(#bdg60)"/>
<path d="M1067.2,697.8 L1147.5,697.8 L1146.2,701.4 L1066.5,701.4 Z" fill="url(#bdg61)"/>
<path d="M1066.5,700.8 L1146.2,700.8 L1144.9,704.4 L1065.8,704.4 Z" fill="url(#bdg62)"/>
<path d="M1065.8,703.8 L1144.9,703.8 L1143.7,707.4 L1065.1,707.4 Z" fill="url(#bdg63)"/>
<path d="M1065.1,706.8 L1143.7,706.8 L1142.4,710.4 L1064.4,710.4 Z" fill="url(#bdg64)"/>
<path d="M1064.4,709.8 L1142.4,709.8 L1141.1,713.4 L1063.7,713.4 Z" fill="url(#bdg65)"/>
<path d="M1063.7,712.8 L1141.1,712.8 L1139.8,716.4 L1063.0,716.4 Z" fill="url(#bdg66)"/>
<path d="M1063.0,715.8 L1139.8,715.8 L1138.5,719.4 L1062.3,719.4 Z" fill="url(#bdg67)"/>
<path d="M1062.3,718.8 L1138.5,718.8 L1137.1,722.4 L1061.6,722.4 Z" fill="url(#bdg68)"/>
<path d="M1061.6,721.8 L1137.1,721.8 L1135.6,725.4 L1061.0,725.4 Z" fill="url(#bdg69)"/>
<path d="M1061.0,724.8 L1135.6,724.8 L1134.1,728.4 L1060.4,728.4 Z" fill="url(#bdg70)"/>
<path d="M1060.4,727.8 L1134.1,727.8 L1132.5,731.4 L1059.7,731.4 Z" fill="url(#bdg71)"/>
<path d="M1059.7,730.8 L1132.5,730.8 L1131.0,734.4 L1059.1,734.4 Z" fill="url(#bdg72)"/>
<path d="M1059.1,733.8 L1131.0,733.8 L1129.6,737.4 L1058.4,737.4 Z" fill="url(#bdg73)"/>
<path d="M1058.4,736.8 L1129.6,736.8 L1128.5,740.4 L1057.5,740.4 Z" fill="url(#bdg74)"/>
<path d="M1057.5,739.8 L1128.5,739.8 L1127.4,743.4 L1056.7,743.4 Z" fill="url(#bdg75)"/>
<path d="M1056.7,742.8 L1127.4,742.8 L1126.3,746.4 L1055.8,746.4 Z" fill="url(#bdg76)"/>
<path d="M1055.8,745.8 L1126.3,745.8 L1125.2,749.4 L1054.9,749.4 Z" fill="url(#bdg77)"/>
<path d="M1054.9,748.8 L1125.2,748.8 L1124.1,752.4 L1054.1,752.4 Z" fill="url(#bdg78)"/>
<path d="M1054.1,751.8 L1124.1,751.8 L1122.8,755.4 L1053.1,755.4 Z" fill="url(#bdg79)"/>
<path d="M1053.1,754.8 L1122.8,754.8 L1121.6,758.4 L1052.2,758.4 Z" fill="url(#bdg80)"/>
<path d="M1052.2,757.8 L1121.6,757.8 L1120.3,761.4 L1051.3,761.4 Z" fill="url(#bdg81)"/>
<path d="M1051.3,760.8 L1120.3,760.8 L1119.1,764.4 L1050.3,764.4 Z" fill="url(#bdg82)"/>
<path d="M1050.3,763.8 L1119.1,763.8 L1117.8,767.4 L1049.4,767.4 Z" fill="url(#bdg83)"/>
<path d="M1049.4,766.8 L1117.8,766.8 L1116.6,770.4 L1048.5,770.4 Z" fill="url(#bdg84)"/>
<path d="M1048.5,769.8 L1116.6,769.8 L1115.4,773.4 L1047.7,773.4 Z" fill="url(#bdg85)"/>
<path d="M1047.7,772.8 L1115.4,772.8 L1114.1,776.4 L1046.8,776.4 Z" fill="url(#bdg86)"/>
<path d="M1046.8,775.8 L1114.1,775.8 L1112.9,779.4 L1045.9,779.4 Z" fill="url(#bdg87)"/>
<path d="M1045.9,778.8 L1112.9,778.8 L1111.7,782.4 L1045.1,782.4 Z" fill="url(#bdg88)"/>
<path d="M1045.1,781.8 L1111.7,781.8 L1110.5,785.4 L1044.2,785.4 Z" fill="url(#bdg89)"/>
<path d="M1044.2,784.8 L1110.5,784.8 L1109.3,788.4 L1043.4,788.4 Z" fill="url(#bdg90)"/>
<path d="M1043.4,787.8 L1109.3,787.8 L1108.0,791.4 L1042.5,791.4 Z" fill="url(#bdg91)"/>
<path d="M1042.5,790.8 L1108.0,790.8 L1106.8,794.4 L1041.7,794.4 Z" fill="url(#bdg92)"/>
<path d="M1041.7,793.8 L1106.8,793.8 L1105.6,797.4 L1040.8,797.4 Z" fill="url(#bdg93)"/>
<path d="M1040.8,796.8 L1105.6,796.8 L1104.4,800.4 L1040.0,800.4 Z" fill="url(#bdg94)"/>
<path d="M1040.0,799.8 L1104.4,799.8 L1103.1,803.4 L1039.1,803.4 Z" fill="url(#bdg95)"/>
<path d="M1039.1,802.8 L1103.1,802.8 L1101.9,806.4 L1038.2,806.4 Z" fill="url(#bdg96)"/>
<path d="M1038.2,805.8 L1101.9,805.8 L1100.7,809.4 L1037.4,809.4 Z" fill="url(#bdg97)"/>
<path d="M1037.4,808.8 L1100.7,808.8 L1099.5,812.4 L1036.5,812.4 Z" fill="url(#bdg98)"/>
<path d="M1036.5,811.8 L1099.5,811.8 L1098.3,815.4 L1035.7,815.4 Z" fill="url(#bdg99)"/>
<path d="M1035.7,814.8 L1098.3,814.8 L1097.0,818.4 L1034.8,818.4 Z" fill="url(#bdg100)"/>
<path d="M1034.8,817.8 L1097.0,817.8 L1095.8,821.4 L1034.0,821.4 Z" fill="url(#bdg101)"/>
<path d="M1034.0,820.8 L1095.8,820.8 L1094.6,824.4 L1033.1,824.4 Z" fill="url(#bdg102)"/>
<path d="M1033.1,823.8 L1094.6,823.8 L1093.4,827.4 L1032.3,827.4 Z" fill="url(#bdg103)"/>
<path d="M1032.3,826.8 L1093.4,826.8 L1092.4,830.4 L1031.6,830.4 Z" fill="url(#bdg104)"/>
<path d="M1031.6,829.8 L1092.4,829.8 L1091.6,833.4 L1030.9,833.4 Z" fill="url(#bdg105)"/>
<path d="M1030.9,832.8 L1091.6,832.8 L1090.9,836.4 L1030.3,836.4 Z" fill="url(#bdg106)"/>
<path d="M1030.3,835.8 L1090.9,835.8 L1090.1,839.4 L1029.6,839.4 Z" fill="url(#bdg107)"/>
<path d="M1029.6,838.8 L1090.1,838.8 L1089.3,842.4 L1029.0,842.4 Z" fill="url(#bdg108)"/>
<path d="M1029.0,841.8 L1089.3,841.8 L1088.5,845.4 L1028.4,845.4 Z" fill="url(#bdg109)"/>
<path d="M1028.4,844.8 L1088.5,844.8 L1087.7,848.4 L1027.7,848.4 Z" fill="url(#bdg110)"/>
<path d="M1027.7,847.8 L1087.7,847.8 L1086.9,851.4 L1027.1,851.4 Z" fill="url(#bdg111)"/>
<path d="M1027.1,850.8 L1086.9,850.8 L1086.1,854.4 L1026.5,854.4 Z" fill="url(#bdg112)"/>
<path d="M1026.5,853.8 L1086.1,853.8 L1085.3,857.4 L1025.8,857.4 Z" fill="url(#bdg113)"/>
<path d="M1025.8,856.8 L1085.3,856.8 L1084.5,860.4 L1025.2,860.4 Z" fill="url(#bdg114)"/>
<path d="M1025.2,859.8 L1084.5,859.8 L1083.7,863.4 L1024.6,863.4 Z" fill="url(#bdg115)"/>
<path d="M1024.6,862.8 L1083.7,862.8 L1082.9,866.4 L1023.9,866.4 Z" fill="url(#bdg116)"/>
<path d="M1023.9,865.8 L1082.9,865.8 L1082.1,869.4 L1023.3,869.4 Z" fill="url(#bdg117)"/>
<path d="M1023.3,868.8 L1082.1,868.8 L1081.3,872.4 L1022.7,872.4 Z" fill="url(#bdg118)"/>
<path d="M1022.7,871.8 L1081.3,871.8 L1081.3,872.6 L1022.6,872.6 Z" fill="url(#bdg119)"/>
<path d="M1082.4,873.0 C1087.3,862.9 1098.5,839.7 1111.6,812.1 C1124.7,784.5 1140.2,749.7 1161.0,707.2 C1181.8,664.8 1219.8,589.6 1236.7,557.4 C1253.6,525.2 1258.0,521.2 1262.2,514.0" stroke="#f8d0a8" stroke-width="1.2" fill="none"/>
<path d="M1082.4,873.0 C1087.3,862.9 1098.5,839.7 1111.6,812.1 C1124.7,784.5 1140.2,749.7 1161.0,707.2 C1181.8,664.8 1219.8,589.6 1236.7,557.4 C1253.6,525.2 1258.0,521.2 1262.2,514.0" stroke="#1e80ee" stroke-width="5.8" stroke-dasharray="6.5,12.5" stroke-linecap="round" fill="none"/>
<path d="M1144.2,873.0 C1149.7,862.9 1161.3,839.7 1177.2,812.1 C1193.1,784.5 1212.1,749.7 1239.7,707.2 C1267.3,664.8 1321.5,589.6 1342.7,557.4 C1363.9,525.2 1363.0,521.2 1367.0,514.0" stroke="#f8d0a8" stroke-width="1.2" fill="none"/>
<path d="M1144.2,873.0 C1149.7,862.9 1161.3,839.7 1177.2,812.1 C1193.1,784.5 1212.1,749.7 1239.7,707.2 C1267.3,664.8 1321.5,589.6 1342.7,557.4 C1363.9,525.2 1363.0,521.2 1367.0,514.0" stroke="#1e80ee" stroke-width="5.8" stroke-dasharray="6.5,12.5" stroke-linecap="round" fill="none"/>
</g>
<rect x="1020.8" y="514.8" width="358.0" height="357.20000000000005" fill="none" stroke="#000" stroke-width="1.6"/>
<path d="M1100.9,812.1 L1122.3,812.1 M1100.9,805.6 L1100.9,818.6 M1122.3,805.6 L1122.3,818.6" stroke="#14dc14" stroke-width="2.6" fill="none"/><circle cx="1111.6" cy="812.1" r="2.3" fill="#c8ffc0"/>
<path d="M1149.2,707.2 L1172.8,707.2 M1149.2,700.7 L1149.2,713.7 M1172.8,700.7 L1172.8,713.7" stroke="#14dc14" stroke-width="2.6" fill="none"/><circle cx="1161" cy="707.2" r="2.3" fill="#c8ffc0"/>
<path d="M1223.2,557.4 L1250.2,557.4 M1223.2,550.9 L1223.2,563.9 M1250.2,550.9 L1250.2,563.9" stroke="#14dc14" stroke-width="2.6" fill="none"/><circle cx="1236.7" cy="557.4" r="2.3" fill="#c8ffc0"/>
<path d="M1168.6,812.1 L1185.8,812.1 M1168.6,805.6 L1168.6,818.6 M1185.8,805.6 L1185.8,818.6" stroke="#14dc14" stroke-width="2.6" fill="none"/><circle cx="1177.2" cy="812.1" r="2.3" fill="#c8ffc0"/>
<path d="M1230.3,707.2 L1249.1,707.2 M1230.3,700.7 L1230.3,713.7 M1249.1,700.7 L1249.1,713.7" stroke="#14dc14" stroke-width="2.6" fill="none"/><circle cx="1239.7" cy="707.2" r="2.3" fill="#c8ffc0"/>
<path d="M1331.5,557.4 L1353.9,557.4 M1331.5,550.9 L1331.5,563.9 M1353.9,550.9 L1353.9,563.9" stroke="#14dc14" stroke-width="2.6" fill="none"/><circle cx="1342.7" cy="557.4" r="2.3" fill="#c8ffc0"/>
<text x="1209.3" y="651" font-size="25" fill="#1e80ee">TM<tspan font-size="17" dy="7.5">0</tspan></text>
<text x="1272.3" y="692.8" font-size="25" fill="#1e80ee">TE<tspan font-size="17" dy="7.5">0</tspan></text>
<rect x="1073" y="493.3" width="245.6" height="13.6" fill="url(#cbg)" stroke="#000" stroke-width="1.7"/>
<text x="1074.8" y="479.9" font-size="29" text-anchor="middle">Min</text>
<text x="1320" y="479.9" font-size="29" text-anchor="middle">Max</text>
<text x="1141.5" y="468.9" font-size="29">Im(<tspan font-style="italic">r</tspan><tspan font-size="21" dy="6">p</tspan><tspan dy="-6"> + </tspan><tspan font-style="italic">r</tspan><tspan font-size="21" dy="6">s</tspan><tspan dy="-6">)</tspan></text>
<path d="M1036.4,872 L1036.4,877" stroke="#000" stroke-width="1.5"/>
<text x="1036.4" y="912.4" font-size="29" text-anchor="middle">10</text>
<path d="M1185.6,872 L1185.6,877" stroke="#000" stroke-width="1.5"/>
<text x="1185.6" y="912.4" font-size="29" text-anchor="middle">20</text>
<path d="M1334.4,872 L1334.4,877" stroke="#000" stroke-width="1.5"/>
<text x="1334.4" y="912.4" font-size="29" text-anchor="middle">30</text>
<path d="M1020.8,872.0 L1015.8,872.0" stroke="#000" stroke-width="1.5"/>
<text x="1009.5" y="882.28" font-size="29" text-anchor="end">9</text>
<path d="M1020.8,752.9 L1015.8,752.9" stroke="#000" stroke-width="1.5"/>
<text x="1009.5" y="763.2199999999999" font-size="29" text-anchor="end">11</text>
<path d="M1020.8,633.9 L1015.8,633.9" stroke="#000" stroke-width="1.5"/>
<text x="1009.5" y="644.1599999999999" font-size="29" text-anchor="end">13</text>
<path d="M1020.8,514.8 L1015.8,514.8" stroke="#000" stroke-width="1.5"/>
<text x="1009.5" y="525.0999999999999" font-size="29" text-anchor="end">15</text>
<text x="1200.1" y="956.6" font-size="29" text-anchor="middle"><tspan font-style="italic">a</tspan>-axis momentum,</text>
<text x="1118" y="992.1" font-size="29"><tspan font-style="italic">q</tspan><tspan font-size="21" dy="7.5">a</tspan><tspan dy="-7.5"> (10</tspan><tspan font-size="20.5" dy="-12.5">3</tspan><tspan dy="12.5"> cm</tspan><tspan font-size="20.5" dy="-12.5">−1</tspan><tspan dy="12.5">)</tspan></text>
<text x="947.8" y="693.8" font-size="29" text-anchor="middle" transform="rotate(-90 947.8 693.8)">Photon energy, <tspan font-style="italic">E</tspan> (10<tspan font-size="20.5" dy="-13">3</tspan><tspan dy="13"> cm</tspan><tspan font-size="20.5" dy="-13">−1</tspan><tspan dy="13">)</tspan></text>
<g clip-path="url(#cliph)">
<rect x="1525.2" y="514.8" width="357.0999999999999" height="357.20000000000005" fill="#3a0000"/>
<path d="M1568.0,514.0 C1576.4,514.0 1616.3,490.0 1618.5,514.0 C1620.7,538.0 1587.2,635.1 1581.0,657.9 C1574.8,680.6 1581.6,655.4 1581.0,650.5 C1580.4,645.6 1580.1,633.8 1577.3,628.3 C1574.5,622.8 1569.0,621.5 1564.4,617.2 C1559.8,612.9 1552.4,607.9 1549.6,602.4 C1546.8,596.9 1547.4,592.0 1547.7,584.0 C1548.0,576.0 1550.8,559.3 1551.4,554.4 Z" fill="#000"/>
<path d="M1524.0,746.6 L1545.0,748.0 L1557.5,751.0 L1527.4,872.0 L1524.0,872.0 Z" fill="#000"/>
<path d="M1618.3,514.8 L1725.2,514.8 L1723.9,518.4 L1617.4,518.4 Z" fill="url(#bdh0)"/>
<path d="M1617.4,517.8 L1723.9,517.8 L1722.6,521.4 L1616.6,521.4 Z" fill="url(#bdh1)"/>
<path d="M1616.6,520.8 L1722.6,520.8 L1721.3,524.4 L1615.8,524.4 Z" fill="url(#bdh2)"/>
<path d="M1615.8,523.8 L1721.3,523.8 L1720.0,527.4 L1614.9,527.4 Z" fill="url(#bdh3)"/>
<path d="M1614.9,526.8 L1720.0,526.8 L1718.8,530.4 L1614.1,530.4 Z" fill="url(#bdh4)"/>
<path d="M1614.1,529.8 L1718.8,529.8 L1717.5,533.4 L1613.2,533.4 Z" fill="url(#bdh5)"/>
<path d="M1613.2,532.8 L1717.5,532.8 L1716.2,536.4 L1612.4,536.4 Z" fill="url(#bdh6)"/>
<path d="M1612.4,535.8 L1716.2,535.8 L1714.9,539.4 L1611.5,539.4 Z" fill="url(#bdh7)"/>
<path d="M1611.5,538.8 L1714.9,538.8 L1713.6,542.4 L1610.7,542.4 Z" fill="url(#bdh8)"/>
<path d="M1610.7,541.8 L1713.6,541.8 L1712.4,545.4 L1609.9,545.4 Z" fill="url(#bdh9)"/>
<path d="M1609.9,544.8 L1712.4,544.8 L1711.1,548.4 L1609.0,548.4 Z" fill="url(#bdh10)"/>
<path d="M1609.0,547.8 L1711.1,547.8 L1709.8,551.4 L1608.2,551.4 Z" fill="url(#bdh11)"/>
<path d="M1608.2,550.8 L1709.8,550.8 L1708.5,554.4 L1607.3,554.4 Z" fill="url(#bdh12)"/>
<path d="M1607.3,553.8 L1708.5,553.8 L1707.2,557.4 L1606.6,557.4 Z" fill="url(#bdh13)"/>
<path d="M1606.6,556.8 L1707.2,556.8 L1706.0,560.4 L1606.0,560.4 Z" fill="url(#bdh14)"/>
<path d="M1606.0,559.8 L1706.0,559.8 L1704.7,563.4 L1605.3,563.4 Z" fill="url(#bdh15)"/>
<path d="M1605.3,562.8 L1704.7,562.8 L1703.5,566.4 L1604.7,566.4 Z" fill="url(#bdh16)"/>
<path d="M1604.7,565.8 L1703.5,565.8 L1702.2,569.4 L1604.0,569.4 Z" fill="url(#bdh17)"/>
<path d="M1604.0,568.8 L1702.2,568.8 L1700.9,572.4 L1603.4,572.4 Z" fill="url(#bdh18)"/>
<path d="M1603.4,571.8 L1700.9,571.8 L1699.7,575.4 L1602.7,575.4 Z" fill="url(#bdh19)"/>
<path d="M1602.7,574.8 L1699.7,574.8 L1698.4,578.4 L1602.1,578.4 Z" fill="url(#bdh20)"/>
<path d="M1602.1,577.8 L1698.4,577.8 L1697.2,581.4 L1601.4,581.4 Z" fill="url(#bdh21)"/>
<path d="M1601.4,580.8 L1697.2,580.8 L1696.2,584.4 L1600.7,584.4 Z" fill="url(#bdh22)"/>
<path d="M1600.7,583.8 L1696.2,583.8 L1695.2,587.4 L1600.0,587.4 Z" fill="url(#bdh23)"/>
<path d="M1600.0,586.8 L1695.2,586.8 L1694.2,590.4 L1599.3,590.4 Z" fill="url(#bdh24)"/>
<path d="M1599.3,589.8 L1694.2,589.8 L1693.2,593.4 L1598.6,593.4 Z" fill="url(#bdh25)"/>
<path d="M1598.6,592.8 L1693.2,592.8 L1692.2,596.4 L1597.9,596.4 Z" fill="url(#bdh26)"/>
<path d="M1597.9,595.8 L1692.2,595.8 L1691.2,599.4 L1597.2,599.4 Z" fill="url(#bdh27)"/>
<path d="M1597.2,598.8 L1691.2,598.8 L1690.2,602.4 L1596.5,602.4 Z" fill="url(#bdh28)"/>
<path d="M1596.5,601.8 L1690.2,601.8 L1689.2,605.4 L1595.8,605.4 Z" fill="url(#bdh29)"/>
<path d="M1595.8,604.8 L1689.2,604.8 L1688.2,608.4 L1595.1,608.4 Z" fill="url(#bdh30)"/>
<path d="M1595.1,607.8 L1688.2,607.8 L1687.2,611.4 L1594.4,611.4 Z" fill="url(#bdh31)"/>
<path d="M1594.4,610.8 L1687.2,610.8 L1686.2,614.4 L1593.7,614.4 Z" fill="url(#bdh32)"/>
<path d="M1593.7,613.8 L1686.2,613.8 L1685.2,617.4 L1593.0,617.4 Z" fill="url(#bdh33)"/>
<path d="M1593.0,616.8 L1685.2,616.8 L1684.2,620.4 L1592.3,620.4 Z" fill="url(#bdh34)"/>
<path d="M1592.3,619.8 L1684.2,619.8 L1683.2,623.4 L1591.6,623.4 Z" fill="url(#bdh35)"/>
<path d="M1591.6,622.8 L1683.2,622.8 L1682.2,626.4 L1590.9,626.4 Z" fill="url(#bdh36)"/>
<path d="M1590.9,625.8 L1682.2,625.8 L1681.2,629.4 L1590.2,629.4 Z" fill="url(#bdh37)"/>
<path d="M1590.2,628.8 L1681.2,628.8 L1680.0,632.4 L1589.5,632.4 Z" fill="url(#bdh38)"/>
<path d="M1589.5,631.8 L1680.0,631.8 L1678.8,635.4 L1588.7,635.4 Z" fill="url(#bdh39)"/>
<path d="M1588.7,634.8 L1678.8,634.8 L1677.6,638.4 L1588.0,638.4 Z" fill="url(#bdh40)"/>
<path d="M1588.0,637.8 L1677.6,637.8 L1676.4,641.4 L1587.2,641.4 Z" fill="url(#bdh41)"/>
<path d="M1587.2,640.8 L1676.4,640.8 L1675.2,644.4 L1586.5,644.4 Z" fill="url(#bdh42)"/>
<path d="M1586.5,643.8 L1675.2,643.8 L1674.0,647.4 L1585.7,647.4 Z" fill="url(#bdh43)"/>
<path d="M1585.7,646.8 L1674.0,646.8 L1672.8,650.4 L1585.0,650.4 Z" fill="url(#bdh44)"/>
<path d="M1585.0,649.8 L1672.8,649.8 L1671.6,653.4 L1584.2,653.4 Z" fill="url(#bdh45)"/>
<path d="M1584.2,652.8 L1671.6,652.8 L1670.4,656.4 L1583.5,656.4 Z" fill="url(#bdh46)"/>
<path d="M1583.5,655.8 L1670.4,655.8 L1669.2,659.4 L1582.7,659.4 Z" fill="url(#bdh47)"/>
<path d="M1582.7,658.8 L1669.2,658.8 L1668.0,662.4 L1582.0,662.4 Z" fill="url(#bdh48)"/>
<path d="M1582.0,661.8 L1668.0,661.8 L1666.9,665.4 L1581.2,665.4 Z" fill="url(#bdh49)"/>
<path d="M1581.2,664.8 L1666.9,664.8 L1665.7,668.4 L1580.5,668.4 Z" fill="url(#bdh50)"/>
<path d="M1580.5,667.8 L1665.7,667.8 L1664.5,671.4 L1579.8,671.4 Z" fill="url(#bdh51)"/>
<path d="M1579.8,670.8 L1664.5,670.8 L1663.4,674.4 L1579.0,674.4 Z" fill="url(#bdh52)"/>
<path d="M1579.0,673.8 L1663.4,673.8 L1662.2,677.4 L1578.3,677.4 Z" fill="url(#bdh53)"/>
<path d="M1578.3,676.8 L1662.2,676.8 L1661.1,680.4 L1577.5,680.4 Z" fill="url(#bdh54)"/>
<path d="M1577.5,679.8 L1661.1,679.8 L1659.8,683.4 L1576.8,683.4 Z" fill="url(#bdh55)"/>
<path d="M1576.8,682.8 L1659.8,682.8 L1658.6,686.4 L1576.0,686.4 Z" fill="url(#bdh56)"/>
<path d="M1576.0,685.8 L1658.6,685.8 L1657.3,689.4 L1575.2,689.4 Z" fill="url(#bdh57)"/>
<path d="M1575.2,688.8 L1657.3,688.8 L1656.1,692.4 L1574.5,692.4 Z" fill="url(#bdh58)"/>
<path d="M1574.5,691.8 L1656.1,691.8 L1655.0,695.4 L1573.7,695.4 Z" fill="url(#bdh59)"/>
<path d="M1573.7,694.8 L1655.0,694.8 L1653.9,698.4 L1573.0,698.4 Z" fill="url(#bdh60)"/>
<path d="M1573.0,697.8 L1653.9,697.8 L1652.9,701.4 L1572.3,701.4 Z" fill="url(#bdh61)"/>
<path d="M1572.3,700.8 L1652.9,700.8 L1651.8,704.4 L1571.5,704.4 Z" fill="url(#bdh62)"/>
<path d="M1571.5,703.8 L1651.8,703.8 L1650.6,707.4 L1570.8,707.4 Z" fill="url(#bdh63)"/>
<path d="M1570.8,706.8 L1650.6,706.8 L1649.3,710.4 L1570.0,710.4 Z" fill="url(#bdh64)"/>
<path d="M1570.0,709.8 L1649.3,709.8 L1648.0,713.4 L1569.3,713.4 Z" fill="url(#bdh65)"/>
<path d="M1569.3,712.8 L1648.0,712.8 L1646.6,716.4 L1568.5,716.4 Z" fill="url(#bdh66)"/>
<path d="M1568.5,715.8 L1646.6,715.8 L1645.3,719.4 L1567.7,719.4 Z" fill="url(#bdh67)"/>
<path d="M1567.7,718.8 L1645.3,718.8 L1644.0,722.4 L1567.0,722.4 Z" fill="url(#bdh68)"/>
<path d="M1567.0,721.8 L1644.0,721.8 L1642.8,725.4 L1566.2,725.4 Z" fill="url(#bdh69)"/>
<path d="M1566.2,724.8 L1642.8,724.8 L1641.8,728.4 L1565.3,728.4 Z" fill="url(#bdh70)"/>
<path d="M1565.3,727.8 L1641.8,727.8 L1640.9,731.4 L1564.5,731.4 Z" fill="url(#bdh71)"/>
<path d="M1564.5,730.8 L1640.9,730.8 L1640.0,734.4 L1563.6,734.4 Z" fill="url(#bdh72)"/>
<path d="M1563.6,733.8 L1640.0,733.8 L1639.0,737.4 L1562.8,737.4 Z" fill="url(#bdh73)"/>
<path d="M1562.8,736.8 L1639.0,736.8 L1638.1,740.4 L1562.0,740.4 Z" fill="url(#bdh74)"/>
<path d="M1562.0,739.8 L1638.1,739.8 L1637.2,743.4 L1561.1,743.4 Z" fill="url(#bdh75)"/>
<path d="M1561.1,742.8 L1637.2,742.8 L1636.3,746.4 L1560.3,746.4 Z" fill="url(#bdh76)"/>
<path d="M1560.3,745.8 L1636.3,745.8 L1635.3,749.4 L1559.4,749.4 Z" fill="url(#bdh77)"/>
<path d="M1559.4,748.8 L1635.3,748.8 L1634.4,752.4 L1558.6,752.4 Z" fill="url(#bdh78)"/>
<path d="M1558.6,751.8 L1634.4,751.8 L1633.5,755.4 L1557.7,755.4 Z" fill="url(#bdh79)"/>
<path d="M1557.7,754.8 L1633.5,754.8 L1632.5,758.4 L1556.9,758.4 Z" fill="url(#bdh80)"/>
<path d="M1556.9,757.8 L1632.5,757.8 L1631.6,761.4 L1556.0,761.4 Z" fill="url(#bdh81)"/>
<path d="M1556.0,760.8 L1631.6,760.8 L1630.7,764.4 L1555.2,764.4 Z" fill="url(#bdh82)"/>
<path d="M1555.2,763.8 L1630.7,763.8 L1629.8,767.4 L1554.3,767.4 Z" fill="url(#bdh83)"/>
<path d="M1554.3,766.8 L1629.8,766.8 L1628.8,770.4 L1553.5,770.4 Z" fill="url(#bdh84)"/>
<path d="M1553.5,769.8 L1628.8,769.8 L1627.9,773.4 L1552.7,773.4 Z" fill="url(#bdh85)"/>
<path d="M1552.7,772.8 L1627.9,772.8 L1627.0,776.4 L1551.8,776.4 Z" fill="url(#bdh86)"/>
<path d="M1551.8,775.8 L1627.0,775.8 L1626.1,779.4 L1551.0,779.4 Z" fill="url(#bdh87)"/>
<path d="M1551.0,778.8 L1626.1,778.8 L1625.1,782.4 L1550.1,782.4 Z" fill="url(#bdh88)"/>
<path d="M1550.1,781.8 L1625.1,781.8 L1624.2,785.4 L1549.3,785.4 Z" fill="url(#bdh89)"/>
<path d="M1549.3,784.8 L1624.2,784.8 L1623.3,788.4 L1548.4,788.4 Z" fill="url(#bdh90)"/>
<path d="M1548.4,787.8 L1623.3,787.8 L1622.3,791.4 L1547.6,791.4 Z" fill="url(#bdh91)"/>
<path d="M1547.6,790.8 L1622.3,790.8 L1621.4,794.4 L1546.7,794.4 Z" fill="url(#bdh92)"/>
<path d="M1546.7,793.8 L1621.4,793.8 L1620.5,797.4 L1545.9,797.4 Z" fill="url(#bdh93)"/>
<path d="M1545.9,796.8 L1620.5,796.8 L1619.6,800.4 L1545.1,800.4 Z" fill="url(#bdh94)"/>
<path d="M1545.1,799.8 L1619.6,799.8 L1618.4,803.4 L1544.3,803.4 Z" fill="url(#bdh95)"/>
<path d="M1544.3,802.8 L1618.4,802.8 L1617.2,806.4 L1543.5,806.4 Z" fill="url(#bdh96)"/>
<path d="M1543.5,805.8 L1617.2,805.8 L1615.9,809.4 L1542.8,809.4 Z" fill="url(#bdh97)"/>
<path d="M1542.8,808.8 L1615.9,808.8 L1614.7,812.4 L1542.0,812.4 Z" fill="url(#bdh98)"/>
<path d="M1542.0,811.8 L1614.7,811.8 L1613.5,815.4 L1541.2,815.4 Z" fill="url(#bdh99)"/>
<path d="M1541.2,814.8 L1613.5,814.8 L1612.3,818.4 L1540.5,818.4 Z" fill="url(#bdh100)"/>
<path d="M1540.5,817.8 L1612.3,817.8 L1611.1,821.4 L1539.7,821.4 Z" fill="url(#bdh101)"/>
<path d="M1539.7,820.8 L1611.1,820.8 L1609.9,824.4 L1539.0,824.4 Z" fill="url(#bdh102)"/>
<path d="M1539.0,823.8 L1609.9,823.8 L1608.7,827.4 L1538.2,827.4 Z" fill="url(#bdh103)"/>
<path d="M1538.2,826.8 L1608.7,826.8 L1607.5,830.4 L1537.4,830.4 Z" fill="url(#bdh104)"/>
<path d="M1537.4,829.8 L1607.5,829.8 L1606.2,833.4 L1536.7,833.4 Z" fill="url(#bdh105)"/>
<path d="M1536.7,832.8 L1606.2,832.8 L1605.0,836.4 L1535.9,836.4 Z" fill="url(#bdh106)"/>
<path d="M1535.9,835.8 L1605.0,835.8 L1603.8,839.4 L1535.2,839.4 Z" fill="url(#bdh107)"/>
<path d="M1535.2,838.8 L1603.8,838.8 L1602.6,842.4 L1534.4,842.4 Z" fill="url(#bdh108)"/>
<path d="M1534.4,841.8 L1602.6,841.8 L1601.4,845.4 L1533.6,845.4 Z" fill="url(#bdh109)"/>
<path d="M1533.6,844.8 L1601.4,844.8 L1600.2,848.4 L1532.9,848.4 Z" fill="url(#bdh110)"/>
<path d="M1532.9,847.8 L1600.2,847.8 L1599.0,851.4 L1532.1,851.4 Z" fill="url(#bdh111)"/>
<path d="M1532.1,850.8 L1599.0,850.8 L1597.8,854.4 L1531.4,854.4 Z" fill="url(#bdh112)"/>
<path d="M1531.4,853.8 L1597.8,853.8 L1596.5,857.4 L1530.6,857.4 Z" fill="url(#bdh113)"/>
<path d="M1530.6,856.8 L1596.5,856.8 L1595.3,860.4 L1529.8,860.4 Z" fill="url(#bdh114)"/>
<path d="M1529.8,859.8 L1595.3,859.8 L1594.1,863.4 L1529.1,863.4 Z" fill="url(#bdh115)"/>
<path d="M1529.1,862.8 L1594.1,862.8 L1592.9,866.4 L1528.3,866.4 Z" fill="url(#bdh116)"/>
<path d="M1528.3,865.8 L1592.9,865.8 L1591.7,869.4 L1527.6,869.4 Z" fill="url(#bdh117)"/>
<path d="M1527.6,868.8 L1591.7,868.8 L1590.5,872.4 L1526.8,872.4 Z" fill="url(#bdh118)"/>
<path d="M1526.8,871.8 L1590.5,871.8 L1590.4,872.6 L1526.8,872.6 Z" fill="url(#bdh119)"/>
<path d="M1593.7,873.0 C1597.3,862.9 1603.2,839.8 1615.4,812.2 C1627.6,784.6 1643.3,750.1 1666.7,707.6 C1690.1,665.1 1737.5,589.7 1755.9,557.4 C1774.3,525.1 1773.7,521.2 1777.3,514.0" stroke="#f8d0a8" stroke-width="1.2" fill="none"/>
<path d="M1593.7,873.0 C1597.3,862.9 1603.2,839.8 1615.4,812.2 C1627.6,784.6 1643.3,750.1 1666.7,707.6 C1690.1,665.1 1737.5,589.7 1755.9,557.4 C1774.3,525.1 1773.7,521.2 1777.3,514.0" stroke="#1e80ee" stroke-width="5.8" stroke-dasharray="6.5,12.5" stroke-linecap="round" fill="none"/>
<path d="M1644.3,873.0 C1650.7,862.9 1666.6,839.8 1682.9,812.2 C1699.2,784.6 1717.2,750.1 1742.4,707.6 C1767.6,665.1 1813.4,589.7 1834.2,557.4 C1855.0,525.1 1861.7,521.2 1867.2,514.0" stroke="#f8d0a8" stroke-width="1.2" fill="none"/>
<path d="M1644.3,873.0 C1650.7,862.9 1666.6,839.8 1682.9,812.2 C1699.2,784.6 1717.2,750.1 1742.4,707.6 C1767.6,665.1 1813.4,589.7 1834.2,557.4 C1855.0,525.1 1861.7,521.2 1867.2,514.0" stroke="#1e80ee" stroke-width="5.8" stroke-dasharray="6.5,12.5" stroke-linecap="round" fill="none"/>
</g>
<rect x="1525.2" y="514.8" width="357.0999999999999" height="357.20000000000005" fill="none" stroke="#000" stroke-width="1.6"/>
<path d="M1604.2,812.2 L1626.6,812.2 M1604.2,805.7 L1604.2,818.7 M1626.6,805.7 L1626.6,818.7" stroke="#14dc14" stroke-width="2.6" fill="none"/><circle cx="1615.4" cy="812.2" r="2.3" fill="#c8ffc0"/>
<path d="M1654.3,707.6 L1679.1,707.6 M1654.3,701.1 L1654.3,714.1 M1679.1,701.1 L1679.1,714.1" stroke="#14dc14" stroke-width="2.6" fill="none"/><circle cx="1666.7" cy="707.6" r="2.3" fill="#c8ffc0"/>
<path d="M1741.9,557.4 L1769.9,557.4 M1741.9,550.9 L1741.9,563.9 M1769.9,550.9 L1769.9,563.9" stroke="#14dc14" stroke-width="2.6" fill="none"/><circle cx="1755.9" cy="557.4" r="2.3" fill="#c8ffc0"/>
<path d="M1673.9,812.2 L1691.9,812.2 M1673.9,805.7 L1673.9,818.7 M1691.9,805.7 L1691.9,818.7" stroke="#14dc14" stroke-width="2.6" fill="none"/><circle cx="1682.9" cy="812.2" r="2.3" fill="#c8ffc0"/>
<path d="M1732.4,707.6 L1752.4,707.6 M1732.4,701.1 L1732.4,714.1 M1752.4,701.1 L1752.4,714.1" stroke="#14dc14" stroke-width="2.6" fill="none"/><circle cx="1742.4" cy="707.6" r="2.3" fill="#c8ffc0"/>
<path d="M1822.6,557.4 L1845.8,557.4 M1822.6,550.9 L1822.6,563.9 M1845.8,550.9 L1845.8,563.9" stroke="#14dc14" stroke-width="2.6" fill="none"/><circle cx="1834.2" cy="557.4" r="2.3" fill="#c8ffc0"/>
<text x="1722" y="643.6" font-size="25" fill="#1e80ee">TM<tspan font-size="17" dy="7.5">0</tspan></text>
<text x="1783.8" y="686.7" font-size="25" fill="#1e80ee">TE<tspan font-size="17" dy="7.5">0</tspan></text>
<rect x="1576.6" y="493.3" width="245.6" height="13.6" fill="url(#cbh)" stroke="#000" stroke-width="1.7"/>
<text x="1578.4" y="479.9" font-size="29" text-anchor="middle">Min</text>
<text x="1823.6" y="479.9" font-size="29" text-anchor="middle">Max</text>
<text x="1645.1" y="468.9" font-size="29">Im(<tspan font-style="italic">r</tspan><tspan font-size="21" dy="6">p</tspan><tspan dy="-6"> + </tspan><tspan font-style="italic">r</tspan><tspan font-size="21" dy="6">s</tspan><tspan dy="-6">)</tspan></text>
<path d="M1540.5,872 L1540.5,877" stroke="#000" stroke-width="1.5"/>
<text x="1540.5" y="912.4" font-size="29" text-anchor="middle">10</text>
<path d="M1696,872 L1696,877" stroke="#000" stroke-width="1.5"/>
<text x="1696" y="912.4" font-size="29" text-anchor="middle">20</text>
<path d="M1851.1,872 L1851.1,877" stroke="#000" stroke-width="1.5"/>
<text x="1851.1" y="912.4" font-size="29" text-anchor="middle">30</text>
<path d="M1525.2,872.0 L1520.2,872.0" stroke="#000" stroke-width="1.5"/>
<text x="1508.5" y="882.28" font-size="29" text-anchor="end">9</text>
<path d="M1525.2,752.9 L1520.2,752.9" stroke="#000" stroke-width="1.5"/>
<text x="1508.5" y="763.2199999999999" font-size="29" text-anchor="end">11</text>
<path d="M1525.2,633.9 L1520.2,633.9" stroke="#000" stroke-width="1.5"/>
<text x="1508.5" y="644.1599999999999" font-size="29" text-anchor="end">13</text>
<path d="M1525.2,514.8 L1520.2,514.8" stroke="#000" stroke-width="1.5"/>
<text x="1508.5" y="525.0999999999999" font-size="29" text-anchor="end">15</text>
<text x="1703.6999999999998" y="956.6" font-size="29" text-anchor="middle"><tspan font-style="italic">b</tspan>-axis momentum,</text>
<text x="1621.6" y="992.1" font-size="29"><tspan font-style="italic">q</tspan><tspan font-size="21" dy="7.5">b</tspan><tspan dy="-7.5"> (10</tspan><tspan font-size="20.5" dy="-12.5">3</tspan><tspan dy="12.5"> cm</tspan><tspan font-size="20.5" dy="-12.5">−1</tspan><tspan dy="12.5">)</tspan></text>
<text x="1446.8" y="692.3" font-size="29" text-anchor="middle" transform="rotate(-90 1446.8 692.3)">Photon energy, <tspan font-style="italic">E</tspan> (10<tspan font-size="20.5" dy="-13">3</tspan><tspan dy="13"> cm</tspan><tspan font-size="20.5" dy="-13">−1</tspan><tspan dy="13">)</tspan></text>
<text x="2.7" y="30.4" font-size="42" font-weight="bold">a</text>
<text x="435.5" y="30.6" font-size="42" font-weight="bold">b</text>
<text x="931" y="30.6" font-size="42" font-weight="bold">c</text>
<text x="1431" y="29.8" font-size="42" font-weight="bold">d</text>
<text x="2.5" y="467.5" font-size="42" font-weight="bold">e</text>
<text x="484" y="467" font-size="42" font-weight="bold">f</text>
<text x="908" y="466.6" font-size="42" font-weight="bold">g</text>
<text x="1408.7" y="466.7" font-size="42" font-weight="bold">h</text>
</svg></body></html>
